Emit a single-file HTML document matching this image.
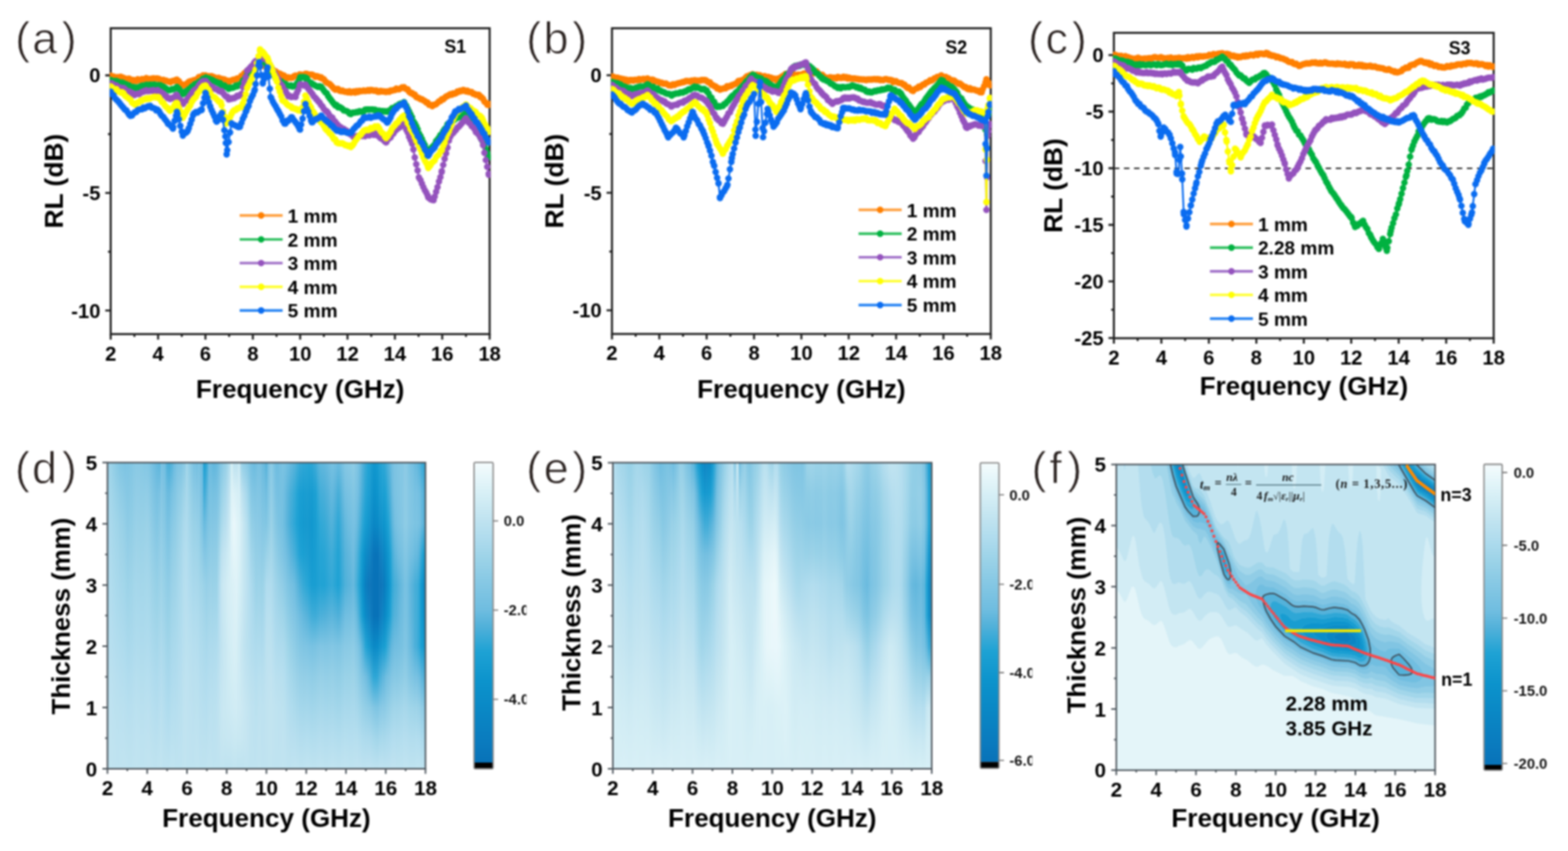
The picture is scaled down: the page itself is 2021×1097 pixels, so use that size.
<!DOCTYPE html><html><head><meta charset="utf-8"><title>RL figure</title><style>html,body{margin:0;padding:0;background:#fff;width:2021px;height:1097px;overflow:hidden}svg{display:block}text{font-family:"Liberation Sans",Arial,sans-serif}</style></head><body><div style="filter:blur(1px)"><svg width="2021" height="1097" viewBox="0 0 2021 1097"><rect width="2021" height="1097" fill="#fff"/><defs><linearGradient id="d0" x2="0" y1="1"><stop offset=".00" stop-color="#bfe3f0"/><stop offset=".10" stop-color="#bee2f0"/><stop offset=".20" stop-color="#bde2f0"/><stop offset=".30" stop-color="#bae1ef"/><stop offset=".40" stop-color="#b7dfef"/><stop offset=".50" stop-color="#b4deee"/><stop offset=".60" stop-color="#b1dcee"/><stop offset=".70" stop-color="#aedbed"/><stop offset=".80" stop-color="#abdaec"/><stop offset=".90" stop-color="#a6d8eb"/><stop offset="1.00" stop-color="#a2d6ea"/></linearGradient><linearGradient id="d1" x2="0" y1="1"><stop offset=".00" stop-color="#bfe3f0"/><stop offset=".10" stop-color="#bee2f0"/><stop offset=".20" stop-color="#bde2f0"/><stop offset=".30" stop-color="#b9e0ef"/><stop offset=".40" stop-color="#b5deef"/><stop offset=".50" stop-color="#b2ddee"/><stop offset=".60" stop-color="#afdcee"/><stop offset=".70" stop-color="#acdaed"/><stop offset=".80" stop-color="#a8d8ec"/><stop offset=".90" stop-color="#a2d6ea"/><stop offset="1.00" stop-color="#9bd2e8"/></linearGradient><linearGradient id="d2" x2="0" y1="1"><stop offset=".00" stop-color="#bfe3f0"/><stop offset=".10" stop-color="#bee2f0"/><stop offset=".20" stop-color="#bce1f0"/><stop offset=".30" stop-color="#b9e0ef"/><stop offset=".40" stop-color="#b4deef"/><stop offset=".50" stop-color="#b1dcee"/><stop offset=".60" stop-color="#addbed"/><stop offset=".70" stop-color="#a9d9ec"/><stop offset=".80" stop-color="#a5d7eb"/><stop offset=".90" stop-color="#9ed4e9"/><stop offset="1.00" stop-color="#94cfe7"/></linearGradient><linearGradient id="d3" x2="0" y1="1"><stop offset=".00" stop-color="#bfe3f0"/><stop offset=".10" stop-color="#bee2f0"/><stop offset=".20" stop-color="#bbe1ef"/><stop offset=".30" stop-color="#b8dfef"/><stop offset=".40" stop-color="#b3ddee"/><stop offset=".50" stop-color="#afdcee"/><stop offset=".60" stop-color="#abdaec"/><stop offset=".70" stop-color="#a7d8eb"/><stop offset=".80" stop-color="#a2d6ea"/><stop offset=".90" stop-color="#9ad2e8"/><stop offset="1.00" stop-color="#8ecce5"/></linearGradient><linearGradient id="d4" x2="0" y1="1"><stop offset=".00" stop-color="#bfe3f0"/><stop offset=".10" stop-color="#bde2f0"/><stop offset=".20" stop-color="#bbe1ef"/><stop offset=".30" stop-color="#b7dfef"/><stop offset=".40" stop-color="#b2ddee"/><stop offset=".50" stop-color="#addbed"/><stop offset=".60" stop-color="#a9d9ec"/><stop offset=".70" stop-color="#a5d7eb"/><stop offset=".80" stop-color="#a0d5e9"/><stop offset=".90" stop-color="#96d0e7"/><stop offset="1.00" stop-color="#88c9e4"/></linearGradient><linearGradient id="d5" x2="0" y1="1"><stop offset=".00" stop-color="#bfe3f0"/><stop offset=".10" stop-color="#bde2f0"/><stop offset=".20" stop-color="#bae0ef"/><stop offset=".30" stop-color="#b5deef"/><stop offset=".40" stop-color="#b0dcee"/><stop offset=".50" stop-color="#abdaec"/><stop offset=".60" stop-color="#a6d7eb"/><stop offset=".70" stop-color="#a1d5e9"/><stop offset=".80" stop-color="#9bd2e8"/><stop offset=".90" stop-color="#91cde6"/><stop offset="1.00" stop-color="#82c6e3"/></linearGradient><linearGradient id="d6" x2="0" y1="1"><stop offset=".00" stop-color="#bfe3f0"/><stop offset=".10" stop-color="#bce1f0"/><stop offset=".20" stop-color="#b8e0ef"/><stop offset=".30" stop-color="#b3ddee"/><stop offset=".40" stop-color="#addbed"/><stop offset=".50" stop-color="#a8d8ec"/><stop offset=".60" stop-color="#a2d6ea"/><stop offset=".70" stop-color="#9dd3e8"/><stop offset=".80" stop-color="#96d0e7"/><stop offset=".90" stop-color="#8bcbe5"/><stop offset="1.00" stop-color="#7dc4e2"/></linearGradient><linearGradient id="d7" x2="0" y1="1"><stop offset=".00" stop-color="#bfe3f0"/><stop offset=".10" stop-color="#bbe1ef"/><stop offset=".20" stop-color="#b7dfef"/><stop offset=".30" stop-color="#b1ddee"/><stop offset=".40" stop-color="#abdaed"/><stop offset=".50" stop-color="#a5d7eb"/><stop offset=".60" stop-color="#9fd5e9"/><stop offset=".70" stop-color="#99d1e7"/><stop offset=".80" stop-color="#91cee6"/><stop offset=".90" stop-color="#87c8e4"/><stop offset="1.00" stop-color="#7ac2e2"/></linearGradient><linearGradient id="d8" x2="0" y1="1"><stop offset=".00" stop-color="#bfe3f0"/><stop offset=".10" stop-color="#bbe1ef"/><stop offset=".20" stop-color="#b6dfef"/><stop offset=".30" stop-color="#b0dcee"/><stop offset=".40" stop-color="#a9d9ec"/><stop offset=".50" stop-color="#a3d6ea"/><stop offset=".60" stop-color="#9cd3e8"/><stop offset=".70" stop-color="#95cfe7"/><stop offset=".80" stop-color="#8dcbe5"/><stop offset=".90" stop-color="#85c8e4"/><stop offset="1.00" stop-color="#7ec4e3"/></linearGradient><linearGradient id="d9" x2="0" y1="1"><stop offset=".00" stop-color="#bfe3f0"/><stop offset=".10" stop-color="#bbe1ef"/><stop offset=".20" stop-color="#b7dfef"/><stop offset=".30" stop-color="#b1dcee"/><stop offset=".40" stop-color="#aad9ec"/><stop offset=".50" stop-color="#a4d7ea"/><stop offset=".60" stop-color="#9ed4e9"/><stop offset=".70" stop-color="#97d0e7"/><stop offset=".80" stop-color="#8fcde6"/><stop offset=".90" stop-color="#88c9e4"/><stop offset="1.00" stop-color="#81c6e3"/></linearGradient><linearGradient id="d10" x2="0" y1="1"><stop offset=".00" stop-color="#bfe3f0"/><stop offset=".10" stop-color="#bce1ef"/><stop offset=".20" stop-color="#b8dfef"/><stop offset=".30" stop-color="#b2ddee"/><stop offset=".40" stop-color="#abdaed"/><stop offset=".50" stop-color="#a6d7eb"/><stop offset=".60" stop-color="#a0d5e9"/><stop offset=".70" stop-color="#99d1e7"/><stop offset=".80" stop-color="#91cee6"/><stop offset=".90" stop-color="#8acae5"/><stop offset="1.00" stop-color="#84c7e4"/></linearGradient><linearGradient id="d11" x2="0" y1="1"><stop offset=".00" stop-color="#bfe3f0"/><stop offset=".10" stop-color="#bce1f0"/><stop offset=".20" stop-color="#b8e0ef"/><stop offset=".30" stop-color="#b3ddee"/><stop offset=".40" stop-color="#acdaed"/><stop offset=".50" stop-color="#a7d8eb"/><stop offset=".60" stop-color="#a2d6ea"/><stop offset=".70" stop-color="#9bd2e8"/><stop offset=".80" stop-color="#94cfe7"/><stop offset=".90" stop-color="#8dcbe5"/><stop offset="1.00" stop-color="#85c8e4"/></linearGradient><linearGradient id="d12" x2="0" y1="1"><stop offset=".00" stop-color="#bfe3f0"/><stop offset=".10" stop-color="#bde2f0"/><stop offset=".20" stop-color="#b9e0ef"/><stop offset=".30" stop-color="#b4deee"/><stop offset=".40" stop-color="#addbed"/><stop offset=".50" stop-color="#a8d9ec"/><stop offset=".60" stop-color="#a3d6ea"/><stop offset=".70" stop-color="#9dd3e8"/><stop offset=".80" stop-color="#96d0e7"/><stop offset=".90" stop-color="#8fcce6"/><stop offset="1.00" stop-color="#87c8e4"/></linearGradient><linearGradient id="d13" x2="0" y1="1"><stop offset=".00" stop-color="#bfe3f0"/><stop offset=".10" stop-color="#bde2f0"/><stop offset=".20" stop-color="#b9e0ef"/><stop offset=".30" stop-color="#b4deee"/><stop offset=".40" stop-color="#aedbed"/><stop offset=".50" stop-color="#a9d9ec"/><stop offset=".60" stop-color="#a4d6ea"/><stop offset=".70" stop-color="#9dd4e8"/><stop offset=".80" stop-color="#97d0e7"/><stop offset=".90" stop-color="#90cde6"/><stop offset="1.00" stop-color="#89c9e4"/></linearGradient><linearGradient id="d14" x2="0" y1="1"><stop offset=".00" stop-color="#bfe3f0"/><stop offset=".10" stop-color="#bde2f0"/><stop offset=".20" stop-color="#b9e0ef"/><stop offset=".30" stop-color="#b4deee"/><stop offset=".40" stop-color="#aedbed"/><stop offset=".50" stop-color="#a9d9ec"/><stop offset=".60" stop-color="#a4d7ea"/><stop offset=".70" stop-color="#9ed4e9"/><stop offset=".80" stop-color="#98d1e7"/><stop offset=".90" stop-color="#90cde6"/><stop offset="1.00" stop-color="#87c9e4"/></linearGradient><linearGradient id="d15" x2="0" y1="1"><stop offset=".00" stop-color="#bfe3f0"/><stop offset=".10" stop-color="#bde2f0"/><stop offset=".20" stop-color="#b9e0ef"/><stop offset=".30" stop-color="#b4deee"/><stop offset=".40" stop-color="#aedbed"/><stop offset=".50" stop-color="#a9d9ec"/><stop offset=".60" stop-color="#a4d7ea"/><stop offset=".70" stop-color="#9fd4e9"/><stop offset=".80" stop-color="#98d1e7"/><stop offset=".90" stop-color="#8fcde6"/><stop offset="1.00" stop-color="#84c7e4"/></linearGradient><linearGradient id="d16" x2="0" y1="1"><stop offset=".00" stop-color="#bfe3f0"/><stop offset=".10" stop-color="#bde1f0"/><stop offset=".20" stop-color="#b9e0ef"/><stop offset=".30" stop-color="#b4deef"/><stop offset=".40" stop-color="#aedbed"/><stop offset=".50" stop-color="#a9d9ec"/><stop offset=".60" stop-color="#a4d7ea"/><stop offset=".70" stop-color="#9fd4e9"/><stop offset=".80" stop-color="#99d1e7"/><stop offset=".90" stop-color="#8fcce6"/><stop offset="1.00" stop-color="#81c6e3"/></linearGradient><linearGradient id="d17" x2="0" y1="1"><stop offset=".00" stop-color="#bfe3f0"/><stop offset=".10" stop-color="#bce1ef"/><stop offset=".20" stop-color="#b8dfef"/><stop offset=".30" stop-color="#b2ddee"/><stop offset=".40" stop-color="#acdaed"/><stop offset=".50" stop-color="#a6d8eb"/><stop offset=".60" stop-color="#a1d5e9"/><stop offset=".70" stop-color="#9ad2e8"/><stop offset=".80" stop-color="#93cee6"/><stop offset=".90" stop-color="#88c9e4"/><stop offset="1.00" stop-color="#7bc3e2"/></linearGradient><linearGradient id="d18" x2="0" y1="1"><stop offset=".00" stop-color="#bfe3f0"/><stop offset=".10" stop-color="#bbe1ef"/><stop offset=".20" stop-color="#b6dfef"/><stop offset=".30" stop-color="#b1dcee"/><stop offset=".40" stop-color="#aad9ec"/><stop offset=".50" stop-color="#a3d6ea"/><stop offset=".60" stop-color="#9dd3e8"/><stop offset=".70" stop-color="#95d0e7"/><stop offset=".80" stop-color="#8dcbe5"/><stop offset=".90" stop-color="#82c6e3"/><stop offset="1.00" stop-color="#75c0e1"/></linearGradient><linearGradient id="d19" x2="0" y1="1"><stop offset=".00" stop-color="#bfe3f0"/><stop offset=".10" stop-color="#bae0ef"/><stop offset=".20" stop-color="#b5deef"/><stop offset=".30" stop-color="#afdbee"/><stop offset=".40" stop-color="#a8d8eb"/><stop offset=".50" stop-color="#a1d5e9"/><stop offset=".60" stop-color="#99d2e7"/><stop offset=".70" stop-color="#91cde6"/><stop offset=".80" stop-color="#87c8e4"/><stop offset=".90" stop-color="#7cc3e2"/><stop offset="1.00" stop-color="#6ebce0"/></linearGradient><linearGradient id="d20" x2="0" y1="1"><stop offset=".00" stop-color="#bfe3f0"/><stop offset=".10" stop-color="#b9e0ef"/><stop offset=".20" stop-color="#b3ddee"/><stop offset=".30" stop-color="#addbed"/><stop offset=".40" stop-color="#a5d7eb"/><stop offset=".50" stop-color="#9ed4e8"/><stop offset=".60" stop-color="#95d0e7"/><stop offset=".70" stop-color="#8ccbe5"/><stop offset=".80" stop-color="#81c6e3"/><stop offset=".90" stop-color="#76c0e1"/><stop offset="1.00" stop-color="#63b8dd"/></linearGradient><linearGradient id="d21" x2="0" y1="1"><stop offset=".00" stop-color="#bfe3f0"/><stop offset=".10" stop-color="#bae1ef"/><stop offset=".20" stop-color="#b5deef"/><stop offset=".30" stop-color="#afdbee"/><stop offset=".40" stop-color="#a8d8eb"/><stop offset=".50" stop-color="#a0d5e9"/><stop offset=".60" stop-color="#98d1e7"/><stop offset=".70" stop-color="#90cde6"/><stop offset=".80" stop-color="#86c8e4"/><stop offset=".90" stop-color="#78c1e2"/><stop offset="1.00" stop-color="#59b4db"/></linearGradient><linearGradient id="d22" x2="0" y1="1"><stop offset=".00" stop-color="#bfe3f0"/><stop offset=".10" stop-color="#bbe1ef"/><stop offset=".20" stop-color="#b7dfef"/><stop offset=".30" stop-color="#b1dcee"/><stop offset=".40" stop-color="#aad9ec"/><stop offset=".50" stop-color="#a3d6ea"/><stop offset=".60" stop-color="#9bd3e8"/><stop offset=".70" stop-color="#94cfe7"/><stop offset=".80" stop-color="#8ccbe5"/><stop offset=".90" stop-color="#83c6e3"/><stop offset="1.00" stop-color="#78c1e2"/></linearGradient><linearGradient id="d23" x2="0" y1="1"><stop offset=".00" stop-color="#bfe3f0"/><stop offset=".10" stop-color="#bae0ef"/><stop offset=".20" stop-color="#b4deef"/><stop offset=".30" stop-color="#aedbed"/><stop offset=".40" stop-color="#a7d8eb"/><stop offset=".50" stop-color="#9fd4e9"/><stop offset=".60" stop-color="#97d1e7"/><stop offset=".70" stop-color="#8fcde6"/><stop offset=".80" stop-color="#86c8e4"/><stop offset=".90" stop-color="#7dc4e2"/><stop offset="1.00" stop-color="#73bfe1"/></linearGradient><linearGradient id="d24" x2="0" y1="1"><stop offset=".00" stop-color="#bfe3f0"/><stop offset=".10" stop-color="#b7dfef"/><stop offset=".20" stop-color="#afdcee"/><stop offset=".30" stop-color="#a8d8ec"/><stop offset=".40" stop-color="#a0d5e9"/><stop offset=".50" stop-color="#98d1e7"/><stop offset=".60" stop-color="#90cde6"/><stop offset=".70" stop-color="#85c8e4"/><stop offset=".80" stop-color="#7ac2e2"/><stop offset=".90" stop-color="#6dbcdf"/><stop offset="1.00" stop-color="#50b0d9"/></linearGradient><linearGradient id="d25" x2="0" y1="1"><stop offset=".00" stop-color="#bfe3f0"/><stop offset=".10" stop-color="#b7dfef"/><stop offset=".20" stop-color="#afdcee"/><stop offset=".30" stop-color="#a8d8ec"/><stop offset=".40" stop-color="#a1d5e9"/><stop offset=".50" stop-color="#99d2e7"/><stop offset=".60" stop-color="#91cde6"/><stop offset=".70" stop-color="#86c8e4"/><stop offset=".80" stop-color="#7bc3e2"/><stop offset=".90" stop-color="#6bbbdf"/><stop offset="1.00" stop-color="#46aed8"/></linearGradient><linearGradient id="d26" x2="0" y1="1"><stop offset=".00" stop-color="#bfe3f0"/><stop offset=".10" stop-color="#b8e0ef"/><stop offset=".20" stop-color="#b2ddee"/><stop offset=".30" stop-color="#abdaed"/><stop offset=".40" stop-color="#a5d7eb"/><stop offset=".50" stop-color="#9ed4e9"/><stop offset=".60" stop-color="#97d0e7"/><stop offset=".70" stop-color="#8ecce5"/><stop offset=".80" stop-color="#83c7e4"/><stop offset=".90" stop-color="#74c0e1"/><stop offset="1.00" stop-color="#52b1da"/></linearGradient><linearGradient id="d27" x2="0" y1="1"><stop offset=".00" stop-color="#bfe3f0"/><stop offset=".10" stop-color="#b9e0ef"/><stop offset=".20" stop-color="#b4deef"/><stop offset=".30" stop-color="#afdbee"/><stop offset=".40" stop-color="#a9d9ec"/><stop offset=".50" stop-color="#a3d6ea"/><stop offset=".60" stop-color="#9dd3e8"/><stop offset=".70" stop-color="#95d0e7"/><stop offset=".80" stop-color="#8ccbe5"/><stop offset=".90" stop-color="#7fc5e3"/><stop offset="1.00" stop-color="#6dbce0"/></linearGradient><linearGradient id="d28" x2="0" y1="1"><stop offset=".00" stop-color="#bfe3f0"/><stop offset=".10" stop-color="#bbe1ef"/><stop offset=".20" stop-color="#b7dfef"/><stop offset=".30" stop-color="#b2ddee"/><stop offset=".40" stop-color="#addbed"/><stop offset=".50" stop-color="#a8d9ec"/><stop offset=".60" stop-color="#a3d6ea"/><stop offset=".70" stop-color="#9dd3e8"/><stop offset=".80" stop-color="#95cfe7"/><stop offset=".90" stop-color="#8acae5"/><stop offset="1.00" stop-color="#7cc3e2"/></linearGradient><linearGradient id="d29" x2="0" y1="1"><stop offset=".00" stop-color="#bfe3f0"/><stop offset=".10" stop-color="#bce1f0"/><stop offset=".20" stop-color="#b9e0ef"/><stop offset=".30" stop-color="#b5deef"/><stop offset=".40" stop-color="#b1dcee"/><stop offset=".50" stop-color="#addbed"/><stop offset=".60" stop-color="#a9d9ec"/><stop offset=".70" stop-color="#a3d6ea"/><stop offset=".80" stop-color="#9cd3e8"/><stop offset=".90" stop-color="#90cde6"/><stop offset="1.00" stop-color="#7ec4e3"/></linearGradient><linearGradient id="d30" x2="0" y1="1"><stop offset=".00" stop-color="#bfe3f0"/><stop offset=".10" stop-color="#bde2f0"/><stop offset=".20" stop-color="#bbe1ef"/><stop offset=".30" stop-color="#b8dfef"/><stop offset=".40" stop-color="#b4deef"/><stop offset=".50" stop-color="#b1ddee"/><stop offset=".60" stop-color="#aedbed"/><stop offset=".70" stop-color="#aad9ec"/><stop offset=".80" stop-color="#a3d6ea"/><stop offset=".90" stop-color="#95d0e7"/><stop offset="1.00" stop-color="#81c6e3"/></linearGradient><linearGradient id="d31" x2="0" y1="1"><stop offset=".00" stop-color="#bfe3f0"/><stop offset=".10" stop-color="#bfe2f0"/><stop offset=".20" stop-color="#bee2f0"/><stop offset=".30" stop-color="#bbe1ef"/><stop offset=".40" stop-color="#b7dfef"/><stop offset=".50" stop-color="#b6deef"/><stop offset=".60" stop-color="#b4deee"/><stop offset=".70" stop-color="#b0dcee"/><stop offset=".80" stop-color="#aad9ec"/><stop offset=".90" stop-color="#9dd3e8"/><stop offset="1.00" stop-color="#88c9e4"/></linearGradient><linearGradient id="d32" x2="0" y1="1"><stop offset=".00" stop-color="#bfe3f0"/><stop offset=".10" stop-color="#bfe3f0"/><stop offset=".20" stop-color="#bfe2f0"/><stop offset=".30" stop-color="#bde2f0"/><stop offset=".40" stop-color="#bae1ef"/><stop offset=".50" stop-color="#b8dfef"/><stop offset=".60" stop-color="#b5deef"/><stop offset=".70" stop-color="#b2ddee"/><stop offset=".80" stop-color="#aedbed"/><stop offset=".90" stop-color="#a8d8eb"/><stop offset="1.00" stop-color="#a0d5e9"/></linearGradient><linearGradient id="d33" x2="0" y1="1"><stop offset=".00" stop-color="#bfe3f0"/><stop offset=".10" stop-color="#bfe2f0"/><stop offset=".20" stop-color="#bee2f0"/><stop offset=".30" stop-color="#bce1ef"/><stop offset=".40" stop-color="#b9e0ef"/><stop offset=".50" stop-color="#b5deef"/><stop offset=".60" stop-color="#b0dcee"/><stop offset=".70" stop-color="#abdaed"/><stop offset=".80" stop-color="#a5d7eb"/><stop offset=".90" stop-color="#9cd3e8"/><stop offset="1.00" stop-color="#91cee6"/></linearGradient><linearGradient id="d34" x2="0" y1="1"><stop offset=".00" stop-color="#bfe3f0"/><stop offset=".10" stop-color="#bee2f0"/><stop offset=".20" stop-color="#bde1f0"/><stop offset=".30" stop-color="#bae0ef"/><stop offset=".40" stop-color="#b7dfef"/><stop offset=".50" stop-color="#b2ddee"/><stop offset=".60" stop-color="#abdaed"/><stop offset=".70" stop-color="#a5d7eb"/><stop offset=".80" stop-color="#9dd3e8"/><stop offset=".90" stop-color="#92cee6"/><stop offset="1.00" stop-color="#84c7e4"/></linearGradient><linearGradient id="d35" x2="0" y1="1"><stop offset=".00" stop-color="#bfe3f0"/><stop offset=".10" stop-color="#bee2f0"/><stop offset=".20" stop-color="#bbe1ef"/><stop offset=".30" stop-color="#b9e0ef"/><stop offset=".40" stop-color="#b5deef"/><stop offset=".50" stop-color="#afdcee"/><stop offset=".60" stop-color="#a8d8ec"/><stop offset=".70" stop-color="#a1d5e9"/><stop offset=".80" stop-color="#98d1e7"/><stop offset=".90" stop-color="#8acae5"/><stop offset="1.00" stop-color="#78c1e2"/></linearGradient><linearGradient id="d36" x2="0" y1="1"><stop offset=".00" stop-color="#bfe3f0"/><stop offset=".10" stop-color="#bde2f0"/><stop offset=".20" stop-color="#bae1ef"/><stop offset=".30" stop-color="#b7dfef"/><stop offset=".40" stop-color="#b3ddee"/><stop offset=".50" stop-color="#addbed"/><stop offset=".60" stop-color="#a6d7eb"/><stop offset=".70" stop-color="#9ed4e9"/><stop offset=".80" stop-color="#94cfe7"/><stop offset=".90" stop-color="#85c7e4"/><stop offset="1.00" stop-color="#71bee0"/></linearGradient><linearGradient id="d37" x2="0" y1="1"><stop offset=".00" stop-color="#bfe3f0"/><stop offset=".10" stop-color="#bce1f0"/><stop offset=".20" stop-color="#b9e0ef"/><stop offset=".30" stop-color="#b5deef"/><stop offset=".40" stop-color="#b0dcee"/><stop offset=".50" stop-color="#abdaec"/><stop offset=".60" stop-color="#a3d6ea"/><stop offset=".70" stop-color="#9ad2e8"/><stop offset=".80" stop-color="#90cde6"/><stop offset=".90" stop-color="#85c7e4"/><stop offset="1.00" stop-color="#79c2e2"/></linearGradient><linearGradient id="d38" x2="0" y1="1"><stop offset=".00" stop-color="#bfe3f0"/><stop offset=".10" stop-color="#bce1ef"/><stop offset=".20" stop-color="#b8dfef"/><stop offset=".30" stop-color="#b3ddee"/><stop offset=".40" stop-color="#aedbed"/><stop offset=".50" stop-color="#a8d8eb"/><stop offset=".60" stop-color="#a0d5e9"/><stop offset=".70" stop-color="#90cde6"/><stop offset=".80" stop-color="#7fc5e3"/><stop offset=".90" stop-color="#76c0e1"/><stop offset="1.00" stop-color="#6fbde0"/></linearGradient><linearGradient id="d39" x2="0" y1="1"><stop offset=".00" stop-color="#bfe3f0"/><stop offset=".10" stop-color="#bbe1ef"/><stop offset=".20" stop-color="#b6dfef"/><stop offset=".30" stop-color="#b1dcee"/><stop offset=".40" stop-color="#abdaec"/><stop offset=".50" stop-color="#a4d6ea"/><stop offset=".60" stop-color="#9ad2e8"/><stop offset=".70" stop-color="#85c7e4"/><stop offset=".80" stop-color="#69bbdf"/><stop offset=".90" stop-color="#3dabd7"/><stop offset="1.00" stop-color="#1a9ed2"/></linearGradient><linearGradient id="d40" x2="0" y1="1"><stop offset=".00" stop-color="#bfe3f0"/><stop offset=".10" stop-color="#bae0ef"/><stop offset=".20" stop-color="#b5deef"/><stop offset=".30" stop-color="#afdcee"/><stop offset=".40" stop-color="#a8d8ec"/><stop offset=".50" stop-color="#9fd4e9"/><stop offset=".60" stop-color="#95cfe7"/><stop offset=".70" stop-color="#85c8e4"/><stop offset=".80" stop-color="#75c0e1"/><stop offset=".90" stop-color="#5ab4db"/><stop offset="1.00" stop-color="#34a8d6"/></linearGradient><linearGradient id="d41" x2="0" y1="1"><stop offset=".00" stop-color="#bfe3f0"/><stop offset=".10" stop-color="#bbe1ef"/><stop offset=".20" stop-color="#b7dfef"/><stop offset=".30" stop-color="#b1dcee"/><stop offset=".40" stop-color="#aad9ec"/><stop offset=".50" stop-color="#a1d5e9"/><stop offset=".60" stop-color="#97d0e7"/><stop offset=".70" stop-color="#89cae5"/><stop offset=".80" stop-color="#7dc4e2"/><stop offset=".90" stop-color="#73bfe1"/><stop offset="1.00" stop-color="#69badf"/></linearGradient><linearGradient id="d42" x2="0" y1="1"><stop offset=".00" stop-color="#bfe3f0"/><stop offset=".10" stop-color="#bce1f0"/><stop offset=".20" stop-color="#b9e0ef"/><stop offset=".30" stop-color="#b3ddee"/><stop offset=".40" stop-color="#acdaed"/><stop offset=".50" stop-color="#a3d6ea"/><stop offset=".60" stop-color="#99d1e7"/><stop offset=".70" stop-color="#8ecce5"/><stop offset=".80" stop-color="#82c6e3"/><stop offset=".90" stop-color="#76c1e1"/><stop offset="1.00" stop-color="#65b9de"/></linearGradient><linearGradient id="d43" x2="0" y1="1"><stop offset=".00" stop-color="#bfe3f0"/><stop offset=".10" stop-color="#bde2f0"/><stop offset=".20" stop-color="#bae1ef"/><stop offset=".30" stop-color="#b5deef"/><stop offset=".40" stop-color="#aedbed"/><stop offset=".50" stop-color="#a5d7eb"/><stop offset=".60" stop-color="#9ad2e8"/><stop offset=".70" stop-color="#90cde6"/><stop offset=".80" stop-color="#85c7e4"/><stop offset=".90" stop-color="#77c1e1"/><stop offset="1.00" stop-color="#61b7dd"/></linearGradient><linearGradient id="d44" x2="0" y1="1"><stop offset=".00" stop-color="#bfe3f0"/><stop offset=".10" stop-color="#bee2f0"/><stop offset=".20" stop-color="#bce1f0"/><stop offset=".30" stop-color="#b7dfef"/><stop offset=".40" stop-color="#b0dcee"/><stop offset=".50" stop-color="#a6d8eb"/><stop offset=".60" stop-color="#9cd3e8"/><stop offset=".70" stop-color="#92cee6"/><stop offset=".80" stop-color="#87c8e4"/><stop offset=".90" stop-color="#7ac2e2"/><stop offset="1.00" stop-color="#68bade"/></linearGradient><linearGradient id="d45" x2="0" y1="1"><stop offset=".00" stop-color="#bfe3f0"/><stop offset=".10" stop-color="#c1e3f0"/><stop offset=".20" stop-color="#c1e4f0"/><stop offset=".30" stop-color="#bee2f0"/><stop offset=".40" stop-color="#b8dfef"/><stop offset=".50" stop-color="#b5deef"/><stop offset=".60" stop-color="#b1dcee"/><stop offset=".70" stop-color="#a4d7ea"/><stop offset=".80" stop-color="#94cfe6"/><stop offset=".90" stop-color="#85c8e4"/><stop offset="1.00" stop-color="#77c1e1"/></linearGradient><linearGradient id="d46" x2="0" y1="1"><stop offset=".00" stop-color="#bfe3f0"/><stop offset=".10" stop-color="#c4e5f1"/><stop offset=".20" stop-color="#c6e6f2"/><stop offset=".30" stop-color="#c3e5f1"/><stop offset=".40" stop-color="#c0e3f0"/><stop offset=".50" stop-color="#c2e4f1"/><stop offset=".60" stop-color="#c4e5f1"/><stop offset=".70" stop-color="#bae0ef"/><stop offset=".80" stop-color="#a7d8eb"/><stop offset=".90" stop-color="#95d0e7"/><stop offset="1.00" stop-color="#83c7e4"/></linearGradient><linearGradient id="d47" x2="0" y1="1"><stop offset=".00" stop-color="#bfe3f0"/><stop offset=".10" stop-color="#c6e6f1"/><stop offset=".20" stop-color="#c9e8f2"/><stop offset=".30" stop-color="#c8e7f2"/><stop offset=".40" stop-color="#c7e7f2"/><stop offset=".50" stop-color="#c9e8f2"/><stop offset=".60" stop-color="#cce9f3"/><stop offset=".70" stop-color="#c3e4f1"/><stop offset=".80" stop-color="#b3ddee"/><stop offset=".90" stop-color="#a2d6ea"/><stop offset="1.00" stop-color="#90cde6"/></linearGradient><linearGradient id="d48" x2="0" y1="1"><stop offset=".00" stop-color="#bfe3f0"/><stop offset=".10" stop-color="#c7e7f2"/><stop offset=".20" stop-color="#cbe9f3"/><stop offset=".30" stop-color="#cceaf3"/><stop offset=".40" stop-color="#cdeaf3"/><stop offset=".50" stop-color="#d0ecf4"/><stop offset=".60" stop-color="#d2ecf4"/><stop offset=".70" stop-color="#cae9f3"/><stop offset=".80" stop-color="#bde1f0"/><stop offset=".90" stop-color="#afdbee"/><stop offset="1.00" stop-color="#9dd3e8"/></linearGradient><linearGradient id="d49" x2="0" y1="1"><stop offset=".00" stop-color="#bfe3f0"/><stop offset=".10" stop-color="#c8e7f2"/><stop offset=".20" stop-color="#cdeaf3"/><stop offset=".30" stop-color="#d0ecf4"/><stop offset=".40" stop-color="#d2edf5"/><stop offset=".50" stop-color="#d5eef5"/><stop offset=".60" stop-color="#d6eff6"/><stop offset=".70" stop-color="#d2edf5"/><stop offset=".80" stop-color="#cbe9f3"/><stop offset=".90" stop-color="#c0e3f0"/><stop offset="1.00" stop-color="#b1ddee"/></linearGradient><linearGradient id="d50" x2="0" y1="1"><stop offset=".00" stop-color="#bfe3f0"/><stop offset=".10" stop-color="#c8e7f2"/><stop offset=".20" stop-color="#ceebf4"/><stop offset=".30" stop-color="#d2edf4"/><stop offset=".40" stop-color="#d4eef5"/><stop offset=".50" stop-color="#d6eff6"/><stop offset=".60" stop-color="#d9f0f6"/><stop offset=".70" stop-color="#def2f8"/><stop offset=".80" stop-color="#e1f4f9"/><stop offset=".90" stop-color="#ddf2f7"/><stop offset="1.00" stop-color="#d2edf4"/></linearGradient><linearGradient id="d51" x2="0" y1="1"><stop offset=".00" stop-color="#bfe3f0"/><stop offset=".10" stop-color="#c8e8f2"/><stop offset=".20" stop-color="#cfebf4"/><stop offset=".30" stop-color="#d3eef5"/><stop offset=".40" stop-color="#d7eff6"/><stop offset=".50" stop-color="#d9f0f6"/><stop offset=".60" stop-color="#dbf1f7"/><stop offset=".70" stop-color="#e3f5f9"/><stop offset=".80" stop-color="#e9f7fb"/><stop offset=".90" stop-color="#dbf1f7"/><stop offset="1.00" stop-color="#bce1ef"/></linearGradient><linearGradient id="d52" x2="0" y1="1"><stop offset=".00" stop-color="#bfe3f0"/><stop offset=".10" stop-color="#c9e8f2"/><stop offset=".20" stop-color="#d0ecf4"/><stop offset=".30" stop-color="#d3edf5"/><stop offset=".40" stop-color="#d6eff5"/><stop offset=".50" stop-color="#daf1f7"/><stop offset=".60" stop-color="#def2f8"/><stop offset=".70" stop-color="#e1f4f9"/><stop offset=".80" stop-color="#e2f4f9"/><stop offset=".90" stop-color="#d6eff6"/><stop offset="1.00" stop-color="#bce1ef"/></linearGradient><linearGradient id="d53" x2="0" y1="1"><stop offset=".00" stop-color="#bfe3f0"/><stop offset=".10" stop-color="#c9e8f2"/><stop offset=".20" stop-color="#ceeaf3"/><stop offset=".30" stop-color="#ceebf4"/><stop offset=".40" stop-color="#cfebf4"/><stop offset=".50" stop-color="#d2edf5"/><stop offset=".60" stop-color="#d7f0f6"/><stop offset=".70" stop-color="#dbf1f7"/><stop offset=".80" stop-color="#dcf2f7"/><stop offset=".90" stop-color="#d7eff6"/><stop offset="1.00" stop-color="#cbe9f3"/></linearGradient><linearGradient id="d54" x2="0" y1="1"><stop offset=".00" stop-color="#bfe3f0"/><stop offset=".10" stop-color="#c8e7f2"/><stop offset=".20" stop-color="#cce9f3"/><stop offset=".30" stop-color="#c9e8f2"/><stop offset=".40" stop-color="#c7e7f2"/><stop offset=".50" stop-color="#cbe9f3"/><stop offset=".60" stop-color="#ceebf4"/><stop offset=".70" stop-color="#cfebf4"/><stop offset=".80" stop-color="#d0ebf4"/><stop offset=".90" stop-color="#c0e3f0"/><stop offset="1.00" stop-color="#9bd2e8"/></linearGradient><linearGradient id="d55" x2="0" y1="1"><stop offset=".00" stop-color="#bfe3f0"/><stop offset=".10" stop-color="#c6e6f1"/><stop offset=".20" stop-color="#c8e7f2"/><stop offset=".30" stop-color="#c4e5f1"/><stop offset=".40" stop-color="#c0e3f0"/><stop offset=".50" stop-color="#c3e4f1"/><stop offset=".60" stop-color="#c5e6f1"/><stop offset=".70" stop-color="#c5e6f1"/><stop offset=".80" stop-color="#c3e5f1"/><stop offset=".90" stop-color="#b3ddee"/><stop offset="1.00" stop-color="#8fcde6"/></linearGradient><linearGradient id="d56" x2="0" y1="1"><stop offset=".00" stop-color="#bfe3f0"/><stop offset=".10" stop-color="#c3e4f1"/><stop offset=".20" stop-color="#c3e5f1"/><stop offset=".30" stop-color="#bee2f0"/><stop offset=".40" stop-color="#b9e0ef"/><stop offset=".50" stop-color="#bae1ef"/><stop offset=".60" stop-color="#bce1f0"/><stop offset=".70" stop-color="#bae1ef"/><stop offset=".80" stop-color="#b6dfef"/><stop offset=".90" stop-color="#a5d7eb"/><stop offset="1.00" stop-color="#86c8e4"/></linearGradient><linearGradient id="d57" x2="0" y1="1"><stop offset=".00" stop-color="#bfe3f0"/><stop offset=".10" stop-color="#c1e3f0"/><stop offset=".20" stop-color="#c1e4f0"/><stop offset=".30" stop-color="#bce1ef"/><stop offset=".40" stop-color="#b6dfef"/><stop offset=".50" stop-color="#b5deef"/><stop offset=".60" stop-color="#b4deef"/><stop offset=".70" stop-color="#afdcee"/><stop offset=".80" stop-color="#a5d7eb"/><stop offset=".90" stop-color="#94cfe7"/><stop offset="1.00" stop-color="#7dc4e2"/></linearGradient><linearGradient id="d58" x2="0" y1="1"><stop offset=".00" stop-color="#bfe3f0"/><stop offset=".10" stop-color="#bfe3f0"/><stop offset=".20" stop-color="#bfe2f0"/><stop offset=".30" stop-color="#bae0ef"/><stop offset=".40" stop-color="#b3ddee"/><stop offset=".50" stop-color="#b0dcee"/><stop offset=".60" stop-color="#acdaed"/><stop offset=".70" stop-color="#a1d5ea"/><stop offset=".80" stop-color="#93cfe6"/><stop offset=".90" stop-color="#84c7e4"/><stop offset="1.00" stop-color="#73bfe1"/></linearGradient><linearGradient id="d59" x2="0" y1="1"><stop offset=".00" stop-color="#bfe3f0"/><stop offset=".10" stop-color="#bee2f0"/><stop offset=".20" stop-color="#bde2f0"/><stop offset=".30" stop-color="#b8dfef"/><stop offset=".40" stop-color="#b0dcee"/><stop offset=".50" stop-color="#aad9ec"/><stop offset=".60" stop-color="#a3d6ea"/><stop offset=".70" stop-color="#9ad2e8"/><stop offset=".80" stop-color="#8fcce6"/><stop offset=".90" stop-color="#80c5e3"/><stop offset="1.00" stop-color="#6cbcdf"/></linearGradient><linearGradient id="d60" x2="0" y1="1"><stop offset=".00" stop-color="#bfe3f0"/><stop offset=".10" stop-color="#bde2f0"/><stop offset=".20" stop-color="#bae1ef"/><stop offset=".30" stop-color="#b5deef"/><stop offset=".40" stop-color="#aedbed"/><stop offset=".50" stop-color="#a4d7ea"/><stop offset=".60" stop-color="#9ad2e8"/><stop offset=".70" stop-color="#93cee6"/><stop offset=".80" stop-color="#8bcae5"/><stop offset=".90" stop-color="#80c5e3"/><stop offset="1.00" stop-color="#72bee0"/></linearGradient><linearGradient id="d61" x2="0" y1="1"><stop offset=".00" stop-color="#bfe3f0"/><stop offset=".10" stop-color="#bee2f0"/><stop offset=".20" stop-color="#bce1ef"/><stop offset=".30" stop-color="#b6dfef"/><stop offset=".40" stop-color="#addbed"/><stop offset=".50" stop-color="#a4d6ea"/><stop offset=".60" stop-color="#9ad2e8"/><stop offset=".70" stop-color="#90cde6"/><stop offset=".80" stop-color="#87c8e4"/><stop offset=".90" stop-color="#7ec4e3"/><stop offset="1.00" stop-color="#76c0e1"/></linearGradient><linearGradient id="d62" x2="0" y1="1"><stop offset=".00" stop-color="#bfe3f0"/><stop offset=".10" stop-color="#bee2f0"/><stop offset=".20" stop-color="#bde2f0"/><stop offset=".30" stop-color="#b7dfef"/><stop offset=".40" stop-color="#addaed"/><stop offset=".50" stop-color="#a3d6ea"/><stop offset=".60" stop-color="#99d2e7"/><stop offset=".70" stop-color="#8fcce6"/><stop offset=".80" stop-color="#85c7e4"/><stop offset=".90" stop-color="#7bc3e2"/><stop offset="1.00" stop-color="#72bee0"/></linearGradient><linearGradient id="d63" x2="0" y1="1"><stop offset=".00" stop-color="#bfe3f0"/><stop offset=".10" stop-color="#bfe2f0"/><stop offset=".20" stop-color="#bee2f0"/><stop offset=".30" stop-color="#bae0ef"/><stop offset=".40" stop-color="#b2ddee"/><stop offset=".50" stop-color="#aad9ec"/><stop offset=".60" stop-color="#a1d5e9"/><stop offset=".70" stop-color="#92cee6"/><stop offset=".80" stop-color="#83c7e3"/><stop offset=".90" stop-color="#77c1e1"/><stop offset="1.00" stop-color="#67bade"/></linearGradient><linearGradient id="d64" x2="0" y1="1"><stop offset=".00" stop-color="#bfe3f0"/><stop offset=".10" stop-color="#c0e3f0"/><stop offset=".20" stop-color="#c0e3f0"/><stop offset=".30" stop-color="#bee2f0"/><stop offset=".40" stop-color="#bce1ef"/><stop offset=".50" stop-color="#b7dfef"/><stop offset=".60" stop-color="#afdcee"/><stop offset=".70" stop-color="#9ad2e8"/><stop offset=".80" stop-color="#82c6e3"/><stop offset=".90" stop-color="#71bee0"/><stop offset="1.00" stop-color="#57b3da"/></linearGradient><linearGradient id="d65" x2="0" y1="1"><stop offset=".00" stop-color="#bfe3f0"/><stop offset=".10" stop-color="#c0e3f0"/><stop offset=".20" stop-color="#c0e3f0"/><stop offset=".30" stop-color="#bfe2f0"/><stop offset=".40" stop-color="#bbe1ef"/><stop offset=".50" stop-color="#b7dfef"/><stop offset=".60" stop-color="#afdbee"/><stop offset=".70" stop-color="#9ed4e8"/><stop offset=".80" stop-color="#8bcbe5"/><stop offset=".90" stop-color="#81c6e3"/><stop offset="1.00" stop-color="#7ac2e2"/></linearGradient><linearGradient id="d66" x2="0" y1="1"><stop offset=".00" stop-color="#bfe3f0"/><stop offset=".10" stop-color="#c1e3f0"/><stop offset=".20" stop-color="#c1e4f0"/><stop offset=".30" stop-color="#bfe2f0"/><stop offset=".40" stop-color="#bae0ef"/><stop offset=".50" stop-color="#b4deef"/><stop offset=".60" stop-color="#addbed"/><stop offset=".70" stop-color="#a3d6ea"/><stop offset=".80" stop-color="#99d1e7"/><stop offset=".90" stop-color="#90cde6"/><stop offset="1.00" stop-color="#89cae5"/></linearGradient><linearGradient id="d67" x2="0" y1="1"><stop offset=".00" stop-color="#bfe3f0"/><stop offset=".10" stop-color="#c0e3f0"/><stop offset=".20" stop-color="#c0e3f0"/><stop offset=".30" stop-color="#bce1f0"/><stop offset=".40" stop-color="#b5deef"/><stop offset=".50" stop-color="#aedbed"/><stop offset=".60" stop-color="#a6d7eb"/><stop offset=".70" stop-color="#9ad2e8"/><stop offset=".80" stop-color="#8dcce5"/><stop offset=".90" stop-color="#84c7e4"/><stop offset="1.00" stop-color="#7bc3e2"/></linearGradient><linearGradient id="d68" x2="0" y1="1"><stop offset=".00" stop-color="#bfe3f0"/><stop offset=".10" stop-color="#bfe3f0"/><stop offset=".20" stop-color="#bfe3f0"/><stop offset=".30" stop-color="#b9e0ef"/><stop offset=".40" stop-color="#b0dcee"/><stop offset=".50" stop-color="#a8d8ec"/><stop offset=".60" stop-color="#9fd4e9"/><stop offset=".70" stop-color="#91cde6"/><stop offset=".80" stop-color="#83c6e3"/><stop offset=".90" stop-color="#78c1e2"/><stop offset="1.00" stop-color="#6ebde0"/></linearGradient><linearGradient id="d69" x2="0" y1="1"><stop offset=".00" stop-color="#bfe3f0"/><stop offset=".10" stop-color="#bee2f0"/><stop offset=".20" stop-color="#bde2f0"/><stop offset=".30" stop-color="#b8dfef"/><stop offset=".40" stop-color="#aedbed"/><stop offset=".50" stop-color="#a4d6ea"/><stop offset=".60" stop-color="#98d1e7"/><stop offset=".70" stop-color="#88c9e4"/><stop offset=".80" stop-color="#7bc3e2"/><stop offset=".90" stop-color="#75c0e1"/><stop offset="1.00" stop-color="#72bee0"/></linearGradient><linearGradient id="d70" x2="0" y1="1"><stop offset=".00" stop-color="#bfe3f0"/><stop offset=".10" stop-color="#bee2f0"/><stop offset=".20" stop-color="#bce1ef"/><stop offset=".30" stop-color="#b6dfef"/><stop offset=".40" stop-color="#acdaed"/><stop offset=".50" stop-color="#9fd5e9"/><stop offset=".60" stop-color="#91cde6"/><stop offset=".70" stop-color="#7fc5e3"/><stop offset=".80" stop-color="#74c0e1"/><stop offset=".90" stop-color="#74c0e1"/><stop offset="1.00" stop-color="#75c0e1"/></linearGradient><linearGradient id="d71" x2="0" y1="1"><stop offset=".00" stop-color="#bfe3f0"/><stop offset=".10" stop-color="#bee2f0"/><stop offset=".20" stop-color="#bae1ef"/><stop offset=".30" stop-color="#b4deef"/><stop offset=".40" stop-color="#aad9ec"/><stop offset=".50" stop-color="#9bd3e8"/><stop offset=".60" stop-color="#8acae5"/><stop offset=".70" stop-color="#78c1e2"/><stop offset=".80" stop-color="#6cbcdf"/><stop offset=".90" stop-color="#6fbde0"/><stop offset="1.00" stop-color="#77c1e1"/></linearGradient><linearGradient id="d72" x2="0" y1="1"><stop offset=".00" stop-color="#bfe3f0"/><stop offset=".10" stop-color="#bce1ef"/><stop offset=".20" stop-color="#b7dfef"/><stop offset=".30" stop-color="#afdcee"/><stop offset=".40" stop-color="#a4d7ea"/><stop offset=".50" stop-color="#94cfe7"/><stop offset=".60" stop-color="#83c7e4"/><stop offset=".70" stop-color="#72bee0"/><stop offset=".80" stop-color="#5eb6dc"/><stop offset=".90" stop-color="#63b8dd"/><stop offset="1.00" stop-color="#73bfe1"/></linearGradient><linearGradient id="d73" x2="0" y1="1"><stop offset=".00" stop-color="#bfe3f0"/><stop offset=".10" stop-color="#bae0ef"/><stop offset=".20" stop-color="#b3ddee"/><stop offset=".30" stop-color="#aad9ec"/><stop offset=".40" stop-color="#9dd4e8"/><stop offset=".50" stop-color="#8dcce5"/><stop offset=".60" stop-color="#7dc4e2"/><stop offset=".70" stop-color="#66b9de"/><stop offset=".80" stop-color="#4fb0d9"/><stop offset=".90" stop-color="#55b2da"/><stop offset="1.00" stop-color="#6dbce0"/></linearGradient><linearGradient id="d74" x2="0" y1="1"><stop offset=".00" stop-color="#bfe3f0"/><stop offset=".10" stop-color="#b8dfef"/><stop offset=".20" stop-color="#afdcee"/><stop offset=".30" stop-color="#a4d7ea"/><stop offset=".40" stop-color="#96d0e7"/><stop offset=".50" stop-color="#86c8e4"/><stop offset=".60" stop-color="#76c0e1"/><stop offset=".70" stop-color="#58b3db"/><stop offset=".80" stop-color="#3eabd8"/><stop offset=".90" stop-color="#46aed8"/><stop offset="1.00" stop-color="#62b7dd"/></linearGradient><linearGradient id="d75" x2="0" y1="1"><stop offset=".00" stop-color="#bfe3f0"/><stop offset=".10" stop-color="#b6deef"/><stop offset=".20" stop-color="#abdaec"/><stop offset=".30" stop-color="#9ed4e9"/><stop offset=".40" stop-color="#8fcde6"/><stop offset=".50" stop-color="#7fc4e3"/><stop offset=".60" stop-color="#6ebde0"/><stop offset=".70" stop-color="#47aed9"/><stop offset=".80" stop-color="#2da6d6"/><stop offset=".90" stop-color="#35a9d7"/><stop offset="1.00" stop-color="#56b2da"/></linearGradient><linearGradient id="d76" x2="0" y1="1"><stop offset=".00" stop-color="#bfe3f0"/><stop offset=".10" stop-color="#b4deee"/><stop offset=".20" stop-color="#a7d8eb"/><stop offset=".30" stop-color="#99d1e7"/><stop offset=".40" stop-color="#88c9e4"/><stop offset=".50" stop-color="#77c1e1"/><stop offset=".60" stop-color="#5fb6dc"/><stop offset=".70" stop-color="#35a9d7"/><stop offset=".80" stop-color="#1da1d4"/><stop offset=".90" stop-color="#24a4d5"/><stop offset="1.00" stop-color="#47aed8"/></linearGradient><linearGradient id="d77" x2="0" y1="1"><stop offset=".00" stop-color="#bfe3f0"/><stop offset=".10" stop-color="#b3ddee"/><stop offset=".20" stop-color="#a6d7eb"/><stop offset=".30" stop-color="#97d0e7"/><stop offset=".40" stop-color="#85c8e4"/><stop offset=".50" stop-color="#72bee0"/><stop offset=".60" stop-color="#51b1da"/><stop offset=".70" stop-color="#26a4d5"/><stop offset=".80" stop-color="#199ed2"/><stop offset=".90" stop-color="#1ca0d3"/><stop offset="1.00" stop-color="#3baad7"/></linearGradient><linearGradient id="d78" x2="0" y1="1"><stop offset=".00" stop-color="#bfe3f0"/><stop offset=".10" stop-color="#b3ddee"/><stop offset=".20" stop-color="#a4d7eb"/><stop offset=".30" stop-color="#95cfe7"/><stop offset=".40" stop-color="#82c6e3"/><stop offset=".50" stop-color="#6abbdf"/><stop offset=".60" stop-color="#43add8"/><stop offset=".70" stop-color="#1da1d4"/><stop offset=".80" stop-color="#169cd1"/><stop offset=".90" stop-color="#1a9ed2"/><stop offset="1.00" stop-color="#34a8d6"/></linearGradient><linearGradient id="d79" x2="0" y1="1"><stop offset=".00" stop-color="#bfe3f0"/><stop offset=".10" stop-color="#b2ddee"/><stop offset=".20" stop-color="#a3d6ea"/><stop offset=".30" stop-color="#93cee6"/><stop offset=".40" stop-color="#7fc4e3"/><stop offset=".50" stop-color="#60b7dd"/><stop offset=".60" stop-color="#35a9d6"/><stop offset=".70" stop-color="#1a9fd2"/><stop offset=".80" stop-color="#1499cf"/><stop offset=".90" stop-color="#179cd1"/><stop offset="1.00" stop-color="#2da6d6"/></linearGradient><linearGradient id="d80" x2="0" y1="1"><stop offset=".00" stop-color="#bfe3f0"/><stop offset=".10" stop-color="#b2ddee"/><stop offset=".20" stop-color="#a2d6ea"/><stop offset=".30" stop-color="#91cde6"/><stop offset=".40" stop-color="#7bc3e2"/><stop offset=".50" stop-color="#56b2da"/><stop offset=".60" stop-color="#27a5d5"/><stop offset=".70" stop-color="#179cd1"/><stop offset=".80" stop-color="#1197ce"/><stop offset=".90" stop-color="#159bd0"/><stop offset="1.00" stop-color="#26a4d5"/></linearGradient><linearGradient id="d81" x2="0" y1="1"><stop offset=".00" stop-color="#bfe3f0"/><stop offset=".10" stop-color="#b1ddee"/><stop offset=".20" stop-color="#a1d5ea"/><stop offset=".30" stop-color="#8fcde6"/><stop offset=".40" stop-color="#78c1e2"/><stop offset=".50" stop-color="#4bafd9"/><stop offset=".60" stop-color="#1da1d4"/><stop offset=".70" stop-color="#1499cf"/><stop offset=".80" stop-color="#0f96cd"/><stop offset=".90" stop-color="#1399cf"/><stop offset="1.00" stop-color="#20a3d4"/></linearGradient><linearGradient id="d82" x2="0" y1="1"><stop offset=".00" stop-color="#bfe3f0"/><stop offset=".10" stop-color="#b1ddee"/><stop offset=".20" stop-color="#a1d5ea"/><stop offset=".30" stop-color="#90cde6"/><stop offset=".40" stop-color="#78c2e2"/><stop offset=".50" stop-color="#42add8"/><stop offset=".60" stop-color="#1a9ed2"/><stop offset=".70" stop-color="#149ad0"/><stop offset=".80" stop-color="#1197ce"/><stop offset=".90" stop-color="#169bd0"/><stop offset="1.00" stop-color="#28a5d5"/></linearGradient><linearGradient id="d83" x2="0" y1="1"><stop offset=".00" stop-color="#bfe3f0"/><stop offset=".10" stop-color="#b2ddee"/><stop offset=".20" stop-color="#a2d6ea"/><stop offset=".30" stop-color="#91cde6"/><stop offset=".40" stop-color="#79c2e2"/><stop offset=".50" stop-color="#3facd8"/><stop offset=".60" stop-color="#199ed2"/><stop offset=".70" stop-color="#169cd1"/><stop offset=".80" stop-color="#159bd0"/><stop offset=".90" stop-color="#1a9ed2"/><stop offset="1.00" stop-color="#34a8d6"/></linearGradient><linearGradient id="d84" x2="0" y1="1"><stop offset=".00" stop-color="#bfe3f0"/><stop offset=".10" stop-color="#b2ddee"/><stop offset=".20" stop-color="#a3d6ea"/><stop offset=".30" stop-color="#92cee6"/><stop offset=".40" stop-color="#7bc3e2"/><stop offset=".50" stop-color="#3facd8"/><stop offset=".60" stop-color="#1a9ed2"/><stop offset=".70" stop-color="#1a9ed2"/><stop offset=".80" stop-color="#1a9ed2"/><stop offset=".90" stop-color="#1fa2d4"/><stop offset="1.00" stop-color="#42acd8"/></linearGradient><linearGradient id="d85" x2="0" y1="1"><stop offset=".00" stop-color="#bfe3f0"/><stop offset=".10" stop-color="#b2ddee"/><stop offset=".20" stop-color="#a3d6ea"/><stop offset=".30" stop-color="#93cee6"/><stop offset=".40" stop-color="#7cc3e2"/><stop offset=".50" stop-color="#43add8"/><stop offset=".60" stop-color="#1b9fd3"/><stop offset=".70" stop-color="#1ca0d3"/><stop offset=".80" stop-color="#20a3d4"/><stop offset=".90" stop-color="#33a8d6"/><stop offset="1.00" stop-color="#52b1da"/></linearGradient><linearGradient id="d86" x2="0" y1="1"><stop offset=".00" stop-color="#bfe3f0"/><stop offset=".10" stop-color="#b3ddee"/><stop offset=".20" stop-color="#a4d7ea"/><stop offset=".30" stop-color="#94cfe6"/><stop offset=".40" stop-color="#7ec4e3"/><stop offset=".50" stop-color="#48aed9"/><stop offset=".60" stop-color="#1ca1d3"/><stop offset=".70" stop-color="#1fa2d4"/><stop offset=".80" stop-color="#2ca6d6"/><stop offset=".90" stop-color="#40acd8"/><stop offset="1.00" stop-color="#5bb5db"/></linearGradient><linearGradient id="d87" x2="0" y1="1"><stop offset=".00" stop-color="#bfe3f0"/><stop offset=".10" stop-color="#b3ddee"/><stop offset=".20" stop-color="#a5d7eb"/><stop offset=".30" stop-color="#95cfe7"/><stop offset=".40" stop-color="#7fc5e3"/><stop offset=".50" stop-color="#4eb0d9"/><stop offset=".60" stop-color="#1fa2d4"/><stop offset=".70" stop-color="#26a4d5"/><stop offset=".80" stop-color="#34a9d6"/><stop offset=".90" stop-color="#48aed9"/><stop offset="1.00" stop-color="#61b7dd"/></linearGradient><linearGradient id="d88" x2="0" y1="1"><stop offset=".00" stop-color="#bfe3f0"/><stop offset=".10" stop-color="#b3ddee"/><stop offset=".20" stop-color="#a4d7eb"/><stop offset=".30" stop-color="#94cfe7"/><stop offset=".40" stop-color="#80c5e3"/><stop offset=".50" stop-color="#53b1da"/><stop offset=".60" stop-color="#26a4d5"/><stop offset=".70" stop-color="#2ea7d6"/><stop offset=".80" stop-color="#3dabd7"/><stop offset=".90" stop-color="#51b1da"/><stop offset="1.00" stop-color="#67b9de"/></linearGradient><linearGradient id="d89" x2="0" y1="1"><stop offset=".00" stop-color="#bfe3f0"/><stop offset=".10" stop-color="#b3ddee"/><stop offset=".20" stop-color="#a4d7ea"/><stop offset=".30" stop-color="#94cfe6"/><stop offset=".40" stop-color="#80c5e3"/><stop offset=".50" stop-color="#57b3da"/><stop offset=".60" stop-color="#2da6d6"/><stop offset=".70" stop-color="#35a9d7"/><stop offset=".80" stop-color="#46aed8"/><stop offset=".90" stop-color="#58b3db"/><stop offset="1.00" stop-color="#6dbcdf"/></linearGradient><linearGradient id="d90" x2="0" y1="1"><stop offset=".00" stop-color="#bfe3f0"/><stop offset=".10" stop-color="#b2ddee"/><stop offset=".20" stop-color="#a3d6ea"/><stop offset=".30" stop-color="#93cfe6"/><stop offset=".40" stop-color="#80c5e3"/><stop offset=".50" stop-color="#57b3db"/><stop offset=".60" stop-color="#2ea7d6"/><stop offset=".70" stop-color="#3aaad7"/><stop offset=".80" stop-color="#4fb0d9"/><stop offset=".90" stop-color="#60b7dd"/><stop offset="1.00" stop-color="#71bee0"/></linearGradient><linearGradient id="d91" x2="0" y1="1"><stop offset=".00" stop-color="#bfe3f0"/><stop offset=".10" stop-color="#b2ddee"/><stop offset=".20" stop-color="#a3d6ea"/><stop offset=".30" stop-color="#93cee6"/><stop offset=".40" stop-color="#7fc5e3"/><stop offset=".50" stop-color="#55b2da"/><stop offset=".60" stop-color="#29a5d5"/><stop offset=".70" stop-color="#33a8d6"/><stop offset=".80" stop-color="#47aed8"/><stop offset=".90" stop-color="#5db5dc"/><stop offset="1.00" stop-color="#72bfe1"/></linearGradient><linearGradient id="d92" x2="0" y1="1"><stop offset=".00" stop-color="#bfe3f0"/><stop offset=".10" stop-color="#b2ddee"/><stop offset=".20" stop-color="#a2d6ea"/><stop offset=".30" stop-color="#92cee6"/><stop offset=".40" stop-color="#7fc5e3"/><stop offset=".50" stop-color="#53b1da"/><stop offset=".60" stop-color="#24a4d5"/><stop offset=".70" stop-color="#2ba6d5"/><stop offset=".80" stop-color="#3baad7"/><stop offset=".90" stop-color="#53b1da"/><stop offset="1.00" stop-color="#70bde0"/></linearGradient><linearGradient id="d93" x2="0" y1="1"><stop offset=".00" stop-color="#bfe3f0"/><stop offset=".10" stop-color="#b1ddee"/><stop offset=".20" stop-color="#a2d6ea"/><stop offset=".30" stop-color="#92cee6"/><stop offset=".40" stop-color="#7fc5e3"/><stop offset=".50" stop-color="#4fb0d9"/><stop offset=".60" stop-color="#1ea2d4"/><stop offset=".70" stop-color="#22a3d4"/><stop offset=".80" stop-color="#2ea7d6"/><stop offset=".90" stop-color="#46aed8"/><stop offset="1.00" stop-color="#6abbdf"/></linearGradient><linearGradient id="d94" x2="0" y1="1"><stop offset=".00" stop-color="#bfe3f0"/><stop offset=".10" stop-color="#b2ddee"/><stop offset=".20" stop-color="#a3d6ea"/><stop offset=".30" stop-color="#93cfe6"/><stop offset=".40" stop-color="#81c6e3"/><stop offset=".50" stop-color="#5ab4db"/><stop offset=".60" stop-color="#2ea7d6"/><stop offset=".70" stop-color="#34a8d6"/><stop offset=".80" stop-color="#41acd8"/><stop offset=".90" stop-color="#56b3da"/><stop offset="1.00" stop-color="#71bee0"/></linearGradient><linearGradient id="d95" x2="0" y1="1"><stop offset=".00" stop-color="#bfe3f0"/><stop offset=".10" stop-color="#b3ddee"/><stop offset=".20" stop-color="#a5d7eb"/><stop offset=".30" stop-color="#95d0e7"/><stop offset=".40" stop-color="#84c7e4"/><stop offset=".50" stop-color="#64b8de"/><stop offset=".60" stop-color="#3eabd7"/><stop offset=".70" stop-color="#45add8"/><stop offset=".80" stop-color="#53b1da"/><stop offset=".90" stop-color="#67bade"/><stop offset="1.00" stop-color="#79c2e2"/></linearGradient><linearGradient id="d96" x2="0" y1="1"><stop offset=".00" stop-color="#bfe3f0"/><stop offset=".10" stop-color="#b3deee"/><stop offset=".20" stop-color="#a6d7eb"/><stop offset=".30" stop-color="#97d1e7"/><stop offset=".40" stop-color="#86c8e4"/><stop offset=".50" stop-color="#6ebde0"/><stop offset=".60" stop-color="#4db0d9"/><stop offset=".70" stop-color="#55b2da"/><stop offset=".80" stop-color="#62b8dd"/><stop offset=".90" stop-color="#73bfe1"/><stop offset="1.00" stop-color="#82c6e3"/></linearGradient><linearGradient id="d97" x2="0" y1="1"><stop offset=".00" stop-color="#bfe3f0"/><stop offset=".10" stop-color="#b4deef"/><stop offset=".20" stop-color="#a7d8eb"/><stop offset=".30" stop-color="#99d2e7"/><stop offset=".40" stop-color="#89cae5"/><stop offset=".50" stop-color="#72bfe1"/><stop offset=".60" stop-color="#58b3db"/><stop offset=".70" stop-color="#5fb6dc"/><stop offset=".80" stop-color="#6ebde0"/><stop offset=".90" stop-color="#79c2e2"/><stop offset="1.00" stop-color="#87c8e4"/></linearGradient><linearGradient id="d98" x2="0" y1="1"><stop offset=".00" stop-color="#bfe3f0"/><stop offset=".10" stop-color="#b5deef"/><stop offset=".20" stop-color="#a9d9ec"/><stop offset=".30" stop-color="#9bd3e8"/><stop offset=".40" stop-color="#8ccbe5"/><stop offset=".50" stop-color="#76c0e1"/><stop offset=".60" stop-color="#5fb6dc"/><stop offset=".70" stop-color="#68bade"/><stop offset=".80" stop-color="#74bfe1"/><stop offset=".90" stop-color="#7dc4e3"/><stop offset="1.00" stop-color="#8acae5"/></linearGradient><linearGradient id="d99" x2="0" y1="1"><stop offset=".00" stop-color="#bfe3f0"/><stop offset=".10" stop-color="#b5deef"/><stop offset=".20" stop-color="#aad9ec"/><stop offset=".30" stop-color="#9dd3e8"/><stop offset=".40" stop-color="#8ecce6"/><stop offset=".50" stop-color="#79c2e2"/><stop offset=".60" stop-color="#66b9de"/><stop offset=".70" stop-color="#70bde0"/><stop offset=".80" stop-color="#78c1e2"/><stop offset=".90" stop-color="#82c6e3"/><stop offset="1.00" stop-color="#8ecce5"/></linearGradient><linearGradient id="d100" x2="0" y1="1"><stop offset=".00" stop-color="#bfe2f0"/><stop offset=".10" stop-color="#b4deee"/><stop offset=".20" stop-color="#a6d7eb"/><stop offset=".30" stop-color="#96d0e7"/><stop offset=".40" stop-color="#84c7e4"/><stop offset=".50" stop-color="#6bbcdf"/><stop offset=".60" stop-color="#4db0d9"/><stop offset=".70" stop-color="#5bb5db"/><stop offset=".80" stop-color="#70bde0"/><stop offset=".90" stop-color="#79c2e2"/><stop offset="1.00" stop-color="#83c6e3"/></linearGradient><linearGradient id="d101" x2="0" y1="1"><stop offset=".00" stop-color="#bfe2f0"/><stop offset=".10" stop-color="#b2ddee"/><stop offset=".20" stop-color="#a1d5ea"/><stop offset=".30" stop-color="#8dcce5"/><stop offset=".40" stop-color="#79c2e2"/><stop offset=".50" stop-color="#4fb0d9"/><stop offset=".60" stop-color="#2ba6d5"/><stop offset=".70" stop-color="#3facd8"/><stop offset=".80" stop-color="#5bb5db"/><stop offset=".90" stop-color="#6ebce0"/><stop offset="1.00" stop-color="#76c1e1"/></linearGradient><linearGradient id="d102" x2="0" y1="1"><stop offset=".00" stop-color="#bfe2f0"/><stop offset=".10" stop-color="#b0dcee"/><stop offset=".20" stop-color="#9cd3e8"/><stop offset=".30" stop-color="#84c7e4"/><stop offset=".40" stop-color="#69bbdf"/><stop offset=".50" stop-color="#28a5d5"/><stop offset=".60" stop-color="#169bd0"/><stop offset=".70" stop-color="#1ea2d4"/><stop offset=".80" stop-color="#42acd8"/><stop offset=".90" stop-color="#58b3db"/><stop offset="1.00" stop-color="#65b9de"/></linearGradient><linearGradient id="d103" x2="0" y1="1"><stop offset=".00" stop-color="#bee2f0"/><stop offset=".10" stop-color="#aedbed"/><stop offset=".20" stop-color="#97d0e7"/><stop offset=".30" stop-color="#7cc3e2"/><stop offset=".40" stop-color="#4aafd9"/><stop offset=".50" stop-color="#1097ce"/><stop offset=".60" stop-color="#0b8cc8"/><stop offset=".70" stop-color="#0f96cd"/><stop offset=".80" stop-color="#25a4d5"/><stop offset=".90" stop-color="#3facd8"/><stop offset="1.00" stop-color="#4cafd9"/></linearGradient><linearGradient id="d104" x2="0" y1="1"><stop offset=".00" stop-color="#bee2f0"/><stop offset=".10" stop-color="#acdaed"/><stop offset=".20" stop-color="#92cee6"/><stop offset=".30" stop-color="#72bee0"/><stop offset=".40" stop-color="#24a4d5"/><stop offset=".50" stop-color="#0b8ac7"/><stop offset=".60" stop-color="#0a7ec0"/><stop offset=".70" stop-color="#0b8bc7"/><stop offset=".80" stop-color="#179cd1"/><stop offset=".90" stop-color="#26a4d5"/><stop offset="1.00" stop-color="#35a9d6"/></linearGradient><linearGradient id="d105" x2="0" y1="1"><stop offset=".00" stop-color="#bee2f0"/><stop offset=".10" stop-color="#aad9ec"/><stop offset=".20" stop-color="#8ccbe5"/><stop offset=".30" stop-color="#5fb6dc"/><stop offset=".40" stop-color="#149acf"/><stop offset=".50" stop-color="#0a81c2"/><stop offset=".60" stop-color="#0975ba"/><stop offset=".70" stop-color="#0a83c2"/><stop offset=".80" stop-color="#0d94cc"/><stop offset=".90" stop-color="#199dd2"/><stop offset="1.00" stop-color="#1ea2d4"/></linearGradient><linearGradient id="d106" x2="0" y1="1"><stop offset=".00" stop-color="#bee2f0"/><stop offset=".10" stop-color="#a8d8ec"/><stop offset=".20" stop-color="#87c9e4"/><stop offset=".30" stop-color="#47aed8"/><stop offset=".40" stop-color="#0c91cb"/><stop offset=".50" stop-color="#0a79bd"/><stop offset=".60" stop-color="#0872b8"/><stop offset=".70" stop-color="#0a7cbf"/><stop offset=".80" stop-color="#0b8dc9"/><stop offset=".90" stop-color="#1197ce"/><stop offset="1.00" stop-color="#179cd1"/></linearGradient><linearGradient id="d107" x2="0" y1="1"><stop offset=".00" stop-color="#bee2f0"/><stop offset=".10" stop-color="#a6d8eb"/><stop offset=".20" stop-color="#83c6e3"/><stop offset=".30" stop-color="#30a7d6"/><stop offset=".40" stop-color="#0b8ac6"/><stop offset=".50" stop-color="#0872b8"/><stop offset=".60" stop-color="#0872b8"/><stop offset=".70" stop-color="#0974ba"/><stop offset=".80" stop-color="#0a87c5"/><stop offset=".90" stop-color="#0c91cb"/><stop offset="1.00" stop-color="#1197ce"/></linearGradient><linearGradient id="d108" x2="0" y1="1"><stop offset=".00" stop-color="#bee2f0"/><stop offset=".10" stop-color="#a3d6ea"/><stop offset=".20" stop-color="#7fc5e3"/><stop offset=".30" stop-color="#2da6d6"/><stop offset=".40" stop-color="#0b8ac7"/><stop offset=".50" stop-color="#0872b8"/><stop offset=".60" stop-color="#0872b8"/><stop offset=".70" stop-color="#0873b9"/><stop offset=".80" stop-color="#0a88c5"/><stop offset=".90" stop-color="#0c92cb"/><stop offset="1.00" stop-color="#1298cf"/></linearGradient><linearGradient id="d109" x2="0" y1="1"><stop offset=".00" stop-color="#bee2f0"/><stop offset=".10" stop-color="#a2d6ea"/><stop offset=".20" stop-color="#7fc5e3"/><stop offset=".30" stop-color="#38a9d7"/><stop offset=".40" stop-color="#0b8ec9"/><stop offset=".50" stop-color="#0872b8"/><stop offset=".60" stop-color="#0872b8"/><stop offset=".70" stop-color="#0974ba"/><stop offset=".80" stop-color="#0b8bc7"/><stop offset=".90" stop-color="#1096ce"/><stop offset="1.00" stop-color="#179cd1"/></linearGradient><linearGradient id="d110" x2="0" y1="1"><stop offset=".00" stop-color="#bee2f0"/><stop offset=".10" stop-color="#a4d7eb"/><stop offset=".20" stop-color="#84c7e4"/><stop offset=".30" stop-color="#4aafd9"/><stop offset=".40" stop-color="#0c93cc"/><stop offset=".50" stop-color="#0a7abe"/><stop offset=".60" stop-color="#0872b8"/><stop offset=".70" stop-color="#0a7cbf"/><stop offset=".80" stop-color="#0b8fc9"/><stop offset=".90" stop-color="#149ad0"/><stop offset="1.00" stop-color="#1ca0d3"/></linearGradient><linearGradient id="d111" x2="0" y1="1"><stop offset=".00" stop-color="#bee2f0"/><stop offset=".10" stop-color="#a7d8eb"/><stop offset=".20" stop-color="#89c9e5"/><stop offset=".30" stop-color="#5db5dc"/><stop offset=".40" stop-color="#159bd0"/><stop offset=".50" stop-color="#0a83c3"/><stop offset=".60" stop-color="#0977bc"/><stop offset=".70" stop-color="#0a83c3"/><stop offset=".80" stop-color="#0c93cc"/><stop offset=".90" stop-color="#199ed2"/><stop offset="1.00" stop-color="#28a5d5"/></linearGradient><linearGradient id="d112" x2="0" y1="1"><stop offset=".00" stop-color="#bee2f0"/><stop offset=".10" stop-color="#aad9ec"/><stop offset=".20" stop-color="#8ecce6"/><stop offset=".30" stop-color="#6ebde0"/><stop offset=".40" stop-color="#20a3d4"/><stop offset=".50" stop-color="#0b8dc8"/><stop offset=".60" stop-color="#0a83c2"/><stop offset=".70" stop-color="#0b8cc7"/><stop offset=".80" stop-color="#1399cf"/><stop offset=".90" stop-color="#1fa2d4"/><stop offset="1.00" stop-color="#3baad7"/></linearGradient><linearGradient id="d113" x2="0" y1="1"><stop offset=".00" stop-color="#bee2f0"/><stop offset=".10" stop-color="#acdaed"/><stop offset=".20" stop-color="#94cfe7"/><stop offset=".30" stop-color="#77c1e1"/><stop offset=".40" stop-color="#3facd8"/><stop offset=".50" stop-color="#1298cf"/><stop offset=".60" stop-color="#0b8fca"/><stop offset=".70" stop-color="#1096ce"/><stop offset=".80" stop-color="#1ea2d4"/><stop offset=".90" stop-color="#3babd7"/><stop offset="1.00" stop-color="#51b1da"/></linearGradient><linearGradient id="d114" x2="0" y1="1"><stop offset=".00" stop-color="#bfe2f0"/><stop offset=".10" stop-color="#aedbee"/><stop offset=".20" stop-color="#99d1e7"/><stop offset=".30" stop-color="#7ec4e3"/><stop offset=".40" stop-color="#5ab4db"/><stop offset=".50" stop-color="#25a4d5"/><stop offset=".60" stop-color="#189dd2"/><stop offset=".70" stop-color="#21a3d4"/><stop offset=".80" stop-color="#41acd8"/><stop offset=".90" stop-color="#56b3da"/><stop offset="1.00" stop-color="#65b9de"/></linearGradient><linearGradient id="d115" x2="0" y1="1"><stop offset=".00" stop-color="#bfe2f0"/><stop offset=".10" stop-color="#b0dcee"/><stop offset=".20" stop-color="#9cd3e8"/><stop offset=".30" stop-color="#82c6e3"/><stop offset=".40" stop-color="#67b9de"/><stop offset=".50" stop-color="#45add8"/><stop offset=".60" stop-color="#34a8d6"/><stop offset=".70" stop-color="#48aed9"/><stop offset=".80" stop-color="#61b7dd"/><stop offset=".90" stop-color="#6fbde0"/><stop offset="1.00" stop-color="#73bfe1"/></linearGradient><linearGradient id="d116" x2="0" y1="1"><stop offset=".00" stop-color="#bfe2f0"/><stop offset=".10" stop-color="#b1dcee"/><stop offset=".20" stop-color="#9fd4e9"/><stop offset=".30" stop-color="#85c8e4"/><stop offset=".40" stop-color="#70bde0"/><stop offset=".50" stop-color="#55b2da"/><stop offset=".60" stop-color="#47aed8"/><stop offset=".70" stop-color="#61b7dd"/><stop offset=".80" stop-color="#76c0e1"/><stop offset=".90" stop-color="#7bc3e2"/><stop offset="1.00" stop-color="#7dc3e2"/></linearGradient><linearGradient id="d117" x2="0" y1="1"><stop offset=".00" stop-color="#bfe3f0"/><stop offset=".10" stop-color="#b2ddee"/><stop offset=".20" stop-color="#a1d5e9"/><stop offset=".30" stop-color="#88c9e4"/><stop offset=".40" stop-color="#74bfe1"/><stop offset=".50" stop-color="#62b7dd"/><stop offset=".60" stop-color="#57b3da"/><stop offset=".70" stop-color="#70bde0"/><stop offset=".80" stop-color="#7ec4e3"/><stop offset=".90" stop-color="#80c5e3"/><stop offset="1.00" stop-color="#81c6e3"/></linearGradient><linearGradient id="d118" x2="0" y1="1"><stop offset=".00" stop-color="#bfe3f0"/><stop offset=".10" stop-color="#b3ddee"/><stop offset=".20" stop-color="#a3d6ea"/><stop offset=".30" stop-color="#8bcbe5"/><stop offset=".40" stop-color="#77c1e1"/><stop offset=".50" stop-color="#6dbcdf"/><stop offset=".60" stop-color="#64b8dd"/><stop offset=".70" stop-color="#76c0e1"/><stop offset=".80" stop-color="#82c6e3"/><stop offset=".90" stop-color="#83c7e4"/><stop offset="1.00" stop-color="#84c7e4"/></linearGradient><linearGradient id="d119" x2="0" y1="1"><stop offset=".00" stop-color="#bfe3f0"/><stop offset=".10" stop-color="#b4deef"/><stop offset=".20" stop-color="#a5d7eb"/><stop offset=".30" stop-color="#8ecce5"/><stop offset=".40" stop-color="#7bc3e2"/><stop offset=".50" stop-color="#73bfe1"/><stop offset=".60" stop-color="#6fbde0"/><stop offset=".70" stop-color="#7bc3e2"/><stop offset=".80" stop-color="#87c8e4"/><stop offset=".90" stop-color="#87c8e4"/><stop offset="1.00" stop-color="#86c8e4"/></linearGradient><linearGradient id="d120" x2="0" y1="1"><stop offset=".00" stop-color="#bfe3f0"/><stop offset=".10" stop-color="#b3ddee"/><stop offset=".20" stop-color="#a4d6ea"/><stop offset=".30" stop-color="#8ecce5"/><stop offset=".40" stop-color="#7ec4e3"/><stop offset=".50" stop-color="#77c1e1"/><stop offset=".60" stop-color="#75c0e1"/><stop offset=".70" stop-color="#80c5e3"/><stop offset=".80" stop-color="#8bcbe5"/><stop offset=".90" stop-color="#8bcae5"/><stop offset="1.00" stop-color="#89c9e4"/></linearGradient><linearGradient id="d121" x2="0" y1="1"><stop offset=".00" stop-color="#bfe3f0"/><stop offset=".10" stop-color="#b3ddee"/><stop offset=".20" stop-color="#a2d6ea"/><stop offset=".30" stop-color="#88c9e4"/><stop offset=".40" stop-color="#76c0e1"/><stop offset=".50" stop-color="#71bee0"/><stop offset=".60" stop-color="#6ebde0"/><stop offset=".70" stop-color="#7bc3e2"/><stop offset=".80" stop-color="#87c8e4"/><stop offset=".90" stop-color="#86c8e4"/><stop offset="1.00" stop-color="#81c6e3"/></linearGradient><linearGradient id="d122" x2="0" y1="1"><stop offset=".00" stop-color="#bfe3f0"/><stop offset=".10" stop-color="#b2ddee"/><stop offset=".20" stop-color="#a0d5e9"/><stop offset=".30" stop-color="#83c6e3"/><stop offset=".40" stop-color="#6cbcdf"/><stop offset=".50" stop-color="#64b8de"/><stop offset=".60" stop-color="#61b7dd"/><stop offset=".70" stop-color="#76c0e1"/><stop offset=".80" stop-color="#83c6e3"/><stop offset=".90" stop-color="#82c6e3"/><stop offset="1.00" stop-color="#7ac2e2"/></linearGradient><linearGradient id="d123" x2="0" y1="1"><stop offset=".00" stop-color="#bfe3f0"/><stop offset=".10" stop-color="#b2ddee"/><stop offset=".20" stop-color="#9ed4e9"/><stop offset=".30" stop-color="#7dc4e2"/><stop offset=".40" stop-color="#5cb5dc"/><stop offset=".50" stop-color="#56b3da"/><stop offset=".60" stop-color="#54b2da"/><stop offset=".70" stop-color="#70bee0"/><stop offset=".80" stop-color="#7fc5e3"/><stop offset=".90" stop-color="#7dc4e2"/><stop offset="1.00" stop-color="#73bfe1"/></linearGradient><linearGradient id="d124" x2="0" y1="1"><stop offset=".00" stop-color="#bfe3f0"/><stop offset=".10" stop-color="#b2ddee"/><stop offset=".20" stop-color="#9dd3e8"/><stop offset=".30" stop-color="#78c1e2"/><stop offset=".40" stop-color="#4aafd9"/><stop offset=".50" stop-color="#46aed8"/><stop offset=".60" stop-color="#45add8"/><stop offset=".70" stop-color="#67bade"/><stop offset=".80" stop-color="#7bc3e2"/><stop offset=".90" stop-color="#78c1e2"/><stop offset="1.00" stop-color="#68bade"/></linearGradient><linearGradient id="d125" x2="0" y1="1"><stop offset=".00" stop-color="#bfe3f0"/><stop offset=".10" stop-color="#b0dcee"/><stop offset=".20" stop-color="#99d1e7"/><stop offset=".30" stop-color="#71bee0"/><stop offset=".40" stop-color="#37a9d7"/><stop offset=".50" stop-color="#36a9d7"/><stop offset=".60" stop-color="#36a9d7"/><stop offset=".70" stop-color="#5db5dc"/><stop offset=".80" stop-color="#77c1e1"/><stop offset=".90" stop-color="#73bfe1"/><stop offset="1.00" stop-color="#5ab4db"/></linearGradient><linearGradient id="d126" x2="0" y1="1"><stop offset=".00" stop-color="#bfe3f0"/><stop offset=".10" stop-color="#addbed"/><stop offset=".20" stop-color="#93cee6"/><stop offset=".30" stop-color="#64b8de"/><stop offset=".40" stop-color="#1ea2d4"/><stop offset=".50" stop-color="#1a9fd2"/><stop offset=".60" stop-color="#199ed2"/><stop offset=".70" stop-color="#41acd8"/><stop offset=".80" stop-color="#70bde0"/><stop offset=".90" stop-color="#6abbdf"/><stop offset="1.00" stop-color="#47aed9"/></linearGradient><linearGradient id="d127" x2="0" y1="1"><stop offset=".00" stop-color="#bfe3f0"/><stop offset=".10" stop-color="#aad9ec"/><stop offset=".20" stop-color="#8dcbe5"/><stop offset=".30" stop-color="#55b2da"/><stop offset=".40" stop-color="#159bd0"/><stop offset=".50" stop-color="#0c93cc"/><stop offset=".60" stop-color="#0c90ca"/><stop offset=".70" stop-color="#1ca1d3"/><stop offset=".80" stop-color="#5db5dc"/><stop offset=".90" stop-color="#58b3db"/><stop offset="1.00" stop-color="#33a8d6"/></linearGradient><linearGradient id="d128" x2="0" y1="1"><stop offset=".00" stop-color="#bfe3f0"/><stop offset=".10" stop-color="#abdaec"/><stop offset=".20" stop-color="#8dcbe5"/><stop offset=".30" stop-color="#4db0d9"/><stop offset=".40" stop-color="#0f95cd"/><stop offset=".50" stop-color="#0b8cc8"/><stop offset=".60" stop-color="#0a88c5"/><stop offset=".70" stop-color="#1499cf"/><stop offset=".80" stop-color="#4eb0d9"/><stop offset=".90" stop-color="#49aed9"/><stop offset="1.00" stop-color="#24a4d5"/></linearGradient><linearGradient id="e0" x2="0" y1="1"><stop offset=".00" stop-color="#d7eff6"/><stop offset=".10" stop-color="#d6eff5"/><stop offset=".20" stop-color="#d4eef5"/><stop offset=".30" stop-color="#d0ecf4"/><stop offset=".40" stop-color="#cbe9f3"/><stop offset=".50" stop-color="#c8e7f2"/><stop offset=".60" stop-color="#c5e6f1"/><stop offset=".70" stop-color="#c3e4f1"/><stop offset=".80" stop-color="#c0e3f0"/><stop offset=".90" stop-color="#bbe1ef"/><stop offset="1.00" stop-color="#b7dfef"/></linearGradient><linearGradient id="e1" x2="0" y1="1"><stop offset=".00" stop-color="#d7eff6"/><stop offset=".10" stop-color="#d5eef5"/><stop offset=".20" stop-color="#d3edf5"/><stop offset=".30" stop-color="#ceebf4"/><stop offset=".40" stop-color="#c9e8f2"/><stop offset=".50" stop-color="#c6e6f1"/><stop offset=".60" stop-color="#c3e4f1"/><stop offset=".70" stop-color="#c0e3f0"/><stop offset=".80" stop-color="#bce1ef"/><stop offset=".90" stop-color="#b7dfef"/><stop offset="1.00" stop-color="#b1dcee"/></linearGradient><linearGradient id="e2" x2="0" y1="1"><stop offset=".00" stop-color="#d7eff6"/><stop offset=".10" stop-color="#d5eef5"/><stop offset=".20" stop-color="#d2edf4"/><stop offset=".30" stop-color="#cdeaf3"/><stop offset=".40" stop-color="#c8e7f2"/><stop offset=".50" stop-color="#c4e5f1"/><stop offset=".60" stop-color="#c0e3f0"/><stop offset=".70" stop-color="#bde1f0"/><stop offset=".80" stop-color="#b8e0ef"/><stop offset=".90" stop-color="#b2ddee"/><stop offset="1.00" stop-color="#aad9ec"/></linearGradient><linearGradient id="e3" x2="0" y1="1"><stop offset=".00" stop-color="#d7eff6"/><stop offset=".10" stop-color="#d4eef5"/><stop offset=".20" stop-color="#d0ecf4"/><stop offset=".30" stop-color="#cbe9f3"/><stop offset=".40" stop-color="#c6e6f1"/><stop offset=".50" stop-color="#c2e4f0"/><stop offset=".60" stop-color="#bee2f0"/><stop offset=".70" stop-color="#b9e0ef"/><stop offset=".80" stop-color="#b5deef"/><stop offset=".90" stop-color="#aedbed"/><stop offset="1.00" stop-color="#a5d7eb"/></linearGradient><linearGradient id="e4" x2="0" y1="1"><stop offset=".00" stop-color="#d7eff6"/><stop offset=".10" stop-color="#d3edf5"/><stop offset=".20" stop-color="#cfebf4"/><stop offset=".30" stop-color="#cae8f2"/><stop offset=".40" stop-color="#c4e5f1"/><stop offset=".50" stop-color="#c0e3f0"/><stop offset=".60" stop-color="#bbe1ef"/><stop offset=".70" stop-color="#b6dfef"/><stop offset=".80" stop-color="#b1dcee"/><stop offset=".90" stop-color="#aad9ec"/><stop offset="1.00" stop-color="#a1d5e9"/></linearGradient><linearGradient id="e5" x2="0" y1="1"><stop offset=".00" stop-color="#d7eff6"/><stop offset=".10" stop-color="#d3edf5"/><stop offset=".20" stop-color="#ceebf4"/><stop offset=".30" stop-color="#c8e8f2"/><stop offset=".40" stop-color="#c2e4f1"/><stop offset=".50" stop-color="#bee2f0"/><stop offset=".60" stop-color="#b9e0ef"/><stop offset=".70" stop-color="#b3ddee"/><stop offset=".80" stop-color="#addbed"/><stop offset=".90" stop-color="#a5d7eb"/><stop offset="1.00" stop-color="#9dd3e8"/></linearGradient><linearGradient id="e6" x2="0" y1="1"><stop offset=".00" stop-color="#d7eff6"/><stop offset=".10" stop-color="#d2edf5"/><stop offset=".20" stop-color="#cdeaf3"/><stop offset=".30" stop-color="#c7e7f2"/><stop offset=".40" stop-color="#c1e3f0"/><stop offset=".50" stop-color="#bbe1ef"/><stop offset=".60" stop-color="#b6dfef"/><stop offset=".70" stop-color="#b0dcee"/><stop offset=".80" stop-color="#a9d9ec"/><stop offset=".90" stop-color="#a1d5ea"/><stop offset="1.00" stop-color="#99d2e8"/></linearGradient><linearGradient id="e7" x2="0" y1="1"><stop offset=".00" stop-color="#d7eff6"/><stop offset=".10" stop-color="#d3edf5"/><stop offset=".20" stop-color="#ceeaf3"/><stop offset=".30" stop-color="#c7e7f2"/><stop offset=".40" stop-color="#c0e3f0"/><stop offset=".50" stop-color="#bae0ef"/><stop offset=".60" stop-color="#b5deef"/><stop offset=".70" stop-color="#aedbed"/><stop offset=".80" stop-color="#a7d8eb"/><stop offset=".90" stop-color="#9fd5e9"/><stop offset="1.00" stop-color="#98d1e7"/></linearGradient><linearGradient id="e8" x2="0" y1="1"><stop offset=".00" stop-color="#d7eff6"/><stop offset=".10" stop-color="#d3edf5"/><stop offset=".20" stop-color="#ceebf4"/><stop offset=".30" stop-color="#c8e7f2"/><stop offset=".40" stop-color="#c1e4f0"/><stop offset=".50" stop-color="#bce1ef"/><stop offset=".60" stop-color="#b6dfef"/><stop offset=".70" stop-color="#b0dcee"/><stop offset=".80" stop-color="#aad9ec"/><stop offset=".90" stop-color="#a3d6ea"/><stop offset="1.00" stop-color="#9cd3e8"/></linearGradient><linearGradient id="e9" x2="0" y1="1"><stop offset=".00" stop-color="#d7eff6"/><stop offset=".10" stop-color="#d3edf5"/><stop offset=".20" stop-color="#cfebf4"/><stop offset=".30" stop-color="#c9e8f2"/><stop offset=".40" stop-color="#c2e4f1"/><stop offset=".50" stop-color="#bde2f0"/><stop offset=".60" stop-color="#b8dfef"/><stop offset=".70" stop-color="#b2ddee"/><stop offset=".80" stop-color="#addbed"/><stop offset=".90" stop-color="#a7d8eb"/><stop offset="1.00" stop-color="#a0d5e9"/></linearGradient><linearGradient id="e10" x2="0" y1="1"><stop offset=".00" stop-color="#d7eff6"/><stop offset=".10" stop-color="#d3eef5"/><stop offset=".20" stop-color="#cfebf4"/><stop offset=".30" stop-color="#cae8f2"/><stop offset=".40" stop-color="#c4e5f1"/><stop offset=".50" stop-color="#bee2f0"/><stop offset=".60" stop-color="#b9e0ef"/><stop offset=".70" stop-color="#b4deef"/><stop offset=".80" stop-color="#b0dcee"/><stop offset=".90" stop-color="#aad9ec"/><stop offset="1.00" stop-color="#a5d7eb"/></linearGradient><linearGradient id="e11" x2="0" y1="1"><stop offset=".00" stop-color="#d7eff6"/><stop offset=".10" stop-color="#d4eef5"/><stop offset=".20" stop-color="#d0ecf4"/><stop offset=".30" stop-color="#cbe9f3"/><stop offset=".40" stop-color="#c5e6f1"/><stop offset=".50" stop-color="#c0e3f0"/><stop offset=".60" stop-color="#bbe1ef"/><stop offset=".70" stop-color="#b7dfef"/><stop offset=".80" stop-color="#b3ddee"/><stop offset=".90" stop-color="#acdaed"/><stop offset="1.00" stop-color="#a4d6ea"/></linearGradient><linearGradient id="e12" x2="0" y1="1"><stop offset=".00" stop-color="#d7eff6"/><stop offset=".10" stop-color="#d4eef5"/><stop offset=".20" stop-color="#d0ecf4"/><stop offset=".30" stop-color="#cce9f3"/><stop offset=".40" stop-color="#c6e6f2"/><stop offset=".50" stop-color="#c1e4f0"/><stop offset=".60" stop-color="#bce1f0"/><stop offset=".70" stop-color="#b9e0ef"/><stop offset=".80" stop-color="#b5deef"/><stop offset=".90" stop-color="#addbed"/><stop offset="1.00" stop-color="#a0d5e9"/></linearGradient><linearGradient id="e13" x2="0" y1="1"><stop offset=".00" stop-color="#d7eff6"/><stop offset=".10" stop-color="#d3edf5"/><stop offset=".20" stop-color="#cfebf4"/><stop offset=".30" stop-color="#cae8f2"/><stop offset=".40" stop-color="#c4e5f1"/><stop offset=".50" stop-color="#bee2f0"/><stop offset=".60" stop-color="#b9e0ef"/><stop offset=".70" stop-color="#b5deef"/><stop offset=".80" stop-color="#b0dcee"/><stop offset=".90" stop-color="#a8d8eb"/><stop offset="1.00" stop-color="#9cd3e8"/></linearGradient><linearGradient id="e14" x2="0" y1="1"><stop offset=".00" stop-color="#d7eff6"/><stop offset=".10" stop-color="#d2edf5"/><stop offset=".20" stop-color="#ceeaf3"/><stop offset=".30" stop-color="#c8e7f2"/><stop offset=".40" stop-color="#c2e4f1"/><stop offset=".50" stop-color="#bce1ef"/><stop offset=".60" stop-color="#b6deef"/><stop offset=".70" stop-color="#b0dcee"/><stop offset=".80" stop-color="#aad9ec"/><stop offset=".90" stop-color="#a2d6ea"/><stop offset="1.00" stop-color="#99d1e7"/></linearGradient><linearGradient id="e15" x2="0" y1="1"><stop offset=".00" stop-color="#d7eff6"/><stop offset=".10" stop-color="#d2edf4"/><stop offset=".20" stop-color="#cceaf3"/><stop offset=".30" stop-color="#c6e6f2"/><stop offset=".40" stop-color="#c0e3f0"/><stop offset=".50" stop-color="#b9e0ef"/><stop offset=".60" stop-color="#b2ddee"/><stop offset=".70" stop-color="#abdaed"/><stop offset=".80" stop-color="#a4d7ea"/><stop offset=".90" stop-color="#9cd3e8"/><stop offset="1.00" stop-color="#94cfe7"/></linearGradient><linearGradient id="e16" x2="0" y1="1"><stop offset=".00" stop-color="#d7eff6"/><stop offset=".10" stop-color="#d1ecf4"/><stop offset=".20" stop-color="#cbe9f3"/><stop offset=".30" stop-color="#c5e5f1"/><stop offset=".40" stop-color="#bee2f0"/><stop offset=".50" stop-color="#b7dfef"/><stop offset=".60" stop-color="#afdcee"/><stop offset=".70" stop-color="#a7d8eb"/><stop offset=".80" stop-color="#9ed4e9"/><stop offset=".90" stop-color="#95cfe7"/><stop offset="1.00" stop-color="#8acae5"/></linearGradient><linearGradient id="e17" x2="0" y1="1"><stop offset=".00" stop-color="#d7eff6"/><stop offset=".10" stop-color="#d0ecf4"/><stop offset=".20" stop-color="#c9e8f2"/><stop offset=".30" stop-color="#c3e5f1"/><stop offset=".40" stop-color="#bce1ef"/><stop offset=".50" stop-color="#b4deef"/><stop offset=".60" stop-color="#acdaed"/><stop offset=".70" stop-color="#a2d6ea"/><stop offset=".80" stop-color="#98d1e7"/><stop offset=".90" stop-color="#8dcbe5"/><stop offset="1.00" stop-color="#80c5e3"/></linearGradient><linearGradient id="e18" x2="0" y1="1"><stop offset=".00" stop-color="#d7eff6"/><stop offset=".10" stop-color="#cfebf4"/><stop offset=".20" stop-color="#c8e7f2"/><stop offset=".30" stop-color="#c1e4f0"/><stop offset=".40" stop-color="#bae0ef"/><stop offset=".50" stop-color="#b2ddee"/><stop offset=".60" stop-color="#a8d8ec"/><stop offset=".70" stop-color="#9ed4e9"/><stop offset=".80" stop-color="#93cee6"/><stop offset=".90" stop-color="#85c8e4"/><stop offset="1.00" stop-color="#77c1e1"/></linearGradient><linearGradient id="e19" x2="0" y1="1"><stop offset=".00" stop-color="#d7eff6"/><stop offset=".10" stop-color="#cfebf4"/><stop offset=".20" stop-color="#c7e7f2"/><stop offset=".30" stop-color="#bfe3f0"/><stop offset=".40" stop-color="#b7dfef"/><stop offset=".50" stop-color="#afdbee"/><stop offset=".60" stop-color="#a5d7eb"/><stop offset=".70" stop-color="#9ad2e8"/><stop offset=".80" stop-color="#8dcce5"/><stop offset=".90" stop-color="#7ec4e3"/><stop offset="1.00" stop-color="#6cbcdf"/></linearGradient><linearGradient id="e20" x2="0" y1="1"><stop offset=".00" stop-color="#d7eff6"/><stop offset=".10" stop-color="#ceeaf3"/><stop offset=".20" stop-color="#c5e6f1"/><stop offset=".30" stop-color="#bde2f0"/><stop offset=".40" stop-color="#b5deef"/><stop offset=".50" stop-color="#acdaed"/><stop offset=".60" stop-color="#a1d5ea"/><stop offset=".70" stop-color="#94cfe7"/><stop offset=".80" stop-color="#87c9e4"/><stop offset=".90" stop-color="#7dc4e2"/><stop offset="1.00" stop-color="#73bfe1"/></linearGradient><linearGradient id="e21" x2="0" y1="1"><stop offset=".00" stop-color="#d7eff6"/><stop offset=".10" stop-color="#cfebf4"/><stop offset=".20" stop-color="#c7e7f2"/><stop offset=".30" stop-color="#bfe2f0"/><stop offset=".40" stop-color="#b7dfef"/><stop offset=".50" stop-color="#addbed"/><stop offset=".60" stop-color="#a3d6ea"/><stop offset=".70" stop-color="#97d0e7"/><stop offset=".80" stop-color="#8bcae5"/><stop offset=".90" stop-color="#81c6e3"/><stop offset="1.00" stop-color="#78c2e2"/></linearGradient><linearGradient id="e22" x2="0" y1="1"><stop offset=".00" stop-color="#d7eff6"/><stop offset=".10" stop-color="#d0ebf4"/><stop offset=".20" stop-color="#c8e7f2"/><stop offset=".30" stop-color="#c0e3f0"/><stop offset=".40" stop-color="#b8dfef"/><stop offset=".50" stop-color="#afdbee"/><stop offset=".60" stop-color="#a5d7eb"/><stop offset=".70" stop-color="#9ad2e8"/><stop offset=".80" stop-color="#8fcce6"/><stop offset=".90" stop-color="#84c7e4"/><stop offset="1.00" stop-color="#7bc3e2"/></linearGradient><linearGradient id="e23" x2="0" y1="1"><stop offset=".00" stop-color="#d7eff6"/><stop offset=".10" stop-color="#d0ecf4"/><stop offset=".20" stop-color="#c9e8f2"/><stop offset=".30" stop-color="#c1e4f0"/><stop offset=".40" stop-color="#b9e0ef"/><stop offset=".50" stop-color="#b0dcee"/><stop offset=".60" stop-color="#a7d8eb"/><stop offset=".70" stop-color="#9dd3e8"/><stop offset=".80" stop-color="#92cee6"/><stop offset=".90" stop-color="#85c7e4"/><stop offset="1.00" stop-color="#75c0e1"/></linearGradient><linearGradient id="e24" x2="0" y1="1"><stop offset=".00" stop-color="#d7eff6"/><stop offset=".10" stop-color="#d1ecf4"/><stop offset=".20" stop-color="#cbe9f3"/><stop offset=".30" stop-color="#c3e5f1"/><stop offset=".40" stop-color="#bae0ef"/><stop offset=".50" stop-color="#b1ddee"/><stop offset=".60" stop-color="#a9d9ec"/><stop offset=".70" stop-color="#a0d5e9"/><stop offset=".80" stop-color="#97d0e7"/><stop offset=".90" stop-color="#86c8e4"/><stop offset="1.00" stop-color="#6ebde0"/></linearGradient><linearGradient id="e25" x2="0" y1="1"><stop offset=".00" stop-color="#d7eff6"/><stop offset=".10" stop-color="#d2edf4"/><stop offset=".20" stop-color="#cce9f3"/><stop offset=".30" stop-color="#c4e5f1"/><stop offset=".40" stop-color="#bce1f0"/><stop offset=".50" stop-color="#b4deef"/><stop offset=".60" stop-color="#acdaed"/><stop offset=".70" stop-color="#a4d7ea"/><stop offset=".80" stop-color="#9bd3e8"/><stop offset=".90" stop-color="#8ccbe5"/><stop offset="1.00" stop-color="#78c1e2"/></linearGradient><linearGradient id="e26" x2="0" y1="1"><stop offset=".00" stop-color="#d7eff6"/><stop offset=".10" stop-color="#d2edf5"/><stop offset=".20" stop-color="#cdeaf3"/><stop offset=".30" stop-color="#c6e6f1"/><stop offset=".40" stop-color="#bfe2f0"/><stop offset=".50" stop-color="#b7dfef"/><stop offset=".60" stop-color="#afdcee"/><stop offset=".70" stop-color="#a8d8ec"/><stop offset=".80" stop-color="#9fd5e9"/><stop offset=".90" stop-color="#94cfe7"/><stop offset="1.00" stop-color="#86c8e4"/></linearGradient><linearGradient id="e27" x2="0" y1="1"><stop offset=".00" stop-color="#d7eff6"/><stop offset=".10" stop-color="#d2edf5"/><stop offset=".20" stop-color="#cdeaf3"/><stop offset=".30" stop-color="#c7e7f2"/><stop offset=".40" stop-color="#c1e3f0"/><stop offset=".50" stop-color="#bae0ef"/><stop offset=".60" stop-color="#b2ddee"/><stop offset=".70" stop-color="#abdaed"/><stop offset=".80" stop-color="#a4d7ea"/><stop offset=".90" stop-color="#9cd3e8"/><stop offset="1.00" stop-color="#95cfe7"/></linearGradient><linearGradient id="e28" x2="0" y1="1"><stop offset=".00" stop-color="#d7eff6"/><stop offset=".10" stop-color="#d3edf5"/><stop offset=".20" stop-color="#ceebf4"/><stop offset=".30" stop-color="#c9e8f2"/><stop offset=".40" stop-color="#c3e5f1"/><stop offset=".50" stop-color="#bce1f0"/><stop offset=".60" stop-color="#b5deef"/><stop offset=".70" stop-color="#b0dcee"/><stop offset=".80" stop-color="#a8d9ec"/><stop offset=".90" stop-color="#9ed4e8"/><stop offset="1.00" stop-color="#90cde6"/></linearGradient><linearGradient id="e29" x2="0" y1="1"><stop offset=".00" stop-color="#d7eff6"/><stop offset=".10" stop-color="#d3edf5"/><stop offset=".20" stop-color="#ceebf3"/><stop offset=".30" stop-color="#c8e7f2"/><stop offset=".40" stop-color="#c2e4f0"/><stop offset=".50" stop-color="#bae1ef"/><stop offset=".60" stop-color="#b3ddee"/><stop offset=".70" stop-color="#acdaed"/><stop offset=".80" stop-color="#a4d6ea"/><stop offset=".90" stop-color="#97d0e7"/><stop offset="1.00" stop-color="#86c8e4"/></linearGradient><linearGradient id="e30" x2="0" y1="1"><stop offset=".00" stop-color="#d7eff6"/><stop offset=".10" stop-color="#d3edf5"/><stop offset=".20" stop-color="#ceeaf3"/><stop offset=".30" stop-color="#c7e7f2"/><stop offset=".40" stop-color="#c0e3f0"/><stop offset=".50" stop-color="#b8e0ef"/><stop offset=".60" stop-color="#b0dcee"/><stop offset=".70" stop-color="#a8d9ec"/><stop offset=".80" stop-color="#9fd4e9"/><stop offset=".90" stop-color="#90cde6"/><stop offset="1.00" stop-color="#7dc4e2"/></linearGradient><linearGradient id="e31" x2="0" y1="1"><stop offset=".00" stop-color="#d7eff6"/><stop offset=".10" stop-color="#d3edf5"/><stop offset=".20" stop-color="#cdeaf3"/><stop offset=".30" stop-color="#c7e7f2"/><stop offset=".40" stop-color="#bfe2f0"/><stop offset=".50" stop-color="#b6dfef"/><stop offset=".60" stop-color="#aedbed"/><stop offset=".70" stop-color="#a5d7eb"/><stop offset=".80" stop-color="#9ad2e8"/><stop offset=".90" stop-color="#89cae5"/><stop offset="1.00" stop-color="#74bfe1"/></linearGradient><linearGradient id="e32" x2="0" y1="1"><stop offset=".00" stop-color="#d7eff6"/><stop offset=".10" stop-color="#d3edf5"/><stop offset=".20" stop-color="#cdeaf3"/><stop offset=".30" stop-color="#c6e6f1"/><stop offset=".40" stop-color="#bde2f0"/><stop offset=".50" stop-color="#b4deef"/><stop offset=".60" stop-color="#abdaec"/><stop offset=".70" stop-color="#a1d5ea"/><stop offset=".80" stop-color="#95d0e7"/><stop offset=".90" stop-color="#82c6e3"/><stop offset="1.00" stop-color="#60b7dd"/></linearGradient><linearGradient id="e33" x2="0" y1="1"><stop offset=".00" stop-color="#d7eff6"/><stop offset=".10" stop-color="#d1ecf4"/><stop offset=".20" stop-color="#cae8f2"/><stop offset=".30" stop-color="#c0e3f0"/><stop offset=".40" stop-color="#b5deef"/><stop offset=".50" stop-color="#acdaed"/><stop offset=".60" stop-color="#a1d5ea"/><stop offset=".70" stop-color="#95d0e7"/><stop offset=".80" stop-color="#86c8e4"/><stop offset=".90" stop-color="#72bfe1"/><stop offset="1.00" stop-color="#40acd8"/></linearGradient><linearGradient id="e34" x2="0" y1="1"><stop offset=".00" stop-color="#d7eff6"/><stop offset=".10" stop-color="#cfebf4"/><stop offset=".20" stop-color="#c6e6f2"/><stop offset=".30" stop-color="#bae0ef"/><stop offset=".40" stop-color="#addbed"/><stop offset=".50" stop-color="#a3d6ea"/><stop offset=".60" stop-color="#98d1e7"/><stop offset=".70" stop-color="#89cae5"/><stop offset=".80" stop-color="#78c1e2"/><stop offset=".90" stop-color="#55b2da"/><stop offset="1.00" stop-color="#1ca0d3"/></linearGradient><linearGradient id="e35" x2="0" y1="1"><stop offset=".00" stop-color="#d7eff6"/><stop offset=".10" stop-color="#ceebf3"/><stop offset=".20" stop-color="#c3e5f1"/><stop offset=".30" stop-color="#b4deee"/><stop offset=".40" stop-color="#a4d7ea"/><stop offset=".50" stop-color="#9ad2e8"/><stop offset=".60" stop-color="#8fcde6"/><stop offset=".70" stop-color="#7ec4e3"/><stop offset=".80" stop-color="#64b8dd"/><stop offset=".90" stop-color="#2ea7d6"/><stop offset="1.00" stop-color="#0f96cd"/></linearGradient><linearGradient id="e36" x2="0" y1="1"><stop offset=".00" stop-color="#d7eff6"/><stop offset=".10" stop-color="#cce9f3"/><stop offset=".20" stop-color="#c0e3f0"/><stop offset=".30" stop-color="#b1ddee"/><stop offset=".40" stop-color="#a1d5ea"/><stop offset=".50" stop-color="#96d0e7"/><stop offset=".60" stop-color="#89cae5"/><stop offset=".70" stop-color="#77c1e1"/><stop offset=".80" stop-color="#4eb0d9"/><stop offset=".90" stop-color="#199ed2"/><stop offset="1.00" stop-color="#0b8cc8"/></linearGradient><linearGradient id="e37" x2="0" y1="1"><stop offset=".00" stop-color="#d7eff6"/><stop offset=".10" stop-color="#cce9f3"/><stop offset=".20" stop-color="#bfe3f0"/><stop offset=".30" stop-color="#b1ddee"/><stop offset=".40" stop-color="#a2d6ea"/><stop offset=".50" stop-color="#94cfe7"/><stop offset=".60" stop-color="#85c8e4"/><stop offset=".70" stop-color="#71bee0"/><stop offset=".80" stop-color="#3baad7"/><stop offset=".90" stop-color="#1096ce"/><stop offset="1.00" stop-color="#0a83c3"/></linearGradient><linearGradient id="e38" x2="0" y1="1"><stop offset=".00" stop-color="#d7eff6"/><stop offset=".10" stop-color="#cdeaf3"/><stop offset=".20" stop-color="#c1e4f0"/><stop offset=".30" stop-color="#b4deee"/><stop offset=".40" stop-color="#a5d7eb"/><stop offset=".50" stop-color="#97d0e7"/><stop offset=".60" stop-color="#87c9e4"/><stop offset=".70" stop-color="#72bee0"/><stop offset=".80" stop-color="#3baad7"/><stop offset=".90" stop-color="#1298cf"/><stop offset="1.00" stop-color="#0a87c5"/></linearGradient><linearGradient id="e39" x2="0" y1="1"><stop offset=".00" stop-color="#d7eff6"/><stop offset=".10" stop-color="#cdeaf3"/><stop offset=".20" stop-color="#c3e5f1"/><stop offset=".30" stop-color="#b7dfef"/><stop offset=".40" stop-color="#aad9ec"/><stop offset=".50" stop-color="#9ed4e9"/><stop offset=".60" stop-color="#90cde6"/><stop offset=".70" stop-color="#7ac2e2"/><stop offset=".80" stop-color="#4eb0d9"/><stop offset=".90" stop-color="#179dd1"/><stop offset="1.00" stop-color="#0b8bc7"/></linearGradient><linearGradient id="e40" x2="0" y1="1"><stop offset=".00" stop-color="#d7eff6"/><stop offset=".10" stop-color="#ceebf4"/><stop offset=".20" stop-color="#c5e6f1"/><stop offset=".30" stop-color="#bae1ef"/><stop offset=".40" stop-color="#afdcee"/><stop offset=".50" stop-color="#a5d7eb"/><stop offset=".60" stop-color="#99d2e7"/><stop offset=".70" stop-color="#81c6e3"/><stop offset=".80" stop-color="#5fb6dc"/><stop offset=".90" stop-color="#2da6d6"/><stop offset="1.00" stop-color="#149ad0"/></linearGradient><linearGradient id="e41" x2="0" y1="1"><stop offset=".00" stop-color="#d7eff6"/><stop offset=".10" stop-color="#cfebf4"/><stop offset=".20" stop-color="#c7e7f2"/><stop offset=".30" stop-color="#bee2f0"/><stop offset=".40" stop-color="#b4deef"/><stop offset=".50" stop-color="#acdaed"/><stop offset=".60" stop-color="#a2d6ea"/><stop offset=".70" stop-color="#8bcbe5"/><stop offset=".80" stop-color="#73bfe1"/><stop offset=".90" stop-color="#56b2da"/><stop offset="1.00" stop-color="#36a9d7"/></linearGradient><linearGradient id="e42" x2="0" y1="1"><stop offset=".00" stop-color="#d7eff6"/><stop offset=".10" stop-color="#d1ecf4"/><stop offset=".20" stop-color="#cae8f2"/><stop offset=".30" stop-color="#c2e4f0"/><stop offset=".40" stop-color="#b9e0ef"/><stop offset=".50" stop-color="#b3ddee"/><stop offset=".60" stop-color="#abdaed"/><stop offset=".70" stop-color="#98d1e7"/><stop offset=".80" stop-color="#83c7e4"/><stop offset=".90" stop-color="#75c0e1"/><stop offset="1.00" stop-color="#62b7dd"/></linearGradient><linearGradient id="e43" x2="0" y1="1"><stop offset=".00" stop-color="#d7eff6"/><stop offset=".10" stop-color="#d2edf5"/><stop offset=".20" stop-color="#cdeaf3"/><stop offset=".30" stop-color="#c5e6f1"/><stop offset=".40" stop-color="#bee2f0"/><stop offset=".50" stop-color="#bae0ef"/><stop offset=".60" stop-color="#b4deef"/><stop offset=".70" stop-color="#a6d7eb"/><stop offset=".80" stop-color="#94cfe7"/><stop offset=".90" stop-color="#87c8e4"/><stop offset="1.00" stop-color="#7bc3e2"/></linearGradient><linearGradient id="e44" x2="0" y1="1"><stop offset=".00" stop-color="#d7eff6"/><stop offset=".10" stop-color="#d3eef5"/><stop offset=".20" stop-color="#cfebf4"/><stop offset=".30" stop-color="#cae8f2"/><stop offset=".40" stop-color="#c4e5f1"/><stop offset=".50" stop-color="#c0e3f0"/><stop offset=".60" stop-color="#bbe1ef"/><stop offset=".70" stop-color="#b2ddee"/><stop offset=".80" stop-color="#a6d8eb"/><stop offset=".90" stop-color="#99d1e7"/><stop offset="1.00" stop-color="#8acae5"/></linearGradient><linearGradient id="e45" x2="0" y1="1"><stop offset=".00" stop-color="#d7eff6"/><stop offset=".10" stop-color="#d5eef5"/><stop offset=".20" stop-color="#d2edf4"/><stop offset=".30" stop-color="#ceebf3"/><stop offset=".40" stop-color="#c9e8f2"/><stop offset=".50" stop-color="#c6e6f1"/><stop offset=".60" stop-color="#c2e4f1"/><stop offset=".70" stop-color="#bce1ef"/><stop offset=".80" stop-color="#b3ddee"/><stop offset=".90" stop-color="#a8d8ec"/><stop offset="1.00" stop-color="#99d2e8"/></linearGradient><linearGradient id="e46" x2="0" y1="1"><stop offset=".00" stop-color="#d7eff6"/><stop offset=".10" stop-color="#d6eff5"/><stop offset=".20" stop-color="#d5eef5"/><stop offset=".30" stop-color="#d2edf5"/><stop offset=".40" stop-color="#cfebf4"/><stop offset=".50" stop-color="#cceaf3"/><stop offset=".60" stop-color="#c9e8f2"/><stop offset=".70" stop-color="#c3e4f1"/><stop offset=".80" stop-color="#bbe1ef"/><stop offset=".90" stop-color="#b1ddee"/><stop offset="1.00" stop-color="#a6d7eb"/></linearGradient><linearGradient id="e47" x2="0" y1="1"><stop offset=".00" stop-color="#d7eff6"/><stop offset=".10" stop-color="#d7f0f6"/><stop offset=".20" stop-color="#d7f0f6"/><stop offset=".30" stop-color="#d6eff6"/><stop offset=".40" stop-color="#d4eef5"/><stop offset=".50" stop-color="#d3edf5"/><stop offset=".60" stop-color="#d0ecf4"/><stop offset=".70" stop-color="#cae8f2"/><stop offset=".80" stop-color="#c2e4f0"/><stop offset=".90" stop-color="#b9e0ef"/><stop offset="1.00" stop-color="#afdbee"/></linearGradient><linearGradient id="e48" x2="0" y1="1"><stop offset=".00" stop-color="#d7eff6"/><stop offset=".10" stop-color="#d7eff6"/><stop offset=".20" stop-color="#d7eff6"/><stop offset=".30" stop-color="#d7eff6"/><stop offset=".40" stop-color="#d6eff6"/><stop offset=".50" stop-color="#d3edf5"/><stop offset=".60" stop-color="#cdeaf3"/><stop offset=".70" stop-color="#c9e8f2"/><stop offset=".80" stop-color="#c4e5f1"/><stop offset=".90" stop-color="#bee2f0"/><stop offset="1.00" stop-color="#b7dfef"/></linearGradient><linearGradient id="e49" x2="0" y1="1"><stop offset=".00" stop-color="#d7eff6"/><stop offset=".10" stop-color="#d7eff6"/><stop offset=".20" stop-color="#d6eff6"/><stop offset=".30" stop-color="#d5eff5"/><stop offset=".40" stop-color="#d4eef5"/><stop offset=".50" stop-color="#cfebf4"/><stop offset=".60" stop-color="#cae8f2"/><stop offset=".70" stop-color="#c5e6f1"/><stop offset=".80" stop-color="#bfe3f0"/><stop offset=".90" stop-color="#acdaed"/><stop offset="1.00" stop-color="#8acae5"/></linearGradient><linearGradient id="e50" x2="0" y1="1"><stop offset=".00" stop-color="#d7eff6"/><stop offset=".10" stop-color="#d6eff6"/><stop offset=".20" stop-color="#d6eff5"/><stop offset=".30" stop-color="#d4eef5"/><stop offset=".40" stop-color="#d1ecf4"/><stop offset=".50" stop-color="#cdeaf3"/><stop offset=".60" stop-color="#c7e7f2"/><stop offset=".70" stop-color="#bfe3f0"/><stop offset=".80" stop-color="#bbe1ef"/><stop offset=".90" stop-color="#bee2f0"/><stop offset="1.00" stop-color="#c8e7f2"/></linearGradient><linearGradient id="e51" x2="0" y1="1"><stop offset=".00" stop-color="#d7eff6"/><stop offset=".10" stop-color="#d6eff6"/><stop offset=".20" stop-color="#d5eff5"/><stop offset=".30" stop-color="#d3edf5"/><stop offset=".40" stop-color="#cfebf4"/><stop offset=".50" stop-color="#cae8f2"/><stop offset=".60" stop-color="#c3e5f1"/><stop offset=".70" stop-color="#bee2f0"/><stop offset=".80" stop-color="#b6dfef"/><stop offset=".90" stop-color="#9dd3e8"/><stop offset="1.00" stop-color="#72bee0"/></linearGradient><linearGradient id="e52" x2="0" y1="1"><stop offset=".00" stop-color="#d7eff6"/><stop offset=".10" stop-color="#d6eff5"/><stop offset=".20" stop-color="#d4eef5"/><stop offset=".30" stop-color="#d1ecf4"/><stop offset=".40" stop-color="#cceaf3"/><stop offset=".50" stop-color="#c7e7f2"/><stop offset=".60" stop-color="#c0e3f0"/><stop offset=".70" stop-color="#bae0ef"/><stop offset=".80" stop-color="#b2ddee"/><stop offset=".90" stop-color="#a2d6ea"/><stop offset="1.00" stop-color="#8acae5"/></linearGradient><linearGradient id="e53" x2="0" y1="1"><stop offset=".00" stop-color="#d7eff6"/><stop offset=".10" stop-color="#d5eef5"/><stop offset=".20" stop-color="#d3edf5"/><stop offset=".30" stop-color="#cfebf4"/><stop offset=".40" stop-color="#c9e8f2"/><stop offset=".50" stop-color="#c4e5f1"/><stop offset=".60" stop-color="#bee2f0"/><stop offset=".70" stop-color="#b6dfef"/><stop offset=".80" stop-color="#acdaed"/><stop offset=".90" stop-color="#a1d5ea"/><stop offset="1.00" stop-color="#96d0e7"/></linearGradient><linearGradient id="e54" x2="0" y1="1"><stop offset=".00" stop-color="#d7eff6"/><stop offset=".10" stop-color="#d4eef5"/><stop offset=".20" stop-color="#d1ecf4"/><stop offset=".30" stop-color="#cceaf3"/><stop offset=".40" stop-color="#c6e6f2"/><stop offset=".50" stop-color="#c2e4f0"/><stop offset=".60" stop-color="#bde2f0"/><stop offset=".70" stop-color="#b2ddee"/><stop offset=".80" stop-color="#a4d7ea"/><stop offset=".90" stop-color="#96d0e7"/><stop offset="1.00" stop-color="#87c8e4"/></linearGradient><linearGradient id="e55" x2="0" y1="1"><stop offset=".00" stop-color="#d7eff6"/><stop offset=".10" stop-color="#d4eef5"/><stop offset=".20" stop-color="#d0ebf4"/><stop offset=".30" stop-color="#c9e8f2"/><stop offset=".40" stop-color="#c3e5f1"/><stop offset=".50" stop-color="#c0e3f0"/><stop offset=".60" stop-color="#bce1ef"/><stop offset=".70" stop-color="#aedbee"/><stop offset=".80" stop-color="#9cd3e8"/><stop offset=".90" stop-color="#8ecce5"/><stop offset="1.00" stop-color="#81c6e3"/></linearGradient><linearGradient id="e56" x2="0" y1="1"><stop offset=".00" stop-color="#d7eff6"/><stop offset=".10" stop-color="#d4eef5"/><stop offset=".20" stop-color="#d0ecf4"/><stop offset=".30" stop-color="#cae8f3"/><stop offset=".40" stop-color="#c4e5f1"/><stop offset=".50" stop-color="#c0e3f0"/><stop offset=".60" stop-color="#bbe1ef"/><stop offset=".70" stop-color="#addbed"/><stop offset=".80" stop-color="#9cd3e8"/><stop offset=".90" stop-color="#91cee6"/><stop offset="1.00" stop-color="#89cae5"/></linearGradient><linearGradient id="e57" x2="0" y1="1"><stop offset=".00" stop-color="#d7eff6"/><stop offset=".10" stop-color="#d6eff5"/><stop offset=".20" stop-color="#d3edf5"/><stop offset=".30" stop-color="#d0ebf4"/><stop offset=".40" stop-color="#cae8f3"/><stop offset=".50" stop-color="#c2e4f1"/><stop offset=".60" stop-color="#b9e0ef"/><stop offset=".70" stop-color="#b1dcee"/><stop offset=".80" stop-color="#a7d8eb"/><stop offset=".90" stop-color="#9cd3e8"/><stop offset="1.00" stop-color="#91cee6"/></linearGradient><linearGradient id="e58" x2="0" y1="1"><stop offset=".00" stop-color="#d7eff6"/><stop offset=".10" stop-color="#d7eff6"/><stop offset=".20" stop-color="#d7eff6"/><stop offset=".30" stop-color="#d5eef5"/><stop offset=".40" stop-color="#d0ecf4"/><stop offset=".50" stop-color="#cbe9f3"/><stop offset=".60" stop-color="#c4e5f1"/><stop offset=".70" stop-color="#bce1ef"/><stop offset=".80" stop-color="#b2ddee"/><stop offset=".90" stop-color="#a7d8eb"/><stop offset="1.00" stop-color="#99d2e7"/></linearGradient><linearGradient id="e59" x2="0" y1="1"><stop offset=".00" stop-color="#d7eff6"/><stop offset=".10" stop-color="#d8f0f6"/><stop offset=".20" stop-color="#d8f0f6"/><stop offset=".30" stop-color="#d8f0f6"/><stop offset=".40" stop-color="#d7eff6"/><stop offset=".50" stop-color="#d4eef5"/><stop offset=".60" stop-color="#cfebf4"/><stop offset=".70" stop-color="#c7e7f2"/><stop offset=".80" stop-color="#bde2f0"/><stop offset=".90" stop-color="#b2ddee"/><stop offset="1.00" stop-color="#a6d7eb"/></linearGradient><linearGradient id="e60" x2="0" y1="1"><stop offset=".00" stop-color="#d7eff6"/><stop offset=".10" stop-color="#d7eff6"/><stop offset=".20" stop-color="#d8f0f6"/><stop offset=".30" stop-color="#daf1f7"/><stop offset=".40" stop-color="#dcf2f7"/><stop offset=".50" stop-color="#dcf2f7"/><stop offset=".60" stop-color="#dbf1f7"/><stop offset=".70" stop-color="#d3edf5"/><stop offset=".80" stop-color="#c7e7f2"/><stop offset=".90" stop-color="#bde2f0"/><stop offset="1.00" stop-color="#b2ddee"/></linearGradient><linearGradient id="e61" x2="0" y1="1"><stop offset=".00" stop-color="#d7eff6"/><stop offset=".10" stop-color="#d7eff6"/><stop offset=".20" stop-color="#d7f0f6"/><stop offset=".30" stop-color="#dcf2f7"/><stop offset=".40" stop-color="#e2f4f9"/><stop offset=".50" stop-color="#e3f5f9"/><stop offset=".60" stop-color="#e3f5f9"/><stop offset=".70" stop-color="#dbf1f7"/><stop offset=".80" stop-color="#ceebf4"/><stop offset=".90" stop-color="#c3e5f1"/><stop offset="1.00" stop-color="#b8e0ef"/></linearGradient><linearGradient id="e62" x2="0" y1="1"><stop offset=".00" stop-color="#d7eff6"/><stop offset=".10" stop-color="#d7eff6"/><stop offset=".20" stop-color="#d7eff6"/><stop offset=".30" stop-color="#dff3f8"/><stop offset=".40" stop-color="#e7f6fa"/><stop offset=".50" stop-color="#e7f6fa"/><stop offset=".60" stop-color="#e5f6fa"/><stop offset=".70" stop-color="#ddf2f7"/><stop offset=".80" stop-color="#d0ebf4"/><stop offset=".90" stop-color="#c3e4f1"/><stop offset="1.00" stop-color="#b4deee"/></linearGradient><linearGradient id="e63" x2="0" y1="1"><stop offset=".00" stop-color="#d7eff6"/><stop offset=".10" stop-color="#d7eff6"/><stop offset=".20" stop-color="#d7f0f6"/><stop offset=".30" stop-color="#e0f3f8"/><stop offset=".40" stop-color="#e8f7fa"/><stop offset=".50" stop-color="#e8f7fa"/><stop offset=".60" stop-color="#e8f7fa"/><stop offset=".70" stop-color="#e0f3f8"/><stop offset=".80" stop-color="#d1ecf4"/><stop offset=".90" stop-color="#bfe3f0"/><stop offset="1.00" stop-color="#a6d8eb"/></linearGradient><linearGradient id="e64" x2="0" y1="1"><stop offset=".00" stop-color="#d7eff6"/><stop offset=".10" stop-color="#d7eff6"/><stop offset=".20" stop-color="#d8f0f6"/><stop offset=".30" stop-color="#e0f4f8"/><stop offset=".40" stop-color="#e9f7fb"/><stop offset=".50" stop-color="#eaf8fb"/><stop offset=".60" stop-color="#eaf8fb"/><stop offset=".70" stop-color="#e2f4f9"/><stop offset=".80" stop-color="#d3edf5"/><stop offset=".90" stop-color="#bee2f0"/><stop offset="1.00" stop-color="#a1d5e9"/></linearGradient><linearGradient id="e65" x2="0" y1="1"><stop offset=".00" stop-color="#d7eff6"/><stop offset=".10" stop-color="#d7f0f6"/><stop offset=".20" stop-color="#d9f0f6"/><stop offset=".30" stop-color="#e1f4f9"/><stop offset=".40" stop-color="#e9f7fb"/><stop offset=".50" stop-color="#ecf8fb"/><stop offset=".60" stop-color="#ecf9fb"/><stop offset=".70" stop-color="#e4f5f9"/><stop offset=".80" stop-color="#d4eef5"/><stop offset=".90" stop-color="#c4e5f1"/><stop offset="1.00" stop-color="#b1dcee"/></linearGradient><linearGradient id="e66" x2="0" y1="1"><stop offset=".00" stop-color="#d7eff6"/><stop offset=".10" stop-color="#d7f0f6"/><stop offset=".20" stop-color="#d9f1f6"/><stop offset=".30" stop-color="#e2f4f9"/><stop offset=".40" stop-color="#e9f7fb"/><stop offset=".50" stop-color="#e8f7fa"/><stop offset=".60" stop-color="#e5f6fa"/><stop offset=".70" stop-color="#dbf1f7"/><stop offset=".80" stop-color="#cbe9f3"/><stop offset=".90" stop-color="#bee2f0"/><stop offset="1.00" stop-color="#b0dcee"/></linearGradient><linearGradient id="e67" x2="0" y1="1"><stop offset=".00" stop-color="#d7eff6"/><stop offset=".10" stop-color="#d8f0f6"/><stop offset=".20" stop-color="#daf1f7"/><stop offset=".30" stop-color="#e1f4f8"/><stop offset=".40" stop-color="#e5f6fa"/><stop offset=".50" stop-color="#e0f3f8"/><stop offset=".60" stop-color="#d4eef5"/><stop offset=".70" stop-color="#c7e7f2"/><stop offset=".80" stop-color="#b7dfef"/><stop offset=".90" stop-color="#aad9ec"/><stop offset="1.00" stop-color="#9cd3e8"/></linearGradient><linearGradient id="e68" x2="0" y1="1"><stop offset=".00" stop-color="#d7eff6"/><stop offset=".10" stop-color="#d9f0f6"/><stop offset=".20" stop-color="#dbf1f7"/><stop offset=".30" stop-color="#def3f8"/><stop offset=".40" stop-color="#e0f4f8"/><stop offset=".50" stop-color="#d9f0f6"/><stop offset=".60" stop-color="#cbe9f3"/><stop offset=".70" stop-color="#bde1f0"/><stop offset=".80" stop-color="#addbed"/><stop offset=".90" stop-color="#9fd5e9"/><stop offset="1.00" stop-color="#93cfe6"/></linearGradient><linearGradient id="e69" x2="0" y1="1"><stop offset=".00" stop-color="#d7eff6"/><stop offset=".10" stop-color="#dbf1f7"/><stop offset=".20" stop-color="#dcf2f7"/><stop offset=".30" stop-color="#dcf2f7"/><stop offset=".40" stop-color="#dbf1f7"/><stop offset=".50" stop-color="#d3edf5"/><stop offset=".60" stop-color="#c5e6f1"/><stop offset=".70" stop-color="#b6dfef"/><stop offset=".80" stop-color="#a7d8eb"/><stop offset=".90" stop-color="#9ad2e8"/><stop offset="1.00" stop-color="#8ecce5"/></linearGradient><linearGradient id="e70" x2="0" y1="1"><stop offset=".00" stop-color="#d7eff6"/><stop offset=".10" stop-color="#d9f0f6"/><stop offset=".20" stop-color="#daf1f6"/><stop offset=".30" stop-color="#d8f0f6"/><stop offset=".40" stop-color="#d6eff5"/><stop offset=".50" stop-color="#cceaf3"/><stop offset=".60" stop-color="#bee2f0"/><stop offset=".70" stop-color="#b0dcee"/><stop offset=".80" stop-color="#a2d5ea"/><stop offset=".90" stop-color="#95cfe7"/><stop offset="1.00" stop-color="#89c9e5"/></linearGradient><linearGradient id="e71" x2="0" y1="1"><stop offset=".00" stop-color="#d7eff6"/><stop offset=".10" stop-color="#d7eff6"/><stop offset=".20" stop-color="#d6eff6"/><stop offset=".30" stop-color="#d5eef5"/><stop offset=".40" stop-color="#d1ecf4"/><stop offset=".50" stop-color="#c7e7f2"/><stop offset=".60" stop-color="#b8dfef"/><stop offset=".70" stop-color="#aad9ec"/><stop offset=".80" stop-color="#9cd3e8"/><stop offset=".90" stop-color="#90cde6"/><stop offset="1.00" stop-color="#84c7e4"/></linearGradient><linearGradient id="e72" x2="0" y1="1"><stop offset=".00" stop-color="#d7eff6"/><stop offset=".10" stop-color="#d5eff5"/><stop offset=".20" stop-color="#d3eef5"/><stop offset=".30" stop-color="#d1ecf4"/><stop offset=".40" stop-color="#ceebf4"/><stop offset=".50" stop-color="#c3e4f1"/><stop offset=".60" stop-color="#b3ddee"/><stop offset=".70" stop-color="#a5d7eb"/><stop offset=".80" stop-color="#98d1e7"/><stop offset=".90" stop-color="#8dcbe5"/><stop offset="1.00" stop-color="#83c6e3"/></linearGradient><linearGradient id="e73" x2="0" y1="1"><stop offset=".00" stop-color="#d7eff6"/><stop offset=".10" stop-color="#d4eef5"/><stop offset=".20" stop-color="#d2ecf4"/><stop offset=".30" stop-color="#cfebf4"/><stop offset=".40" stop-color="#cbe9f3"/><stop offset=".50" stop-color="#bee2f0"/><stop offset=".60" stop-color="#aedbed"/><stop offset=".70" stop-color="#a0d5e9"/><stop offset=".80" stop-color="#95cfe7"/><stop offset=".90" stop-color="#8acae5"/><stop offset="1.00" stop-color="#81c6e3"/></linearGradient><linearGradient id="e74" x2="0" y1="1"><stop offset=".00" stop-color="#d7eff6"/><stop offset=".10" stop-color="#d5eef5"/><stop offset=".20" stop-color="#d2edf4"/><stop offset=".30" stop-color="#ceebf3"/><stop offset=".40" stop-color="#c8e7f2"/><stop offset=".50" stop-color="#bae0ef"/><stop offset=".60" stop-color="#a8d9ec"/><stop offset=".70" stop-color="#9cd3e8"/><stop offset=".80" stop-color="#91cee6"/><stop offset=".90" stop-color="#88c9e4"/><stop offset="1.00" stop-color="#80c5e3"/></linearGradient><linearGradient id="e75" x2="0" y1="1"><stop offset=".00" stop-color="#d7eff6"/><stop offset=".10" stop-color="#d5eef5"/><stop offset=".20" stop-color="#d2edf5"/><stop offset=".30" stop-color="#cdeaf3"/><stop offset=".40" stop-color="#c5e6f1"/><stop offset=".50" stop-color="#b7dfef"/><stop offset=".60" stop-color="#a7d8eb"/><stop offset=".70" stop-color="#9ad2e8"/><stop offset=".80" stop-color="#8fcce6"/><stop offset=".90" stop-color="#85c8e4"/><stop offset="1.00" stop-color="#7ec4e3"/></linearGradient><linearGradient id="e76" x2="0" y1="1"><stop offset=".00" stop-color="#d7eff6"/><stop offset=".10" stop-color="#d5eff5"/><stop offset=".20" stop-color="#d2edf5"/><stop offset=".30" stop-color="#cce9f3"/><stop offset=".40" stop-color="#c2e4f1"/><stop offset=".50" stop-color="#b7dfef"/><stop offset=".60" stop-color="#aad9ec"/><stop offset=".70" stop-color="#9bd2e8"/><stop offset=".80" stop-color="#8dcce5"/><stop offset=".90" stop-color="#84c7e4"/><stop offset="1.00" stop-color="#7cc3e2"/></linearGradient><linearGradient id="e77" x2="0" y1="1"><stop offset=".00" stop-color="#d7eff6"/><stop offset=".10" stop-color="#d5eff5"/><stop offset=".20" stop-color="#d3edf5"/><stop offset=".30" stop-color="#cce9f3"/><stop offset=".40" stop-color="#c2e4f0"/><stop offset=".50" stop-color="#b8e0ef"/><stop offset=".60" stop-color="#addaed"/><stop offset=".70" stop-color="#99d2e8"/><stop offset=".80" stop-color="#8ccbe5"/><stop offset=".90" stop-color="#8acae5"/><stop offset="1.00" stop-color="#89cae5"/></linearGradient><linearGradient id="e78" x2="0" y1="1"><stop offset=".00" stop-color="#d7eff6"/><stop offset=".10" stop-color="#d6eff5"/><stop offset=".20" stop-color="#d3edf5"/><stop offset=".30" stop-color="#cceaf3"/><stop offset=".40" stop-color="#c2e4f1"/><stop offset=".50" stop-color="#bae0ef"/><stop offset=".60" stop-color="#afdcee"/><stop offset=".70" stop-color="#99d2e8"/><stop offset=".80" stop-color="#8bcae5"/><stop offset=".90" stop-color="#8ecce5"/><stop offset="1.00" stop-color="#9dd3e8"/></linearGradient><linearGradient id="e79" x2="0" y1="1"><stop offset=".00" stop-color="#d7eff6"/><stop offset=".10" stop-color="#d5eff5"/><stop offset=".20" stop-color="#d2edf5"/><stop offset=".30" stop-color="#cceaf3"/><stop offset=".40" stop-color="#c3e5f1"/><stop offset=".50" stop-color="#bbe1ef"/><stop offset=".60" stop-color="#b0dcee"/><stop offset=".70" stop-color="#99d1e7"/><stop offset=".80" stop-color="#89cae5"/><stop offset=".90" stop-color="#8dcce5"/><stop offset="1.00" stop-color="#9ed4e8"/></linearGradient><linearGradient id="e80" x2="0" y1="1"><stop offset=".00" stop-color="#d7eff6"/><stop offset=".10" stop-color="#d5eef5"/><stop offset=".20" stop-color="#d2edf4"/><stop offset=".30" stop-color="#cce9f3"/><stop offset=".40" stop-color="#c4e5f1"/><stop offset=".50" stop-color="#bbe1ef"/><stop offset=".60" stop-color="#b0dcee"/><stop offset=".70" stop-color="#99d1e7"/><stop offset=".80" stop-color="#88c9e4"/><stop offset=".90" stop-color="#8ccbe5"/><stop offset="1.00" stop-color="#9dd3e8"/></linearGradient><linearGradient id="e81" x2="0" y1="1"><stop offset=".00" stop-color="#d7eff6"/><stop offset=".10" stop-color="#d5eef5"/><stop offset=".20" stop-color="#d1ecf4"/><stop offset=".30" stop-color="#cce9f3"/><stop offset=".40" stop-color="#c4e5f1"/><stop offset=".50" stop-color="#bce1ef"/><stop offset=".60" stop-color="#b1dcee"/><stop offset=".70" stop-color="#99d2e7"/><stop offset=".80" stop-color="#89c9e5"/><stop offset=".90" stop-color="#8ccbe5"/><stop offset="1.00" stop-color="#9cd3e8"/></linearGradient><linearGradient id="e82" x2="0" y1="1"><stop offset=".00" stop-color="#d7eff6"/><stop offset=".10" stop-color="#d4eef5"/><stop offset=".20" stop-color="#d1ecf4"/><stop offset=".30" stop-color="#cbe9f3"/><stop offset=".40" stop-color="#c4e5f1"/><stop offset=".50" stop-color="#bce1ef"/><stop offset=".60" stop-color="#b1dcee"/><stop offset=".70" stop-color="#99d2e8"/><stop offset=".80" stop-color="#8acae5"/><stop offset=".90" stop-color="#8dcbe5"/><stop offset="1.00" stop-color="#9bd3e8"/></linearGradient><linearGradient id="e83" x2="0" y1="1"><stop offset=".00" stop-color="#d7eff6"/><stop offset=".10" stop-color="#d4eef5"/><stop offset=".20" stop-color="#d0ecf4"/><stop offset=".30" stop-color="#cae8f2"/><stop offset=".40" stop-color="#c2e4f1"/><stop offset=".50" stop-color="#b9e0ef"/><stop offset=".60" stop-color="#aedbee"/><stop offset=".70" stop-color="#99d1e7"/><stop offset=".80" stop-color="#8acae5"/><stop offset=".90" stop-color="#8dcce5"/><stop offset="1.00" stop-color="#9bd2e8"/></linearGradient><linearGradient id="e84" x2="0" y1="1"><stop offset=".00" stop-color="#d7eff6"/><stop offset=".10" stop-color="#d4eef5"/><stop offset=".20" stop-color="#d0ebf4"/><stop offset=".30" stop-color="#c9e8f2"/><stop offset=".40" stop-color="#c0e3f0"/><stop offset=".50" stop-color="#b7dfef"/><stop offset=".60" stop-color="#acdaed"/><stop offset=".70" stop-color="#98d1e7"/><stop offset=".80" stop-color="#8bcae5"/><stop offset=".90" stop-color="#8ecce5"/><stop offset="1.00" stop-color="#9ad2e8"/></linearGradient><linearGradient id="e85" x2="0" y1="1"><stop offset=".00" stop-color="#d7eff6"/><stop offset=".10" stop-color="#d4eef5"/><stop offset=".20" stop-color="#d0ebf4"/><stop offset=".30" stop-color="#c8e7f2"/><stop offset=".40" stop-color="#bee2f0"/><stop offset=".50" stop-color="#b5deef"/><stop offset=".60" stop-color="#aad9ec"/><stop offset=".70" stop-color="#98d1e7"/><stop offset=".80" stop-color="#8ccbe5"/><stop offset=".90" stop-color="#8ecce5"/><stop offset="1.00" stop-color="#99d2e8"/></linearGradient><linearGradient id="e86" x2="0" y1="1"><stop offset=".00" stop-color="#d7eff6"/><stop offset=".10" stop-color="#d4eef5"/><stop offset=".20" stop-color="#d0ebf4"/><stop offset=".30" stop-color="#c7e7f2"/><stop offset=".40" stop-color="#bce1f0"/><stop offset=".50" stop-color="#b3ddee"/><stop offset=".60" stop-color="#a9d9ec"/><stop offset=".70" stop-color="#97d0e7"/><stop offset=".80" stop-color="#8bcae5"/><stop offset=".90" stop-color="#8dcce5"/><stop offset="1.00" stop-color="#99d1e7"/></linearGradient><linearGradient id="e87" x2="0" y1="1"><stop offset=".00" stop-color="#d7eff6"/><stop offset=".10" stop-color="#d4eef5"/><stop offset=".20" stop-color="#d0ebf4"/><stop offset=".30" stop-color="#c6e6f2"/><stop offset=".40" stop-color="#bae0ef"/><stop offset=".50" stop-color="#b2ddee"/><stop offset=".60" stop-color="#a8d8ec"/><stop offset=".70" stop-color="#96d0e7"/><stop offset=".80" stop-color="#8acae5"/><stop offset=".90" stop-color="#8ccbe5"/><stop offset="1.00" stop-color="#98d1e7"/></linearGradient><linearGradient id="e88" x2="0" y1="1"><stop offset=".00" stop-color="#d7eff6"/><stop offset=".10" stop-color="#d4eef5"/><stop offset=".20" stop-color="#d0ebf4"/><stop offset=".30" stop-color="#c7e7f2"/><stop offset=".40" stop-color="#bbe1ef"/><stop offset=".50" stop-color="#b2ddee"/><stop offset=".60" stop-color="#a7d8eb"/><stop offset=".70" stop-color="#95cfe7"/><stop offset=".80" stop-color="#89c9e5"/><stop offset=".90" stop-color="#8ccbe5"/><stop offset="1.00" stop-color="#97d1e7"/></linearGradient><linearGradient id="e89" x2="0" y1="1"><stop offset=".00" stop-color="#d7eff6"/><stop offset=".10" stop-color="#d4eef5"/><stop offset=".20" stop-color="#d0ebf4"/><stop offset=".30" stop-color="#c7e7f2"/><stop offset=".40" stop-color="#bce1f0"/><stop offset=".50" stop-color="#b2ddee"/><stop offset=".60" stop-color="#a6d7eb"/><stop offset=".70" stop-color="#93cfe6"/><stop offset=".80" stop-color="#88c9e4"/><stop offset=".90" stop-color="#8acae5"/><stop offset="1.00" stop-color="#97d0e7"/></linearGradient><linearGradient id="e90" x2="0" y1="1"><stop offset=".00" stop-color="#d7eff6"/><stop offset=".10" stop-color="#d4eef5"/><stop offset=".20" stop-color="#d0ebf4"/><stop offset=".30" stop-color="#c8e7f2"/><stop offset=".40" stop-color="#bde2f0"/><stop offset=".50" stop-color="#b2ddee"/><stop offset=".60" stop-color="#a5d7eb"/><stop offset=".70" stop-color="#91cee6"/><stop offset=".80" stop-color="#85c8e4"/><stop offset=".90" stop-color="#88c9e4"/><stop offset="1.00" stop-color="#96d0e7"/></linearGradient><linearGradient id="e91" x2="0" y1="1"><stop offset=".00" stop-color="#d7eff6"/><stop offset=".10" stop-color="#d4eef5"/><stop offset=".20" stop-color="#cfebf4"/><stop offset=".30" stop-color="#c8e7f2"/><stop offset=".40" stop-color="#bee2f0"/><stop offset=".50" stop-color="#b2ddee"/><stop offset=".60" stop-color="#a4d6ea"/><stop offset=".70" stop-color="#8fcde6"/><stop offset=".80" stop-color="#83c6e3"/><stop offset=".90" stop-color="#86c8e4"/><stop offset="1.00" stop-color="#95cfe7"/></linearGradient><linearGradient id="e92" x2="0" y1="1"><stop offset=".00" stop-color="#d7eff6"/><stop offset=".10" stop-color="#d4eef5"/><stop offset=".20" stop-color="#cfebf4"/><stop offset=".30" stop-color="#c8e8f2"/><stop offset=".40" stop-color="#bfe3f0"/><stop offset=".50" stop-color="#b3ddee"/><stop offset=".60" stop-color="#a3d6ea"/><stop offset=".70" stop-color="#8dcce5"/><stop offset=".80" stop-color="#80c5e3"/><stop offset=".90" stop-color="#84c7e4"/><stop offset="1.00" stop-color="#93cfe6"/></linearGradient><linearGradient id="e93" x2="0" y1="1"><stop offset=".00" stop-color="#d7eff6"/><stop offset=".10" stop-color="#d3edf5"/><stop offset=".20" stop-color="#cfebf4"/><stop offset=".30" stop-color="#c9e8f2"/><stop offset=".40" stop-color="#c1e3f0"/><stop offset=".50" stop-color="#addbed"/><stop offset=".60" stop-color="#97d0e7"/><stop offset=".70" stop-color="#8bcae5"/><stop offset=".80" stop-color="#85c7e4"/><stop offset=".90" stop-color="#8bcbe5"/><stop offset="1.00" stop-color="#9ed4e9"/></linearGradient><linearGradient id="e94" x2="0" y1="1"><stop offset=".00" stop-color="#d7eff6"/><stop offset=".10" stop-color="#d3edf5"/><stop offset=".20" stop-color="#ceebf3"/><stop offset=".30" stop-color="#c8e8f2"/><stop offset=".40" stop-color="#c0e3f0"/><stop offset=".50" stop-color="#a5d7eb"/><stop offset=".60" stop-color="#8ecce5"/><stop offset=".70" stop-color="#8ecce5"/><stop offset=".80" stop-color="#8ecce6"/><stop offset=".90" stop-color="#99d2e7"/><stop offset="1.00" stop-color="#b1ddee"/></linearGradient><linearGradient id="e95" x2="0" y1="1"><stop offset=".00" stop-color="#d7eff6"/><stop offset=".10" stop-color="#d2edf5"/><stop offset=".20" stop-color="#cdeaf3"/><stop offset=".30" stop-color="#c7e7f2"/><stop offset=".40" stop-color="#bee2f0"/><stop offset=".50" stop-color="#a2d6ea"/><stop offset=".60" stop-color="#8bcbe5"/><stop offset=".70" stop-color="#90cde6"/><stop offset=".80" stop-color="#98d1e7"/><stop offset=".90" stop-color="#a3d6ea"/><stop offset="1.00" stop-color="#b2ddee"/></linearGradient><linearGradient id="e96" x2="0" y1="1"><stop offset=".00" stop-color="#d7eff6"/><stop offset=".10" stop-color="#d2ecf4"/><stop offset=".20" stop-color="#cbe9f3"/><stop offset=".30" stop-color="#c5e6f1"/><stop offset=".40" stop-color="#bce1ef"/><stop offset=".50" stop-color="#9fd4e9"/><stop offset=".60" stop-color="#89c9e5"/><stop offset=".70" stop-color="#8fcde6"/><stop offset=".80" stop-color="#9ad2e8"/><stop offset=".90" stop-color="#a4d6ea"/><stop offset="1.00" stop-color="#aedbed"/></linearGradient><linearGradient id="e97" x2="0" y1="1"><stop offset=".00" stop-color="#d7eff6"/><stop offset=".10" stop-color="#d1ecf4"/><stop offset=".20" stop-color="#cae9f3"/><stop offset=".30" stop-color="#c3e5f1"/><stop offset=".40" stop-color="#bae0ef"/><stop offset=".50" stop-color="#9dd3e8"/><stop offset=".60" stop-color="#86c8e4"/><stop offset=".70" stop-color="#8bcbe5"/><stop offset=".80" stop-color="#94cfe7"/><stop offset=".90" stop-color="#9ed4e9"/><stop offset="1.00" stop-color="#aadaec"/></linearGradient><linearGradient id="e98" x2="0" y1="1"><stop offset=".00" stop-color="#d7eff6"/><stop offset=".10" stop-color="#d0ecf4"/><stop offset=".20" stop-color="#c8e7f2"/><stop offset=".30" stop-color="#c0e3f0"/><stop offset=".40" stop-color="#b6deef"/><stop offset=".50" stop-color="#98d1e7"/><stop offset=".60" stop-color="#82c6e3"/><stop offset=".70" stop-color="#86c8e4"/><stop offset=".80" stop-color="#8ecce5"/><stop offset=".90" stop-color="#98d1e7"/><stop offset="1.00" stop-color="#a6d7eb"/></linearGradient><linearGradient id="e99" x2="0" y1="1"><stop offset=".00" stop-color="#d7eff6"/><stop offset=".10" stop-color="#ceebf4"/><stop offset=".20" stop-color="#c5e6f1"/><stop offset=".30" stop-color="#bbe1ef"/><stop offset=".40" stop-color="#aedbed"/><stop offset=".50" stop-color="#91cde6"/><stop offset=".60" stop-color="#7cc3e2"/><stop offset=".70" stop-color="#81c5e3"/><stop offset=".80" stop-color="#89c9e4"/><stop offset=".90" stop-color="#92cee6"/><stop offset="1.00" stop-color="#9fd4e9"/></linearGradient><linearGradient id="e100" x2="0" y1="1"><stop offset=".00" stop-color="#d7eff6"/><stop offset=".10" stop-color="#cdeaf3"/><stop offset=".20" stop-color="#c2e4f0"/><stop offset=".30" stop-color="#b6dfef"/><stop offset=".40" stop-color="#a7d8eb"/><stop offset=".50" stop-color="#89cae5"/><stop offset=".60" stop-color="#77c1e1"/><stop offset=".70" stop-color="#7bc3e2"/><stop offset=".80" stop-color="#84c7e4"/><stop offset=".90" stop-color="#8ecce5"/><stop offset="1.00" stop-color="#99d1e7"/></linearGradient><linearGradient id="e101" x2="0" y1="1"><stop offset=".00" stop-color="#d7eff6"/><stop offset=".10" stop-color="#cce9f3"/><stop offset=".20" stop-color="#bfe3f0"/><stop offset=".30" stop-color="#b1dcee"/><stop offset=".40" stop-color="#9fd4e9"/><stop offset=".50" stop-color="#82c6e3"/><stop offset=".60" stop-color="#71bee0"/><stop offset=".70" stop-color="#76c1e1"/><stop offset=".80" stop-color="#80c5e3"/><stop offset=".90" stop-color="#89c9e5"/><stop offset="1.00" stop-color="#92cee6"/></linearGradient><linearGradient id="e102" x2="0" y1="1"><stop offset=".00" stop-color="#d7eff6"/><stop offset=".10" stop-color="#cbe9f3"/><stop offset=".20" stop-color="#bde2f0"/><stop offset=".30" stop-color="#acdaed"/><stop offset=".40" stop-color="#97d1e7"/><stop offset=".50" stop-color="#7dc4e2"/><stop offset=".60" stop-color="#6bbbdf"/><stop offset=".70" stop-color="#73bfe1"/><stop offset=".80" stop-color="#7cc3e2"/><stop offset=".90" stop-color="#84c7e4"/><stop offset="1.00" stop-color="#8ccbe5"/></linearGradient><linearGradient id="e103" x2="0" y1="1"><stop offset=".00" stop-color="#d7eff6"/><stop offset=".10" stop-color="#cdeaf3"/><stop offset=".20" stop-color="#c0e3f0"/><stop offset=".30" stop-color="#afdbee"/><stop offset=".40" stop-color="#9ad2e8"/><stop offset=".50" stop-color="#81c6e3"/><stop offset=".60" stop-color="#73bfe1"/><stop offset=".70" stop-color="#77c1e1"/><stop offset=".80" stop-color="#7ec4e3"/><stop offset=".90" stop-color="#85c7e4"/><stop offset="1.00" stop-color="#8ecce5"/></linearGradient><linearGradient id="e104" x2="0" y1="1"><stop offset=".00" stop-color="#d7eff6"/><stop offset=".10" stop-color="#ceebf4"/><stop offset=".20" stop-color="#c3e5f1"/><stop offset=".30" stop-color="#b4deee"/><stop offset=".40" stop-color="#a1d5e9"/><stop offset=".50" stop-color="#88c9e4"/><stop offset=".60" stop-color="#79c2e2"/><stop offset=".70" stop-color="#7cc3e2"/><stop offset=".80" stop-color="#82c6e3"/><stop offset=".90" stop-color="#89cae5"/><stop offset="1.00" stop-color="#94cfe6"/></linearGradient><linearGradient id="e105" x2="0" y1="1"><stop offset=".00" stop-color="#d7eff6"/><stop offset=".10" stop-color="#d0ecf4"/><stop offset=".20" stop-color="#c6e6f2"/><stop offset=".30" stop-color="#b9e0ef"/><stop offset=".40" stop-color="#a8d8ec"/><stop offset=".50" stop-color="#8fcce6"/><stop offset=".60" stop-color="#80c5e3"/><stop offset=".70" stop-color="#82c6e3"/><stop offset=".80" stop-color="#86c8e4"/><stop offset=".90" stop-color="#8ecce5"/><stop offset="1.00" stop-color="#99d2e8"/></linearGradient><linearGradient id="e106" x2="0" y1="1"><stop offset=".00" stop-color="#d7eff6"/><stop offset=".10" stop-color="#d1ecf4"/><stop offset=".20" stop-color="#c9e8f2"/><stop offset=".30" stop-color="#bee2f0"/><stop offset=".40" stop-color="#afdbee"/><stop offset=".50" stop-color="#96d0e7"/><stop offset=".60" stop-color="#86c8e4"/><stop offset=".70" stop-color="#87c9e4"/><stop offset=".80" stop-color="#8bcae5"/><stop offset=".90" stop-color="#92cee6"/><stop offset="1.00" stop-color="#9fd4e9"/></linearGradient><linearGradient id="e107" x2="0" y1="1"><stop offset=".00" stop-color="#d7eff6"/><stop offset=".10" stop-color="#d2edf5"/><stop offset=".20" stop-color="#cce9f3"/><stop offset=".30" stop-color="#c2e4f1"/><stop offset=".40" stop-color="#b6deef"/><stop offset=".50" stop-color="#9dd3e8"/><stop offset=".60" stop-color="#8dcbe5"/><stop offset=".70" stop-color="#8dcce5"/><stop offset=".80" stop-color="#8fcde6"/><stop offset=".90" stop-color="#97d0e7"/><stop offset="1.00" stop-color="#a5d7eb"/></linearGradient><linearGradient id="e108" x2="0" y1="1"><stop offset=".00" stop-color="#d7eff6"/><stop offset=".10" stop-color="#d4eef5"/><stop offset=".20" stop-color="#ceebf4"/><stop offset=".30" stop-color="#c7e7f2"/><stop offset=".40" stop-color="#bbe1ef"/><stop offset=".50" stop-color="#a4d7ea"/><stop offset=".60" stop-color="#93cee6"/><stop offset=".70" stop-color="#94cfe6"/><stop offset=".80" stop-color="#95d0e7"/><stop offset=".90" stop-color="#9dd4e8"/><stop offset="1.00" stop-color="#acdaed"/></linearGradient><linearGradient id="e109" x2="0" y1="1"><stop offset=".00" stop-color="#d7eff6"/><stop offset=".10" stop-color="#d5eef5"/><stop offset=".20" stop-color="#d1ecf4"/><stop offset=".30" stop-color="#cbe9f3"/><stop offset=".40" stop-color="#c1e4f0"/><stop offset=".50" stop-color="#abdaec"/><stop offset=".60" stop-color="#99d2e7"/><stop offset=".70" stop-color="#9ad2e8"/><stop offset=".80" stop-color="#9cd3e8"/><stop offset=".90" stop-color="#a4d6ea"/><stop offset="1.00" stop-color="#b3ddee"/></linearGradient><linearGradient id="e110" x2="0" y1="1"><stop offset=".00" stop-color="#d7eff6"/><stop offset=".10" stop-color="#d6eff5"/><stop offset=".20" stop-color="#d3edf5"/><stop offset=".30" stop-color="#cfebf4"/><stop offset=".40" stop-color="#c7e7f2"/><stop offset=".50" stop-color="#b2ddee"/><stop offset=".60" stop-color="#9fd5e9"/><stop offset=".70" stop-color="#a0d5e9"/><stop offset=".80" stop-color="#a2d6ea"/><stop offset=".90" stop-color="#aad9ec"/><stop offset="1.00" stop-color="#b9e0ef"/></linearGradient><linearGradient id="e111" x2="0" y1="1"><stop offset=".00" stop-color="#d7eff6"/><stop offset=".10" stop-color="#d6eff6"/><stop offset=".20" stop-color="#d6eff5"/><stop offset=".30" stop-color="#d3edf5"/><stop offset=".40" stop-color="#cdeaf3"/><stop offset=".50" stop-color="#b8dfef"/><stop offset=".60" stop-color="#a6d7eb"/><stop offset=".70" stop-color="#a7d8eb"/><stop offset=".80" stop-color="#a9d9ec"/><stop offset=".90" stop-color="#b1dcee"/><stop offset="1.00" stop-color="#c0e3f0"/></linearGradient><linearGradient id="e112" x2="0" y1="1"><stop offset=".00" stop-color="#d7eff6"/><stop offset=".10" stop-color="#d6eff6"/><stop offset=".20" stop-color="#d5eef5"/><stop offset=".30" stop-color="#d2edf4"/><stop offset=".40" stop-color="#cceaf3"/><stop offset=".50" stop-color="#bae0ef"/><stop offset=".60" stop-color="#abdaed"/><stop offset=".70" stop-color="#acdaed"/><stop offset=".80" stop-color="#aedbed"/><stop offset=".90" stop-color="#b5deef"/><stop offset="1.00" stop-color="#c0e3f0"/></linearGradient><linearGradient id="e113" x2="0" y1="1"><stop offset=".00" stop-color="#d7eff6"/><stop offset=".10" stop-color="#d5eff5"/><stop offset=".20" stop-color="#d3edf5"/><stop offset=".30" stop-color="#cfebf4"/><stop offset=".40" stop-color="#c9e8f2"/><stop offset=".50" stop-color="#b9e0ef"/><stop offset=".60" stop-color="#addbed"/><stop offset=".70" stop-color="#aedbed"/><stop offset=".80" stop-color="#b0dcee"/><stop offset=".90" stop-color="#b5deef"/><stop offset="1.00" stop-color="#bee2f0"/></linearGradient><linearGradient id="e114" x2="0" y1="1"><stop offset=".00" stop-color="#d7eff6"/><stop offset=".10" stop-color="#d4eef5"/><stop offset=".20" stop-color="#d0ecf4"/><stop offset=".30" stop-color="#cce9f3"/><stop offset=".40" stop-color="#c5e6f1"/><stop offset=".50" stop-color="#b8dfef"/><stop offset=".60" stop-color="#aedbed"/><stop offset=".70" stop-color="#afdcee"/><stop offset=".80" stop-color="#b2ddee"/><stop offset=".90" stop-color="#b6dfef"/><stop offset="1.00" stop-color="#bce1ef"/></linearGradient><linearGradient id="e115" x2="0" y1="1"><stop offset=".00" stop-color="#d7eff6"/><stop offset=".10" stop-color="#d3edf5"/><stop offset=".20" stop-color="#ceebf4"/><stop offset=".30" stop-color="#c8e7f2"/><stop offset=".40" stop-color="#c1e4f0"/><stop offset=".50" stop-color="#b6dfef"/><stop offset=".60" stop-color="#afdcee"/><stop offset=".70" stop-color="#b1dcee"/><stop offset=".80" stop-color="#b3ddee"/><stop offset=".90" stop-color="#b6dfef"/><stop offset="1.00" stop-color="#b9e0ef"/></linearGradient><linearGradient id="e116" x2="0" y1="1"><stop offset=".00" stop-color="#d7eff6"/><stop offset=".10" stop-color="#d1ecf4"/><stop offset=".20" stop-color="#cbe9f3"/><stop offset=".30" stop-color="#c4e5f1"/><stop offset=".40" stop-color="#bbe1ef"/><stop offset=".50" stop-color="#afdcee"/><stop offset=".60" stop-color="#a8d8ec"/><stop offset=".70" stop-color="#abdaed"/><stop offset=".80" stop-color="#b0dcee"/><stop offset=".90" stop-color="#b3ddee"/><stop offset="1.00" stop-color="#b4deef"/></linearGradient><linearGradient id="e117" x2="0" y1="1"><stop offset=".00" stop-color="#d6eff6"/><stop offset=".10" stop-color="#d0ecf4"/><stop offset=".20" stop-color="#c8e7f2"/><stop offset=".30" stop-color="#bee2f0"/><stop offset=".40" stop-color="#b2ddee"/><stop offset=".50" stop-color="#a2d6ea"/><stop offset=".60" stop-color="#99d1e7"/><stop offset=".70" stop-color="#9fd4e9"/><stop offset=".80" stop-color="#a7d8eb"/><stop offset=".90" stop-color="#abdaec"/><stop offset="1.00" stop-color="#addaed"/></linearGradient><linearGradient id="e118" x2="0" y1="1"><stop offset=".00" stop-color="#d6eff6"/><stop offset=".10" stop-color="#ceebf4"/><stop offset=".20" stop-color="#c4e5f1"/><stop offset=".30" stop-color="#b7dfef"/><stop offset=".40" stop-color="#a7d8eb"/><stop offset=".50" stop-color="#94cfe7"/><stop offset=".60" stop-color="#89cae5"/><stop offset=".70" stop-color="#93cee6"/><stop offset=".80" stop-color="#9ed4e9"/><stop offset=".90" stop-color="#a2d6ea"/><stop offset="1.00" stop-color="#a4d7ea"/></linearGradient><linearGradient id="e119" x2="0" y1="1"><stop offset=".00" stop-color="#d6eff5"/><stop offset=".10" stop-color="#cceaf3"/><stop offset=".20" stop-color="#bfe3f0"/><stop offset=".30" stop-color="#afdcee"/><stop offset=".40" stop-color="#9bd3e8"/><stop offset=".50" stop-color="#85c7e4"/><stop offset=".60" stop-color="#79c2e2"/><stop offset=".70" stop-color="#85c8e4"/><stop offset=".80" stop-color="#94cfe7"/><stop offset=".90" stop-color="#99d2e8"/><stop offset="1.00" stop-color="#9cd3e8"/></linearGradient><linearGradient id="e120" x2="0" y1="1"><stop offset=".00" stop-color="#d6eff5"/><stop offset=".10" stop-color="#cae9f3"/><stop offset=".20" stop-color="#bbe1ef"/><stop offset=".30" stop-color="#a7d8eb"/><stop offset=".40" stop-color="#90cde6"/><stop offset=".50" stop-color="#78c1e2"/><stop offset=".60" stop-color="#6abbdf"/><stop offset=".70" stop-color="#7cc3e2"/><stop offset=".80" stop-color="#8dcce5"/><stop offset=".90" stop-color="#92cee6"/><stop offset="1.00" stop-color="#95d0e7"/></linearGradient><linearGradient id="e121" x2="0" y1="1"><stop offset=".00" stop-color="#d5eff5"/><stop offset=".10" stop-color="#c9e8f2"/><stop offset=".20" stop-color="#b8dfef"/><stop offset=".30" stop-color="#a1d5e9"/><stop offset=".40" stop-color="#88c9e4"/><stop offset=".50" stop-color="#73bfe1"/><stop offset=".60" stop-color="#64b8dd"/><stop offset=".70" stop-color="#7ac2e2"/><stop offset=".80" stop-color="#8ccbe5"/><stop offset=".90" stop-color="#91cee6"/><stop offset="1.00" stop-color="#92cee6"/></linearGradient><linearGradient id="e122" x2="0" y1="1"><stop offset=".00" stop-color="#d5eff5"/><stop offset=".10" stop-color="#c8e7f2"/><stop offset=".20" stop-color="#b5deef"/><stop offset=".30" stop-color="#9cd3e8"/><stop offset=".40" stop-color="#82c6e3"/><stop offset=".50" stop-color="#6fbde0"/><stop offset=".60" stop-color="#62b7dd"/><stop offset=".70" stop-color="#7ac2e2"/><stop offset=".80" stop-color="#8ccbe5"/><stop offset=".90" stop-color="#92cee6"/><stop offset="1.00" stop-color="#8fcde6"/></linearGradient><linearGradient id="e123" x2="0" y1="1"><stop offset=".00" stop-color="#d5eff5"/><stop offset=".10" stop-color="#c7e7f2"/><stop offset=".20" stop-color="#b4deef"/><stop offset=".30" stop-color="#99d1e7"/><stop offset=".40" stop-color="#7fc5e3"/><stop offset=".50" stop-color="#6ebde0"/><stop offset=".60" stop-color="#65b9de"/><stop offset=".70" stop-color="#7bc3e2"/><stop offset=".80" stop-color="#8ecce5"/><stop offset=".90" stop-color="#92cee6"/><stop offset="1.00" stop-color="#8dcbe5"/></linearGradient><linearGradient id="e124" x2="0" y1="1"><stop offset=".00" stop-color="#d5eff5"/><stop offset=".10" stop-color="#c7e7f2"/><stop offset=".20" stop-color="#b4deee"/><stop offset=".30" stop-color="#97d1e7"/><stop offset=".40" stop-color="#7ec4e3"/><stop offset=".50" stop-color="#6fbde0"/><stop offset=".60" stop-color="#67bade"/><stop offset=".70" stop-color="#7bc3e2"/><stop offset=".80" stop-color="#8dcce5"/><stop offset=".90" stop-color="#90cde6"/><stop offset="1.00" stop-color="#89cae5"/></linearGradient><linearGradient id="e125" x2="0" y1="1"><stop offset=".00" stop-color="#d6eff5"/><stop offset=".10" stop-color="#c8e7f2"/><stop offset=".20" stop-color="#b5deef"/><stop offset=".30" stop-color="#96d0e7"/><stop offset=".40" stop-color="#79c2e2"/><stop offset=".50" stop-color="#64b8de"/><stop offset=".60" stop-color="#5db6dc"/><stop offset=".70" stop-color="#75c0e1"/><stop offset=".80" stop-color="#84c7e4"/><stop offset=".90" stop-color="#86c8e4"/><stop offset="1.00" stop-color="#7ec4e3"/></linearGradient><linearGradient id="e126" x2="0" y1="1"><stop offset=".00" stop-color="#d6eff6"/><stop offset=".10" stop-color="#d1ecf4"/><stop offset=".20" stop-color="#c5e6f1"/><stop offset=".30" stop-color="#99d2e8"/><stop offset=".40" stop-color="#60b7dc"/><stop offset=".50" stop-color="#2ba6d5"/><stop offset=".60" stop-color="#23a4d5"/><stop offset=".70" stop-color="#42acd8"/><stop offset=".80" stop-color="#60b7dc"/><stop offset=".90" stop-color="#60b6dc"/><stop offset="1.00" stop-color="#4db0d9"/></linearGradient><linearGradient id="e127" x2="0" y1="1"><stop offset=".00" stop-color="#d6eff6"/><stop offset=".10" stop-color="#d2edf5"/><stop offset=".20" stop-color="#cae8f2"/><stop offset=".30" stop-color="#99d1e7"/><stop offset=".40" stop-color="#30a7d6"/><stop offset=".50" stop-color="#0b8dc8"/><stop offset=".60" stop-color="#0a88c5"/><stop offset=".70" stop-color="#0c93cc"/><stop offset=".80" stop-color="#1ca1d3"/><stop offset=".90" stop-color="#1ca1d3"/><stop offset="1.00" stop-color="#159bd0"/></linearGradient><linearGradient id="e128" x2="0" y1="1"><stop offset=".00" stop-color="#d6eff6"/><stop offset=".10" stop-color="#d0ecf4"/><stop offset=".20" stop-color="#c4e5f1"/><stop offset=".30" stop-color="#9ad2e8"/><stop offset=".40" stop-color="#4aafd9"/><stop offset=".50" stop-color="#0c93cc"/><stop offset=".60" stop-color="#0b8fc9"/><stop offset=".70" stop-color="#159bd0"/><stop offset=".80" stop-color="#35a9d7"/><stop offset=".90" stop-color="#34a9d6"/><stop offset="1.00" stop-color="#21a3d4"/></linearGradient><linearGradient id="cbd" x2="0" y2="1"><stop offset="0.00" stop-color="#f5fcfd"/><stop offset="0.05" stop-color="#e6f6fa"/><stop offset="0.10" stop-color="#d8f0f6"/><stop offset="0.19" stop-color="#c0e3f0"/><stop offset="0.25" stop-color="#b0dcee"/><stop offset="0.32" stop-color="#9cd3e8"/><stop offset="0.40" stop-color="#86c8e4"/><stop offset="0.49" stop-color="#6fbde0"/><stop offset="0.54" stop-color="#55b2da"/><stop offset="0.63" stop-color="#1ea2d4"/><stop offset="0.73" stop-color="#0c93cc"/><stop offset="0.84" stop-color="#0a86c4"/><stop offset="0.94" stop-color="#0a7abe"/><stop offset="1.00" stop-color="#0872b8"/></linearGradient><linearGradient id="cbe" x2="0" y2="1"><stop offset="0.00" stop-color="#f5fcfd"/><stop offset="0.05" stop-color="#e6f6fa"/><stop offset="0.10" stop-color="#d8f0f6"/><stop offset="0.19" stop-color="#c0e3f0"/><stop offset="0.25" stop-color="#b0dcee"/><stop offset="0.32" stop-color="#9cd3e8"/><stop offset="0.40" stop-color="#86c8e4"/><stop offset="0.49" stop-color="#6fbde0"/><stop offset="0.54" stop-color="#55b2da"/><stop offset="0.63" stop-color="#1ea2d4"/><stop offset="0.73" stop-color="#0c93cc"/><stop offset="0.84" stop-color="#0a86c4"/><stop offset="0.94" stop-color="#0a7abe"/><stop offset="1.00" stop-color="#0872b8"/></linearGradient><linearGradient id="cbf" x2="0" y2="1"><stop offset="0.00" stop-color="#f5fcfd"/><stop offset="0.05" stop-color="#e6f6fa"/><stop offset="0.10" stop-color="#d8f0f6"/><stop offset="0.19" stop-color="#c0e3f0"/><stop offset="0.25" stop-color="#b0dcee"/><stop offset="0.32" stop-color="#9cd3e8"/><stop offset="0.40" stop-color="#86c8e4"/><stop offset="0.49" stop-color="#6fbde0"/><stop offset="0.54" stop-color="#55b2da"/><stop offset="0.63" stop-color="#1ea2d4"/><stop offset="0.73" stop-color="#0c93cc"/><stop offset="0.84" stop-color="#0a86c4"/><stop offset="0.94" stop-color="#0a7abe"/><stop offset="1.00" stop-color="#0872b8"/></linearGradient><clipPath id="ca"><rect x="141.4" y="35.1" width="491.0" height="396.9"/></clipPath><clipPath id="cb"><rect x="787.5" y="35.1" width="490.8" height="396.7"/></clipPath><clipPath id="cc"><rect x="1434.4" y="41.0" width="492.1" height="396.3"/></clipPath><clipPath id="cld"><rect x="644.3" y="560" width="34.2" height="460"/></clipPath><clipPath id="cle"><rect x="1296.0" y="560" width="34.5" height="460"/></clipPath><clipPath id="cpf"><rect x="1438.8" y="598.7" width="410.9" height="394.1"/></clipPath></defs><g><rect x="138.5" y="596.3" width="2.00" height="394.7" fill="url(#d0)"/><rect x="140.1" y="596.3" width="3.60" height="394.7" fill="url(#d1)"/><rect x="143.3" y="596.3" width="3.60" height="394.7" fill="url(#d2)"/><rect x="146.5" y="596.3" width="3.60" height="394.7" fill="url(#d3)"/><rect x="149.7" y="596.3" width="3.60" height="394.7" fill="url(#d4)"/><rect x="152.9" y="596.3" width="3.60" height="394.7" fill="url(#d5)"/><rect x="156.1" y="596.3" width="3.60" height="394.7" fill="url(#d6)"/><rect x="159.3" y="596.3" width="3.60" height="394.7" fill="url(#d7)"/><rect x="162.5" y="596.3" width="3.60" height="394.7" fill="url(#d8)"/><rect x="165.7" y="596.3" width="3.60" height="394.7" fill="url(#d9)"/><rect x="168.9" y="596.3" width="3.60" height="394.7" fill="url(#d10)"/><rect x="172.1" y="596.3" width="3.60" height="394.7" fill="url(#d11)"/><rect x="175.3" y="596.3" width="3.60" height="394.7" fill="url(#d12)"/><rect x="178.5" y="596.3" width="3.60" height="394.7" fill="url(#d13)"/><rect x="181.7" y="596.3" width="3.60" height="394.7" fill="url(#d14)"/><rect x="184.9" y="596.3" width="3.60" height="394.7" fill="url(#d15)"/><rect x="188.1" y="596.3" width="3.60" height="394.7" fill="url(#d16)"/><rect x="191.3" y="596.3" width="3.60" height="394.7" fill="url(#d17)"/><rect x="194.5" y="596.3" width="3.60" height="394.7" fill="url(#d18)"/><rect x="197.7" y="596.3" width="3.60" height="394.7" fill="url(#d19)"/><rect x="200.9" y="596.3" width="3.60" height="394.7" fill="url(#d20)"/><rect x="204.1" y="596.3" width="3.60" height="394.7" fill="url(#d21)"/><rect x="207.4" y="596.3" width="3.60" height="394.7" fill="url(#d22)"/><rect x="210.6" y="596.3" width="3.60" height="394.7" fill="url(#d23)"/><rect x="213.8" y="596.3" width="3.60" height="394.7" fill="url(#d24)"/><rect x="217.0" y="596.3" width="3.60" height="394.7" fill="url(#d25)"/><rect x="220.2" y="596.3" width="3.60" height="394.7" fill="url(#d26)"/><rect x="223.4" y="596.3" width="3.60" height="394.7" fill="url(#d27)"/><rect x="226.6" y="596.3" width="3.60" height="394.7" fill="url(#d28)"/><rect x="229.8" y="596.3" width="3.60" height="394.7" fill="url(#d29)"/><rect x="233.0" y="596.3" width="3.60" height="394.7" fill="url(#d30)"/><rect x="236.2" y="596.3" width="3.60" height="394.7" fill="url(#d31)"/><rect x="239.4" y="596.3" width="3.60" height="394.7" fill="url(#d32)"/><rect x="242.6" y="596.3" width="3.60" height="394.7" fill="url(#d33)"/><rect x="245.8" y="596.3" width="3.60" height="394.7" fill="url(#d34)"/><rect x="249.0" y="596.3" width="3.60" height="394.7" fill="url(#d35)"/><rect x="252.2" y="596.3" width="3.60" height="394.7" fill="url(#d36)"/><rect x="255.4" y="596.3" width="3.60" height="394.7" fill="url(#d37)"/><rect x="258.6" y="596.3" width="3.60" height="394.7" fill="url(#d38)"/><rect x="261.8" y="596.3" width="3.60" height="394.7" fill="url(#d39)"/><rect x="265.0" y="596.3" width="3.60" height="394.7" fill="url(#d40)"/><rect x="268.2" y="596.3" width="3.60" height="394.7" fill="url(#d41)"/><rect x="271.4" y="596.3" width="3.60" height="394.7" fill="url(#d42)"/><rect x="274.6" y="596.3" width="3.60" height="394.7" fill="url(#d43)"/><rect x="277.8" y="596.3" width="3.60" height="394.7" fill="url(#d44)"/><rect x="281.0" y="596.3" width="3.60" height="394.7" fill="url(#d45)"/><rect x="284.2" y="596.3" width="3.60" height="394.7" fill="url(#d46)"/><rect x="287.4" y="596.3" width="3.60" height="394.7" fill="url(#d47)"/><rect x="290.6" y="596.3" width="3.60" height="394.7" fill="url(#d48)"/><rect x="293.8" y="596.3" width="3.60" height="394.7" fill="url(#d49)"/><rect x="297.0" y="596.3" width="3.60" height="394.7" fill="url(#d50)"/><rect x="300.2" y="596.3" width="3.60" height="394.7" fill="url(#d51)"/><rect x="303.4" y="596.3" width="3.60" height="394.7" fill="url(#d52)"/><rect x="306.6" y="596.3" width="3.60" height="394.7" fill="url(#d53)"/><rect x="309.8" y="596.3" width="3.60" height="394.7" fill="url(#d54)"/><rect x="313.0" y="596.3" width="3.60" height="394.7" fill="url(#d55)"/><rect x="316.2" y="596.3" width="3.60" height="394.7" fill="url(#d56)"/><rect x="319.4" y="596.3" width="3.60" height="394.7" fill="url(#d57)"/><rect x="322.6" y="596.3" width="3.60" height="394.7" fill="url(#d58)"/><rect x="325.8" y="596.3" width="3.60" height="394.7" fill="url(#d59)"/><rect x="329.0" y="596.3" width="3.60" height="394.7" fill="url(#d60)"/><rect x="332.2" y="596.3" width="3.60" height="394.7" fill="url(#d61)"/><rect x="335.4" y="596.3" width="3.60" height="394.7" fill="url(#d62)"/><rect x="338.6" y="596.3" width="3.60" height="394.7" fill="url(#d63)"/><rect x="341.8" y="596.3" width="3.60" height="394.7" fill="url(#d64)"/><rect x="345.1" y="596.3" width="3.60" height="394.7" fill="url(#d65)"/><rect x="348.3" y="596.3" width="3.60" height="394.7" fill="url(#d66)"/><rect x="351.5" y="596.3" width="3.60" height="394.7" fill="url(#d67)"/><rect x="354.7" y="596.3" width="3.60" height="394.7" fill="url(#d68)"/><rect x="357.9" y="596.3" width="3.60" height="394.7" fill="url(#d69)"/><rect x="361.1" y="596.3" width="3.60" height="394.7" fill="url(#d70)"/><rect x="364.3" y="596.3" width="3.60" height="394.7" fill="url(#d71)"/><rect x="367.5" y="596.3" width="3.60" height="394.7" fill="url(#d72)"/><rect x="370.7" y="596.3" width="3.60" height="394.7" fill="url(#d73)"/><rect x="373.9" y="596.3" width="3.60" height="394.7" fill="url(#d74)"/><rect x="377.1" y="596.3" width="3.60" height="394.7" fill="url(#d75)"/><rect x="380.3" y="596.3" width="3.60" height="394.7" fill="url(#d76)"/><rect x="383.5" y="596.3" width="3.60" height="394.7" fill="url(#d77)"/><rect x="386.7" y="596.3" width="3.60" height="394.7" fill="url(#d78)"/><rect x="389.9" y="596.3" width="3.60" height="394.7" fill="url(#d79)"/><rect x="393.1" y="596.3" width="3.60" height="394.7" fill="url(#d80)"/><rect x="396.3" y="596.3" width="3.60" height="394.7" fill="url(#d81)"/><rect x="399.5" y="596.3" width="3.60" height="394.7" fill="url(#d82)"/><rect x="402.7" y="596.3" width="3.60" height="394.7" fill="url(#d83)"/><rect x="405.9" y="596.3" width="3.60" height="394.7" fill="url(#d84)"/><rect x="409.1" y="596.3" width="3.60" height="394.7" fill="url(#d85)"/><rect x="412.3" y="596.3" width="3.60" height="394.7" fill="url(#d86)"/><rect x="415.5" y="596.3" width="3.60" height="394.7" fill="url(#d87)"/><rect x="418.7" y="596.3" width="3.60" height="394.7" fill="url(#d88)"/><rect x="421.9" y="596.3" width="3.60" height="394.7" fill="url(#d89)"/><rect x="425.1" y="596.3" width="3.60" height="394.7" fill="url(#d90)"/><rect x="428.3" y="596.3" width="3.60" height="394.7" fill="url(#d91)"/><rect x="431.5" y="596.3" width="3.60" height="394.7" fill="url(#d92)"/><rect x="434.7" y="596.3" width="3.60" height="394.7" fill="url(#d93)"/><rect x="437.9" y="596.3" width="3.60" height="394.7" fill="url(#d94)"/><rect x="441.1" y="596.3" width="3.60" height="394.7" fill="url(#d95)"/><rect x="444.3" y="596.3" width="3.60" height="394.7" fill="url(#d96)"/><rect x="447.5" y="596.3" width="3.60" height="394.7" fill="url(#d97)"/><rect x="450.7" y="596.3" width="3.60" height="394.7" fill="url(#d98)"/><rect x="453.9" y="596.3" width="3.60" height="394.7" fill="url(#d99)"/><rect x="457.1" y="596.3" width="3.60" height="394.7" fill="url(#d100)"/><rect x="460.3" y="596.3" width="3.60" height="394.7" fill="url(#d101)"/><rect x="463.5" y="596.3" width="3.60" height="394.7" fill="url(#d102)"/><rect x="466.7" y="596.3" width="3.60" height="394.7" fill="url(#d103)"/><rect x="469.9" y="596.3" width="3.60" height="394.7" fill="url(#d104)"/><rect x="473.1" y="596.3" width="3.60" height="394.7" fill="url(#d105)"/><rect x="476.3" y="596.3" width="3.60" height="394.7" fill="url(#d106)"/><rect x="479.5" y="596.3" width="3.60" height="394.7" fill="url(#d107)"/><rect x="482.8" y="596.3" width="3.60" height="394.7" fill="url(#d108)"/><rect x="486.0" y="596.3" width="3.60" height="394.7" fill="url(#d109)"/><rect x="489.2" y="596.3" width="3.60" height="394.7" fill="url(#d110)"/><rect x="492.4" y="596.3" width="3.60" height="394.7" fill="url(#d111)"/><rect x="495.6" y="596.3" width="3.60" height="394.7" fill="url(#d112)"/><rect x="498.8" y="596.3" width="3.60" height="394.7" fill="url(#d113)"/><rect x="502.0" y="596.3" width="3.60" height="394.7" fill="url(#d114)"/><rect x="505.2" y="596.3" width="3.60" height="394.7" fill="url(#d115)"/><rect x="508.4" y="596.3" width="3.60" height="394.7" fill="url(#d116)"/><rect x="511.6" y="596.3" width="3.60" height="394.7" fill="url(#d117)"/><rect x="514.8" y="596.3" width="3.60" height="394.7" fill="url(#d118)"/><rect x="518.0" y="596.3" width="3.60" height="394.7" fill="url(#d119)"/><rect x="521.2" y="596.3" width="3.60" height="394.7" fill="url(#d120)"/><rect x="524.4" y="596.3" width="3.60" height="394.7" fill="url(#d121)"/><rect x="527.6" y="596.3" width="3.60" height="394.7" fill="url(#d122)"/><rect x="530.8" y="596.3" width="3.60" height="394.7" fill="url(#d123)"/><rect x="534.0" y="596.3" width="3.60" height="394.7" fill="url(#d124)"/><rect x="537.2" y="596.3" width="3.60" height="394.7" fill="url(#d125)"/><rect x="540.4" y="596.3" width="3.60" height="394.7" fill="url(#d126)"/><rect x="543.6" y="596.3" width="3.60" height="394.7" fill="url(#d127)"/><rect x="546.8" y="596.3" width="2.00" height="394.7" fill="url(#d128)"/></g><g><rect x="789.9" y="596.4" width="2.01" height="394.6" fill="url(#e0)"/><rect x="791.5" y="596.4" width="3.61" height="394.6" fill="url(#e1)"/><rect x="794.7" y="596.4" width="3.61" height="394.6" fill="url(#e2)"/><rect x="797.9" y="596.4" width="3.61" height="394.6" fill="url(#e3)"/><rect x="801.1" y="596.4" width="3.61" height="394.6" fill="url(#e4)"/><rect x="804.3" y="596.4" width="3.61" height="394.6" fill="url(#e5)"/><rect x="807.6" y="596.4" width="3.61" height="394.6" fill="url(#e6)"/><rect x="810.8" y="596.4" width="3.61" height="394.6" fill="url(#e7)"/><rect x="814.0" y="596.4" width="3.61" height="394.6" fill="url(#e8)"/><rect x="817.2" y="596.4" width="3.61" height="394.6" fill="url(#e9)"/><rect x="820.4" y="596.4" width="3.61" height="394.6" fill="url(#e10)"/><rect x="823.6" y="596.4" width="3.61" height="394.6" fill="url(#e11)"/><rect x="826.8" y="596.4" width="3.61" height="394.6" fill="url(#e12)"/><rect x="830.0" y="596.4" width="3.61" height="394.6" fill="url(#e13)"/><rect x="833.2" y="596.4" width="3.61" height="394.6" fill="url(#e14)"/><rect x="836.5" y="596.4" width="3.61" height="394.6" fill="url(#e15)"/><rect x="839.7" y="596.4" width="3.61" height="394.6" fill="url(#e16)"/><rect x="842.9" y="596.4" width="3.61" height="394.6" fill="url(#e17)"/><rect x="846.1" y="596.4" width="3.61" height="394.6" fill="url(#e18)"/><rect x="849.3" y="596.4" width="3.61" height="394.6" fill="url(#e19)"/><rect x="852.5" y="596.4" width="3.61" height="394.6" fill="url(#e20)"/><rect x="855.7" y="596.4" width="3.61" height="394.6" fill="url(#e21)"/><rect x="858.9" y="596.4" width="3.61" height="394.6" fill="url(#e22)"/><rect x="862.1" y="596.4" width="3.61" height="394.6" fill="url(#e23)"/><rect x="865.4" y="596.4" width="3.61" height="394.6" fill="url(#e24)"/><rect x="868.6" y="596.4" width="3.61" height="394.6" fill="url(#e25)"/><rect x="871.8" y="596.4" width="3.61" height="394.6" fill="url(#e26)"/><rect x="875.0" y="596.4" width="3.61" height="394.6" fill="url(#e27)"/><rect x="878.2" y="596.4" width="3.61" height="394.6" fill="url(#e28)"/><rect x="881.4" y="596.4" width="3.61" height="394.6" fill="url(#e29)"/><rect x="884.6" y="596.4" width="3.61" height="394.6" fill="url(#e30)"/><rect x="887.8" y="596.4" width="3.61" height="394.6" fill="url(#e31)"/><rect x="891.0" y="596.4" width="3.61" height="394.6" fill="url(#e32)"/><rect x="894.3" y="596.4" width="3.61" height="394.6" fill="url(#e33)"/><rect x="897.5" y="596.4" width="3.61" height="394.6" fill="url(#e34)"/><rect x="900.7" y="596.4" width="3.61" height="394.6" fill="url(#e35)"/><rect x="903.9" y="596.4" width="3.61" height="394.6" fill="url(#e36)"/><rect x="907.1" y="596.4" width="3.61" height="394.6" fill="url(#e37)"/><rect x="910.3" y="596.4" width="3.61" height="394.6" fill="url(#e38)"/><rect x="913.5" y="596.4" width="3.61" height="394.6" fill="url(#e39)"/><rect x="916.7" y="596.4" width="3.61" height="394.6" fill="url(#e40)"/><rect x="919.9" y="596.4" width="3.61" height="394.6" fill="url(#e41)"/><rect x="923.2" y="596.4" width="3.61" height="394.6" fill="url(#e42)"/><rect x="926.4" y="596.4" width="3.61" height="394.6" fill="url(#e43)"/><rect x="929.6" y="596.4" width="3.61" height="394.6" fill="url(#e44)"/><rect x="932.8" y="596.4" width="3.61" height="394.6" fill="url(#e45)"/><rect x="936.0" y="596.4" width="3.61" height="394.6" fill="url(#e46)"/><rect x="939.2" y="596.4" width="3.61" height="394.6" fill="url(#e47)"/><rect x="942.4" y="596.4" width="3.61" height="394.6" fill="url(#e48)"/><rect x="945.6" y="596.4" width="3.61" height="394.6" fill="url(#e49)"/><rect x="948.8" y="596.4" width="3.61" height="394.6" fill="url(#e50)"/><rect x="952.1" y="596.4" width="3.61" height="394.6" fill="url(#e51)"/><rect x="955.3" y="596.4" width="3.61" height="394.6" fill="url(#e52)"/><rect x="958.5" y="596.4" width="3.61" height="394.6" fill="url(#e53)"/><rect x="961.7" y="596.4" width="3.61" height="394.6" fill="url(#e54)"/><rect x="964.9" y="596.4" width="3.61" height="394.6" fill="url(#e55)"/><rect x="968.1" y="596.4" width="3.61" height="394.6" fill="url(#e56)"/><rect x="971.3" y="596.4" width="3.61" height="394.6" fill="url(#e57)"/><rect x="974.5" y="596.4" width="3.61" height="394.6" fill="url(#e58)"/><rect x="977.7" y="596.4" width="3.61" height="394.6" fill="url(#e59)"/><rect x="981.0" y="596.4" width="3.61" height="394.6" fill="url(#e60)"/><rect x="984.2" y="596.4" width="3.61" height="394.6" fill="url(#e61)"/><rect x="987.4" y="596.4" width="3.61" height="394.6" fill="url(#e62)"/><rect x="990.6" y="596.4" width="3.61" height="394.6" fill="url(#e63)"/><rect x="993.8" y="596.4" width="3.61" height="394.6" fill="url(#e64)"/><rect x="997.0" y="596.4" width="3.61" height="394.6" fill="url(#e65)"/><rect x="1000.2" y="596.4" width="3.61" height="394.6" fill="url(#e66)"/><rect x="1003.4" y="596.4" width="3.61" height="394.6" fill="url(#e67)"/><rect x="1006.6" y="596.4" width="3.61" height="394.6" fill="url(#e68)"/><rect x="1009.8" y="596.4" width="3.61" height="394.6" fill="url(#e69)"/><rect x="1013.1" y="596.4" width="3.61" height="394.6" fill="url(#e70)"/><rect x="1016.3" y="596.4" width="3.61" height="394.6" fill="url(#e71)"/><rect x="1019.5" y="596.4" width="3.61" height="394.6" fill="url(#e72)"/><rect x="1022.7" y="596.4" width="3.61" height="394.6" fill="url(#e73)"/><rect x="1025.9" y="596.4" width="3.61" height="394.6" fill="url(#e74)"/><rect x="1029.1" y="596.4" width="3.61" height="394.6" fill="url(#e75)"/><rect x="1032.3" y="596.4" width="3.61" height="394.6" fill="url(#e76)"/><rect x="1035.5" y="596.4" width="3.61" height="394.6" fill="url(#e77)"/><rect x="1038.7" y="596.4" width="3.61" height="394.6" fill="url(#e78)"/><rect x="1042.0" y="596.4" width="3.61" height="394.6" fill="url(#e79)"/><rect x="1045.2" y="596.4" width="3.61" height="394.6" fill="url(#e80)"/><rect x="1048.4" y="596.4" width="3.61" height="394.6" fill="url(#e81)"/><rect x="1051.6" y="596.4" width="3.61" height="394.6" fill="url(#e82)"/><rect x="1054.8" y="596.4" width="3.61" height="394.6" fill="url(#e83)"/><rect x="1058.0" y="596.4" width="3.61" height="394.6" fill="url(#e84)"/><rect x="1061.2" y="596.4" width="3.61" height="394.6" fill="url(#e85)"/><rect x="1064.4" y="596.4" width="3.61" height="394.6" fill="url(#e86)"/><rect x="1067.6" y="596.4" width="3.61" height="394.6" fill="url(#e87)"/><rect x="1070.9" y="596.4" width="3.61" height="394.6" fill="url(#e88)"/><rect x="1074.1" y="596.4" width="3.61" height="394.6" fill="url(#e89)"/><rect x="1077.3" y="596.4" width="3.61" height="394.6" fill="url(#e90)"/><rect x="1080.5" y="596.4" width="3.61" height="394.6" fill="url(#e91)"/><rect x="1083.7" y="596.4" width="3.61" height="394.6" fill="url(#e92)"/><rect x="1086.9" y="596.4" width="3.61" height="394.6" fill="url(#e93)"/><rect x="1090.1" y="596.4" width="3.61" height="394.6" fill="url(#e94)"/><rect x="1093.3" y="596.4" width="3.61" height="394.6" fill="url(#e95)"/><rect x="1096.5" y="596.4" width="3.61" height="394.6" fill="url(#e96)"/><rect x="1099.8" y="596.4" width="3.61" height="394.6" fill="url(#e97)"/><rect x="1103.0" y="596.4" width="3.61" height="394.6" fill="url(#e98)"/><rect x="1106.2" y="596.4" width="3.61" height="394.6" fill="url(#e99)"/><rect x="1109.4" y="596.4" width="3.61" height="394.6" fill="url(#e100)"/><rect x="1112.6" y="596.4" width="3.61" height="394.6" fill="url(#e101)"/><rect x="1115.8" y="596.4" width="3.61" height="394.6" fill="url(#e102)"/><rect x="1119.0" y="596.4" width="3.61" height="394.6" fill="url(#e103)"/><rect x="1122.2" y="596.4" width="3.61" height="394.6" fill="url(#e104)"/><rect x="1125.4" y="596.4" width="3.61" height="394.6" fill="url(#e105)"/><rect x="1128.7" y="596.4" width="3.61" height="394.6" fill="url(#e106)"/><rect x="1131.9" y="596.4" width="3.61" height="394.6" fill="url(#e107)"/><rect x="1135.1" y="596.4" width="3.61" height="394.6" fill="url(#e108)"/><rect x="1138.3" y="596.4" width="3.61" height="394.6" fill="url(#e109)"/><rect x="1141.5" y="596.4" width="3.61" height="394.6" fill="url(#e110)"/><rect x="1144.7" y="596.4" width="3.61" height="394.6" fill="url(#e111)"/><rect x="1147.9" y="596.4" width="3.61" height="394.6" fill="url(#e112)"/><rect x="1151.1" y="596.4" width="3.61" height="394.6" fill="url(#e113)"/><rect x="1154.3" y="596.4" width="3.61" height="394.6" fill="url(#e114)"/><rect x="1157.6" y="596.4" width="3.61" height="394.6" fill="url(#e115)"/><rect x="1160.8" y="596.4" width="3.61" height="394.6" fill="url(#e116)"/><rect x="1164.0" y="596.4" width="3.61" height="394.6" fill="url(#e117)"/><rect x="1167.2" y="596.4" width="3.61" height="394.6" fill="url(#e118)"/><rect x="1170.4" y="596.4" width="3.61" height="394.6" fill="url(#e119)"/><rect x="1173.6" y="596.4" width="3.61" height="394.6" fill="url(#e120)"/><rect x="1176.8" y="596.4" width="3.61" height="394.6" fill="url(#e121)"/><rect x="1180.0" y="596.4" width="3.61" height="394.6" fill="url(#e122)"/><rect x="1183.2" y="596.4" width="3.61" height="394.6" fill="url(#e123)"/><rect x="1186.5" y="596.4" width="3.61" height="394.6" fill="url(#e124)"/><rect x="1189.7" y="596.4" width="3.61" height="394.6" fill="url(#e125)"/><rect x="1192.9" y="596.4" width="3.61" height="394.6" fill="url(#e126)"/><rect x="1196.1" y="596.4" width="3.61" height="394.6" fill="url(#e127)"/><rect x="1199.3" y="596.4" width="2.01" height="394.6" fill="url(#e128)"/></g><g><path d="M1848.7 638.1 1849.7 638.9 1849.7 634.6 1842.2 630.2 1840.4 630.2 1842.0 632.2 1848.7 638.1ZM1828.8 622.3 1830.4 623.2 1831.2 622.3 1829.2 620.3 1828.8 622.3Z" fill="#0872b8" stroke="#0872b8" stroke-width="0.6"/><path d="M1848.8 640.1 1849.7 640.8 1849.7 638.9 1844.1 634.2 1840.4 630.2 1842.2 630.2 1849.7 634.6 1849.7 632.7 1838.1 625.2 1829.2 617.7 1825.3 615.8 1824.0 616.0 1825.2 620.4 1828.0 624.3 1838.1 631.5 1848.8 640.1ZM1829.2 622.7 1829.2 620.3 1831.2 622.3 1830.4 623.2 1829.2 622.7Z" fill="#0977bb" stroke="#0977bb" stroke-width="0.6"/><path d="M1729.2 827.3 1736.7 828.5 1739.3 827.2 1741.0 825.3 1741.3 823.3 1740.9 821.4 1738.9 817.4 1736.7 814.6 1727.7 815.5 1721.3 817.4 1719.3 819.4 1718.8 821.4 1719.8 823.3 1723.2 825.3 1729.2 827.3ZM1849.3 642.1 1849.7 642.4 1849.7 640.8 1838.1 631.5 1828.0 624.3 1825.2 620.4 1824.0 616.0 1825.3 615.8 1829.2 617.7 1838.1 625.2 1849.7 632.7 1849.7 631.1 1838.1 623.3 1822.7 610.8 1821.5 610.1 1820.7 610.5 1820.7 612.5 1822.0 616.4 1826.6 625.0 1829.2 627.4 1838.1 633.4 1849.3 642.1Z" fill="#0a7ec0" stroke="#0a7ec0" stroke-width="0.6"/><path d="M1725.1 831.2 1736.7 832.7 1744.4 831.5 1748.3 830.0 1748.9 829.2 1748.7 825.3 1747.1 821.4 1745.6 819.4 1736.7 810.0 1730.3 809.8 1721.3 810.4 1717.2 811.5 1712.3 813.8 1709.2 817.4 1708.8 819.4 1710.0 823.3 1713.6 827.1 1716.2 828.8 1725.1 831.2ZM1730.3 827.5 1721.3 824.4 1719.8 823.3 1718.8 821.4 1719.3 819.4 1721.3 817.4 1727.7 815.5 1736.7 814.6 1738.9 817.4 1740.9 821.4 1741.3 823.3 1741.0 825.3 1739.3 827.2 1736.7 828.5 1730.3 827.5ZM1847.2 642.1 1849.7 643.9 1849.7 642.4 1838.1 633.4 1829.2 627.4 1826.6 625.0 1822.0 616.4 1820.7 612.5 1820.7 610.5 1821.5 610.1 1822.7 610.8 1838.1 623.3 1849.7 631.1 1849.7 629.5 1836.9 620.6 1826.6 612.2 1821.5 607.0 1817.6 604.7 1817.1 606.6 1818.9 612.5 1822.6 620.4 1826.6 627.0 1847.2 642.1ZM1522.1 610.5 1522.3 611.0 1522.3 606.6 1520.2 598.7 1516.3 598.7 1522.1 610.5Z" fill="#0a85c4" stroke="#0a85c4" stroke-width="0.6"/><path d="M1748.2 837.1 1752.1 838.0 1753.7 835.2 1753.9 829.2 1752.1 822.1 1747.0 814.5 1736.7 805.8 1730.3 805.2 1718.7 805.7 1712.3 807.2 1703.3 810.6 1696.7 811.5 1694.3 812.6 1693.0 814.0 1692.6 815.5 1693.1 817.4 1694.6 819.4 1714.9 833.0 1721.3 834.8 1729.0 835.8 1747.0 836.6 1748.2 837.1ZM1726.4 831.4 1718.7 829.8 1713.7 827.3 1711.6 825.3 1709.1 821.4 1708.8 819.4 1709.2 817.4 1710.5 815.5 1712.8 813.5 1718.7 811.0 1729.0 809.9 1736.7 810.0 1747.0 821.2 1748.7 825.3 1748.9 829.2 1745.5 831.2 1736.7 832.7 1726.4 831.4ZM1847.6 644.0 1849.7 645.6 1849.7 643.9 1826.6 627.0 1822.6 620.4 1818.9 612.5 1817.1 606.6 1817.6 604.7 1820.2 605.9 1826.6 612.2 1839.2 622.3 1849.7 629.5 1849.7 627.8 1836.3 618.4 1826.6 610.2 1817.6 600.9 1815.0 598.9 1813.2 598.7 1812.9 600.7 1813.4 602.6 1815.6 608.6 1821.3 620.4 1826.0 628.3 1829.2 631.1 1837.1 636.1 1847.6 644.0ZM1528.1 632.2 1528.7 633.0 1529.3 630.2 1528.7 625.2 1521.3 598.7 1520.2 598.7 1522.3 606.6 1522.3 611.0 1516.3 598.7 1514.6 598.7 1515.8 603.8 1524.8 625.9 1528.1 632.2Z" fill="#0b8dc8" stroke="#0b8dc8" stroke-width="0.6"/><path d="M1750.6 843.0 1752.1 843.7 1753.8 843.0 1755.7 841.1 1756.6 839.1 1757.1 835.2 1756.9 831.2 1755.2 823.3 1752.1 815.8 1748.3 810.8 1747.0 809.3 1736.7 801.5 1731.6 800.7 1721.3 800.3 1713.6 801.5 1704.6 803.6 1691.8 802.6 1681.5 805.4 1678.9 807.4 1677.8 809.5 1677.5 811.5 1678.8 815.5 1680.3 817.4 1684.8 821.4 1693.0 826.8 1704.6 831.7 1714.6 837.1 1721.3 838.7 1738.0 839.9 1747.0 841.1 1750.6 843.0ZM1748.3 837.2 1747.0 836.6 1729.0 835.8 1721.3 834.8 1714.9 833.0 1694.6 819.4 1693.1 817.4 1692.6 815.5 1693.0 814.0 1694.3 812.6 1696.7 811.5 1703.3 810.6 1712.3 807.2 1718.7 805.7 1730.3 805.2 1736.7 805.8 1747.0 814.5 1752.1 822.1 1753.9 829.2 1753.7 835.2 1752.1 838.0 1748.3 837.2ZM1847.8 646.0 1849.7 647.5 1849.7 645.6 1838.1 636.9 1826.6 629.0 1821.3 620.4 1815.6 608.6 1813.4 602.6 1812.9 600.7 1813.2 598.7 1809.5 598.7 1817.9 616.4 1826.6 631.2 1837.2 638.1 1847.8 646.0ZM1528.7 640.1 1530.0 640.8 1531.5 640.1 1532.1 636.1 1531.5 632.2 1522.1 598.7 1521.3 598.7 1528.9 626.3 1529.3 630.2 1528.7 633.0 1527.4 631.4 1523.5 622.8 1515.8 603.8 1514.6 598.7 1513.2 598.7 1515.8 609.2 1526.1 634.9 1528.7 640.1ZM1847.5 626.3 1849.7 627.8 1849.7 626.0 1835.6 615.9 1826.6 608.0 1818.2 598.7 1814.4 598.7 1818.9 602.0 1826.6 610.2 1836.3 618.4 1847.5 626.3Z" fill="#0d94cd" stroke="#0d94cd" stroke-width="0.6"/><path d="M1749.5 847.0 1752.1 848.4 1754.7 848.2 1757.0 847.0 1758.5 845.0 1759.9 841.1 1760.2 837.1 1758.9 827.3 1756.0 818.2 1752.1 810.2 1747.0 804.3 1736.7 796.9 1731.6 795.9 1721.3 795.1 1704.6 797.9 1694.3 795.8 1689.2 795.7 1678.9 796.4 1668.6 800.3 1664.8 798.7 1659.9 793.8 1657.1 791.7 1653.2 790.5 1652.0 790.6 1650.0 791.8 1649.7 793.8 1650.8 797.7 1655.8 805.7 1658.4 807.6 1666.1 811.1 1669.9 814.8 1675.1 821.6 1683.5 827.3 1693.0 832.2 1703.3 835.9 1716.2 841.7 1721.3 842.7 1738.0 843.7 1747.0 845.4 1749.5 847.0ZM1750.8 843.2 1747.0 841.1 1738.0 839.9 1721.3 838.7 1714.6 837.1 1704.6 831.7 1693.0 826.8 1684.8 821.4 1680.3 817.4 1678.8 815.5 1677.5 811.5 1677.8 809.5 1678.9 807.4 1681.5 805.4 1691.8 802.6 1704.6 803.6 1713.6 801.5 1721.3 800.3 1731.6 800.7 1736.7 801.5 1747.0 809.3 1748.3 810.8 1752.1 815.8 1755.2 823.3 1756.9 831.2 1757.1 835.2 1756.6 839.1 1755.7 841.1 1753.8 843.0 1752.1 843.7 1750.8 843.2ZM1578.4 730.7 1579.1 730.7 1579.9 728.8 1579.5 724.8 1577.5 716.6 1576.2 716.5 1575.7 718.9 1576.0 722.8 1577.5 730.1 1578.4 730.7ZM1531.6 648.0 1532.5 648.4 1534.3 648.0 1535.1 646.0 1535.1 642.1 1532.3 630.2 1522.8 598.7 1522.1 598.7 1531.5 632.2 1532.0 638.1 1531.3 640.5 1530.0 640.8 1528.7 640.1 1527.4 637.8 1515.8 609.2 1513.2 598.7 1511.7 598.7 1515.8 614.7 1524.8 637.0 1528.7 645.4 1531.6 648.0ZM1847.6 648.0 1849.7 649.5 1849.7 647.5 1837.2 638.1 1826.6 631.2 1817.9 616.4 1809.5 598.7 1807.2 598.7 1820.8 624.3 1826.6 633.5 1837.1 640.1 1847.6 648.0ZM1847.4 624.3 1849.7 626.0 1849.7 624.0 1836.4 614.5 1826.6 605.7 1820.6 598.7 1818.2 598.7 1826.6 608.0 1838.1 617.9 1847.4 624.3Z" fill="#189dd1" stroke="#189dd1" stroke-width="0.6"/><path d="M1752.0 852.9 1754.7 853.3 1757.2 852.9 1759.8 851.2 1761.4 849.0 1762.8 845.0 1763.2 841.1 1763.0 835.2 1762.1 829.2 1757.6 815.5 1752.1 804.6 1747.0 799.0 1741.8 795.9 1738.0 792.7 1736.7 791.8 1731.6 790.6 1721.3 789.4 1704.6 792.1 1691.8 788.9 1680.2 788.7 1669.9 790.0 1666.1 788.6 1658.4 782.3 1644.2 774.7 1640.4 775.0 1637.8 777.5 1636.9 782.0 1637.9 787.9 1640.4 793.8 1644.2 800.5 1655.8 814.1 1667.4 821.0 1676.4 828.8 1691.8 836.5 1704.6 841.0 1714.9 845.5 1721.3 846.8 1740.6 848.2 1747.0 849.7 1752.0 852.9ZM1749.5 847.0 1747.0 845.4 1738.0 843.7 1721.3 842.7 1716.2 841.7 1703.3 835.9 1693.0 832.2 1683.5 827.3 1675.1 821.6 1669.9 814.8 1666.1 811.1 1658.4 807.6 1655.8 805.7 1650.8 797.7 1649.7 793.8 1650.0 791.8 1652.0 790.6 1653.2 790.5 1657.1 791.7 1659.9 793.8 1664.8 798.7 1668.6 800.3 1678.9 796.4 1689.2 795.7 1694.3 795.8 1704.6 797.9 1721.3 795.1 1731.6 795.9 1736.7 796.9 1747.0 804.3 1752.1 810.2 1756.0 818.2 1758.9 827.3 1760.2 837.1 1759.9 841.1 1758.5 845.0 1757.0 847.0 1754.7 848.2 1752.1 848.4 1749.5 847.0ZM1579.7 738.6 1581.3 740.0 1582.6 739.5 1582.9 738.6 1583.3 734.7 1582.5 728.8 1580.5 720.9 1577.5 711.9 1573.6 708.5 1572.6 709.0 1572.3 711.0 1573.6 720.3 1577.5 735.5 1579.7 738.6ZM1578.8 731.0 1577.5 730.1 1576.3 724.8 1575.7 718.9 1576.2 716.5 1577.5 716.6 1579.5 724.8 1579.9 728.8 1578.8 731.0ZM1533.9 655.8 1536.4 657.1 1537.7 657.0 1538.9 653.9 1539.0 649.9 1535.2 636.1 1523.5 598.7 1522.8 598.7 1534.3 638.1 1535.2 644.0 1535.1 646.0 1533.8 648.4 1532.5 648.4 1530.0 646.8 1527.4 643.1 1515.8 614.7 1511.7 598.7 1510.1 598.7 1515.8 620.4 1525.6 644.0 1528.7 650.6 1533.9 655.8ZM1847.2 649.9 1849.7 651.8 1849.7 649.5 1837.1 640.1 1826.6 633.5 1820.8 624.3 1807.2 598.7 1805.2 598.7 1821.5 628.2 1826.6 636.2 1836.9 642.3 1847.2 649.9ZM1847.5 622.3 1849.7 624.0 1849.7 621.7 1836.8 612.5 1826.6 603.0 1823.0 598.7 1820.6 598.7 1826.6 605.7 1835.6 613.7 1847.5 622.3Z" fill="#2fa7d6" stroke="#2fa7d6" stroke-width="0.6"/><path d="M1802.1 868.7 1803.5 870.0 1809.9 870.4 1815.0 869.9 1818.9 868.7 1820.1 866.7 1820.3 864.7 1819.0 860.8 1816.1 856.8 1809.2 849.0 1803.5 843.4 1798.9 845.0 1795.5 847.0 1793.8 849.0 1792.8 852.9 1793.5 856.8 1795.4 860.8 1802.1 868.7ZM1750.9 856.8 1753.4 858.0 1757.2 858.4 1759.8 857.7 1762.4 855.9 1764.4 852.9 1765.7 849.0 1766.4 839.1 1764.5 827.3 1759.8 813.5 1753.4 800.6 1750.8 797.1 1747.0 793.2 1741.8 790.4 1736.7 786.2 1730.3 784.4 1718.7 783.2 1704.6 786.0 1691.8 782.1 1680.2 781.4 1673.8 782.2 1668.6 781.7 1664.8 779.7 1657.1 773.4 1644.2 766.0 1641.7 765.1 1636.5 765.2 1631.4 766.5 1628.4 768.2 1627.6 770.1 1627.8 774.1 1629.8 782.0 1632.0 787.9 1637.5 797.7 1644.2 807.6 1655.8 820.2 1667.4 827.2 1676.4 834.3 1693.0 841.9 1704.6 845.6 1716.2 850.3 1721.3 851.1 1738.0 852.0 1747.0 854.2 1750.9 856.8ZM1752.1 853.0 1747.0 849.7 1740.6 848.2 1721.3 846.8 1714.9 845.5 1704.6 841.0 1691.8 836.5 1676.4 828.8 1667.4 821.0 1655.8 814.1 1644.2 800.5 1640.4 793.8 1637.9 787.9 1636.9 782.0 1637.8 777.5 1640.4 775.0 1644.2 774.7 1658.4 782.3 1666.1 788.6 1669.9 790.0 1680.2 788.7 1691.8 788.9 1704.6 792.1 1721.3 789.4 1731.6 790.6 1736.7 791.8 1738.0 792.7 1741.8 795.9 1747.0 799.0 1752.1 804.6 1757.6 815.5 1761.6 827.3 1763.3 839.1 1762.2 847.0 1761.1 849.5 1758.5 852.2 1756.0 853.2 1752.1 853.0ZM1581.6 746.5 1582.6 747.4 1583.9 747.2 1585.2 745.7 1586.0 742.5 1586.1 736.6 1584.7 728.8 1577.5 708.0 1572.3 701.7 1569.8 699.6 1568.7 701.2 1568.9 705.1 1572.0 720.9 1577.5 740.1 1581.6 746.5ZM1580.0 739.1 1577.5 735.5 1573.7 720.9 1572.3 711.0 1572.6 709.0 1573.6 708.5 1577.5 711.9 1580.5 720.9 1582.5 728.8 1583.3 734.7 1582.9 738.6 1582.6 739.5 1581.3 740.0 1580.0 739.1ZM1538.5 665.7 1542.8 665.5 1544.7 663.7 1545.9 659.8 1545.6 653.9 1544.0 649.9 1539.0 642.6 1537.7 639.8 1524.3 598.7 1523.5 598.7 1538.6 648.0 1539.2 651.9 1537.7 657.0 1535.1 656.6 1532.5 654.7 1528.7 650.6 1527.4 648.3 1515.8 620.4 1510.1 598.7 1508.5 598.7 1511.7 612.5 1515.8 626.6 1526.6 651.9 1528.7 655.9 1531.3 659.0 1537.7 665.7 1538.5 665.7ZM1849.0 653.9 1849.7 654.4 1849.7 651.8 1838.1 643.2 1826.6 636.2 1821.5 628.2 1805.2 598.7 1802.6 598.7 1822.7 633.5 1826.6 639.2 1838.1 645.8 1849.0 653.9ZM1848.0 620.4 1849.7 621.7 1849.7 619.1 1837.6 610.5 1825.4 598.7 1823.0 598.7 1826.6 603.0 1836.8 612.5 1848.0 620.4Z" fill="#54b2da" stroke="#54b2da" stroke-width="0.6"/><path d="M1810.3 878.5 1818.9 879.9 1825.3 880.0 1829.2 878.6 1832.1 876.5 1834.5 872.6 1834.6 868.7 1833.4 864.7 1829.8 858.8 1822.1 850.9 1803.5 835.4 1793.2 835.3 1790.6 835.7 1787.9 837.1 1785.5 839.8 1779.1 837.7 1772.7 833.2 1767.5 827.3 1765.2 819.4 1762.1 811.5 1756.6 799.7 1752.1 792.1 1747.0 786.9 1741.8 784.3 1736.7 779.9 1731.6 778.0 1721.3 776.1 1717.4 776.3 1707.2 779.1 1704.6 779.3 1702.0 778.7 1695.6 775.7 1691.8 774.7 1680.2 773.8 1673.8 774.5 1668.6 774.0 1664.8 771.9 1658.4 766.3 1641.7 756.9 1631.4 755.8 1626.3 752.5 1622.4 754.1 1620.5 756.3 1618.9 760.3 1617.5 766.2 1619.2 774.1 1621.6 780.0 1627.6 788.0 1631.4 795.8 1644.2 813.7 1654.5 824.6 1667.4 832.8 1675.1 838.8 1691.8 846.3 1704.6 850.3 1714.9 854.5 1721.3 855.7 1739.3 856.8 1747.0 858.9 1752.1 862.4 1756.0 863.5 1759.8 863.6 1762.4 862.7 1765.0 860.8 1767.5 856.8 1772.7 859.0 1779.1 858.9 1785.5 860.2 1790.2 866.7 1797.1 872.6 1803.5 877.1 1810.3 878.5ZM1752.1 857.6 1747.0 854.2 1738.0 852.0 1721.3 851.1 1716.2 850.3 1704.6 845.6 1693.0 841.9 1676.4 834.3 1667.4 827.2 1655.8 820.2 1644.2 807.6 1637.5 797.7 1632.0 787.9 1629.8 782.0 1627.8 774.1 1627.6 770.1 1628.4 768.2 1631.4 766.5 1636.5 765.2 1641.7 765.1 1644.2 766.0 1657.1 773.4 1664.8 779.7 1668.6 781.7 1673.8 782.2 1680.2 781.4 1691.8 782.1 1704.6 786.0 1718.7 783.2 1730.3 784.4 1736.7 786.2 1741.8 790.4 1747.0 793.2 1752.1 798.6 1758.9 811.5 1764.0 825.3 1766.2 837.1 1766.1 847.0 1765.0 851.6 1763.2 854.9 1761.1 857.0 1758.5 858.2 1756.0 858.4 1752.1 857.6ZM1802.2 868.8 1795.4 860.8 1793.5 856.8 1792.8 852.9 1793.8 849.0 1795.5 847.0 1798.9 845.0 1803.5 843.4 1809.2 849.0 1816.1 856.8 1819.0 860.8 1820.3 864.7 1820.1 866.7 1818.9 868.7 1815.0 869.9 1809.9 870.4 1803.5 870.0 1802.2 868.8ZM1582.1 752.4 1583.9 753.7 1585.2 753.7 1586.5 752.8 1587.8 750.6 1589.0 750.1 1590.3 748.5 1590.7 744.5 1589.5 738.6 1585.2 723.1 1577.5 704.2 1567.2 690.5 1553.1 655.6 1539.0 638.4 1537.7 636.0 1525.1 598.7 1524.3 598.7 1527.4 609.2 1537.7 639.8 1539.0 642.6 1544.0 649.9 1545.6 653.9 1546.0 657.8 1545.5 661.8 1544.1 664.5 1542.8 665.5 1537.7 665.7 1531.3 659.0 1527.4 653.6 1515.8 626.6 1511.7 612.5 1508.5 598.7 1506.8 598.7 1510.7 616.4 1515.8 633.3 1528.7 661.5 1537.7 672.4 1542.8 674.3 1545.4 674.1 1546.7 673.2 1549.2 674.5 1553.1 674.9 1556.9 681.0 1560.8 690.2 1567.2 708.2 1571.5 724.8 1577.5 744.4 1582.1 752.4ZM1582.6 747.4 1580.0 744.5 1577.5 740.1 1573.1 724.8 1569.1 707.1 1568.7 701.2 1569.8 699.6 1572.3 701.7 1577.5 708.0 1584.2 726.8 1585.9 734.7 1586.2 740.6 1585.2 745.7 1583.9 747.2 1582.6 747.4ZM1847.6 655.8 1849.7 657.4 1849.7 654.4 1838.1 645.8 1826.6 639.2 1822.7 633.5 1803.5 599.9 1802.6 598.7 1799.1 598.7 1803.5 604.3 1822.7 636.9 1826.6 642.5 1836.9 648.0 1847.6 655.8ZM1848.8 618.4 1849.7 619.1 1849.7 616.1 1838.1 608.0 1828.9 598.7 1825.4 598.7 1837.6 610.5 1848.8 618.4Z" fill="#71bee0" stroke="#71bee0" stroke-width="0.6"/><path d="M1816.6 886.4 1826.6 887.7 1836.9 885.5 1849.7 884.8 1849.7 862.0 1836.9 855.0 1828.0 847.0 1803.5 828.3 1790.6 826.0 1785.5 827.4 1779.1 825.8 1772.7 822.2 1767.5 816.6 1761.2 801.7 1756.0 791.2 1752.1 784.9 1747.0 779.9 1741.8 777.4 1736.7 772.8 1731.6 770.5 1721.3 768.2 1716.2 768.6 1707.2 771.8 1704.6 772.0 1702.0 771.3 1695.6 767.7 1691.8 766.5 1680.2 765.6 1673.8 766.4 1668.6 765.9 1664.8 763.8 1658.4 758.0 1644.2 750.0 1640.4 748.4 1631.4 747.1 1626.3 742.6 1623.7 742.7 1621.1 743.6 1612.1 751.0 1605.7 754.2 1603.1 750.4 1596.7 743.7 1587.8 724.6 1585.0 716.9 1577.9 701.2 1567.2 685.4 1560.8 668.1 1553.1 649.9 1539.0 634.7 1537.7 632.5 1526.0 598.7 1525.1 598.7 1537.7 636.0 1539.0 638.4 1553.1 655.6 1567.2 690.5 1577.5 704.2 1584.4 720.9 1590.0 740.6 1590.7 746.5 1590.3 748.5 1589.0 750.1 1587.8 750.6 1586.5 752.8 1585.2 753.7 1582.6 753.1 1577.5 744.4 1571.5 724.8 1567.2 708.2 1560.8 690.2 1556.9 681.0 1553.1 674.9 1549.2 674.5 1546.7 673.2 1545.4 674.1 1542.8 674.3 1537.7 672.4 1528.7 661.5 1515.8 633.3 1510.7 616.4 1506.8 598.7 1505.0 598.7 1509.1 618.4 1513.7 634.2 1515.8 640.5 1519.7 648.0 1526.6 663.7 1528.7 667.5 1537.7 678.9 1542.8 681.7 1545.4 682.2 1546.7 681.9 1549.2 683.3 1553.1 684.2 1555.6 688.4 1560.8 698.9 1567.2 715.5 1577.5 748.9 1581.3 756.3 1583.9 759.2 1586.5 759.8 1587.8 759.2 1598.0 765.6 1601.9 766.6 1605.7 766.1 1614.2 780.0 1621.7 789.8 1626.3 794.2 1631.4 803.0 1637.8 811.7 1644.2 819.6 1655.8 831.4 1666.1 837.6 1675.1 844.2 1677.6 845.6 1691.8 851.4 1704.6 855.4 1714.9 859.4 1721.3 860.6 1738.0 861.5 1747.0 863.8 1752.1 867.4 1758.5 869.3 1763.7 868.7 1767.5 866.1 1772.7 868.8 1780.4 869.8 1785.5 871.0 1792.2 876.5 1803.5 883.4 1816.6 886.4ZM1811.2 878.7 1803.5 877.1 1799.7 874.6 1790.6 867.1 1785.5 860.2 1779.1 858.9 1772.7 859.0 1767.5 856.8 1765.0 860.8 1762.4 862.7 1759.8 863.6 1756.0 863.5 1752.1 862.4 1747.0 858.9 1739.3 856.8 1721.3 855.7 1714.9 854.5 1704.6 850.3 1691.8 846.3 1675.1 838.8 1667.4 832.8 1654.5 824.6 1644.2 813.7 1631.4 795.8 1627.6 788.0 1621.6 780.0 1619.2 774.1 1617.5 766.2 1618.9 760.3 1620.5 756.3 1622.4 754.1 1626.3 752.5 1631.4 755.8 1641.7 756.9 1658.4 766.3 1664.8 771.9 1668.6 774.0 1673.8 774.5 1680.2 773.8 1691.8 774.7 1695.6 775.7 1702.0 778.7 1704.6 779.3 1707.2 779.1 1717.4 776.3 1721.3 776.1 1731.6 778.0 1736.7 779.9 1741.8 784.3 1747.0 786.9 1752.1 792.1 1756.6 799.7 1762.1 811.5 1765.2 819.4 1767.5 827.3 1772.7 833.2 1779.1 837.7 1785.5 839.8 1787.9 837.1 1790.6 835.7 1793.2 835.3 1803.5 835.4 1822.1 850.9 1829.8 858.8 1833.4 864.7 1834.6 868.7 1834.5 872.6 1832.1 876.5 1829.2 878.6 1825.3 880.0 1818.9 879.9 1811.2 878.7ZM1848.3 659.8 1849.7 660.8 1849.7 657.4 1836.9 648.0 1826.6 642.5 1822.7 636.9 1803.5 604.3 1799.1 598.7 1794.3 598.7 1803.5 608.9 1824.0 642.9 1826.6 646.4 1837.7 651.9 1848.3 659.8ZM1847.5 614.5 1849.7 616.1 1849.7 612.7 1838.1 604.6 1832.3 598.7 1828.9 598.7 1836.9 606.9 1847.5 614.5Z" fill="#81c5e3" stroke="#81c5e3" stroke-width="0.6"/><path d="M1826.4 894.3 1836.9 893.4 1849.7 893.9 1849.7 884.8 1836.9 885.5 1826.6 887.7 1818.9 886.9 1803.5 883.4 1792.2 876.5 1785.5 871.0 1780.4 869.8 1772.7 868.8 1767.5 866.1 1763.7 868.7 1758.5 869.3 1752.1 867.4 1747.0 863.8 1738.0 861.5 1721.3 860.6 1714.9 859.4 1704.6 855.4 1691.8 851.4 1677.6 845.6 1675.1 844.2 1666.1 837.6 1655.8 831.4 1644.2 819.6 1637.8 811.7 1631.4 803.0 1626.3 794.2 1621.7 789.8 1614.2 780.0 1605.7 766.1 1603.2 766.7 1599.3 766.0 1587.8 759.2 1585.2 759.8 1582.6 758.3 1577.5 748.9 1567.2 715.5 1560.8 698.9 1555.1 687.4 1553.1 684.2 1549.2 683.3 1546.7 681.9 1545.4 682.2 1542.8 681.7 1537.7 678.9 1527.4 665.5 1519.7 648.0 1515.8 640.5 1509.6 620.4 1505.0 598.7 1503.0 598.7 1509.4 633.8 1510.7 637.7 1513.3 641.8 1515.4 648.0 1519.7 655.4 1527.4 672.1 1537.7 685.5 1542.7 689.3 1544.1 695.9 1545.4 699.5 1546.7 701.1 1547.9 700.9 1549.2 699.1 1551.8 692.5 1553.1 692.2 1555.6 696.0 1560.8 706.0 1567.2 721.6 1577.5 753.5 1582.6 763.4 1585.2 765.4 1587.8 765.9 1598.0 775.3 1605.7 779.2 1621.1 797.1 1626.3 801.4 1631.4 809.7 1644.1 825.3 1655.8 837.1 1677.6 851.1 1691.8 856.8 1704.6 860.7 1714.9 864.7 1721.3 865.9 1738.0 866.8 1747.0 869.2 1753.4 873.4 1759.8 875.3 1763.7 875.2 1767.5 873.8 1772.7 876.7 1785.5 879.0 1791.9 883.3 1803.5 889.3 1818.9 893.1 1826.4 894.3ZM1847.7 860.8 1849.7 862.0 1849.7 851.4 1836.9 845.8 1828.3 839.1 1815.0 830.2 1803.5 821.3 1790.6 817.2 1785.5 817.8 1780.4 816.8 1776.5 815.3 1772.7 812.9 1767.5 807.0 1757.2 785.6 1752.1 776.8 1747.0 772.0 1741.8 769.7 1736.7 764.8 1732.9 762.6 1721.3 759.3 1718.7 759.2 1713.6 760.4 1707.2 763.5 1704.6 763.8 1702.0 763.0 1695.6 758.7 1691.8 757.5 1680.2 756.5 1673.8 757.5 1668.6 757.2 1664.8 755.1 1657.1 748.2 1641.7 740.2 1634.0 739.3 1631.4 738.6 1626.3 733.4 1621.1 734.0 1612.1 739.8 1609.6 740.5 1605.7 740.4 1598.0 735.6 1595.5 732.3 1591.6 725.6 1577.5 696.5 1567.2 681.3 1560.8 663.6 1553.1 645.3 1544.1 635.6 1539.0 631.1 1537.7 629.0 1526.9 598.7 1526.0 598.7 1537.7 632.5 1539.0 634.7 1553.1 649.9 1560.8 668.1 1567.2 685.4 1577.9 701.2 1585.0 716.9 1587.8 724.6 1596.7 743.7 1603.1 750.4 1605.7 754.2 1612.1 751.0 1621.1 743.6 1623.7 742.7 1626.3 742.6 1631.4 747.1 1640.4 748.4 1644.2 750.0 1658.4 758.0 1664.8 763.8 1668.6 765.9 1673.8 766.4 1680.2 765.6 1691.8 766.5 1695.6 767.7 1702.0 771.3 1704.6 772.0 1707.2 771.8 1716.2 768.6 1720.0 768.2 1730.3 770.2 1734.1 771.6 1736.7 772.8 1742.7 778.0 1747.0 779.9 1752.1 784.9 1756.0 791.2 1761.2 801.7 1767.5 816.6 1772.7 822.2 1779.1 825.8 1785.5 827.4 1790.6 826.0 1803.5 828.3 1828.0 847.0 1836.9 855.0 1847.7 860.8ZM1848.4 663.7 1849.7 664.7 1849.7 660.8 1838.1 652.2 1826.6 646.4 1824.0 642.9 1803.5 608.9 1794.3 598.7 1789.5 598.7 1792.4 602.6 1803.5 613.9 1826.6 650.8 1837.8 655.8 1848.4 663.7ZM1849.4 612.5 1849.7 612.7 1849.7 608.8 1839.4 601.7 1836.0 598.7 1832.3 598.7 1838.1 604.6 1849.4 612.5Z" fill="#91cde6" stroke="#91cde6" stroke-width="0.6"/><path d="M1824.5 900.2 1836.9 900.1 1849.7 901.0 1849.7 893.9 1836.9 893.4 1826.6 894.3 1818.9 893.1 1803.5 889.3 1791.9 883.3 1785.5 879.0 1772.7 876.7 1767.5 873.8 1763.7 875.2 1759.8 875.3 1753.4 873.4 1747.0 869.2 1738.0 866.8 1721.3 865.9 1714.9 864.7 1704.6 860.7 1691.8 856.8 1677.6 851.1 1655.8 837.1 1644.1 825.3 1631.4 809.7 1626.3 801.4 1621.1 797.1 1605.7 779.2 1598.0 775.3 1587.8 765.9 1585.2 765.4 1582.6 763.4 1577.5 753.5 1567.2 721.6 1560.8 706.0 1555.6 696.0 1553.1 692.2 1551.8 692.5 1549.2 699.1 1547.9 700.9 1546.7 701.1 1545.4 699.5 1544.1 695.9 1542.7 689.3 1537.7 685.5 1527.4 672.1 1519.7 655.4 1515.4 648.0 1513.3 641.8 1510.7 637.7 1509.4 633.8 1503.0 598.7 1482.5 598.7 1485.0 609.3 1487.6 615.7 1488.9 616.9 1490.2 616.8 1494.0 613.4 1495.3 613.3 1496.6 614.8 1497.9 618.3 1500.4 631.0 1506.9 675.3 1509.4 687.2 1510.7 690.7 1512.0 692.7 1513.3 693.6 1517.1 693.9 1519.7 695.2 1523.5 700.9 1526.1 703.6 1527.4 704.1 1531.3 702.5 1532.5 702.8 1533.8 704.1 1536.4 711.3 1541.8 734.7 1543.9 740.6 1545.4 743.0 1546.7 743.8 1547.9 743.5 1550.5 740.5 1553.1 735.9 1555.6 734.4 1556.9 734.4 1559.5 735.7 1564.6 740.4 1569.8 743.4 1573.6 748.6 1578.0 760.3 1582.6 768.8 1585.2 771.0 1587.8 772.1 1598.0 782.7 1607.0 788.9 1621.1 804.4 1626.3 808.5 1631.4 816.4 1639.1 825.8 1655.8 843.0 1675.1 855.8 1693.0 863.0 1716.2 870.7 1721.3 871.6 1738.0 872.5 1745.8 874.6 1752.1 878.5 1757.2 880.7 1762.4 881.7 1767.5 881.1 1772.7 884.1 1785.5 886.4 1793.2 890.6 1803.5 895.3 1824.5 900.2ZM1848.8 850.9 1849.7 851.4 1849.7 842.8 1836.9 837.7 1827.9 831.0 1815.0 823.0 1803.5 813.9 1799.6 812.6 1790.6 808.3 1788.1 808.0 1785.5 808.4 1779.1 807.3 1772.7 803.6 1767.5 797.5 1756.0 774.1 1752.1 767.6 1747.0 763.0 1744.4 762.4 1741.8 761.0 1736.7 755.7 1731.6 752.4 1721.3 749.1 1718.7 749.0 1713.6 750.5 1707.2 754.2 1704.6 754.6 1702.0 753.7 1695.6 748.8 1691.8 747.3 1680.2 746.4 1673.8 747.7 1668.6 747.6 1664.8 745.5 1659.7 740.2 1657.1 738.4 1648.1 734.5 1641.7 731.1 1634.0 730.5 1631.4 729.7 1626.3 724.2 1621.1 724.5 1612.1 730.5 1609.6 731.2 1605.7 731.1 1598.0 727.8 1594.2 723.0 1590.7 716.9 1586.5 703.5 1583.9 698.2 1581.3 695.4 1578.8 693.8 1574.9 689.0 1567.2 677.3 1561.0 659.8 1553.1 640.1 1550.5 635.7 1546.7 630.4 1545.4 629.6 1540.2 628.4 1537.7 625.4 1528.0 598.7 1526.9 598.7 1537.7 629.0 1539.0 631.1 1544.1 635.6 1553.1 645.3 1560.8 663.6 1567.2 681.3 1577.5 696.5 1591.6 725.6 1595.5 732.3 1598.0 735.6 1605.7 740.4 1609.6 740.5 1612.1 739.8 1621.1 734.0 1626.3 733.4 1631.4 738.6 1634.0 739.3 1641.7 740.2 1657.1 748.2 1664.8 755.1 1668.6 757.2 1673.8 757.5 1680.2 756.5 1691.8 757.5 1695.6 758.7 1702.0 763.0 1704.6 763.8 1707.2 763.5 1713.6 760.4 1718.7 759.2 1721.3 759.3 1732.9 762.6 1736.7 764.8 1741.8 769.7 1747.0 772.0 1752.1 776.8 1757.2 785.6 1767.5 807.0 1772.7 812.9 1776.5 815.3 1780.4 816.8 1785.5 817.8 1790.6 817.2 1803.5 821.3 1815.0 830.2 1828.3 839.1 1836.9 845.8 1848.8 850.9ZM1847.6 667.7 1849.7 669.2 1849.7 664.7 1838.1 656.1 1826.6 650.8 1803.5 613.9 1792.4 602.6 1789.5 598.7 1785.7 598.7 1790.6 607.2 1803.5 619.4 1815.0 637.0 1824.0 652.4 1826.6 655.9 1829.2 657.3 1836.9 659.8 1847.6 667.7ZM1849.3 608.6 1849.7 608.8 1849.7 604.4 1848.4 603.3 1841.5 598.7 1836.0 598.7 1839.4 601.7 1849.3 608.6Z" fill="#a2d6ea" stroke="#a2d6ea" stroke-width="0.6"/><path d="M1823.2 906.1 1849.7 907.6 1849.7 901.0 1836.9 900.1 1826.6 900.5 1818.9 899.2 1803.5 895.3 1793.2 890.6 1785.5 886.4 1772.7 884.1 1767.5 881.1 1762.4 881.7 1757.2 880.7 1752.1 878.5 1747.0 874.9 1744.4 874.2 1738.0 872.5 1721.3 871.6 1714.9 870.4 1704.6 866.5 1691.8 862.6 1677.6 857.0 1675.1 855.8 1655.8 843.0 1639.1 825.8 1631.4 816.4 1626.3 808.5 1621.1 804.4 1607.0 788.9 1598.0 782.7 1587.8 772.1 1585.2 771.0 1582.6 768.8 1578.0 760.3 1573.6 748.6 1569.8 743.4 1564.6 740.4 1559.5 735.7 1556.9 734.4 1555.6 734.4 1553.1 735.9 1550.5 740.5 1547.9 743.5 1546.7 743.8 1545.4 743.0 1543.9 740.6 1541.8 734.7 1536.4 711.3 1533.8 704.1 1532.5 702.8 1531.3 702.5 1527.4 704.1 1526.1 703.6 1523.5 700.9 1519.7 695.2 1517.1 693.9 1513.3 693.6 1512.0 692.7 1510.7 690.7 1509.4 687.2 1506.9 675.3 1500.4 631.0 1497.9 618.3 1496.6 614.8 1495.3 613.3 1494.0 613.4 1490.2 616.8 1488.9 616.9 1487.6 615.7 1485.0 609.3 1482.5 598.7 1466.3 598.7 1469.6 641.1 1471.3 653.9 1473.5 664.9 1474.8 668.1 1479.9 673.6 1486.3 686.9 1487.6 687.4 1488.9 686.5 1493.9 675.5 1495.3 674.0 1496.6 674.4 1497.9 676.8 1499.2 681.5 1501.4 695.3 1506.0 736.6 1508.1 746.6 1510.7 752.3 1512.0 753.3 1513.3 753.5 1515.8 753.0 1518.4 751.2 1519.7 751.1 1523.5 752.7 1526.1 753.1 1527.4 752.7 1531.3 749.9 1532.5 749.6 1533.8 750.1 1536.4 754.0 1542.8 769.0 1545.3 772.1 1546.7 772.5 1549.2 771.1 1553.1 765.9 1556.9 763.3 1560.8 763.5 1569.8 767.1 1573.6 771.4 1579.3 782.0 1582.6 786.6 1585.2 787.3 1591.6 783.6 1592.9 783.7 1598.0 789.5 1605.7 795.2 1621.1 811.6 1626.3 815.6 1631.4 823.3 1637.8 830.9 1653.2 846.9 1655.8 849.2 1675.1 862.1 1691.8 868.8 1714.9 876.6 1721.3 877.9 1738.0 878.8 1747.0 881.2 1752.1 884.7 1758.5 887.5 1763.7 888.5 1767.5 888.3 1772.7 891.4 1785.5 893.6 1803.5 901.6 1823.2 906.1ZM1845.5 841.1 1849.7 842.8 1849.7 834.6 1836.9 829.8 1827.9 823.1 1815.0 815.4 1803.5 805.9 1798.4 803.6 1792.4 799.7 1789.3 795.4 1787.9 797.7 1785.5 798.5 1779.1 797.8 1772.7 794.0 1767.5 787.4 1760.4 772.1 1756.9 703.1 1755.2 689.3 1753.4 683.6 1752.1 684.0 1751.0 687.4 1749.5 695.3 1747.7 715.0 1745.6 750.4 1745.1 752.4 1743.1 752.0 1740.6 750.0 1737.7 746.5 1737.1 744.5 1734.2 709.0 1731.4 693.3 1729.0 688.2 1725.1 685.2 1720.0 676.6 1718.7 675.0 1717.4 674.6 1716.2 676.0 1714.9 679.3 1712.4 693.3 1709.2 742.5 1707.2 743.8 1704.6 744.3 1702.0 743.2 1699.5 740.6 1698.2 715.0 1696.4 695.3 1694.3 683.9 1693.0 681.0 1691.8 680.1 1690.5 680.7 1685.3 687.1 1681.5 687.5 1679.9 689.3 1678.1 695.3 1677.0 703.1 1674.4 736.6 1671.2 737.1 1667.4 736.7 1664.8 735.0 1663.0 732.7 1661.4 703.1 1659.7 683.6 1658.4 675.5 1657.1 671.2 1655.8 669.5 1654.5 669.5 1653.2 671.4 1649.4 682.2 1646.8 687.1 1645.5 687.9 1641.7 688.8 1640.4 690.8 1635.3 707.2 1634.0 710.6 1632.7 712.0 1631.4 710.5 1630.1 704.9 1626.3 679.9 1623.7 667.1 1621.1 658.8 1619.9 657.7 1618.6 659.0 1617.3 662.7 1612.1 686.1 1609.6 693.0 1607.0 695.6 1603.2 696.6 1598.0 700.4 1596.7 700.2 1594.2 697.2 1592.9 694.8 1586.5 676.6 1583.9 671.0 1581.3 670.3 1576.2 675.0 1573.6 675.2 1571.1 673.1 1567.2 667.2 1560.8 647.3 1555.6 633.5 1553.1 624.4 1547.9 611.8 1546.7 609.8 1545.4 609.3 1544.1 610.1 1540.2 614.6 1539.0 615.6 1537.7 615.4 1533.8 607.9 1530.8 598.7 1528.0 598.7 1537.7 625.4 1540.2 628.4 1545.4 629.6 1546.7 630.4 1550.5 635.7 1553.1 640.1 1561.0 659.8 1567.2 677.3 1574.9 689.0 1578.8 693.8 1581.3 695.4 1583.9 698.2 1586.5 703.5 1590.7 716.9 1594.2 723.0 1598.0 727.8 1605.7 731.1 1609.6 731.2 1612.1 730.5 1621.1 724.5 1626.3 724.2 1631.4 729.7 1634.0 730.5 1641.7 731.1 1648.1 734.5 1657.1 738.4 1659.7 740.2 1664.8 745.5 1668.6 747.6 1673.8 747.7 1680.2 746.4 1691.8 747.3 1695.6 748.8 1702.0 753.7 1704.6 754.6 1707.2 754.2 1713.6 750.5 1718.7 749.0 1721.3 749.1 1731.6 752.4 1736.7 755.7 1741.8 761.0 1744.4 762.4 1747.0 763.0 1752.1 767.6 1756.0 774.1 1767.5 797.5 1772.7 803.6 1779.1 807.3 1785.5 808.4 1788.1 808.0 1790.6 808.3 1799.6 812.6 1803.5 813.9 1815.0 823.0 1827.9 831.0 1836.9 837.7 1845.5 841.1ZM1848.6 673.6 1849.7 674.4 1849.7 669.2 1838.1 660.6 1835.6 659.2 1829.2 657.3 1826.6 655.9 1824.0 652.4 1815.0 637.0 1803.5 619.4 1790.6 607.2 1785.7 598.7 1781.5 598.7 1788.1 611.0 1790.6 614.7 1799.6 621.8 1804.8 627.4 1815.0 642.7 1825.3 660.3 1827.9 662.5 1835.6 664.5 1838.1 665.7 1848.6 673.6ZM1448.7 604.6 1449.1 606.6 1450.4 605.4 1451.2 598.7 1447.7 598.7 1448.7 604.6ZM1847.4 602.6 1849.7 604.4 1849.7 599.2 1849.0 598.7 1841.5 598.7 1847.4 602.6Z" fill="#b3ddee" stroke="#b3ddee" stroke-width="0.6"/><path d="M1847.9 914.0 1849.7 914.2 1849.7 907.6 1836.9 906.6 1825.3 906.5 1803.5 901.6 1785.5 893.6 1772.7 891.4 1767.5 888.3 1762.4 888.4 1757.2 887.1 1752.1 884.7 1747.0 881.2 1738.0 878.8 1721.3 877.9 1714.9 876.6 1691.8 868.8 1675.1 862.1 1655.8 849.2 1653.2 846.9 1637.8 830.9 1631.4 823.3 1626.3 815.6 1621.1 811.6 1605.7 795.2 1598.0 789.5 1592.9 783.7 1591.6 783.6 1585.2 787.3 1582.6 786.6 1579.3 782.0 1573.6 771.4 1569.8 767.1 1560.8 763.5 1556.9 763.3 1553.1 765.9 1549.2 771.1 1546.7 772.5 1545.3 772.1 1542.8 769.0 1536.4 754.0 1533.8 750.1 1532.5 749.6 1531.3 749.9 1527.4 752.7 1526.1 753.1 1523.5 752.7 1519.7 751.1 1518.4 751.2 1515.8 753.0 1512.0 753.3 1510.7 752.3 1509.4 750.2 1506.7 740.6 1504.9 728.8 1500.8 691.3 1497.9 676.8 1496.6 674.4 1495.3 674.0 1493.9 675.5 1488.9 686.5 1487.6 687.4 1486.3 686.9 1479.9 673.6 1474.8 668.1 1473.5 664.9 1471.3 653.9 1469.6 641.1 1466.3 598.7 1451.2 598.7 1450.4 605.4 1449.1 606.6 1447.7 598.7 1438.8 598.7 1438.8 704.5 1442.7 710.7 1447.8 722.1 1449.1 723.5 1450.4 723.6 1451.6 722.3 1453.1 718.9 1459.3 692.9 1460.6 690.7 1461.9 692.4 1463.2 697.9 1468.3 730.6 1472.2 745.6 1474.8 749.5 1479.9 752.4 1485.0 757.7 1487.6 759.0 1490.2 757.4 1495.3 749.8 1496.6 749.5 1497.9 750.9 1500.4 758.5 1506.6 783.9 1508.1 787.9 1510.7 791.8 1513.3 792.9 1515.8 793.1 1519.7 790.7 1526.1 789.9 1531.3 786.0 1533.8 785.3 1536.4 787.5 1542.8 798.3 1545.4 800.6 1546.7 800.8 1549.2 799.4 1553.1 794.5 1558.2 790.2 1560.8 789.6 1567.2 789.6 1569.8 790.2 1573.6 793.7 1580.0 804.6 1582.6 807.9 1585.2 808.7 1591.6 806.6 1594.2 807.0 1600.6 811.7 1608.3 816.4 1616.0 824.2 1618.6 826.0 1621.1 826.2 1626.3 823.1 1631.4 830.4 1637.8 837.9 1653.2 853.7 1655.8 856.1 1676.4 869.8 1691.8 875.8 1714.9 883.5 1721.3 884.8 1738.0 885.9 1747.0 888.1 1752.1 891.5 1758.5 894.5 1763.7 895.8 1767.5 895.9 1772.7 898.9 1785.5 901.0 1803.5 908.2 1825.3 912.9 1847.9 914.0ZM1846.1 833.2 1849.7 834.6 1849.7 797.2 1845.8 797.0 1840.8 799.7 1839.4 799.7 1838.1 798.9 1836.9 797.1 1834.6 789.8 1833.1 780.0 1832.4 768.2 1832.3 756.3 1833.3 736.6 1835.6 712.1 1838.1 694.6 1839.4 692.6 1845.1 713.0 1847.1 716.7 1849.7 718.3 1849.7 674.4 1838.1 665.7 1834.3 664.1 1829.2 663.0 1826.6 661.7 1824.0 658.3 1815.0 642.7 1804.8 627.4 1799.6 621.8 1790.6 614.7 1788.1 611.0 1781.5 598.7 1743.8 598.7 1742.7 620.4 1741.8 627.6 1740.6 628.0 1739.3 619.6 1738.1 598.7 1707.8 598.7 1706.4 624.3 1705.9 630.0 1704.6 634.0 1703.3 630.0 1702.7 624.3 1701.4 598.7 1671.4 598.7 1670.0 622.3 1668.6 630.1 1667.4 628.8 1666.3 620.4 1665.3 598.7 1634.3 598.7 1632.7 613.9 1631.4 614.4 1629.8 598.7 1595.6 598.7 1595.5 601.7 1595.4 598.7 1530.8 598.7 1533.8 607.9 1537.7 615.4 1539.0 615.6 1540.2 614.6 1544.1 610.1 1545.4 609.3 1546.7 609.8 1547.9 611.8 1553.1 624.4 1555.6 633.5 1560.8 647.3 1567.2 667.2 1571.1 673.1 1573.6 675.2 1576.2 675.0 1581.3 670.3 1583.9 671.0 1586.5 676.6 1592.9 694.8 1594.2 697.2 1596.7 700.2 1598.0 700.4 1603.2 696.6 1607.0 695.6 1609.6 693.0 1612.1 686.1 1617.3 662.7 1618.6 659.0 1619.9 657.7 1621.1 658.8 1623.7 667.1 1626.3 679.9 1630.1 704.9 1631.4 710.5 1632.7 712.0 1634.0 710.6 1635.3 707.2 1640.4 690.8 1641.7 688.8 1645.5 687.9 1646.8 687.1 1649.4 682.2 1653.2 671.4 1654.5 669.5 1655.8 669.5 1657.1 671.2 1658.4 675.5 1659.7 683.6 1661.4 703.1 1663.0 732.7 1664.8 735.0 1667.4 736.7 1671.2 737.1 1674.4 736.6 1677.0 703.1 1678.1 695.3 1679.9 689.3 1681.5 687.5 1685.3 687.1 1690.5 680.7 1691.8 680.1 1693.0 681.0 1694.3 683.9 1696.4 695.3 1698.2 715.0 1699.5 740.6 1702.0 743.2 1704.6 744.3 1707.2 743.8 1709.2 742.5 1712.4 693.3 1714.9 679.3 1716.2 676.0 1717.4 674.6 1718.7 675.0 1720.0 676.6 1725.1 685.2 1729.0 688.2 1731.4 693.3 1734.2 709.0 1737.1 744.5 1737.7 746.5 1740.6 750.0 1743.1 752.0 1745.1 752.4 1745.6 750.4 1747.7 715.0 1749.5 695.3 1751.0 687.4 1752.1 684.0 1753.4 683.6 1755.2 689.3 1756.9 703.1 1760.4 772.1 1767.5 787.4 1772.7 794.0 1779.1 797.8 1785.5 798.5 1787.9 797.7 1789.3 795.4 1792.4 799.7 1798.4 803.6 1803.5 805.9 1816.3 816.2 1827.9 823.1 1836.9 829.8 1846.1 833.2ZM1776.5 644.6 1774.9 620.4 1774.5 600.7 1775.2 600.4 1778.2 602.6 1779.3 604.6 1779.5 606.6 1779.1 630.3 1777.8 645.8 1776.5 644.6ZM1849.0 598.7 1849.7 599.2 1849.7 598.7 1849.0 598.7Z" fill="#c3e5f1" stroke="#c3e5f1" stroke-width="0.6"/><path d="M1849.2 935.7 1849.7 935.7 1849.7 914.2 1825.3 912.9 1803.5 908.2 1785.5 901.0 1772.7 898.9 1767.5 895.9 1763.7 895.8 1758.5 894.5 1752.1 891.5 1747.0 888.1 1738.0 885.9 1721.3 884.8 1714.9 883.5 1691.8 875.8 1675.1 869.2 1655.8 856.1 1653.2 853.7 1637.8 837.9 1631.4 830.4 1626.3 823.1 1621.1 826.2 1618.6 826.0 1616.0 824.2 1608.3 816.4 1600.6 811.7 1594.2 807.0 1591.6 806.6 1585.2 808.7 1582.6 807.9 1580.0 804.6 1573.6 793.7 1569.8 790.2 1567.2 789.6 1560.8 789.6 1558.2 790.2 1553.1 794.5 1549.2 799.4 1546.7 800.8 1545.4 800.6 1542.8 798.3 1536.4 787.5 1533.8 785.3 1531.3 786.0 1527.4 789.2 1524.8 790.3 1519.7 790.7 1515.8 793.1 1512.0 792.6 1509.4 790.3 1506.9 784.7 1500.4 758.5 1497.9 750.9 1496.6 749.5 1495.3 749.8 1490.2 757.4 1487.6 759.0 1485.0 757.7 1479.9 752.4 1474.8 749.5 1472.2 745.6 1468.3 730.6 1463.2 697.9 1461.9 692.4 1460.6 690.7 1459.3 692.9 1453.1 718.9 1451.6 722.3 1450.4 723.6 1449.1 723.5 1447.8 722.1 1442.7 710.7 1438.8 704.5 1438.8 759.4 1442.7 765.0 1447.8 774.8 1449.1 776.0 1450.4 776.1 1451.6 775.0 1452.9 772.8 1458.1 758.9 1459.3 756.8 1460.6 756.3 1461.9 757.7 1463.2 761.0 1469.6 787.8 1470.9 791.8 1473.5 796.8 1474.8 798.1 1479.9 800.6 1485.0 805.2 1487.6 806.3 1490.2 805.4 1495.3 800.8 1496.6 800.9 1497.9 802.0 1500.4 807.8 1506.9 827.7 1509.4 832.2 1512.0 834.2 1515.8 835.1 1519.7 832.8 1526.1 830.8 1531.3 826.6 1533.8 825.4 1536.4 826.6 1544.1 836.3 1546.7 836.9 1549.2 835.4 1558.2 824.8 1560.8 823.3 1567.2 820.7 1569.8 820.7 1572.3 822.3 1574.4 825.3 1580.0 838.3 1582.6 842.8 1585.2 844.0 1591.6 841.9 1594.2 842.6 1600.6 847.9 1608.3 852.0 1616.0 858.4 1618.6 859.8 1621.1 859.9 1626.3 857.1 1628.8 857.0 1634.0 859.5 1640.4 863.9 1655.8 871.7 1666.1 871.8 1673.9 876.5 1675.1 877.9 1691.8 884.9 1704.4 888.4 1716.2 893.5 1738.9 898.2 1747.0 901.9 1759.8 912.7 1772.7 922.4 1803.5 927.5 1826.6 933.0 1849.2 935.7ZM1839.4 799.7 1840.8 799.7 1845.8 797.0 1849.7 797.2 1849.7 718.3 1847.1 716.7 1845.1 713.0 1839.4 692.6 1838.1 694.6 1836.9 702.1 1834.3 724.5 1832.8 744.5 1832.3 762.3 1832.7 776.0 1834.3 788.6 1836.9 797.1 1838.1 798.9 1839.4 799.7ZM1776.4 644.0 1777.8 645.8 1779.1 630.3 1779.5 606.6 1779.3 604.6 1778.2 602.6 1775.2 600.4 1774.5 600.7 1774.8 618.4 1776.4 644.0ZM1704.0 632.2 1704.6 634.0 1705.9 630.0 1706.4 624.3 1707.8 598.7 1701.4 598.7 1702.2 618.4 1703.3 630.0 1704.0 632.2ZM1667.3 628.3 1668.6 630.1 1670.0 622.3 1671.4 598.7 1665.3 598.7 1666.1 618.0 1667.3 628.3ZM1740.3 626.3 1740.6 628.0 1741.8 627.6 1743.1 616.3 1743.8 598.7 1738.1 598.7 1739.3 619.6 1740.3 626.3ZM1631.1 612.5 1631.4 614.4 1632.7 613.9 1634.3 598.7 1629.8 598.7 1631.1 612.5ZM1595.4 600.7 1595.5 601.7 1595.6 598.7 1595.4 600.7Z" fill="#d3edf5" stroke="#d3edf5" stroke-width="0.6"/><path d="M1438.8 992.8 1849.7 992.8 1849.7 935.7 1826.6 933.0 1803.5 927.5 1772.7 922.4 1759.8 912.7 1747.0 901.9 1738.9 898.2 1716.2 893.5 1704.4 888.4 1691.8 884.9 1675.1 877.9 1673.9 876.5 1666.1 871.8 1655.8 871.7 1640.4 863.9 1634.0 859.5 1628.8 857.0 1626.3 857.1 1621.1 859.9 1618.6 859.8 1616.0 858.4 1608.3 852.0 1600.6 847.9 1594.2 842.6 1591.6 841.9 1585.2 844.0 1582.6 842.8 1580.0 838.3 1574.4 825.3 1572.3 822.3 1569.8 820.7 1567.2 820.7 1560.8 823.3 1558.2 824.8 1549.2 835.4 1546.7 836.9 1544.1 836.3 1536.4 826.6 1533.8 825.4 1531.3 826.6 1526.1 830.8 1519.7 832.8 1515.8 835.1 1512.0 834.2 1509.4 832.2 1506.9 827.7 1500.4 807.8 1497.9 802.0 1496.6 800.9 1495.3 800.8 1490.2 805.4 1487.6 806.3 1485.0 805.2 1479.9 800.6 1474.8 798.1 1473.5 796.8 1470.9 791.8 1469.6 787.8 1463.2 761.0 1461.9 757.7 1460.6 756.3 1459.3 756.8 1458.1 758.9 1452.9 772.8 1451.6 775.0 1450.4 776.1 1449.1 776.0 1447.8 774.8 1442.7 765.0 1438.8 759.4 1438.8 992.8Z" fill="#e4f5f9" stroke="#e4f5f9" stroke-width="0.6"/></g><rect x="611.0" y="596.2" width="24.6" height="386.8" fill="url(#cbd)"/><rect x="611.0" y="983.0" width="24.6" height="8.0" fill="#000"/><rect x="611.0" y="596.2" width="24.6" height="394.8" fill="none" stroke="#8a8a8a" stroke-width="1.8" rx="1.5"/><rect x="1263.5" y="596.7" width="24.1" height="385.5" fill="url(#cbe)"/><rect x="1263.5" y="982.2" width="24.1" height="8.1" fill="#000"/><rect x="1263.5" y="596.7" width="24.1" height="393.6" fill="none" stroke="#8a8a8a" stroke-width="1.8" rx="1.5"/><rect x="1912.7" y="598.5" width="23.5" height="387.5" fill="url(#cbf)"/><rect x="1912.7" y="986.0" width="23.5" height="6.8" fill="#000"/><rect x="1912.7" y="598.5" width="23.5" height="394.3" fill="none" stroke="#8a8a8a" stroke-width="1.8" rx="1.5"/><path d="M1435.7 216.9H1925.2" stroke="#333" stroke-width="2" stroke-dasharray="7 6"/><rect x="142.7" y="36.4" width="488.4" height="394.3" fill="none" stroke="#1e1e1e" stroke-width="2.6"/><path d="M142.7 430.7v7M203.8 430.7v7M264.8 430.7v7M325.9 430.7v7M386.9 430.7v7M447.9 430.7v7M509.0 430.7v7M570.0 430.7v7M631.1 430.7v7M173.2 430.7v3.5M234.3 430.7v3.5M295.3 430.7v3.5M356.4 430.7v3.5M417.4 430.7v3.5M478.5 430.7v3.5M539.5 430.7v3.5M600.6 430.7v3.5M142.7 97.1h-7M142.7 248.7h-7M142.7 400.3h-7M142.7 172.9h-3.5M142.7 324.5h-3.5" stroke="#1e1e1e" stroke-width="2.6" fill="none"/><text x="142.7" y="464.6" font-size="26" text-anchor="middle" font-weight="bold" fill="#000">2</text><text x="203.8" y="464.6" font-size="26" text-anchor="middle" font-weight="bold" fill="#000">4</text><text x="264.8" y="464.6" font-size="26" text-anchor="middle" font-weight="bold" fill="#000">6</text><text x="325.9" y="464.6" font-size="26" text-anchor="middle" font-weight="bold" fill="#000">8</text><text x="386.9" y="464.6" font-size="26" text-anchor="middle" font-weight="bold" fill="#000">10</text><text x="447.9" y="464.6" font-size="26" text-anchor="middle" font-weight="bold" fill="#000">12</text><text x="509.0" y="464.6" font-size="26" text-anchor="middle" font-weight="bold" fill="#000">14</text><text x="570.0" y="464.6" font-size="26" text-anchor="middle" font-weight="bold" fill="#000">16</text><text x="631.1" y="464.6" font-size="26" text-anchor="middle" font-weight="bold" fill="#000">18</text><text x="129.4" y="106.3" font-size="26" text-anchor="end" font-weight="bold" fill="#000">0</text><text x="129.4" y="257.9" font-size="26" text-anchor="end" font-weight="bold" fill="#000">-5</text><text x="129.4" y="409.5" font-size="26" text-anchor="end" font-weight="bold" fill="#000">-10</text><rect x="788.8" y="36.4" width="488.2" height="394.1" fill="none" stroke="#1e1e1e" stroke-width="2.6"/><path d="M788.8 430.5v7M849.8 430.5v7M910.8 430.5v7M971.9 430.5v7M1032.9 430.5v7M1093.9 430.5v7M1155.0 430.5v7M1216.0 430.5v7M1277.0 430.5v7M819.3 430.5v3.5M880.3 430.5v3.5M941.4 430.5v3.5M1002.4 430.5v3.5M1063.4 430.5v3.5M1124.4 430.5v3.5M1185.5 430.5v3.5M1246.5 430.5v3.5M788.8 97.0h-7M788.8 248.5h-7M788.8 400.0h-7M788.8 172.8h-3.5M788.8 324.2h-3.5" stroke="#1e1e1e" stroke-width="2.6" fill="none"/><text x="788.8" y="464.4" font-size="26" text-anchor="middle" font-weight="bold" fill="#000">2</text><text x="849.8" y="464.4" font-size="26" text-anchor="middle" font-weight="bold" fill="#000">4</text><text x="910.8" y="464.4" font-size="26" text-anchor="middle" font-weight="bold" fill="#000">6</text><text x="971.9" y="464.4" font-size="26" text-anchor="middle" font-weight="bold" fill="#000">8</text><text x="1032.9" y="464.4" font-size="26" text-anchor="middle" font-weight="bold" fill="#000">10</text><text x="1093.9" y="464.4" font-size="26" text-anchor="middle" font-weight="bold" fill="#000">12</text><text x="1155.0" y="464.4" font-size="26" text-anchor="middle" font-weight="bold" fill="#000">14</text><text x="1216.0" y="464.4" font-size="26" text-anchor="middle" font-weight="bold" fill="#000">16</text><text x="1277.0" y="464.4" font-size="26" text-anchor="middle" font-weight="bold" fill="#000">18</text><text x="775.5" y="106.2" font-size="26" text-anchor="end" font-weight="bold" fill="#000">0</text><text x="775.5" y="257.7" font-size="26" text-anchor="end" font-weight="bold" fill="#000">-5</text><text x="775.5" y="409.2" font-size="26" text-anchor="end" font-weight="bold" fill="#000">-10</text><rect x="1435.7" y="42.3" width="489.5" height="393.7" fill="none" stroke="#1e1e1e" stroke-width="2.6"/><path d="M1435.7 436.0v7M1496.9 436.0v7M1558.1 436.0v7M1619.3 436.0v7M1680.5 436.0v7M1741.6 436.0v7M1802.8 436.0v7M1864.0 436.0v7M1925.2 436.0v7M1466.3 436.0v3.5M1527.5 436.0v3.5M1588.7 436.0v3.5M1649.9 436.0v3.5M1711.0 436.0v3.5M1772.2 436.0v3.5M1833.4 436.0v3.5M1894.6 436.0v3.5M1435.7 71.0h-7M1435.7 143.9h-7M1435.7 216.9h-7M1435.7 289.9h-7M1435.7 362.8h-7M1435.7 435.8h-7M1435.7 107.5h-3.5M1435.7 180.4h-3.5M1435.7 253.4h-3.5M1435.7 326.3h-3.5M1435.7 399.3h-3.5" stroke="#1e1e1e" stroke-width="2.6" fill="none"/><text x="1435.7" y="469.9" font-size="26" text-anchor="middle" font-weight="bold" fill="#000">2</text><text x="1496.9" y="469.9" font-size="26" text-anchor="middle" font-weight="bold" fill="#000">4</text><text x="1558.1" y="469.9" font-size="26" text-anchor="middle" font-weight="bold" fill="#000">6</text><text x="1619.3" y="469.9" font-size="26" text-anchor="middle" font-weight="bold" fill="#000">8</text><text x="1680.5" y="469.9" font-size="26" text-anchor="middle" font-weight="bold" fill="#000">10</text><text x="1741.6" y="469.9" font-size="26" text-anchor="middle" font-weight="bold" fill="#000">12</text><text x="1802.8" y="469.9" font-size="26" text-anchor="middle" font-weight="bold" fill="#000">14</text><text x="1864.0" y="469.9" font-size="26" text-anchor="middle" font-weight="bold" fill="#000">16</text><text x="1925.2" y="469.9" font-size="26" text-anchor="middle" font-weight="bold" fill="#000">18</text><text x="1422.4" y="80.2" font-size="26" text-anchor="end" font-weight="bold" fill="#000">0</text><text x="1422.4" y="153.1" font-size="26" text-anchor="end" font-weight="bold" fill="#000">-5</text><text x="1422.4" y="226.1" font-size="26" text-anchor="end" font-weight="bold" fill="#000">-10</text><text x="1422.4" y="299.1" font-size="26" text-anchor="end" font-weight="bold" fill="#000">-15</text><text x="1422.4" y="372.0" font-size="26" text-anchor="end" font-weight="bold" fill="#000">-20</text><text x="1422.4" y="444.9" font-size="26" text-anchor="end" font-weight="bold" fill="#000">-25</text><g clip-path="url(#ca)"><path d="M142.7 98.3 157.9 100.2 173.2 104.0 188.5 101.5 203.8 101.5 219.1 105.9 228.0 102.7 235.7 110.4 249.7 103.4 262.1 97.6 264.8 97.2 280.1 100.6 295.3 104.7 310.6 99.2 318.8 91.0 330.0 86.0 341.0 84.0 350.0 88.0 356.4 93.8 371.7 100.6 386.8 96.5 393.7 96.0 395.4 95.1 414.2 100.8 432.7 115.1 452.5 119.2 475.8 116.5 497.6 118.6 520.8 112.5 534.7 122.9 557.2 136.8 578.0 122.9 597.1 116.0 617.9 122.9 628.2 135.0 631.0 134.0" fill="none" stroke="#ff7f00" stroke-width="2.4" stroke-linejoin="round"/><path d="M142.7 97.5h0M144.5 99.1h0M146.4 98.6h0M148.2 99.4h0M150.0 100.2h0M151.9 99.5h0M153.7 99.7h0M155.5 99.0h0M157.4 99.7h0M159.2 100.5h0M161.0 101.3h0M162.8 102.0h0M164.7 101.6h0M166.5 101.5h0M168.3 102.4h0M170.2 104.1h0M172.0 103.1h0M173.8 103.8h0M175.7 104.5h0M177.5 102.3h0M179.3 103.2h0M181.2 103.6h0M183.0 101.9h0M184.8 102.2h0M186.7 102.6h0M188.5 100.8h0M190.3 101.5h0M192.2 102.0h0M194.0 101.8h0M195.8 101.4h0M197.6 100.9h0M199.5 101.5h0M201.3 101.2h0M203.1 101.5h0M205.0 101.6h0M206.8 103.0h0M208.6 103.4h0M210.5 103.0h0M212.3 104.1h0M214.1 104.0h0M216.0 104.9h0M217.8 105.2h0M219.6 106.0h0M221.5 104.8h0M223.3 104.3h0M225.1 104.2h0M226.9 102.9h0M228.8 104.3h0M230.6 104.7h0M232.4 107.6h0M234.3 108.8h0M236.1 110.0h0M237.9 109.5h0M239.8 108.4h0M241.6 107.3h0M243.4 105.5h0M245.3 104.8h0M247.1 105.1h0M248.9 103.8h0M250.8 103.3h0M252.6 103.0h0M254.4 101.6h0M256.3 99.4h0M258.1 99.1h0M259.9 98.8h0M261.7 97.2h0M263.6 98.3h0M265.4 98.2h0M267.2 98.4h0M269.1 98.1h0M270.9 99.2h0M272.7 98.2h0M274.6 99.0h0M276.4 99.7h0M278.2 100.7h0M280.1 100.6h0M281.9 100.4h0M283.7 101.3h0M285.6 101.7h0M287.4 102.2h0M289.2 102.4h0M291.1 103.4h0M292.9 103.9h0M294.7 105.1h0M296.5 104.8h0M298.4 103.6h0M300.2 102.9h0M302.0 102.8h0M303.9 102.4h0M305.7 101.3h0M307.5 100.9h0M309.4 100.5h0M311.2 97.7h0M313.0 97.5h0M314.9 94.5h0M316.7 93.1h0M318.5 91.9h0M320.4 90.7h0M322.2 88.8h0M324.0 89.0h0M325.9 87.0h0M327.7 86.7h0M329.5 86.8h0M331.3 85.6h0M333.2 85.6h0M335.0 85.5h0M336.8 85.4h0M338.7 84.9h0M340.5 83.1h0M342.3 84.4h0M344.2 85.3h0M346.0 85.3h0M347.8 87.1h0M349.7 88.1h0M351.5 90.0h0M353.3 91.9h0M355.2 91.9h0M357.0 93.5h0M358.8 95.2h0M360.6 95.0h0M362.5 96.0h0M364.3 97.5h0M366.1 97.5h0M368.0 99.5h0M369.8 100.5h0M371.6 99.6h0M373.5 100.2h0M375.3 100.2h0M377.1 100.1h0M379.0 98.2h0M380.8 97.5h0M382.6 98.4h0M384.5 98.0h0M386.3 96.0h0M388.1 96.3h0M390.0 96.7h0M391.8 96.8h0M393.6 95.3h0M395.4 95.4h0M397.3 96.3h0M399.1 96.3h0M400.9 96.1h0M402.8 96.4h0M404.6 97.5h0M406.4 99.1h0M408.3 98.1h0M410.1 98.6h0M411.9 99.8h0M413.8 99.8h0M415.6 101.2h0M417.4 102.3h0M419.3 104.8h0M421.1 106.5h0M422.9 107.4h0M424.8 108.2h0M426.6 110.0h0M428.4 112.0h0M430.2 114.1h0M432.1 115.6h0M433.9 114.8h0M435.7 114.8h0M437.6 116.8h0M439.4 117.3h0M441.2 116.8h0M443.1 117.8h0M444.9 118.4h0M446.7 118.2h0M448.6 119.1h0M450.4 117.8h0M452.2 118.7h0M454.1 118.6h0M455.9 118.0h0M457.7 119.4h0M459.5 117.4h0M461.4 118.5h0M463.2 117.1h0M465.0 117.5h0M466.9 117.4h0M468.7 116.7h0M470.5 117.2h0M472.4 117.0h0M474.2 116.3h0M476.0 117.0h0M477.9 116.0h0M479.7 116.3h0M481.5 116.8h0M483.4 117.0h0M485.2 116.8h0M487.0 118.4h0M488.9 118.4h0M490.7 117.1h0M492.5 117.8h0M494.3 117.8h0M496.2 118.4h0M498.0 118.0h0M499.8 118.0h0M501.7 118.4h0M503.5 116.8h0M505.3 116.9h0M507.2 116.3h0M509.0 116.1h0M510.8 114.2h0M512.7 115.1h0M514.5 115.1h0M516.3 113.9h0M518.2 112.8h0M520.0 113.1h0M521.8 113.7h0M523.7 114.9h0M525.5 115.3h0M527.3 118.3h0M529.1 119.7h0M531.0 120.0h0M532.8 121.7h0M534.6 121.9h0M536.5 125.0h0M538.3 125.8h0M540.1 126.5h0M542.0 127.9h0M543.8 127.9h0M545.6 129.3h0M547.5 130.3h0M549.3 132.1h0M551.1 132.2h0M553.0 135.0h0M554.8 135.2h0M556.6 136.3h0M558.5 135.2h0M560.3 135.1h0M562.1 134.2h0M563.9 132.6h0M565.8 130.6h0M567.6 130.4h0M569.4 127.9h0M571.3 128.1h0M573.1 126.3h0M574.9 124.5h0M576.8 123.8h0M578.6 122.9h0M580.4 121.5h0M582.3 122.1h0M584.1 120.5h0M585.9 120.8h0M587.8 120.0h0M589.6 117.9h0M591.4 118.3h0M593.2 117.0h0M595.1 117.2h0M596.9 116.2h0M598.7 116.5h0M600.6 117.9h0M602.4 116.9h0M604.2 118.5h0M606.1 118.6h0M607.9 118.7h0M609.7 120.7h0M611.6 120.9h0M613.4 122.2h0M615.2 122.2h0M617.1 122.3h0M618.9 125.0h0M620.7 125.4h0M622.6 127.5h0M624.4 131.0h0M626.2 132.4h0M628.0 134.5h0M629.9 135.2h0M142.7 98.3h0M157.9 100.2h0M173.2 104.0h0M188.5 101.5h0M203.8 101.5h0M219.1 105.9h0M228.0 102.7h0M235.7 110.4h0M249.7 103.4h0M262.1 97.6h0M264.8 97.2h0M280.1 100.6h0M295.3 104.7h0M310.6 99.2h0M318.8 91.0h0M330.0 86.0h0M341.0 84.0h0M350.0 88.0h0M356.4 93.8h0M371.7 100.6h0M386.8 96.5h0M395.4 95.1h0M393.7 96.0h0M414.2 100.8h0M432.7 115.1h0M452.5 119.2h0M475.8 116.5h0M497.6 118.6h0M520.8 112.5h0M534.7 122.9h0M557.2 136.8h0M578.0 122.9h0M597.1 116.0h0M617.9 122.9h0M628.2 135.0h0M631.0 134.0h0" fill="none" stroke="#ff7f00" stroke-width="8.4" stroke-linecap="round"/><path d="M142.7 103.4 157.9 107.2 173.2 113.6 188.5 110.4 203.8 109.7 219.1 116.1 228.0 112.3 235.7 121.2 249.7 110.4 262.1 102.1 264.8 100.6 280.1 106.1 295.3 114.3 310.6 108.8 318.8 95.0 328.4 82.8 340.0 78.0 356.4 102.0 371.6 110.2 381.0 111.0 387.0 99.5 393.7 100.0 401.9 108.3 414.2 112.4 432.7 135.7 452.5 146.6 475.8 141.1 497.6 143.9 510.0 138.0 520.8 131.6 534.7 159.3 552.0 197.5 578.0 159.3 600.5 145.5 621.3 180.0 630.0 202.7" fill="none" stroke="#00b140" stroke-width="2.4" stroke-linejoin="round"/><path d="M142.7 103.1h0M144.5 104.6h0M146.4 104.6h0M148.2 104.4h0M150.0 104.4h0M151.9 105.2h0M153.7 107.1h0M155.5 106.4h0M157.4 106.4h0M159.2 107.3h0M161.0 109.3h0M162.8 108.6h0M164.7 110.6h0M166.5 110.1h0M168.3 112.5h0M170.2 112.4h0M172.0 112.2h0M173.8 114.3h0M175.7 112.8h0M177.5 113.2h0M179.3 112.4h0M181.2 111.1h0M183.0 110.8h0M184.8 110.5h0M186.7 110.1h0M188.5 109.5h0M190.3 109.4h0M192.2 111.1h0M194.0 109.3h0M195.8 110.1h0M197.6 109.2h0M199.5 109.3h0M201.3 110.3h0M203.1 110.6h0M205.0 110.1h0M206.8 110.0h0M208.6 112.7h0M210.5 111.6h0M212.3 113.0h0M214.1 114.1h0M216.0 115.6h0M217.8 116.2h0M219.6 116.1h0M221.5 114.9h0M223.3 115.0h0M225.1 114.3h0M226.9 113.5h0M228.8 113.6h0M230.6 114.5h0M232.4 117.0h0M234.3 119.5h0M236.1 120.9h0M237.9 120.1h0M239.8 117.5h0M241.6 117.0h0M243.4 115.0h0M245.3 114.4h0M247.1 111.8h0M248.9 110.9h0M250.8 108.9h0M252.6 107.9h0M254.4 108.1h0M256.3 105.6h0M258.1 105.6h0M259.9 103.6h0M261.7 101.4h0M263.6 101.9h0M265.4 99.9h0M267.2 102.1h0M269.1 101.2h0M270.9 103.1h0M272.7 102.8h0M274.6 103.8h0M276.4 105.7h0M278.2 105.4h0M280.1 106.4h0M281.9 107.5h0M283.7 107.3h0M285.6 109.7h0M287.4 110.9h0M289.2 110.3h0M291.1 112.1h0M292.9 112.6h0M294.7 114.5h0M296.5 112.9h0M298.4 113.2h0M300.2 113.1h0M302.0 112.3h0M303.9 110.4h0M305.7 111.2h0M307.5 109.4h0M309.4 109.9h0M311.2 107.8h0M313.0 104.0h0M314.9 102.1h0M316.7 99.2h0M318.5 95.9h0M320.4 94.0h0M322.2 90.2h0M324.0 87.8h0M325.9 85.3h0M327.7 83.8h0M329.5 82.1h0M331.3 81.3h0M333.2 80.7h0M335.0 79.6h0M336.8 78.3h0M338.7 78.5h0M340.5 78.3h0M342.3 81.3h0M344.2 85.0h0M346.0 86.1h0M347.8 89.7h0M349.7 92.4h0M351.5 94.4h0M353.3 97.4h0M355.2 101.1h0M357.0 102.0h0M358.8 103.7h0M360.6 105.0h0M362.5 105.0h0M364.3 107.2h0M366.1 107.5h0M368.0 108.2h0M369.8 109.7h0M371.6 110.1h0M373.5 110.8h0M375.3 110.1h0M377.1 111.5h0M379.0 110.9h0M380.8 110.5h0M382.6 107.8h0M384.5 105.2h0M386.3 101.5h0M388.1 99.6h0M390.0 99.4h0M391.8 99.6h0M393.6 101.0h0M395.4 101.0h0M397.3 104.4h0M399.1 106.2h0M400.9 106.8h0M402.8 108.3h0M404.6 109.3h0M406.4 110.4h0M408.3 111.3h0M410.1 112.0h0M411.9 111.2h0M413.8 111.6h0M415.6 114.1h0M417.4 116.6h0M419.3 119.1h0M421.1 120.3h0M422.9 123.7h0M424.8 126.5h0M426.6 128.8h0M428.4 131.2h0M430.2 133.5h0M432.1 135.8h0M433.9 135.5h0M435.7 138.2h0M437.6 137.9h0M439.4 139.0h0M441.2 140.3h0M443.1 142.3h0M444.9 142.6h0M446.7 143.1h0M448.6 144.2h0M450.4 146.2h0M452.2 147.1h0M454.1 145.5h0M455.9 145.3h0M457.7 145.1h0M459.5 144.4h0M461.4 144.6h0M463.2 143.5h0M465.0 143.8h0M466.9 144.1h0M468.7 143.5h0M470.5 141.5h0M472.4 141.3h0M474.2 141.3h0M476.0 141.4h0M477.9 141.1h0M479.7 141.1h0M481.5 141.5h0M483.4 141.5h0M485.2 143.0h0M487.0 142.9h0M488.9 142.6h0M490.7 143.4h0M492.5 143.3h0M494.3 143.5h0M496.2 143.5h0M498.0 143.7h0M499.8 143.8h0M501.7 142.5h0M503.5 141.7h0M505.3 139.5h0M507.2 139.4h0M509.0 138.2h0M510.8 136.7h0M512.7 136.2h0M514.5 134.5h0M516.3 133.7h0M518.2 133.8h0M520.0 132.5h0M521.8 134.0h0M523.7 136.4h0M525.5 140.3h0M527.3 143.6h0M529.1 147.4h0M531.0 151.1h0M532.8 156.5h0M534.6 160.0h0M536.5 162.6h0M538.3 166.8h0M540.1 172.2h0M542.0 175.5h0M543.8 179.1h0M545.6 183.4h0M547.5 187.0h0M549.3 191.7h0M551.1 196.0h0M553.0 196.1h0M554.8 194.0h0M556.6 189.9h0M558.5 188.2h0M560.3 186.3h0M562.1 181.9h0M563.9 179.9h0M565.8 177.5h0M567.6 174.2h0M569.4 172.8h0M571.3 169.2h0M573.1 166.5h0M574.9 164.6h0M576.8 160.1h0M578.6 159.7h0M580.4 157.1h0M582.3 156.4h0M584.1 155.5h0M585.9 154.4h0M587.8 152.4h0M589.6 151.8h0M591.4 150.8h0M593.2 150.9h0M595.1 149.7h0M596.9 147.9h0M598.7 147.4h0M600.6 146.4h0M602.4 148.4h0M604.2 150.9h0M606.1 155.0h0M607.9 157.4h0M609.7 159.8h0M611.6 164.8h0M613.4 167.8h0M615.2 170.0h0M617.1 173.2h0M618.9 176.3h0M620.7 179.9h0M622.6 183.2h0M624.4 188.2h0M626.2 192.3h0M628.0 197.1h0M629.9 202.4h0M142.7 103.4h0M157.9 107.2h0M173.2 113.6h0M188.5 110.4h0M203.8 109.7h0M219.1 116.1h0M228.0 112.3h0M235.7 121.2h0M249.7 110.4h0M262.1 102.1h0M264.8 100.6h0M280.1 106.1h0M295.3 114.3h0M310.6 108.8h0M318.8 95.0h0M328.4 82.8h0M340.0 78.0h0M356.4 102.0h0M371.6 110.2h0M381.0 111.0h0M387.0 99.5h0M393.7 100.0h0M401.9 108.3h0M414.2 112.4h0M432.7 135.7h0M452.5 146.6h0M475.8 141.1h0M497.6 143.9h0M510.0 138.0h0M520.8 131.6h0M534.7 159.3h0M552.0 197.5h0M578.0 159.3h0M600.5 145.5h0M621.3 180.0h0M630.0 202.7h0" fill="none" stroke="#00b140" stroke-width="8.4" stroke-linecap="round"/><path d="M142.7 107.8 157.9 113.6 173.2 122.5 188.5 117.4 203.8 116.8 219.1 127.6 228.0 122.5 235.7 134.0 249.7 117.4 262.1 104.6 264.8 104.7 273.7 113.0 286.0 118.4 295.3 128.0 310.6 122.5 318.8 91.0 328.4 80.0 342.1 73.3 356.4 99.2 371.6 123.9 381.0 125.0 387.0 108.8 393.7 109.7 407.4 127.5 421.0 143.9 434.7 160.3 456.6 176.7 484.0 172.6 497.6 183.5 510.0 168.0 520.8 159.3 531.2 185.3 539.9 228.6 552.0 254.6 558.9 258.1 569.3 221.7 579.7 176.7 600.5 152.4 621.3 180.0 630.0 225.2" fill="none" stroke="#9452bd" stroke-width="2.4" stroke-linejoin="round"/><path d="M142.7 107.3h0M144.5 107.6h0M146.4 108.9h0M148.2 110.4h0M150.0 110.1h0M151.9 112.0h0M153.7 112.4h0M155.5 113.0h0M157.4 114.2h0M159.2 113.5h0M161.0 114.8h0M162.8 117.3h0M164.7 118.4h0M166.5 117.8h0M168.3 120.2h0M170.2 119.8h0M172.0 121.1h0M173.8 121.5h0M175.7 121.3h0M177.5 120.8h0M179.3 121.3h0M181.2 119.7h0M183.0 118.5h0M184.8 118.2h0M186.7 117.0h0M188.5 116.5h0M190.3 117.2h0M192.2 117.3h0M194.0 116.7h0M195.8 116.9h0M197.6 116.2h0M199.5 117.3h0M201.3 116.7h0M203.1 116.1h0M205.0 117.6h0M206.8 118.3h0M208.6 119.8h0M210.5 120.8h0M212.3 123.4h0M214.1 123.6h0M216.0 126.3h0M217.8 126.5h0M219.6 126.6h0M221.5 126.7h0M223.3 125.7h0M225.1 124.9h0M226.9 122.4h0M228.8 124.2h0M230.6 127.1h0M232.4 128.7h0M234.3 131.8h0M236.1 133.8h0M237.9 130.8h0M239.8 129.9h0M241.6 127.4h0M243.4 125.5h0M245.3 122.6h0M247.1 120.5h0M248.9 117.7h0M250.8 115.9h0M252.6 114.9h0M254.4 113.4h0M256.3 109.9h0M258.1 107.8h0M259.9 106.0h0M261.7 104.8h0M263.6 105.2h0M265.4 104.7h0M267.2 106.9h0M269.1 108.7h0M270.9 111.1h0M272.7 111.4h0M274.6 112.4h0M276.4 114.2h0M278.2 114.7h0M280.1 115.4h0M281.9 117.1h0M283.7 117.8h0M285.6 117.4h0M287.4 119.9h0M289.2 122.3h0M291.1 124.4h0M292.9 124.5h0M294.7 128.0h0M296.5 126.6h0M298.4 127.3h0M300.2 126.4h0M302.0 126.5h0M303.9 125.2h0M305.7 123.4h0M307.5 123.9h0M309.4 122.5h0M311.2 120.9h0M313.0 112.2h0M314.9 105.8h0M316.7 99.4h0M318.5 91.4h0M320.4 89.5h0M322.2 87.5h0M324.0 85.5h0M325.9 83.7h0M327.7 80.6h0M329.5 78.7h0M331.3 78.1h0M333.2 77.4h0M335.0 75.9h0M336.8 76.3h0M338.7 74.1h0M340.5 73.2h0M342.3 74.6h0M344.2 77.7h0M346.0 79.9h0M347.8 83.4h0M349.7 87.6h0M351.5 90.5h0M353.3 93.2h0M355.2 96.8h0M357.0 100.9h0M358.8 102.1h0M360.6 107.1h0M362.5 109.2h0M364.3 111.4h0M366.1 115.6h0M368.0 117.2h0M369.8 120.8h0M371.6 124.1h0M373.5 123.6h0M375.3 125.1h0M377.1 124.9h0M379.0 124.1h0M380.8 124.3h0M382.6 119.7h0M384.5 115.8h0M386.3 110.1h0M388.1 109.0h0M390.0 109.8h0M391.8 110.2h0M393.6 108.9h0M395.4 111.6h0M397.3 114.2h0M399.1 116.5h0M400.9 118.9h0M402.8 121.4h0M404.6 124.4h0M406.4 125.9h0M408.3 128.2h0M410.1 130.5h0M411.9 132.3h0M413.8 135.4h0M415.6 137.2h0M417.4 140.4h0M419.3 142.4h0M421.1 143.5h0M422.9 145.7h0M424.8 149.0h0M426.6 150.7h0M428.4 151.8h0M430.2 155.2h0M432.1 156.9h0M433.9 159.9h0M435.7 161.6h0M437.6 163.3h0M439.4 164.2h0M441.2 166.0h0M443.1 166.1h0M444.9 167.6h0M446.7 168.4h0M448.6 171.4h0M450.4 171.4h0M452.2 173.5h0M454.1 174.8h0M455.9 176.8h0M457.7 176.3h0M459.5 175.5h0M461.4 175.8h0M463.2 174.8h0M465.0 175.0h0M466.9 175.4h0M468.7 174.0h0M470.5 175.6h0M472.4 174.4h0M474.2 173.7h0M476.0 174.5h0M477.9 172.8h0M479.7 172.9h0M481.5 173.8h0M483.4 172.2h0M485.2 174.0h0M487.0 174.2h0M488.9 176.6h0M490.7 178.3h0M492.5 178.8h0M494.3 180.5h0M496.2 182.5h0M498.0 183.2h0M499.8 180.0h0M501.7 178.2h0M503.5 177.1h0M505.3 173.5h0M507.2 172.1h0M509.0 168.7h0M510.8 167.3h0M512.7 165.9h0M514.5 164.6h0M516.3 163.3h0M518.2 162.0h0M520.0 160.4h0M521.8 162.5h0M523.7 167.2h0M525.5 170.7h0M527.3 176.2h0M529.1 180.2h0M531.0 184.3h0M532.8 192.7h0M534.6 203.0h0M536.5 211.8h0M538.3 219.8h0M540.1 229.3h0M542.0 232.1h0M543.8 236.8h0M545.6 241.1h0M547.5 245.1h0M549.3 248.1h0M551.1 251.8h0M553.0 255.2h0M554.8 256.7h0M556.6 257.5h0M558.5 257.6h0M560.3 253.4h0M562.1 247.3h0M563.9 241.2h0M565.8 234.0h0M567.6 228.4h0M569.4 220.7h0M571.3 212.6h0M573.1 204.8h0M574.9 197.8h0M576.8 190.2h0M578.6 181.4h0M580.4 176.2h0M582.3 173.0h0M584.1 171.6h0M585.9 169.3h0M587.8 167.2h0M589.6 164.5h0M591.4 163.3h0M593.2 161.2h0M595.1 159.0h0M596.9 157.1h0M598.7 154.4h0M600.6 153.2h0M602.4 155.1h0M604.2 158.1h0M606.1 159.6h0M607.9 162.6h0M609.7 164.0h0M611.6 166.2h0M613.4 170.4h0M615.2 171.7h0M617.1 173.5h0M618.9 177.0h0M620.7 180.1h0M622.6 187.0h0M624.4 197.0h0M626.2 206.4h0M628.0 215.0h0M629.9 224.0h0M142.7 107.8h0M157.9 113.6h0M173.2 122.5h0M188.5 117.4h0M203.8 116.8h0M219.1 127.6h0M228.0 122.5h0M235.7 134.0h0M249.7 117.4h0M262.1 104.6h0M264.8 104.7h0M273.7 113.0h0M286.0 118.4h0M295.3 128.0h0M310.6 122.5h0M318.8 91.0h0M328.4 80.0h0M342.1 73.3h0M356.4 99.2h0M371.6 123.9h0M381.0 125.0h0M387.0 108.8h0M393.7 109.7h0M407.4 127.5h0M421.0 143.9h0M434.7 160.3h0M456.6 176.7h0M484.0 172.6h0M497.6 183.5h0M510.0 168.0h0M520.8 159.3h0M531.2 185.3h0M539.9 228.6h0M552.0 254.6h0M558.9 258.1h0M569.3 221.7h0M579.7 176.7h0M600.5 152.4h0M621.3 180.0h0M630.0 225.2h0" fill="none" stroke="#9452bd" stroke-width="8.4" stroke-linecap="round"/><path d="M142.7 112.3 157.9 120.0 173.2 134.0 188.5 127.0 203.8 125.0 219.1 142.9 228.0 132.7 235.7 151.8 249.7 127.6 262.1 111.0 264.8 110.2 273.7 123.9 284.6 132.0 291.5 159.4 301.0 143.0 312.0 137.5 318.8 113.0 328.4 93.8 335.2 63.7 344.8 74.6 355.8 102.0 364.0 129.3 376.3 139.0 382.0 141.0 388.6 143.0 393.7 123.4 403.3 143.9 421.0 167.1 434.7 183.5 452.5 189.0 468.9 168.5 486.7 163.0 497.6 178.0 510.0 160.0 520.8 148.9 534.7 176.7 552.0 216.5 569.3 194.0 586.7 147.2 600.5 135.0 621.3 152.4 630.0 169.7" fill="none" stroke="#ffff00" stroke-width="2.4" stroke-linejoin="round"/><path d="M142.7 111.4h0M144.5 112.8h0M146.4 114.4h0M148.2 115.9h0M150.0 115.0h0M151.9 117.6h0M153.7 118.4h0M155.5 119.2h0M157.4 119.0h0M159.2 120.3h0M161.0 123.3h0M162.8 124.8h0M164.7 125.9h0M166.5 127.6h0M168.3 128.6h0M170.2 132.2h0M172.0 133.6h0M173.8 134.7h0M175.7 133.5h0M177.5 132.0h0M179.3 131.9h0M181.2 129.8h0M183.0 129.9h0M184.8 128.2h0M186.7 127.6h0M188.5 127.7h0M190.3 126.6h0M192.2 127.3h0M194.0 126.5h0M195.8 125.6h0M197.6 125.3h0M199.5 124.6h0M201.3 125.5h0M203.1 125.8h0M205.0 125.8h0M206.8 128.5h0M208.6 131.6h0M210.5 132.6h0M212.3 135.8h0M214.1 137.7h0M216.0 139.2h0M217.8 141.6h0M219.6 141.4h0M221.5 140.2h0M223.3 138.6h0M225.1 135.5h0M226.9 133.0h0M228.8 133.7h0M230.6 138.5h0M232.4 143.2h0M234.3 148.9h0M236.1 151.0h0M237.9 148.0h0M239.8 144.4h0M241.6 141.2h0M243.4 138.5h0M245.3 135.8h0M247.1 131.5h0M248.9 128.8h0M250.8 126.5h0M252.6 124.7h0M254.4 120.8h0M256.3 118.6h0M258.1 116.5h0M259.9 113.2h0M261.7 111.7h0M263.6 111.5h0M265.4 110.7h0M267.2 113.9h0M269.1 116.0h0M270.9 119.6h0M272.7 123.4h0M274.6 124.6h0M276.4 125.3h0M278.2 126.9h0M280.1 128.9h0M281.9 130.7h0M283.7 131.3h0M285.6 135.8h0M287.4 143.7h0M289.2 149.6h0M291.1 158.5h0M292.9 156.9h0M294.7 153.5h0M296.5 151.2h0M298.4 147.0h0M300.2 143.7h0M302.0 142.0h0M303.9 141.9h0M305.7 139.8h0M307.5 139.6h0M309.4 138.3h0M311.2 138.0h0M313.0 133.1h0M314.9 127.7h0M316.7 121.4h0M318.5 113.6h0M320.4 109.6h0M322.2 106.4h0M324.0 103.0h0M325.9 98.0h0M327.7 95.6h0M329.5 89.5h0M331.3 81.4h0M333.2 72.5h0M335.0 65.2h0M336.8 65.7h0M338.7 67.0h0M340.5 69.3h0M342.3 72.0h0M344.2 74.0h0M346.0 78.2h0M347.8 82.6h0M349.7 86.1h0M351.5 91.1h0M353.3 96.4h0M355.2 100.3h0M357.0 105.4h0M358.8 112.9h0M360.6 118.0h0M362.5 123.9h0M364.3 129.6h0M366.1 130.6h0M368.0 132.0h0M369.8 134.2h0M371.6 135.9h0M373.5 136.6h0M375.3 137.5h0M377.1 139.2h0M379.0 139.7h0M380.8 140.4h0M382.6 140.7h0M384.5 142.3h0M386.3 141.7h0M388.1 141.9h0M390.0 138.2h0M391.8 131.2h0M393.6 123.2h0M395.4 126.5h0M397.3 131.2h0M399.1 135.8h0M400.9 138.4h0M402.8 142.9h0M404.6 145.1h0M406.4 148.5h0M408.3 150.3h0M410.1 152.6h0M411.9 155.5h0M413.8 157.7h0M415.6 159.4h0M417.4 162.2h0M419.3 165.7h0M421.1 167.8h0M422.9 169.4h0M424.8 171.9h0M426.6 173.1h0M428.4 175.8h0M430.2 179.0h0M432.1 179.7h0M433.9 183.5h0M435.7 184.5h0M437.6 184.8h0M439.4 184.7h0M441.2 184.7h0M443.1 185.7h0M444.9 187.1h0M446.7 187.1h0M448.6 188.4h0M450.4 187.8h0M452.2 189.6h0M454.1 187.8h0M455.9 185.2h0M457.7 181.9h0M459.5 179.6h0M461.4 177.0h0M463.2 174.7h0M465.0 173.8h0M466.9 171.0h0M468.7 169.3h0M470.5 167.6h0M472.4 167.1h0M474.2 167.7h0M476.0 167.3h0M477.9 164.9h0M479.7 165.7h0M481.5 164.7h0M483.4 163.0h0M485.2 163.7h0M487.0 163.0h0M488.9 165.7h0M490.7 169.4h0M492.5 171.5h0M494.3 172.6h0M496.2 176.4h0M498.0 176.4h0M499.8 175.5h0M501.7 172.3h0M503.5 169.7h0M505.3 165.8h0M507.2 163.3h0M509.0 161.5h0M510.8 158.9h0M512.7 157.9h0M514.5 154.9h0M516.3 153.3h0M518.2 150.9h0M520.0 149.7h0M521.8 151.9h0M523.7 154.1h0M525.5 158.8h0M527.3 161.3h0M529.1 166.4h0M531.0 169.3h0M532.8 172.2h0M534.6 177.1h0M536.5 181.6h0M538.3 184.3h0M540.1 188.4h0M542.0 192.9h0M543.8 197.7h0M545.6 202.7h0M547.5 206.8h0M549.3 209.9h0M551.1 213.6h0M553.0 215.4h0M554.8 213.0h0M556.6 210.0h0M558.5 208.3h0M560.3 206.7h0M562.1 202.6h0M563.9 200.6h0M565.8 199.3h0M567.6 195.5h0M569.4 192.9h0M571.3 188.0h0M573.1 184.3h0M574.9 178.1h0M576.8 173.1h0M578.6 169.2h0M580.4 164.6h0M582.3 159.7h0M584.1 154.1h0M585.9 150.1h0M587.8 145.6h0M589.6 144.5h0M591.4 142.8h0M593.2 141.5h0M595.1 139.2h0M596.9 137.5h0M598.7 137.5h0M600.6 134.7h0M602.4 136.6h0M604.2 139.0h0M606.1 139.3h0M607.9 140.9h0M609.7 142.8h0M611.6 143.4h0M613.4 144.8h0M615.2 147.6h0M617.1 148.6h0M618.9 149.5h0M620.7 151.5h0M622.6 155.3h0M624.4 159.1h0M626.2 162.2h0M628.0 165.3h0M629.9 170.1h0M142.7 112.3h0M157.9 120.0h0M173.2 134.0h0M188.5 127.0h0M203.8 125.0h0M219.1 142.9h0M228.0 132.7h0M235.7 151.8h0M249.7 127.6h0M262.1 111.0h0M264.8 110.2h0M273.7 123.9h0M284.6 132.0h0M291.5 159.4h0M301.0 143.0h0M312.0 137.5h0M318.8 113.0h0M328.4 93.8h0M335.2 63.7h0M344.8 74.6h0M355.8 102.0h0M364.0 129.3h0M376.3 139.0h0M382.0 141.0h0M388.6 143.0h0M393.7 123.4h0M403.3 143.9h0M421.0 167.1h0M434.7 183.5h0M452.5 189.0h0M468.9 168.5h0M486.7 163.0h0M497.6 178.0h0M510.0 160.0h0M520.8 148.9h0M534.7 176.7h0M552.0 216.5h0M569.3 194.0h0M586.7 147.2h0M600.5 135.0h0M621.3 152.4h0M630.0 169.7h0" fill="none" stroke="#ffff00" stroke-width="8.4" stroke-linecap="round"/><path d="M142.7 118.7 152.8 131.4 168.1 149.3 178.3 141.6 193.6 136.5 203.8 142.9 216.5 159.5 222.9 165.9 228.0 144.2 235.7 174.8 242.0 168.4 249.7 146.7 260.0 141.7 264.8 119.8 271.0 137.5 279.2 156.7 286.0 145.8 290.5 175.9 292.1 199.0 298.3 159.4 309.2 163.5 317.5 143.0 328.4 115.7 333.9 80.1 338.7 107.5 344.8 87.0 348.9 125.2 358.5 143.0 366.7 159.4 376.3 151.2 383.0 160.0 386.8 167.1 393.7 134.3 401.9 157.6 414.2 149.3 434.7 168.5 452.5 171.2 468.9 152.1 489.4 149.3 499.0 158.0 510.0 140.0 520.8 132.5 534.7 168.0 552.0 200.9 569.3 176.7 586.7 143.7 600.5 136.8 621.3 168.0 630.0 183.6" fill="none" stroke="#0a6cf0" stroke-width="2.4" stroke-linejoin="round"/><path d="M142.7 118.1h0M144.5 121.5h0M146.4 122.6h0M148.2 126.5h0M150.0 128.5h0M151.9 130.2h0M153.7 132.3h0M155.5 134.7h0M157.4 137.0h0M159.2 139.0h0M161.0 141.4h0M162.8 142.3h0M164.7 145.1h0M166.5 147.9h0M168.3 149.0h0M170.2 148.7h0M172.0 146.4h0M173.8 144.6h0M175.7 144.4h0M177.5 142.0h0M179.3 141.3h0M181.2 140.9h0M183.0 140.7h0M184.8 138.8h0M186.7 139.6h0M188.5 138.4h0M190.3 137.3h0M192.2 136.7h0M194.0 137.7h0M195.8 138.8h0M197.6 139.1h0M199.5 139.9h0M201.3 142.3h0M203.1 141.5h0M205.0 143.5h0M206.8 146.8h0M208.6 149.4h0M210.5 150.6h0M212.3 153.4h0M214.1 155.6h0M216.0 158.3h0M217.8 160.2h0M219.6 161.9h0M221.5 163.7h0M223.3 164.0h0M225.1 155.7h0M226.9 149.2h0M228.8 147.1h0M230.6 153.8h0M232.4 162.2h0M234.3 169.7h0M236.1 174.1h0M237.9 171.5h0M239.8 171.0h0M241.6 169.3h0M243.4 165.1h0M245.3 159.6h0M247.1 154.2h0M248.9 148.6h0M250.8 145.7h0M252.6 144.4h0M254.4 145.0h0M256.3 143.6h0M258.1 142.2h0M259.9 141.0h0M261.7 133.3h0M263.6 125.9h0M265.4 121.0h0M267.2 125.9h0M269.1 131.8h0M270.9 136.9h0M272.7 142.0h0M274.6 146.0h0M276.4 150.1h0M278.2 155.4h0M280.1 156.0h0M281.9 151.6h0M283.7 148.9h0M285.6 146.3h0M287.4 154.2h0M289.2 167.9h0M291.1 184.4h0M292.9 193.6h0M294.7 183.1h0M296.5 170.7h0M298.4 158.9h0M300.2 160.4h0M302.0 161.2h0M303.9 161.9h0M305.7 163.1h0M307.5 163.7h0M309.4 162.9h0M311.2 158.4h0M313.0 153.1h0M314.9 149.4h0M316.7 144.3h0M318.5 139.7h0M320.4 136.5h0M322.2 130.3h0M324.0 125.9h0M325.9 122.4h0M327.7 117.6h0M329.5 108.4h0M331.3 97.3h0M333.2 84.3h0M335.0 85.8h0M336.8 96.9h0M338.7 106.5h0M340.5 101.8h0M342.3 96.2h0M344.2 89.8h0M346.0 98.9h0M347.8 114.4h0M349.7 126.5h0M351.5 130.8h0M353.3 134.1h0M355.2 137.0h0M357.0 140.5h0M358.8 143.2h0M360.6 146.8h0M362.5 150.1h0M364.3 155.4h0M366.1 157.9h0M368.0 159.3h0M369.8 155.8h0M371.6 155.8h0M373.5 153.7h0M375.3 151.1h0M377.1 152.6h0M379.0 155.1h0M380.8 157.5h0M382.6 159.9h0M384.5 163.1h0M386.3 166.7h0M388.1 160.6h0M390.0 153.0h0M391.8 143.4h0M393.6 134.2h0M395.4 140.2h0M397.3 144.0h0M399.1 149.6h0M400.9 155.3h0M402.8 157.6h0M404.6 155.4h0M406.4 153.6h0M408.3 153.5h0M410.1 152.3h0M411.9 151.3h0M413.8 149.1h0M415.6 151.2h0M417.4 152.9h0M419.3 154.8h0M421.1 156.3h0M422.9 157.8h0M424.8 159.3h0M426.6 161.6h0M428.4 162.1h0M430.2 164.7h0M432.1 166.6h0M433.9 168.3h0M435.7 167.9h0M437.6 168.6h0M439.4 170.1h0M441.2 170.0h0M443.1 169.1h0M444.9 170.0h0M446.7 170.9h0M448.6 171.3h0M450.4 170.9h0M452.2 170.4h0M454.1 168.8h0M455.9 166.3h0M457.7 164.5h0M459.5 162.1h0M461.4 161.3h0M463.2 159.1h0M465.0 156.5h0M466.9 155.2h0M468.7 151.6h0M470.5 151.3h0M472.4 151.8h0M474.2 151.4h0M476.0 150.4h0M477.9 151.7h0M479.7 150.9h0M481.5 150.6h0M483.4 149.9h0M485.2 150.1h0M487.0 148.8h0M488.9 149.0h0M490.7 150.7h0M492.5 152.3h0M494.3 153.8h0M496.2 154.6h0M498.0 156.7h0M499.8 157.6h0M501.7 154.5h0M503.5 151.3h0M505.3 146.8h0M507.2 143.8h0M509.0 141.1h0M510.8 140.1h0M512.7 137.6h0M514.5 136.3h0M516.3 135.1h0M518.2 134.8h0M520.0 133.1h0M521.8 135.8h0M523.7 138.9h0M525.5 143.6h0M527.3 149.8h0M529.1 153.0h0M531.0 158.9h0M532.8 163.4h0M534.6 167.3h0M536.5 170.9h0M538.3 175.3h0M540.1 177.4h0M542.0 182.7h0M543.8 184.4h0M545.6 188.1h0M547.5 192.5h0M549.3 195.0h0M551.1 200.2h0M553.0 199.4h0M554.8 196.1h0M556.6 193.8h0M558.5 192.0h0M560.3 190.1h0M562.1 186.3h0M563.9 184.0h0M565.8 181.8h0M567.6 179.4h0M569.4 176.9h0M571.3 172.6h0M573.1 169.2h0M574.9 166.8h0M576.8 163.4h0M578.6 158.9h0M580.4 156.6h0M582.3 151.5h0M584.1 149.3h0M585.9 146.0h0M587.8 143.3h0M589.6 142.6h0M591.4 140.5h0M593.2 141.1h0M595.1 139.9h0M596.9 138.8h0M598.7 137.8h0M600.6 136.2h0M602.4 140.4h0M604.2 142.5h0M606.1 145.4h0M607.9 147.2h0M609.7 150.9h0M611.6 152.9h0M613.4 156.7h0M615.2 157.9h0M617.1 160.9h0M618.9 163.8h0M620.7 166.9h0M622.6 171.0h0M624.4 172.5h0M626.2 176.9h0M628.0 179.2h0M629.9 183.1h0M142.7 118.7h0M152.8 131.4h0M168.1 149.3h0M178.3 141.6h0M193.6 136.5h0M203.8 142.9h0M216.5 159.5h0M222.9 165.9h0M228.0 144.2h0M235.7 174.8h0M242.0 168.4h0M249.7 146.7h0M260.0 141.7h0M264.8 119.8h0M271.0 137.5h0M279.2 156.7h0M286.0 145.8h0M290.5 175.9h0M292.1 199.0h0M298.3 159.4h0M309.2 163.5h0M317.5 143.0h0M328.4 115.7h0M333.9 80.1h0M338.7 107.5h0M344.8 87.0h0M348.9 125.2h0M358.5 143.0h0M366.7 159.4h0M376.3 151.2h0M383.0 160.0h0M386.8 167.1h0M393.7 134.3h0M401.9 157.6h0M414.2 149.3h0M434.7 168.5h0M452.5 171.2h0M468.9 152.1h0M489.4 149.3h0M499.0 158.0h0M510.0 140.0h0M520.8 132.5h0M534.7 168.0h0M552.0 200.9h0M569.3 176.7h0M586.7 143.7h0M600.5 136.8h0M621.3 168.0h0M630.0 183.6h0" fill="none" stroke="#0a6cf0" stroke-width="8.4" stroke-linecap="round"/></g><g clip-path="url(#cb)"><path d="M788.8 99.1 811.0 104.3 834.6 101.7 865.1 110.3 880.3 106.0 895.6 103.4 910.8 104.3 923.6 113.0 928.0 115.6 943.3 109.8 968.2 96.4 985.5 98.3 1000.8 103.1 1012.3 95.4 1025.0 97.0 1040.0 95.0 1052.4 92.8 1066.0 101.0 1086.6 99.7 1107.1 102.4 1134.4 102.4 1145.0 103.1 1161.0 107.1 1177.1 117.1 1195.1 106.1 1213.2 97.1 1229.2 104.1 1245.3 113.1 1265.3 119.1 1271.4 102.1 1276.0 110.1" fill="none" stroke="#ff7f00" stroke-width="2.4" stroke-linejoin="round"/><path d="M788.8 98.7h0M790.6 98.9h0M792.5 99.9h0M794.3 100.1h0M796.1 100.3h0M798.0 101.5h0M799.8 101.2h0M801.6 103.0h0M803.4 102.0h0M805.3 103.9h0M807.1 102.7h0M808.9 104.7h0M810.8 103.4h0M812.6 103.1h0M814.4 103.1h0M816.3 104.1h0M818.1 103.0h0M819.9 102.9h0M821.8 103.5h0M823.6 102.0h0M825.4 102.8h0M827.2 102.3h0M829.1 101.6h0M830.9 102.9h0M832.7 101.6h0M834.6 101.3h0M836.4 102.6h0M838.2 103.4h0M840.1 102.7h0M841.9 103.0h0M843.7 105.2h0M845.6 104.6h0M847.4 105.4h0M849.2 105.7h0M851.0 107.0h0M852.9 106.7h0M854.7 107.9h0M856.5 107.9h0M858.4 107.6h0M860.2 108.9h0M862.0 110.1h0M863.9 110.0h0M865.7 109.9h0M867.5 108.7h0M869.4 109.5h0M871.2 108.4h0M873.0 107.7h0M874.8 107.3h0M876.7 106.9h0M878.5 106.2h0M880.3 105.6h0M882.2 105.6h0M884.0 104.5h0M885.8 104.5h0M887.7 104.6h0M889.5 105.2h0M891.3 104.0h0M893.2 103.9h0M895.0 104.3h0M896.8 104.1h0M898.6 104.0h0M900.5 103.9h0M902.3 104.0h0M904.1 103.3h0M906.0 103.3h0M907.8 103.2h0M909.6 103.4h0M911.5 105.0h0M913.3 106.2h0M915.1 106.3h0M917.0 109.2h0M918.8 109.6h0M920.6 111.0h0M922.4 111.4h0M924.3 114.1h0M926.1 113.6h0M927.9 115.0h0M929.8 114.9h0M931.6 114.2h0M933.4 113.6h0M935.3 113.7h0M937.1 111.2h0M938.9 111.8h0M940.8 110.6h0M942.6 110.7h0M944.4 109.5h0M946.2 108.8h0M948.1 108.0h0M949.9 106.8h0M951.7 104.5h0M953.6 104.3h0M955.4 103.8h0M957.2 102.9h0M959.1 102.2h0M960.9 100.2h0M962.7 98.4h0M964.6 98.8h0M966.4 96.9h0M968.2 96.7h0M970.0 95.7h0M971.9 96.5h0M973.7 97.3h0M975.5 96.5h0M977.4 97.0h0M979.2 96.9h0M981.0 98.6h0M982.9 98.6h0M984.7 98.5h0M986.5 98.7h0M988.4 100.1h0M990.2 99.3h0M992.0 100.8h0M993.8 100.1h0M995.7 101.7h0M997.5 101.5h0M999.3 101.7h0M1001.2 103.7h0M1003.0 101.2h0M1004.8 101.4h0M1006.7 99.5h0M1008.5 98.3h0M1010.3 97.1h0M1012.2 96.5h0M1014.0 95.1h0M1015.8 96.8h0M1017.6 95.7h0M1019.5 95.5h0M1021.3 97.4h0M1023.1 96.0h0M1025.0 96.9h0M1026.8 97.4h0M1028.6 96.1h0M1030.5 96.7h0M1032.3 96.3h0M1034.1 96.2h0M1036.0 94.8h0M1037.8 95.7h0M1039.6 95.7h0M1041.4 94.0h0M1043.3 95.3h0M1045.1 95.0h0M1046.9 93.4h0M1048.8 94.4h0M1050.6 94.0h0M1052.4 92.0h0M1054.3 94.4h0M1056.1 95.9h0M1057.9 96.8h0M1059.8 96.5h0M1061.6 98.2h0M1063.4 99.6h0M1065.2 100.3h0M1067.1 100.7h0M1068.9 100.0h0M1070.7 99.7h0M1072.6 100.2h0M1074.4 100.3h0M1076.2 100.5h0M1078.1 101.1h0M1079.9 99.3h0M1081.7 99.7h0M1083.6 100.6h0M1085.4 100.4h0M1087.2 99.0h0M1089.0 100.4h0M1090.9 99.4h0M1092.7 101.4h0M1094.5 100.3h0M1096.4 101.2h0M1098.2 101.2h0M1100.0 101.5h0M1101.9 101.1h0M1103.7 101.7h0M1105.5 101.8h0M1107.4 102.6h0M1109.2 102.2h0M1111.0 102.6h0M1112.8 102.5h0M1114.7 102.7h0M1116.5 103.4h0M1118.3 102.5h0M1120.2 102.5h0M1122.0 102.6h0M1123.8 102.5h0M1125.7 102.2h0M1127.5 101.9h0M1129.3 102.5h0M1131.2 101.9h0M1133.0 102.7h0M1134.8 103.2h0M1136.6 103.1h0M1138.5 103.2h0M1140.3 102.2h0M1142.1 102.0h0M1144.0 102.4h0M1145.8 103.4h0M1147.6 103.0h0M1149.5 103.4h0M1151.3 105.7h0M1153.1 104.8h0M1155.0 104.7h0M1156.8 106.1h0M1158.6 106.9h0M1160.4 106.9h0M1162.3 107.2h0M1164.1 109.1h0M1165.9 109.3h0M1167.8 111.8h0M1169.6 113.3h0M1171.4 112.7h0M1173.3 114.9h0M1175.1 116.5h0M1176.9 117.3h0M1178.7 115.4h0M1180.6 114.1h0M1182.4 113.8h0M1184.2 111.8h0M1186.1 112.3h0M1187.9 110.5h0M1189.7 109.0h0M1191.6 108.8h0M1193.4 106.6h0M1195.2 106.1h0M1197.1 105.1h0M1198.9 103.4h0M1200.7 103.9h0M1202.5 102.8h0M1204.4 100.9h0M1206.2 100.4h0M1208.0 99.3h0M1209.9 99.6h0M1211.7 98.2h0M1213.5 98.1h0M1215.4 98.6h0M1217.2 99.4h0M1219.0 99.3h0M1220.9 101.1h0M1222.7 100.9h0M1224.5 102.7h0M1226.3 103.3h0M1228.2 103.7h0M1230.0 103.9h0M1231.8 105.8h0M1233.7 106.8h0M1235.5 108.0h0M1237.3 107.8h0M1239.2 109.2h0M1241.0 110.8h0M1242.8 112.4h0M1244.7 112.2h0M1246.5 114.3h0M1248.3 115.0h0M1250.1 113.7h0M1252.0 115.6h0M1253.8 115.4h0M1255.6 115.5h0M1257.5 116.2h0M1259.3 117.0h0M1261.1 116.9h0M1263.0 118.8h0M1264.8 118.9h0M1266.6 115.1h0M1268.5 111.0h0M1270.3 106.1h0M1272.1 103.3h0M1273.9 106.2h0M1275.8 109.9h0M788.8 99.1h0M811.0 104.3h0M834.6 101.7h0M865.1 110.3h0M880.3 106.0h0M895.6 103.4h0M910.8 104.3h0M923.6 113.0h0M928.0 115.6h0M943.3 109.8h0M968.2 96.4h0M985.5 98.3h0M1000.8 103.1h0M1012.3 95.4h0M1025.0 97.0h0M1040.0 95.0h0M1052.4 92.8h0M1066.0 101.0h0M1086.6 99.7h0M1107.1 102.4h0M1134.4 102.4h0M1145.0 103.1h0M1161.0 107.1h0M1177.1 117.1h0M1195.1 106.1h0M1213.2 97.1h0M1229.2 104.1h0M1245.3 113.1h0M1265.3 119.1h0M1271.4 102.1h0M1276.0 110.1h0" fill="none" stroke="#ff7f00" stroke-width="8.4" stroke-linecap="round"/><path d="M788.8 106.0 814.5 114.7 834.6 109.5 865.1 122.5 880.3 119.0 895.6 112.0 910.8 116.4 923.6 137.2 931.8 136.6 952.9 115.6 970.1 96.4 989.3 106.0 1000.8 113.6 1014.2 96.4 1025.0 85.0 1039.1 83.0 1044.2 86.0 1059.2 101.0 1079.7 113.4 1100.2 110.6 1120.8 118.8 1141.3 114.7 1145.0 113.1 1161.0 120.1 1179.1 146.2 1197.1 122.1 1213.2 103.1 1229.2 114.1 1245.3 136.2 1265.3 150.2 1269.5 152.0 1271.4 190.3 1273.0 150.0 1276.0 140.0" fill="none" stroke="#00b140" stroke-width="2.4" stroke-linejoin="round"/><path d="M788.8 105.8h0M790.6 107.4h0M792.5 106.8h0M794.3 107.1h0M796.1 107.5h0M798.0 108.4h0M799.8 108.9h0M801.6 111.2h0M803.4 111.3h0M805.3 111.7h0M807.1 113.1h0M808.9 113.1h0M810.8 113.8h0M812.6 113.4h0M814.4 114.3h0M816.3 114.5h0M818.1 114.4h0M819.9 112.9h0M821.8 112.7h0M823.6 111.9h0M825.4 111.5h0M827.2 111.6h0M829.1 111.8h0M830.9 111.4h0M832.7 110.1h0M834.6 108.6h0M836.4 109.8h0M838.2 111.4h0M840.1 112.7h0M841.9 111.9h0M843.7 114.0h0M845.6 114.9h0M847.4 114.1h0M849.2 116.5h0M851.0 116.7h0M852.9 118.0h0M854.7 118.4h0M856.5 119.2h0M858.4 120.4h0M860.2 120.9h0M862.0 121.0h0M863.9 121.7h0M865.7 123.3h0M867.5 121.5h0M869.4 121.3h0M871.2 120.4h0M873.0 120.4h0M874.8 120.4h0M876.7 119.2h0M878.5 119.3h0M880.3 119.2h0M882.2 117.9h0M884.0 117.8h0M885.8 116.5h0M887.7 115.3h0M889.5 115.2h0M891.3 114.1h0M893.2 113.0h0M895.0 111.6h0M896.8 113.3h0M898.6 112.2h0M900.5 113.2h0M902.3 114.1h0M904.1 115.3h0M906.0 114.6h0M907.8 114.8h0M909.6 116.5h0M911.5 118.4h0M913.3 120.4h0M915.1 124.4h0M917.0 126.0h0M918.8 130.1h0M920.6 131.4h0M922.4 135.7h0M924.3 137.9h0M926.1 136.6h0M927.9 137.6h0M929.8 136.9h0M931.6 136.3h0M933.4 134.1h0M935.3 133.5h0M937.1 131.1h0M938.9 129.6h0M940.8 127.1h0M942.6 124.9h0M944.4 123.2h0M946.2 122.5h0M948.1 119.7h0M949.9 118.2h0M951.7 116.9h0M953.6 114.4h0M955.4 112.8h0M957.2 110.6h0M959.1 109.3h0M960.9 106.5h0M962.7 104.2h0M964.6 103.6h0M966.4 99.9h0M968.2 98.8h0M970.0 96.7h0M971.9 97.0h0M973.7 98.7h0M975.5 99.6h0M977.4 100.0h0M979.2 100.6h0M981.0 101.1h0M982.9 103.5h0M984.7 104.7h0M986.5 104.2h0M988.4 105.2h0M990.2 106.9h0M992.0 108.4h0M993.8 109.7h0M995.7 110.7h0M997.5 111.8h0M999.3 112.9h0M1001.2 112.2h0M1003.0 110.8h0M1004.8 108.8h0M1006.7 105.7h0M1008.5 103.2h0M1010.3 101.2h0M1012.2 99.1h0M1014.0 95.7h0M1015.8 95.2h0M1017.6 93.2h0M1019.5 90.3h0M1021.3 88.4h0M1023.1 86.3h0M1025.0 84.9h0M1026.8 85.7h0M1028.6 84.3h0M1030.5 85.1h0M1032.3 83.3h0M1034.1 83.2h0M1036.0 83.5h0M1037.8 82.5h0M1039.6 82.5h0M1041.4 84.7h0M1043.3 85.1h0M1045.1 87.3h0M1046.9 88.2h0M1048.8 90.2h0M1050.6 93.2h0M1052.4 94.4h0M1054.3 95.3h0M1056.1 97.7h0M1057.9 98.9h0M1059.8 100.5h0M1061.6 102.6h0M1063.4 102.8h0M1065.2 104.1h0M1067.1 104.9h0M1068.9 106.1h0M1070.7 107.9h0M1072.6 108.4h0M1074.4 109.8h0M1076.2 111.2h0M1078.1 111.8h0M1079.9 112.6h0M1081.7 112.4h0M1083.6 113.8h0M1085.4 112.3h0M1087.2 112.3h0M1089.0 112.6h0M1090.9 112.4h0M1092.7 112.0h0M1094.5 112.2h0M1096.4 111.2h0M1098.2 110.2h0M1100.0 110.8h0M1101.9 111.2h0M1103.7 112.6h0M1105.5 112.2h0M1107.4 113.8h0M1109.2 113.2h0M1111.0 114.7h0M1112.8 115.3h0M1114.7 115.6h0M1116.5 117.7h0M1118.3 118.5h0M1120.2 118.0h0M1122.0 119.0h0M1123.8 119.0h0M1125.7 118.0h0M1127.5 117.2h0M1129.3 117.5h0M1131.2 116.5h0M1133.0 116.5h0M1134.8 116.3h0M1136.6 115.2h0M1138.5 115.6h0M1140.3 114.9h0M1142.1 114.5h0M1144.0 113.1h0M1145.8 113.9h0M1147.6 113.5h0M1149.5 115.0h0M1151.3 115.9h0M1153.1 115.7h0M1155.0 118.0h0M1156.8 118.4h0M1158.6 118.2h0M1160.4 120.6h0M1162.3 122.4h0M1164.1 125.4h0M1165.9 127.6h0M1167.8 129.9h0M1169.6 133.1h0M1171.4 134.9h0M1173.3 137.6h0M1175.1 140.1h0M1176.9 142.7h0M1178.7 146.6h0M1180.6 144.2h0M1182.4 141.8h0M1184.2 139.1h0M1186.1 136.5h0M1187.9 133.9h0M1189.7 132.9h0M1191.6 130.0h0M1193.4 127.0h0M1195.2 124.8h0M1197.1 122.8h0M1198.9 119.7h0M1200.7 117.4h0M1202.5 115.6h0M1204.4 113.4h0M1206.2 112.0h0M1208.0 110.0h0M1209.9 107.7h0M1211.7 105.3h0M1213.5 103.4h0M1215.4 103.9h0M1217.2 106.7h0M1219.0 107.8h0M1220.9 108.4h0M1222.7 110.1h0M1224.5 111.7h0M1226.3 111.7h0M1228.2 113.5h0M1230.0 116.1h0M1231.8 117.2h0M1233.7 119.5h0M1235.5 123.7h0M1237.3 126.0h0M1239.2 126.9h0M1241.0 130.5h0M1242.8 133.1h0M1244.7 135.8h0M1246.5 137.3h0M1248.3 138.4h0M1250.1 139.8h0M1252.0 141.1h0M1253.8 141.3h0M1255.6 142.8h0M1257.5 144.3h0M1259.3 146.9h0M1261.1 147.2h0M1263.0 148.8h0M1264.8 150.8h0M1266.6 150.0h0M1268.5 150.9h0M1270.3 167.4h0M1272.1 173.1h0M1273.9 147.3h0M1275.8 140.0h0M788.8 106.0h0M814.5 114.7h0M834.6 109.5h0M865.1 122.5h0M880.3 119.0h0M895.6 112.0h0M910.8 116.4h0M923.6 137.2h0M931.8 136.6h0M952.9 115.6h0M970.1 96.4h0M989.3 106.0h0M1000.8 113.6h0M1014.2 96.4h0M1025.0 85.0h0M1039.1 83.0h0M1044.2 86.0h0M1059.2 101.0h0M1079.7 113.4h0M1100.2 110.6h0M1120.8 118.8h0M1141.3 114.7h0M1145.0 113.1h0M1161.0 120.1h0M1179.1 146.2h0M1197.1 122.1h0M1213.2 103.1h0M1229.2 114.1h0M1245.3 136.2h0M1265.3 150.2h0M1269.5 152.0h0M1271.4 190.3h0M1273.0 150.0h0M1276.0 140.0h0" fill="none" stroke="#00b140" stroke-width="8.4" stroke-linecap="round"/><path d="M788.8 110.3 814.5 123.3 834.6 117.3 865.1 137.2 880.3 132.0 895.6 122.5 910.8 130.3 923.6 152.8 931.8 159.6 952.9 123.2 968.2 102.1 989.3 115.6 1006.5 119.4 1019.9 88.7 1030.0 84.0 1038.7 80.5 1045.5 102.4 1059.2 120.2 1072.9 133.9 1086.6 127.0 1100.2 125.7 1113.9 131.1 1141.3 136.6 1145.0 150.2 1161.0 158.2 1177.1 178.3 1197.1 152.2 1215.2 130.2 1229.2 126.2 1245.3 164.3 1257.3 160.3 1269.5 162.0 1271.4 270.6 1273.0 175.0 1276.0 160.0" fill="none" stroke="#9452bd" stroke-width="2.4" stroke-linejoin="round"/><path d="M788.8 109.4h0M790.6 110.6h0M792.5 113.0h0M794.3 112.9h0M796.1 114.7h0M798.0 115.6h0M799.8 116.8h0M801.6 116.9h0M803.4 117.3h0M805.3 118.7h0M807.1 120.3h0M808.9 121.4h0M810.8 121.2h0M812.6 122.3h0M814.4 123.9h0M816.3 122.6h0M818.1 121.7h0M819.9 121.2h0M821.8 121.1h0M823.6 120.1h0M825.4 120.6h0M827.2 119.8h0M829.1 119.8h0M830.9 118.9h0M832.7 117.8h0M834.6 116.7h0M836.4 117.9h0M838.2 120.4h0M840.1 121.1h0M841.9 121.3h0M843.7 123.3h0M845.6 125.0h0M847.4 126.3h0M849.2 127.5h0M851.0 128.9h0M852.9 129.2h0M854.7 130.8h0M856.5 130.8h0M858.4 133.1h0M860.2 134.0h0M862.0 134.6h0M863.9 135.9h0M865.7 137.4h0M867.5 135.8h0M869.4 135.4h0M871.2 134.9h0M873.0 135.0h0M874.8 133.3h0M876.7 132.4h0M878.5 132.0h0M880.3 132.4h0M882.2 129.9h0M884.0 129.8h0M885.8 128.6h0M887.7 127.2h0M889.5 126.0h0M891.3 125.2h0M893.2 123.1h0M895.0 122.5h0M896.8 123.0h0M898.6 123.3h0M900.5 125.1h0M902.3 125.6h0M904.1 126.0h0M906.0 127.1h0M907.8 128.4h0M909.6 130.0h0M911.5 132.1h0M913.3 134.7h0M915.1 137.0h0M917.0 141.3h0M918.8 145.1h0M920.6 146.7h0M922.4 150.5h0M924.3 152.4h0M926.1 155.0h0M927.9 155.6h0M929.8 158.8h0M931.6 159.2h0M933.4 157.0h0M935.3 153.3h0M937.1 150.1h0M938.9 146.3h0M940.8 144.9h0M942.6 140.5h0M944.4 137.3h0M946.2 134.4h0M948.1 130.9h0M949.9 128.0h0M951.7 124.8h0M953.6 123.2h0M955.4 120.5h0M957.2 116.8h0M959.1 115.4h0M960.9 111.3h0M962.7 109.8h0M964.6 107.9h0M966.4 104.0h0M968.2 101.4h0M970.0 103.9h0M971.9 104.8h0M973.7 106.6h0M975.5 106.1h0M977.4 107.3h0M979.2 108.2h0M981.0 110.0h0M982.9 110.6h0M984.7 112.9h0M986.5 113.0h0M988.4 114.9h0M990.2 115.8h0M992.0 115.4h0M993.8 117.0h0M995.7 118.0h0M997.5 117.2h0M999.3 117.9h0M1001.2 118.0h0M1003.0 119.6h0M1004.8 119.7h0M1006.7 120.0h0M1008.5 114.6h0M1010.3 110.3h0M1012.2 105.5h0M1014.0 101.4h0M1015.8 99.0h0M1017.6 94.0h0M1019.5 89.6h0M1021.3 87.4h0M1023.1 88.1h0M1025.0 85.4h0M1026.8 85.8h0M1028.6 84.8h0M1030.5 84.3h0M1032.3 83.6h0M1034.1 82.7h0M1036.0 81.7h0M1037.8 80.7h0M1039.6 84.0h0M1041.4 88.6h0M1043.3 94.8h0M1045.1 101.7h0M1046.9 105.0h0M1048.8 107.0h0M1050.6 108.1h0M1052.4 112.1h0M1054.3 114.7h0M1056.1 116.1h0M1057.9 118.3h0M1059.8 120.5h0M1061.6 122.8h0M1063.4 123.8h0M1065.2 125.5h0M1067.1 129.1h0M1068.9 129.9h0M1070.7 131.8h0M1072.6 133.2h0M1074.4 132.2h0M1076.2 131.4h0M1078.1 130.4h0M1079.9 130.8h0M1081.7 130.0h0M1083.6 129.4h0M1085.4 128.6h0M1087.2 126.2h0M1089.0 125.8h0M1090.9 127.0h0M1092.7 126.0h0M1094.5 127.1h0M1096.4 126.0h0M1098.2 125.8h0M1100.0 125.6h0M1101.9 126.0h0M1103.7 127.2h0M1105.5 127.2h0M1107.4 129.5h0M1109.2 129.9h0M1111.0 130.7h0M1112.8 131.6h0M1114.7 131.6h0M1116.5 132.4h0M1118.3 132.5h0M1120.2 132.3h0M1122.0 131.8h0M1123.8 133.1h0M1125.7 133.5h0M1127.5 134.3h0M1129.3 134.9h0M1131.2 134.8h0M1133.0 134.1h0M1134.8 134.5h0M1136.6 136.4h0M1138.5 136.8h0M1140.3 136.2h0M1142.1 138.8h0M1144.0 145.6h0M1145.8 149.8h0M1147.6 152.3h0M1149.5 152.2h0M1151.3 153.3h0M1153.1 154.9h0M1155.0 154.7h0M1156.8 156.2h0M1158.6 157.2h0M1160.4 157.8h0M1162.3 159.0h0M1164.1 161.9h0M1165.9 163.6h0M1167.8 166.3h0M1169.6 168.7h0M1171.4 170.6h0M1173.3 174.5h0M1175.1 176.2h0M1176.9 178.9h0M1178.7 177.0h0M1180.6 173.3h0M1182.4 170.7h0M1184.2 170.0h0M1186.1 166.6h0M1187.9 164.6h0M1189.7 162.5h0M1191.6 159.1h0M1193.4 157.2h0M1195.2 154.2h0M1197.1 151.7h0M1198.9 149.1h0M1200.7 147.3h0M1202.5 145.1h0M1204.4 143.8h0M1206.2 141.2h0M1208.0 139.4h0M1209.9 136.2h0M1211.7 133.9h0M1213.5 132.4h0M1215.4 129.7h0M1217.2 130.1h0M1219.0 128.9h0M1220.9 128.1h0M1222.7 128.6h0M1224.5 126.9h0M1226.3 127.5h0M1228.2 126.3h0M1230.0 127.3h0M1231.8 132.7h0M1233.7 137.0h0M1235.5 140.3h0M1237.3 145.4h0M1239.2 149.7h0M1241.0 154.5h0M1242.8 157.8h0M1244.7 162.9h0M1246.5 164.9h0M1248.3 162.3h0M1250.1 163.1h0M1252.0 161.8h0M1253.8 161.4h0M1255.6 160.4h0M1257.5 160.2h0M1259.3 160.6h0M1261.1 161.7h0M1263.0 161.8h0M1264.8 162.2h0M1266.6 162.5h0M1268.5 161.6h0M1270.3 207.6h0M1272.1 228.5h0M1273.9 169.5h0M1275.8 161.6h0M788.8 110.3h0M814.5 123.3h0M834.6 117.3h0M865.1 137.2h0M880.3 132.0h0M895.6 122.5h0M910.8 130.3h0M923.6 152.8h0M931.8 159.6h0M952.9 123.2h0M968.2 102.1h0M989.3 115.6h0M1006.5 119.4h0M1019.9 88.7h0M1030.0 84.0h0M1038.7 80.5h0M1045.5 102.4h0M1059.2 120.2h0M1072.9 133.9h0M1086.6 127.0h0M1100.2 125.7h0M1113.9 131.1h0M1141.3 136.6h0M1145.0 150.2h0M1161.0 158.2h0M1177.1 178.3h0M1197.1 152.2h0M1215.2 130.2h0M1229.2 126.2h0M1245.3 164.3h0M1257.3 160.3h0M1269.5 162.0h0M1271.4 270.6h0M1273.0 175.0h0M1276.0 160.0h0" fill="none" stroke="#9452bd" stroke-width="8.4" stroke-linecap="round"/><path d="M788.8 114.7 814.5 133.7 834.6 122.5 865.1 156.3 875.1 149.3 895.6 132.0 910.8 145.9 923.6 184.0 931.8 197.9 943.3 178.8 958.6 127.0 970.1 109.8 989.3 127.0 1000.8 144.3 1019.9 104.0 1030.0 101.0 1038.7 98.3 1045.5 125.7 1059.2 140.7 1072.9 150.3 1093.4 155.8 1113.9 153.0 1127.6 155.8 1141.3 162.6 1153.0 140.2 1165.1 154.2 1179.1 166.3 1197.1 150.2 1215.2 128.2 1229.2 123.1 1245.3 146.2 1259.3 142.2 1269.5 146.0 1271.4 260.5 1273.0 140.0 1276.0 126.2" fill="none" stroke="#ffff00" stroke-width="2.4" stroke-linejoin="round"/><path d="M788.8 114.9h0M790.6 115.5h0M792.5 117.7h0M794.3 119.1h0M796.1 120.4h0M798.0 120.5h0M799.8 123.7h0M801.6 123.9h0M803.4 126.1h0M805.3 126.2h0M807.1 128.4h0M808.9 128.7h0M810.8 131.1h0M812.6 132.6h0M814.4 133.4h0M816.3 133.2h0M818.1 131.6h0M819.9 129.8h0M821.8 128.7h0M823.6 127.7h0M825.4 127.3h0M827.2 127.5h0M829.1 125.2h0M830.9 125.2h0M832.7 123.8h0M834.6 122.9h0M836.4 124.8h0M838.2 125.9h0M840.1 129.3h0M841.9 130.4h0M843.7 133.5h0M845.6 133.7h0M847.4 135.9h0M849.2 138.0h0M851.0 141.2h0M852.9 142.0h0M854.7 144.6h0M856.5 146.8h0M858.4 148.9h0M860.2 150.5h0M862.0 153.7h0M863.9 154.8h0M865.7 155.2h0M867.5 154.7h0M869.4 152.5h0M871.2 152.4h0M873.0 150.1h0M874.8 150.3h0M876.7 147.1h0M878.5 146.0h0M880.3 144.3h0M882.2 143.5h0M884.0 141.6h0M885.8 140.1h0M887.7 138.6h0M889.5 137.4h0M891.3 135.1h0M893.2 133.7h0M895.0 132.0h0M896.8 132.4h0M898.6 135.0h0M900.5 137.3h0M902.3 138.9h0M904.1 140.7h0M906.0 140.7h0M907.8 143.6h0M909.6 144.0h0M911.5 148.5h0M913.3 154.0h0M915.1 158.7h0M917.0 165.2h0M918.8 169.6h0M920.6 175.2h0M922.4 180.2h0M924.3 185.8h0M926.1 188.4h0M927.9 191.4h0M929.8 194.3h0M931.6 198.1h0M933.4 194.3h0M935.3 192.4h0M937.1 188.3h0M938.9 185.5h0M940.8 182.1h0M942.6 180.0h0M944.4 175.9h0M946.2 168.3h0M948.1 161.9h0M949.9 156.5h0M951.7 149.3h0M953.6 143.7h0M955.4 137.7h0M957.2 130.8h0M959.1 127.1h0M960.9 123.3h0M962.7 121.0h0M964.6 117.3h0M966.4 116.3h0M968.2 112.0h0M970.0 109.8h0M971.9 110.6h0M973.7 112.3h0M975.5 113.9h0M977.4 116.1h0M979.2 117.1h0M981.0 119.5h0M982.9 121.4h0M984.7 122.3h0M986.5 125.0h0M988.4 125.3h0M990.2 128.5h0M992.0 131.7h0M993.8 134.1h0M995.7 135.6h0M997.5 138.5h0M999.3 141.2h0M1001.2 142.8h0M1003.0 139.7h0M1004.8 136.7h0M1006.7 131.7h0M1008.5 128.7h0M1010.3 123.8h0M1012.2 121.3h0M1014.0 116.3h0M1015.8 112.0h0M1017.6 108.1h0M1019.5 104.1h0M1021.3 102.7h0M1023.1 103.9h0M1025.0 102.9h0M1026.8 101.2h0M1028.6 101.6h0M1030.5 100.8h0M1032.3 99.4h0M1034.1 100.7h0M1036.0 98.6h0M1037.8 98.7h0M1039.6 101.7h0M1041.4 109.3h0M1043.3 117.7h0M1045.1 124.6h0M1046.9 126.7h0M1048.8 129.7h0M1050.6 131.2h0M1052.4 132.8h0M1054.3 135.4h0M1056.1 136.8h0M1057.9 139.9h0M1059.8 140.7h0M1061.6 141.6h0M1063.4 144.4h0M1065.2 144.3h0M1067.1 146.6h0M1068.9 148.2h0M1070.7 149.2h0M1072.6 151.0h0M1074.4 150.2h0M1076.2 150.9h0M1078.1 152.0h0M1079.9 151.4h0M1081.7 153.6h0M1083.6 153.5h0M1085.4 154.0h0M1087.2 154.3h0M1089.0 154.6h0M1090.9 154.5h0M1092.7 154.8h0M1094.5 155.2h0M1096.4 154.5h0M1098.2 155.4h0M1100.0 154.3h0M1101.9 155.5h0M1103.7 153.6h0M1105.5 153.8h0M1107.4 154.6h0M1109.2 153.9h0M1111.0 153.2h0M1112.8 153.6h0M1114.7 153.0h0M1116.5 152.8h0M1118.3 154.9h0M1120.2 155.0h0M1122.0 155.1h0M1123.8 154.6h0M1125.7 155.4h0M1127.5 155.0h0M1129.3 155.7h0M1131.2 158.5h0M1133.0 158.3h0M1134.8 158.8h0M1136.6 160.9h0M1138.5 161.2h0M1140.3 162.4h0M1142.1 160.2h0M1144.0 157.4h0M1145.8 153.8h0M1147.6 150.1h0M1149.5 146.3h0M1151.3 144.2h0M1153.1 140.8h0M1155.0 142.6h0M1156.8 144.1h0M1158.6 147.0h0M1160.4 148.6h0M1162.3 149.9h0M1164.1 153.3h0M1165.9 155.3h0M1167.8 157.4h0M1169.6 158.7h0M1171.4 158.8h0M1173.3 160.9h0M1175.1 161.9h0M1176.9 163.6h0M1178.7 165.9h0M1180.6 164.4h0M1182.4 162.5h0M1184.2 162.0h0M1186.1 160.9h0M1187.9 159.1h0M1189.7 155.9h0M1191.6 154.7h0M1193.4 152.6h0M1195.2 151.7h0M1197.1 151.1h0M1198.9 147.4h0M1200.7 146.3h0M1202.5 143.6h0M1204.4 141.4h0M1206.2 139.8h0M1208.0 136.5h0M1209.9 134.3h0M1211.7 132.9h0M1213.5 129.5h0M1215.4 127.4h0M1217.2 127.3h0M1219.0 126.6h0M1220.9 125.7h0M1222.7 125.0h0M1224.5 125.6h0M1226.3 124.0h0M1228.2 123.1h0M1230.0 124.8h0M1231.8 127.6h0M1233.7 129.9h0M1235.5 133.1h0M1237.3 134.0h0M1239.2 137.3h0M1241.0 140.6h0M1242.8 143.6h0M1244.7 144.7h0M1246.5 146.3h0M1248.3 144.8h0M1250.1 144.6h0M1252.0 144.8h0M1253.8 144.3h0M1255.6 142.4h0M1257.5 142.2h0M1259.3 143.1h0M1261.1 143.0h0M1263.0 143.7h0M1264.8 143.8h0M1266.6 144.8h0M1268.5 145.2h0M1270.3 192.7h0M1272.1 206.0h0M1273.9 135.8h0M1275.8 127.3h0M788.8 114.7h0M814.5 133.7h0M834.6 122.5h0M865.1 156.3h0M875.1 149.3h0M895.6 132.0h0M910.8 145.9h0M923.6 184.0h0M931.8 197.9h0M943.3 178.8h0M958.6 127.0h0M970.1 109.8h0M989.3 127.0h0M1000.8 144.3h0M1019.9 104.0h0M1030.0 101.0h0M1038.7 98.3h0M1045.5 125.7h0M1059.2 140.7h0M1072.9 150.3h0M1093.4 155.8h0M1113.9 153.0h0M1127.6 155.8h0M1141.3 162.6h0M1153.0 140.2h0M1165.1 154.2h0M1179.1 166.3h0M1197.1 150.2h0M1215.2 128.2h0M1229.2 123.1h0M1245.3 146.2h0M1259.3 142.2h0M1269.5 146.0h0M1271.4 260.5h0M1273.0 140.0h0M1276.0 126.2h0" fill="none" stroke="#ffff00" stroke-width="8.4" stroke-linecap="round"/><path d="M788.8 121.6 798.9 133.7 814.5 145.0 828.3 133.7 845.7 145.9 861.3 177.0 871.7 164.9 881.2 177.0 892.5 144.1 906.3 170.1 913.2 187.5 920.3 213.3 926.1 236.2 928.0 255.4 937.6 238.2 943.3 203.7 952.9 165.4 962.5 136.6 972.0 121.3 974.0 175.0 979.7 106.0 983.5 176.9 989.3 140.5 997.0 163.4 1010.4 142.4 1019.9 119.4 1025.0 122.9 1031.8 140.7 1038.7 120.2 1045.5 144.8 1059.2 158.5 1079.7 165.3 1086.6 139.3 1107.1 142.1 1127.6 144.8 1141.3 147.6 1148.1 122.9 1161.0 132.2 1179.1 154.2 1197.1 134.2 1213.2 113.1 1229.2 120.1 1245.3 144.2 1265.3 154.2 1269.5 156.0 1271.4 226.4 1273.0 150.0 1276.0 134.2" fill="none" stroke="#0a6cf0" stroke-width="2.4" stroke-linejoin="round"/><path d="M788.8 121.6h0M790.6 123.5h0M792.5 125.9h0M794.3 128.9h0M796.1 131.2h0M798.0 133.4h0M799.8 133.8h0M801.6 135.9h0M803.4 137.5h0M805.3 138.0h0M807.1 139.6h0M808.9 141.7h0M810.8 142.7h0M812.6 144.1h0M814.4 144.1h0M816.3 142.7h0M818.1 142.4h0M819.9 140.7h0M821.8 138.4h0M823.6 136.6h0M825.4 135.5h0M827.2 134.8h0M829.1 134.0h0M830.9 135.8h0M832.7 136.1h0M834.6 138.4h0M836.4 138.6h0M838.2 141.5h0M840.1 141.5h0M841.9 142.2h0M843.7 145.1h0M845.6 145.4h0M847.4 149.1h0M849.2 152.2h0M851.0 156.0h0M852.9 160.0h0M854.7 163.4h0M856.5 167.5h0M858.4 170.7h0M860.2 174.7h0M862.0 175.2h0M863.9 174.0h0M865.7 172.1h0M867.5 170.6h0M869.4 168.1h0M871.2 164.7h0M873.0 166.3h0M874.8 169.4h0M876.7 171.7h0M878.5 172.7h0M880.3 175.0h0M882.2 174.2h0M884.0 168.7h0M885.8 162.8h0M887.7 157.7h0M889.5 152.6h0M891.3 148.1h0M893.2 144.8h0M895.0 149.4h0M896.8 152.9h0M898.6 155.2h0M900.5 159.8h0M902.3 161.7h0M904.1 165.8h0M906.0 168.7h0M907.8 173.5h0M909.6 178.1h0M911.5 183.6h0M913.3 188.5h0M915.1 194.2h0M917.0 200.8h0M918.8 208.7h0M920.6 213.9h0M922.4 221.7h0M924.3 229.2h0M926.1 236.6h0M927.9 254.1h0M929.8 251.9h0M931.6 248.2h0M933.4 246.2h0M935.3 242.8h0M937.1 239.8h0M938.9 230.1h0M940.8 218.2h0M942.6 208.8h0M944.4 198.5h0M946.2 191.4h0M948.1 183.7h0M949.9 177.1h0M951.7 170.4h0M953.6 164.3h0M955.4 158.0h0M957.2 151.6h0M959.1 147.7h0M960.9 140.6h0M962.7 135.7h0M964.6 132.7h0M966.4 131.1h0M968.2 127.2h0M970.0 125.1h0M971.9 121.6h0M973.7 167.1h0M975.5 157.0h0M977.4 133.7h0M979.2 111.6h0M981.0 131.6h0M982.9 165.2h0M984.7 169.2h0M986.5 158.2h0M988.4 146.9h0M990.2 143.5h0M992.0 148.6h0M993.8 154.3h0M995.7 158.9h0M997.5 162.6h0M999.3 160.5h0M1001.2 157.7h0M1003.0 153.0h0M1004.8 150.6h0M1006.7 147.8h0M1008.5 145.0h0M1010.3 142.1h0M1012.2 137.7h0M1014.0 133.7h0M1015.8 128.8h0M1017.6 125.3h0M1019.5 119.5h0M1021.3 121.3h0M1023.1 121.0h0M1025.0 123.7h0M1026.8 128.0h0M1028.6 133.2h0M1030.5 137.1h0M1032.3 138.9h0M1034.1 134.0h0M1036.0 127.8h0M1037.8 122.8h0M1039.6 123.6h0M1041.4 129.4h0M1043.3 137.4h0M1045.1 143.3h0M1046.9 146.3h0M1048.8 148.4h0M1050.6 150.7h0M1052.4 151.0h0M1054.3 152.9h0M1056.1 154.6h0M1057.9 158.1h0M1059.8 158.5h0M1061.6 159.7h0M1063.4 159.2h0M1065.2 161.4h0M1067.1 160.4h0M1068.9 162.1h0M1070.7 161.4h0M1072.6 163.7h0M1074.4 163.3h0M1076.2 164.4h0M1078.1 165.0h0M1079.9 164.0h0M1081.7 157.6h0M1083.6 149.8h0M1085.4 144.5h0M1087.2 139.3h0M1089.0 139.2h0M1090.9 139.7h0M1092.7 139.9h0M1094.5 139.7h0M1096.4 140.4h0M1098.2 141.2h0M1100.0 141.3h0M1101.9 142.4h0M1103.7 142.1h0M1105.5 142.5h0M1107.4 141.4h0M1109.2 142.4h0M1111.0 142.1h0M1112.8 142.3h0M1114.7 142.8h0M1116.5 143.5h0M1118.3 143.4h0M1120.2 143.6h0M1122.0 143.8h0M1123.8 145.3h0M1125.7 144.4h0M1127.5 145.6h0M1129.3 146.1h0M1131.2 145.8h0M1133.0 146.9h0M1134.8 147.3h0M1136.6 147.3h0M1138.5 147.5h0M1140.3 146.8h0M1142.1 143.9h0M1144.0 137.0h0M1145.8 130.7h0M1147.6 124.7h0M1149.5 123.8h0M1151.3 125.7h0M1153.1 126.1h0M1155.0 128.1h0M1156.8 128.9h0M1158.6 129.9h0M1160.4 132.3h0M1162.3 133.3h0M1164.1 136.0h0M1165.9 137.7h0M1167.8 140.7h0M1169.6 142.0h0M1171.4 144.0h0M1173.3 147.4h0M1175.1 149.3h0M1176.9 151.9h0M1178.7 152.9h0M1180.6 153.1h0M1182.4 149.6h0M1184.2 149.4h0M1186.1 147.3h0M1187.9 145.0h0M1189.7 142.0h0M1191.6 140.6h0M1193.4 139.3h0M1195.2 136.7h0M1197.1 134.6h0M1198.9 130.9h0M1200.7 128.5h0M1202.5 127.3h0M1204.4 124.6h0M1206.2 122.2h0M1208.0 119.2h0M1209.9 117.1h0M1211.7 115.8h0M1213.5 113.0h0M1215.4 115.0h0M1217.2 114.2h0M1219.0 115.7h0M1220.9 116.7h0M1222.7 117.6h0M1224.5 118.7h0M1226.3 119.4h0M1228.2 120.3h0M1230.0 120.4h0M1231.8 123.2h0M1233.7 126.1h0M1235.5 128.9h0M1237.3 132.7h0M1239.2 135.1h0M1241.0 138.2h0M1242.8 140.7h0M1244.7 143.4h0M1246.5 144.2h0M1248.3 146.4h0M1250.1 147.2h0M1252.0 148.1h0M1253.8 149.3h0M1255.6 149.2h0M1257.5 150.1h0M1259.3 151.1h0M1261.1 151.8h0M1263.0 153.1h0M1264.8 154.2h0M1266.6 154.9h0M1268.5 154.9h0M1270.3 185.6h0M1272.1 191.3h0M1273.9 144.4h0M1275.8 135.2h0M788.8 121.6h0M798.9 133.7h0M814.5 145.0h0M828.3 133.7h0M845.7 145.9h0M861.3 177.0h0M871.7 164.9h0M881.2 177.0h0M892.5 144.1h0M906.3 170.1h0M913.2 187.5h0M920.3 213.3h0M926.1 236.2h0M928.0 255.4h0M937.6 238.2h0M943.3 203.7h0M952.9 165.4h0M962.5 136.6h0M972.0 121.3h0M974.0 175.0h0M979.7 106.0h0M983.5 176.9h0M989.3 140.5h0M997.0 163.4h0M1010.4 142.4h0M1019.9 119.4h0M1025.0 122.9h0M1031.8 140.7h0M1038.7 120.2h0M1045.5 144.8h0M1059.2 158.5h0M1079.7 165.3h0M1086.6 139.3h0M1107.1 142.1h0M1127.6 144.8h0M1141.3 147.6h0M1148.1 122.9h0M1161.0 132.2h0M1179.1 154.2h0M1197.1 134.2h0M1213.2 113.1h0M1229.2 120.1h0M1245.3 144.2h0M1265.3 154.2h0M1269.5 156.0h0M1271.4 226.4h0M1273.0 150.0h0M1276.0 134.2h0" fill="none" stroke="#0a6cf0" stroke-width="8.4" stroke-linecap="round"/></g><g clip-path="url(#cc)"><path d="M1435.7 71.0 1464.2 75.5 1498.4 74.4 1521.2 75.5 1544.0 73.2 1569.1 69.8 1575.5 68.7 1595.6 73.2 1632.0 68.7 1650.3 75.0 1674.0 84.2 1695.5 80.5 1733.9 83.1 1772.2 85.7 1797.7 92.0 1802.8 92.6 1831.0 78.9 1858.4 86.9 1894.9 81.2 1924.5 85.8" fill="none" stroke="#ff7f00" stroke-width="2.4" stroke-linejoin="round"/><path d="M1435.7 71.7h0M1437.5 70.8h0M1439.4 72.2h0M1441.2 72.0h0M1443.0 72.6h0M1444.9 72.0h0M1446.7 73.7h0M1448.5 73.3h0M1450.4 72.5h0M1452.2 74.2h0M1454.1 73.8h0M1455.9 74.9h0M1457.7 74.9h0M1459.6 75.7h0M1461.4 75.9h0M1463.2 75.7h0M1465.1 76.0h0M1466.9 74.5h0M1468.7 75.9h0M1470.6 75.8h0M1472.4 76.1h0M1474.2 75.7h0M1476.1 75.4h0M1477.9 75.6h0M1479.8 75.2h0M1481.6 74.9h0M1483.4 75.8h0M1485.3 74.8h0M1487.1 74.0h0M1488.9 73.8h0M1490.8 74.4h0M1492.6 74.5h0M1494.4 74.6h0M1496.3 73.6h0M1498.1 74.5h0M1499.9 75.4h0M1501.8 75.1h0M1503.6 75.1h0M1505.5 74.8h0M1507.3 75.6h0M1509.1 74.1h0M1511.0 75.6h0M1512.8 75.5h0M1514.6 74.9h0M1516.5 75.3h0M1518.3 74.7h0M1520.1 74.5h0M1522.0 75.1h0M1523.8 74.9h0M1525.6 75.1h0M1527.5 74.6h0M1529.3 75.5h0M1531.2 73.8h0M1533.0 75.0h0M1534.8 74.2h0M1536.7 73.4h0M1538.5 74.5h0M1540.3 73.7h0M1542.2 72.6h0M1544.0 73.9h0M1545.8 72.5h0M1547.7 72.8h0M1549.5 72.8h0M1551.3 72.7h0M1553.2 72.4h0M1555.0 72.4h0M1556.9 72.0h0M1558.7 70.6h0M1560.5 71.1h0M1562.4 70.7h0M1564.2 69.7h0M1566.0 70.1h0M1567.9 70.5h0M1569.7 69.6h0M1571.5 69.2h0M1573.4 69.0h0M1575.2 68.9h0M1577.0 69.6h0M1578.9 70.2h0M1580.7 69.4h0M1582.6 69.8h0M1584.4 70.3h0M1586.2 71.8h0M1588.1 72.3h0M1589.9 71.6h0M1591.7 73.0h0M1593.6 72.8h0M1595.4 74.1h0M1597.2 73.1h0M1599.1 73.6h0M1600.9 72.7h0M1602.7 72.0h0M1604.6 72.8h0M1606.4 71.5h0M1608.2 72.2h0M1610.1 71.5h0M1611.9 70.8h0M1613.8 70.9h0M1615.6 71.5h0M1617.4 70.1h0M1619.3 69.4h0M1621.1 70.9h0M1622.9 69.1h0M1624.8 69.1h0M1626.6 69.3h0M1628.4 69.7h0M1630.3 69.9h0M1632.1 68.1h0M1633.9 68.8h0M1635.8 71.0h0M1637.6 70.8h0M1639.5 72.0h0M1641.3 71.6h0M1643.1 72.1h0M1645.0 73.9h0M1646.8 73.2h0M1648.6 74.0h0M1650.5 74.8h0M1652.3 75.4h0M1654.1 75.8h0M1656.0 76.8h0M1657.8 77.3h0M1659.6 78.7h0M1661.5 79.7h0M1663.3 80.1h0M1665.2 79.9h0M1667.0 81.7h0M1668.8 82.6h0M1670.7 82.3h0M1672.5 83.6h0M1674.3 85.1h0M1676.2 84.5h0M1678.0 83.4h0M1679.8 82.7h0M1681.7 82.2h0M1683.5 81.7h0M1685.3 81.7h0M1687.2 81.9h0M1689.0 81.6h0M1690.9 80.6h0M1692.7 80.9h0M1694.5 80.6h0M1696.4 81.2h0M1698.2 81.5h0M1700.0 81.7h0M1701.9 80.9h0M1703.7 81.8h0M1705.5 81.4h0M1707.4 80.5h0M1709.2 80.6h0M1711.0 81.8h0M1712.9 82.0h0M1714.7 82.1h0M1716.6 81.9h0M1718.4 82.2h0M1720.2 82.5h0M1722.1 82.7h0M1723.9 81.7h0M1725.7 82.5h0M1727.6 82.3h0M1729.4 82.8h0M1731.2 82.7h0M1733.1 82.2h0M1734.9 83.7h0M1736.7 83.3h0M1738.6 84.2h0M1740.4 82.6h0M1742.2 82.9h0M1744.1 83.0h0M1745.9 84.7h0M1747.8 84.1h0M1749.6 84.7h0M1751.4 83.4h0M1753.3 84.9h0M1755.1 83.7h0M1756.9 85.5h0M1758.8 84.8h0M1760.6 85.8h0M1762.4 85.3h0M1764.3 85.4h0M1766.1 84.6h0M1767.9 85.7h0M1769.8 86.0h0M1771.6 85.9h0M1773.5 86.4h0M1775.3 87.2h0M1777.1 87.3h0M1779.0 87.7h0M1780.8 87.9h0M1782.6 88.2h0M1784.5 89.2h0M1786.3 89.8h0M1788.1 90.1h0M1790.0 89.3h0M1791.8 90.1h0M1793.6 91.2h0M1795.5 91.6h0M1797.3 92.7h0M1799.2 93.1h0M1801.0 93.2h0M1802.8 92.8h0M1804.7 92.1h0M1806.5 91.5h0M1808.3 89.2h0M1810.2 88.6h0M1812.0 87.2h0M1813.8 87.5h0M1815.7 87.2h0M1817.5 84.5h0M1819.3 83.8h0M1821.2 83.1h0M1823.0 83.3h0M1824.9 81.6h0M1826.7 80.4h0M1828.5 79.8h0M1830.4 78.7h0M1832.2 78.7h0M1834.0 79.9h0M1835.9 80.7h0M1837.7 80.4h0M1839.5 81.5h0M1841.4 81.0h0M1843.2 83.4h0M1845.0 82.2h0M1846.9 83.7h0M1848.7 85.1h0M1850.6 84.3h0M1852.4 84.7h0M1854.2 86.2h0M1856.1 86.1h0M1857.9 86.3h0M1859.7 86.8h0M1861.6 87.1h0M1863.4 86.5h0M1865.2 85.3h0M1867.1 85.9h0M1868.9 86.1h0M1870.7 84.4h0M1872.6 85.0h0M1874.4 84.4h0M1876.3 84.4h0M1878.1 83.1h0M1879.9 83.0h0M1881.8 82.9h0M1883.6 83.6h0M1885.4 82.4h0M1887.3 82.1h0M1889.1 82.6h0M1890.9 81.1h0M1892.8 81.2h0M1894.6 81.3h0M1896.4 81.1h0M1898.3 81.9h0M1900.1 82.2h0M1901.9 81.6h0M1903.8 81.8h0M1905.6 83.4h0M1907.5 83.0h0M1909.3 82.7h0M1911.1 82.9h0M1913.0 83.8h0M1914.8 85.0h0M1916.6 84.0h0M1918.5 85.9h0M1920.3 84.2h0M1922.1 85.6h0M1924.0 86.1h0M1435.7 71.0h0M1464.2 75.5h0M1498.4 74.4h0M1521.2 75.5h0M1544.0 73.2h0M1569.1 69.8h0M1575.5 68.7h0M1595.6 73.2h0M1632.0 68.7h0M1650.3 75.0h0M1674.0 84.2h0M1695.5 80.5h0M1733.9 83.1h0M1772.2 85.7h0M1797.7 92.0h0M1802.8 92.6h0M1831.0 78.9h0M1858.4 86.9h0M1894.9 81.2h0M1924.5 85.8h0" fill="none" stroke="#ff7f00" stroke-width="8.4" stroke-linecap="round"/><path d="M1435.7 75.5 1464.2 83.5 1498.4 83.5 1521.2 82.4 1528.0 90.3 1548.6 86.9 1569.1 76.7 1575.5 73.2 1586.5 84.2 1597.4 96.9 1610.2 106.0 1630.2 94.2 1641.1 106.0 1655.7 138.8 1668.5 164.4 1682.8 185.3 1695.5 208.3 1705.8 226.2 1716.0 246.6 1728.8 264.5 1741.5 279.8 1746.6 292.6 1756.9 285.0 1767.1 305.4 1777.3 320.7 1782.4 308.0 1787.5 323.3 1792.6 297.7 1803.2 262.0 1812.8 226.0 1819.6 191.8 1828.8 169.0 1840.2 153.0 1865.2 157.6 1881.2 148.5 1894.9 130.2 1910.8 123.4 1924.5 116.6" fill="none" stroke="#00b140" stroke-width="2.4" stroke-linejoin="round"/><path d="M1435.7 75.6h0M1437.5 75.5h0M1439.4 76.2h0M1441.2 77.2h0M1443.0 78.4h0M1444.9 77.9h0M1446.7 78.3h0M1448.5 78.9h0M1450.4 80.6h0M1452.2 79.7h0M1454.1 80.0h0M1455.9 82.0h0M1457.7 80.9h0M1459.6 82.9h0M1461.4 83.0h0M1463.2 84.1h0M1465.1 83.1h0M1466.9 84.2h0M1468.7 82.7h0M1470.6 84.1h0M1472.4 83.2h0M1474.2 83.4h0M1476.1 84.1h0M1477.9 83.8h0M1479.8 83.4h0M1481.6 83.1h0M1483.4 84.0h0M1485.3 83.4h0M1487.1 83.0h0M1488.9 83.3h0M1490.8 84.1h0M1492.6 82.6h0M1494.4 83.1h0M1496.3 84.0h0M1498.1 83.7h0M1499.9 83.3h0M1501.8 82.6h0M1503.6 82.3h0M1505.5 83.0h0M1507.3 83.4h0M1509.1 82.5h0M1511.0 83.7h0M1512.8 83.0h0M1514.6 82.6h0M1516.5 83.1h0M1518.3 82.1h0M1520.1 83.2h0M1522.0 83.0h0M1523.8 84.4h0M1525.6 88.5h0M1527.5 89.7h0M1529.3 90.9h0M1531.2 89.0h0M1533.0 88.9h0M1534.8 89.1h0M1536.7 89.7h0M1538.5 87.8h0M1540.3 88.3h0M1542.2 88.5h0M1544.0 87.4h0M1545.8 87.2h0M1547.7 87.9h0M1549.5 86.5h0M1551.3 85.9h0M1553.2 85.0h0M1555.0 84.5h0M1556.9 82.5h0M1558.7 82.0h0M1560.5 80.4h0M1562.4 79.7h0M1564.2 79.8h0M1566.0 79.2h0M1567.9 77.0h0M1569.7 76.9h0M1571.5 75.4h0M1573.4 74.7h0M1575.2 73.1h0M1577.0 74.4h0M1578.9 76.0h0M1580.7 78.4h0M1582.6 79.4h0M1584.4 82.8h0M1586.2 83.4h0M1588.1 86.3h0M1589.9 88.2h0M1591.7 90.0h0M1593.6 93.3h0M1595.4 95.3h0M1597.2 97.2h0M1599.1 97.3h0M1600.9 99.3h0M1602.7 101.0h0M1604.6 101.2h0M1606.4 103.7h0M1608.2 105.2h0M1610.1 106.8h0M1611.9 105.0h0M1613.8 103.0h0M1615.6 102.2h0M1617.4 102.3h0M1619.3 99.9h0M1621.1 99.8h0M1622.9 98.8h0M1624.8 97.3h0M1626.6 96.9h0M1628.4 94.5h0M1630.3 94.5h0M1632.1 96.0h0M1633.9 99.0h0M1635.8 100.0h0M1637.6 101.6h0M1639.5 103.9h0M1641.3 106.5h0M1643.1 109.7h0M1645.0 115.4h0M1646.8 119.1h0M1648.6 122.5h0M1650.5 127.3h0M1652.3 132.1h0M1654.1 135.5h0M1656.0 139.2h0M1657.8 143.4h0M1659.6 147.2h0M1661.5 150.7h0M1663.3 153.5h0M1665.2 156.7h0M1667.0 161.0h0M1668.8 164.7h0M1670.7 168.2h0M1672.5 169.4h0M1674.3 173.6h0M1676.2 174.7h0M1678.0 177.9h0M1679.8 180.8h0M1681.7 184.5h0M1683.5 187.5h0M1685.3 189.0h0M1687.2 192.6h0M1689.0 196.5h0M1690.9 199.4h0M1692.7 204.1h0M1694.5 206.8h0M1696.4 209.4h0M1698.2 213.2h0M1700.0 216.5h0M1701.9 220.1h0M1703.7 223.3h0M1705.5 225.6h0M1707.4 229.9h0M1709.2 234.0h0M1711.0 236.8h0M1712.9 240.8h0M1714.7 244.0h0M1716.6 247.1h0M1718.4 249.3h0M1720.2 251.7h0M1722.1 254.7h0M1723.9 257.3h0M1725.7 260.3h0M1727.6 263.1h0M1729.4 265.6h0M1731.2 268.0h0M1733.1 269.8h0M1734.9 271.9h0M1736.7 274.3h0M1738.6 276.7h0M1740.4 279.2h0M1742.2 281.2h0M1744.1 287.0h0M1745.9 290.3h0M1747.8 290.8h0M1749.6 291.0h0M1751.4 288.5h0M1753.3 288.4h0M1755.1 286.0h0M1756.9 284.8h0M1758.8 289.5h0M1760.6 292.9h0M1762.4 295.2h0M1764.3 300.6h0M1766.1 302.8h0M1767.9 307.0h0M1769.8 310.3h0M1771.6 312.9h0M1773.5 314.9h0M1775.3 318.6h0M1777.1 320.8h0M1779.0 316.1h0M1780.8 312.9h0M1782.6 308.8h0M1784.5 313.9h0M1786.3 319.6h0M1788.1 319.5h0M1790.0 311.0h0M1791.8 301.8h0M1793.6 293.5h0M1795.5 287.8h0M1797.3 281.3h0M1799.2 276.4h0M1801.0 268.8h0M1802.8 263.5h0M1804.7 256.8h0M1806.5 249.8h0M1808.3 242.5h0M1810.2 235.4h0M1812.0 228.0h0M1813.8 220.2h0M1815.7 212.2h0M1817.5 201.9h0M1819.3 193.1h0M1821.2 187.5h0M1823.0 182.5h0M1824.9 178.6h0M1826.7 175.2h0M1828.5 169.5h0M1830.4 166.5h0M1832.2 164.4h0M1834.0 161.4h0M1835.9 158.6h0M1837.7 156.3h0M1839.5 154.7h0M1841.4 152.5h0M1843.2 152.8h0M1845.0 154.4h0M1846.9 153.6h0M1848.7 153.8h0M1850.6 154.4h0M1852.4 156.0h0M1854.2 156.5h0M1856.1 156.8h0M1857.9 155.9h0M1859.7 157.4h0M1861.6 156.1h0M1863.4 157.2h0M1865.2 157.7h0M1867.1 156.4h0M1868.9 156.4h0M1870.7 155.0h0M1872.6 153.4h0M1874.4 152.8h0M1876.3 151.8h0M1878.1 149.5h0M1879.9 148.9h0M1881.8 147.4h0M1883.6 146.2h0M1885.4 143.6h0M1887.3 140.0h0M1889.1 138.9h0M1890.9 134.6h0M1892.8 132.7h0M1894.6 130.0h0M1896.4 129.6h0M1898.3 129.6h0M1900.1 128.5h0M1901.9 126.3h0M1903.8 125.9h0M1905.6 126.2h0M1907.5 124.4h0M1909.3 124.7h0M1911.1 123.5h0M1913.0 122.7h0M1914.8 121.8h0M1916.6 120.7h0M1918.5 119.0h0M1920.3 119.3h0M1922.1 117.9h0M1924.0 117.3h0M1435.7 75.5h0M1464.2 83.5h0M1498.4 83.5h0M1521.2 82.4h0M1528.0 90.3h0M1548.6 86.9h0M1569.1 76.7h0M1575.5 73.2h0M1586.5 84.2h0M1597.4 96.9h0M1610.2 106.0h0M1630.2 94.2h0M1641.1 106.0h0M1655.7 138.8h0M1668.5 164.4h0M1682.8 185.3h0M1695.5 208.3h0M1705.8 226.2h0M1716.0 246.6h0M1728.8 264.5h0M1741.5 279.8h0M1746.6 292.6h0M1756.9 285.0h0M1767.1 305.4h0M1777.3 320.7h0M1782.4 308.0h0M1787.5 323.3h0M1792.6 297.7h0M1803.2 262.0h0M1812.8 226.0h0M1819.6 191.8h0M1828.8 169.0h0M1840.2 153.0h0M1865.2 157.6h0M1881.2 148.5h0M1894.9 130.2h0M1910.8 123.4h0M1924.5 116.6h0" fill="none" stroke="#00b140" stroke-width="8.4" stroke-linecap="round"/><path d="M1435.7 80.1 1464.2 92.6 1498.4 94.9 1521.2 92.6 1530.3 104.0 1544.0 107.4 1550.0 102.4 1564.6 96.9 1575.5 86.0 1584.6 106.0 1593.7 124.3 1601.0 153.4 1606.5 173.5 1617.4 177.1 1624.7 184.4 1630.2 162.5 1639.3 160.7 1646.6 186.2 1655.7 209.9 1661.2 230.0 1672.0 217.0 1682.8 193.0 1695.5 167.4 1708.3 154.6 1733.9 149.5 1756.9 141.9 1772.2 149.5 1785.0 159.8 1794.6 150.8 1812.8 132.5 1826.5 114.3 1847.0 109.7 1881.2 109.7 1904.0 102.9 1924.5 99.5" fill="none" stroke="#9452bd" stroke-width="2.4" stroke-linejoin="round"/><path d="M1435.7 79.2h0M1437.5 80.3h0M1439.4 81.8h0M1441.2 83.1h0M1443.0 83.0h0M1444.9 84.6h0M1446.7 83.9h0M1448.5 84.8h0M1450.4 86.9h0M1452.2 88.3h0M1454.1 87.8h0M1455.9 88.6h0M1457.7 89.4h0M1459.6 90.7h0M1461.4 91.2h0M1463.2 91.9h0M1465.1 93.2h0M1466.9 91.8h0M1468.7 93.6h0M1470.6 93.5h0M1472.4 94.1h0M1474.2 94.0h0M1476.1 94.0h0M1477.9 93.1h0M1479.8 94.2h0M1481.6 94.0h0M1483.4 93.6h0M1485.3 94.6h0M1487.1 94.1h0M1488.9 95.2h0M1490.8 94.8h0M1492.6 95.3h0M1494.4 95.4h0M1496.3 94.9h0M1498.1 95.7h0M1499.9 94.9h0M1501.8 94.6h0M1503.6 95.4h0M1505.5 94.6h0M1507.3 94.4h0M1509.1 94.8h0M1511.0 93.9h0M1512.8 92.5h0M1514.6 93.6h0M1516.5 93.3h0M1518.3 93.3h0M1520.1 93.7h0M1522.0 94.0h0M1523.8 96.9h0M1525.6 98.7h0M1527.5 101.4h0M1529.3 102.6h0M1531.2 103.7h0M1533.0 104.8h0M1534.8 105.9h0M1536.7 106.3h0M1538.5 106.4h0M1540.3 106.3h0M1542.2 106.5h0M1544.0 106.4h0M1545.8 105.7h0M1547.7 104.3h0M1549.5 103.8h0M1551.3 102.0h0M1553.2 101.4h0M1555.0 100.4h0M1556.9 98.8h0M1558.7 98.7h0M1560.5 98.8h0M1562.4 98.2h0M1564.2 98.0h0M1566.0 95.4h0M1567.9 94.0h0M1569.7 92.4h0M1571.5 90.5h0M1573.4 87.4h0M1575.2 87.1h0M1577.0 89.9h0M1578.9 93.8h0M1580.7 96.7h0M1582.6 102.4h0M1584.4 105.9h0M1586.2 108.6h0M1588.1 113.1h0M1589.9 115.9h0M1591.7 119.4h0M1593.6 124.4h0M1595.4 131.5h0M1597.2 138.4h0M1599.1 145.0h0M1600.9 152.7h0M1602.7 159.0h0M1604.6 165.9h0M1606.4 172.3h0M1608.2 174.4h0M1610.1 175.2h0M1611.9 175.3h0M1613.8 176.2h0M1615.6 175.8h0M1617.4 177.9h0M1619.3 179.2h0M1621.1 180.0h0M1622.9 182.7h0M1624.8 184.0h0M1626.6 177.6h0M1628.4 170.0h0M1630.3 161.7h0M1632.1 162.4h0M1633.9 160.9h0M1635.8 161.4h0M1637.6 161.7h0M1639.5 160.6h0M1641.3 167.9h0M1643.1 173.9h0M1645.0 179.7h0M1646.8 187.5h0M1648.6 191.9h0M1650.5 195.8h0M1652.3 200.5h0M1654.1 205.6h0M1656.0 211.3h0M1657.8 218.4h0M1659.6 224.4h0M1661.5 228.7h0M1663.3 226.5h0M1665.2 224.7h0M1667.0 223.6h0M1668.8 220.2h0M1670.7 218.8h0M1672.5 215.0h0M1674.3 211.5h0M1676.2 208.1h0M1678.0 204.0h0M1679.8 198.6h0M1681.7 194.9h0M1683.5 191.0h0M1685.3 187.4h0M1687.2 183.9h0M1689.0 181.0h0M1690.9 176.0h0M1692.7 172.5h0M1694.5 169.3h0M1696.4 167.1h0M1698.2 165.2h0M1700.0 162.1h0M1701.9 161.1h0M1703.7 159.5h0M1705.5 157.2h0M1707.4 156.2h0M1709.2 153.6h0M1711.0 154.2h0M1712.9 154.1h0M1714.7 154.3h0M1716.6 152.0h0M1718.4 153.0h0M1720.2 151.9h0M1722.1 152.3h0M1723.9 151.5h0M1725.7 151.7h0M1727.6 150.1h0M1729.4 151.2h0M1731.2 149.8h0M1733.1 150.3h0M1734.9 148.8h0M1736.7 147.8h0M1738.6 147.6h0M1740.4 147.7h0M1742.2 147.6h0M1744.1 146.1h0M1745.9 145.2h0M1747.8 145.8h0M1749.6 144.8h0M1751.4 143.6h0M1753.3 143.4h0M1755.1 142.0h0M1756.9 141.9h0M1758.8 142.6h0M1760.6 143.2h0M1762.4 143.8h0M1764.3 145.0h0M1766.1 147.1h0M1767.9 147.9h0M1769.8 148.2h0M1771.6 150.0h0M1773.5 149.8h0M1775.3 152.5h0M1777.1 154.0h0M1779.0 154.1h0M1780.8 157.1h0M1782.6 158.4h0M1784.5 159.3h0M1786.3 158.6h0M1788.1 157.0h0M1790.0 155.1h0M1791.8 152.5h0M1793.6 151.6h0M1795.5 150.6h0M1797.3 148.1h0M1799.2 145.7h0M1801.0 145.2h0M1802.8 142.4h0M1804.7 140.1h0M1806.5 139.0h0M1808.3 136.3h0M1810.2 135.4h0M1812.0 133.7h0M1813.8 130.5h0M1815.7 128.3h0M1817.5 126.4h0M1819.3 123.2h0M1821.2 122.0h0M1823.0 119.4h0M1824.9 115.8h0M1826.7 114.4h0M1828.5 114.0h0M1830.4 113.2h0M1832.2 113.3h0M1834.0 112.5h0M1835.9 112.1h0M1837.7 111.6h0M1839.5 111.5h0M1841.4 110.0h0M1843.2 110.8h0M1845.0 109.4h0M1846.9 109.2h0M1848.7 110.3h0M1850.6 109.2h0M1852.4 109.9h0M1854.2 109.2h0M1856.1 110.7h0M1857.9 110.7h0M1859.7 109.4h0M1861.6 110.5h0M1863.4 110.5h0M1865.2 109.1h0M1867.1 109.5h0M1868.9 109.1h0M1870.7 109.2h0M1872.6 109.8h0M1874.4 109.7h0M1876.3 109.6h0M1878.1 109.1h0M1879.9 109.8h0M1881.8 110.4h0M1883.6 108.7h0M1885.4 108.8h0M1887.3 107.4h0M1889.1 107.8h0M1890.9 106.9h0M1892.8 107.1h0M1894.6 104.9h0M1896.4 105.5h0M1898.3 104.4h0M1900.1 103.8h0M1901.9 103.2h0M1903.8 103.8h0M1905.6 102.1h0M1907.5 102.6h0M1909.3 101.1h0M1911.1 102.6h0M1913.0 102.0h0M1914.8 101.5h0M1916.6 100.8h0M1918.5 100.2h0M1920.3 100.1h0M1922.1 100.2h0M1924.0 99.6h0M1435.7 80.1h0M1464.2 92.6h0M1498.4 94.9h0M1521.2 92.6h0M1530.3 104.0h0M1544.0 107.4h0M1550.0 102.4h0M1564.6 96.9h0M1575.5 86.0h0M1584.6 106.0h0M1593.7 124.3h0M1601.0 153.4h0M1606.5 173.5h0M1617.4 177.1h0M1624.7 184.4h0M1630.2 162.5h0M1639.3 160.7h0M1646.6 186.2h0M1655.7 209.9h0M1661.2 230.0h0M1672.0 217.0h0M1682.8 193.0h0M1695.5 167.4h0M1708.3 154.6h0M1733.9 149.5h0M1756.9 141.9h0M1772.2 149.5h0M1785.0 159.8h0M1794.6 150.8h0M1812.8 132.5h0M1826.5 114.3h0M1847.0 109.7h0M1881.2 109.7h0M1904.0 102.9h0M1924.5 99.5h0" fill="none" stroke="#9452bd" stroke-width="8.4" stroke-linecap="round"/><path d="M1435.7 84.6 1452.8 98.3 1466.5 107.4 1487.0 112.0 1503.0 116.6 1516.6 123.4 1519.5 118.8 1522.0 134.8 1525.8 150.8 1537.2 166.7 1546.3 182.7 1552.0 176.0 1560.9 179.0 1568.2 168.0 1577.3 160.7 1581.0 182.6 1584.6 209.9 1586.5 220.9 1591.9 191.7 1599.2 202.6 1608.3 186.2 1619.3 153.4 1630.2 131.6 1639.3 122.4 1652.1 129.7 1663.0 135.2 1677.6 127.9 1690.4 121.4 1708.3 112.5 1746.6 113.8 1772.2 121.4 1792.6 129.1 1812.8 118.8 1833.3 104.0 1858.4 114.3 1885.8 123.4 1904.0 132.5 1924.5 143.9" fill="none" stroke="#ffff00" stroke-width="2.4" stroke-linejoin="round"/><path d="M1435.7 85.4h0M1437.5 85.7h0M1439.4 88.3h0M1441.2 88.6h0M1443.0 89.8h0M1444.9 91.2h0M1446.7 93.0h0M1448.5 95.7h0M1450.4 97.0h0M1452.2 98.3h0M1454.1 98.7h0M1455.9 99.8h0M1457.7 101.3h0M1459.6 103.1h0M1461.4 103.3h0M1463.2 105.3h0M1465.1 106.2h0M1466.9 108.0h0M1468.7 108.2h0M1470.6 107.6h0M1472.4 108.3h0M1474.2 109.8h0M1476.1 110.3h0M1477.9 110.0h0M1479.8 111.0h0M1481.6 110.2h0M1483.4 111.0h0M1485.3 111.9h0M1487.1 111.1h0M1488.9 112.6h0M1490.8 113.8h0M1492.6 113.0h0M1494.4 113.2h0M1496.3 115.0h0M1498.1 115.5h0M1499.9 115.2h0M1501.8 115.9h0M1503.6 116.6h0M1505.5 117.0h0M1507.3 119.2h0M1509.1 119.1h0M1511.0 121.1h0M1512.8 121.8h0M1514.6 121.6h0M1516.5 123.8h0M1518.3 120.0h0M1520.1 123.2h0M1522.0 133.8h0M1523.8 142.6h0M1525.6 150.0h0M1527.5 153.2h0M1529.3 156.2h0M1531.2 158.7h0M1533.0 159.9h0M1534.8 162.7h0M1536.7 166.9h0M1538.5 168.9h0M1540.3 172.8h0M1542.2 175.5h0M1544.0 179.2h0M1545.8 181.0h0M1547.7 181.1h0M1549.5 179.4h0M1551.3 176.6h0M1553.2 176.8h0M1555.0 177.7h0M1556.9 178.3h0M1558.7 177.7h0M1560.5 179.7h0M1562.4 177.0h0M1564.2 173.4h0M1566.0 171.9h0M1567.9 168.0h0M1569.7 166.5h0M1571.5 165.2h0M1573.4 163.9h0M1575.2 161.7h0M1577.0 161.6h0M1578.9 170.7h0M1580.7 180.5h0M1582.6 195.3h0M1584.4 207.4h0M1586.2 218.5h0M1588.1 213.0h0M1589.9 202.0h0M1591.7 192.0h0M1593.6 193.2h0M1595.4 196.6h0M1597.2 198.8h0M1599.1 202.7h0M1600.9 198.5h0M1602.7 196.1h0M1604.6 193.7h0M1606.4 189.7h0M1608.2 186.0h0M1610.1 180.1h0M1611.9 176.3h0M1613.8 169.0h0M1615.6 164.5h0M1617.4 158.7h0M1619.3 154.0h0M1621.1 150.0h0M1622.9 147.0h0M1624.8 143.4h0M1626.6 139.2h0M1628.4 135.1h0M1630.3 131.6h0M1632.1 130.5h0M1633.9 128.3h0M1635.8 126.5h0M1637.6 125.0h0M1639.5 122.2h0M1641.3 124.2h0M1643.1 125.1h0M1645.0 125.4h0M1646.8 127.2h0M1648.6 126.9h0M1650.5 127.8h0M1652.3 130.6h0M1654.1 131.7h0M1656.0 131.5h0M1657.8 132.4h0M1659.6 133.0h0M1661.5 135.3h0M1663.3 134.6h0M1665.2 134.4h0M1667.0 133.8h0M1668.8 132.2h0M1670.7 132.3h0M1672.5 130.2h0M1674.3 130.1h0M1676.2 128.0h0M1678.0 127.7h0M1679.8 127.2h0M1681.7 125.3h0M1683.5 125.6h0M1685.3 124.8h0M1687.2 122.6h0M1689.0 122.1h0M1690.9 120.2h0M1692.7 120.1h0M1694.5 119.5h0M1696.4 117.8h0M1698.2 118.5h0M1700.0 116.0h0M1701.9 115.7h0M1703.7 113.8h0M1705.5 113.5h0M1707.4 113.6h0M1709.2 112.3h0M1711.0 113.3h0M1712.9 113.3h0M1714.7 112.6h0M1716.6 112.1h0M1718.4 113.5h0M1720.2 113.7h0M1722.1 112.5h0M1723.9 112.2h0M1725.7 113.8h0M1727.6 113.4h0M1729.4 112.7h0M1731.2 112.6h0M1733.1 113.3h0M1734.9 114.3h0M1736.7 112.8h0M1738.6 114.0h0M1740.4 113.1h0M1742.2 113.8h0M1744.1 113.6h0M1745.9 113.9h0M1747.8 113.4h0M1749.6 115.4h0M1751.4 116.2h0M1753.3 115.8h0M1755.1 116.1h0M1756.9 117.4h0M1758.8 116.7h0M1760.6 117.1h0M1762.4 118.9h0M1764.3 119.1h0M1766.1 119.9h0M1767.9 119.2h0M1769.8 121.4h0M1771.6 121.6h0M1773.5 121.1h0M1775.3 122.9h0M1777.1 124.2h0M1779.0 123.5h0M1780.8 125.5h0M1782.6 126.3h0M1784.5 126.7h0M1786.3 126.7h0M1788.1 127.3h0M1790.0 127.8h0M1791.8 129.4h0M1793.6 127.9h0M1795.5 127.7h0M1797.3 126.8h0M1799.2 126.6h0M1801.0 125.6h0M1802.8 123.9h0M1804.7 123.1h0M1806.5 122.4h0M1808.3 121.2h0M1810.2 119.7h0M1812.0 118.5h0M1813.8 118.2h0M1815.7 116.6h0M1817.5 114.9h0M1819.3 113.8h0M1821.2 111.8h0M1823.0 111.5h0M1824.9 109.3h0M1826.7 108.0h0M1828.5 108.0h0M1830.4 105.3h0M1832.2 105.2h0M1834.0 104.3h0M1835.9 104.5h0M1837.7 105.9h0M1839.5 106.6h0M1841.4 108.1h0M1843.2 109.0h0M1845.0 108.7h0M1846.9 109.3h0M1848.7 110.5h0M1850.6 110.3h0M1852.4 111.9h0M1854.2 111.8h0M1856.1 112.9h0M1857.9 114.6h0M1859.7 115.3h0M1861.6 115.3h0M1863.4 116.9h0M1865.2 115.9h0M1867.1 116.8h0M1868.9 118.0h0M1870.7 118.3h0M1872.6 119.3h0M1874.4 118.8h0M1876.3 120.7h0M1878.1 120.2h0M1879.9 121.0h0M1881.8 121.4h0M1883.6 123.1h0M1885.4 122.4h0M1887.3 125.1h0M1889.1 124.8h0M1890.9 125.4h0M1892.8 126.5h0M1894.6 127.8h0M1896.4 128.2h0M1898.3 130.2h0M1900.1 131.1h0M1901.9 131.7h0M1903.8 133.2h0M1905.6 133.8h0M1907.5 133.7h0M1909.3 135.0h0M1911.1 136.4h0M1913.0 137.1h0M1914.8 138.3h0M1916.6 139.5h0M1918.5 141.1h0M1920.3 141.7h0M1922.1 143.3h0M1924.0 143.8h0M1435.7 84.6h0M1452.8 98.3h0M1466.5 107.4h0M1487.0 112.0h0M1503.0 116.6h0M1516.6 123.4h0M1519.5 118.8h0M1522.0 134.8h0M1525.8 150.8h0M1537.2 166.7h0M1546.3 182.7h0M1552.0 176.0h0M1560.9 179.0h0M1568.2 168.0h0M1577.3 160.7h0M1581.0 182.6h0M1584.6 209.9h0M1586.5 220.9h0M1591.9 191.7h0M1599.2 202.6h0M1608.3 186.2h0M1619.3 153.4h0M1630.2 131.6h0M1639.3 122.4h0M1652.1 129.7h0M1663.0 135.2h0M1677.6 127.9h0M1690.4 121.4h0M1708.3 112.5h0M1746.6 113.8h0M1772.2 121.4h0M1792.6 129.1h0M1812.8 118.8h0M1833.3 104.0h0M1858.4 114.3h0M1885.8 123.4h0M1904.0 132.5h0M1924.5 143.9h0" fill="none" stroke="#ffff00" stroke-width="8.4" stroke-linecap="round"/><path d="M1435.7 92.6 1452.8 112.0 1464.2 130.2 1475.6 141.6 1489.3 153.0 1493.0 160.0 1496.0 176.0 1500.0 165.0 1507.5 173.6 1514.4 196.4 1516.6 223.7 1519.0 223.7 1521.2 189.5 1523.5 223.7 1525.8 276.2 1529.2 292.1 1534.9 264.8 1541.7 237.4 1548.6 210.0 1555.4 191.8 1560.9 179.0 1568.2 158.9 1579.2 148.0 1586.5 157.1 1590.1 135.2 1604.7 133.4 1619.3 117.0 1628.4 106.0 1639.3 100.6 1652.1 107.9 1666.7 113.3 1681.2 117.0 1695.5 115.0 1721.1 117.6 1741.5 124.0 1759.4 136.8 1777.3 149.5 1792.6 155.9 1803.7 157.6 1821.9 148.5 1835.6 175.8 1849.3 196.4 1858.4 212.3 1872.1 230.6 1881.2 255.6 1888.0 285.3 1892.6 289.8 1897.2 273.9 1901.7 237.4 1913.1 210.0 1924.5 191.8" fill="none" stroke="#0a6cf0" stroke-width="2.4" stroke-linejoin="round"/><path d="M1435.7 91.6h0M1437.5 95.7h0M1439.4 96.1h0M1441.2 98.6h0M1443.0 100.0h0M1444.9 103.1h0M1446.7 105.5h0M1448.5 106.8h0M1450.4 110.1h0M1452.2 110.6h0M1454.1 114.9h0M1455.9 117.5h0M1457.7 119.2h0M1459.6 122.0h0M1461.4 124.9h0M1463.2 128.8h0M1465.1 130.6h0M1466.9 133.8h0M1468.7 134.0h0M1470.6 137.2h0M1472.4 138.2h0M1474.2 139.3h0M1476.1 142.5h0M1477.9 143.7h0M1479.8 144.5h0M1481.6 146.3h0M1483.4 147.4h0M1485.3 148.9h0M1487.1 151.3h0M1488.9 152.8h0M1490.8 155.2h0M1492.6 158.8h0M1494.4 168.7h0M1496.3 174.9h0M1498.1 170.2h0M1499.9 164.5h0M1501.8 166.1h0M1503.6 169.4h0M1505.5 170.7h0M1507.3 173.8h0M1509.1 178.4h0M1511.0 184.8h0M1512.8 191.4h0M1514.6 199.7h0M1516.5 221.7h0M1518.3 224.2h0M1520.1 206.1h0M1522.0 201.6h0M1523.8 231.3h0M1525.6 273.3h0M1527.5 283.6h0M1529.3 290.7h0M1531.2 281.8h0M1533.0 273.6h0M1534.8 265.0h0M1536.7 257.2h0M1538.5 249.6h0M1540.3 242.8h0M1542.2 235.2h0M1544.0 227.3h0M1545.8 221.6h0M1547.7 213.7h0M1549.5 206.9h0M1551.3 202.3h0M1553.2 197.9h0M1555.0 192.0h0M1556.9 188.5h0M1558.7 184.6h0M1560.5 179.2h0M1562.4 175.0h0M1564.2 170.7h0M1566.0 165.3h0M1567.9 159.7h0M1569.7 156.5h0M1571.5 156.5h0M1573.4 154.7h0M1575.2 152.5h0M1577.0 149.6h0M1578.9 148.5h0M1580.7 150.5h0M1582.6 152.2h0M1584.4 155.4h0M1586.2 156.9h0M1588.1 146.6h0M1589.9 136.1h0M1591.7 136.0h0M1593.6 135.7h0M1595.4 135.4h0M1597.2 133.7h0M1599.1 133.6h0M1600.9 134.1h0M1602.7 132.7h0M1604.6 134.2h0M1606.4 131.5h0M1608.2 129.9h0M1610.1 127.6h0M1611.9 125.0h0M1613.8 124.0h0M1615.6 120.7h0M1617.4 119.1h0M1619.3 116.9h0M1621.1 115.3h0M1622.9 113.0h0M1624.8 110.3h0M1626.6 107.8h0M1628.4 105.4h0M1630.3 104.2h0M1632.1 104.0h0M1633.9 102.3h0M1635.8 102.0h0M1637.6 102.4h0M1639.5 101.0h0M1641.3 101.6h0M1643.1 103.7h0M1645.0 104.8h0M1646.8 105.4h0M1648.6 105.5h0M1650.5 107.7h0M1652.3 108.6h0M1654.1 109.0h0M1656.0 109.3h0M1657.8 109.6h0M1659.6 110.3h0M1661.5 111.4h0M1663.3 112.1h0M1665.2 112.6h0M1667.0 114.0h0M1668.8 113.3h0M1670.7 113.6h0M1672.5 114.1h0M1674.3 115.5h0M1676.2 114.8h0M1678.0 115.8h0M1679.8 116.0h0M1681.7 116.0h0M1683.5 117.6h0M1685.3 116.1h0M1687.2 117.0h0M1689.0 115.9h0M1690.9 116.6h0M1692.7 114.7h0M1694.5 114.9h0M1696.4 114.6h0M1698.2 115.8h0M1700.0 114.9h0M1701.9 115.8h0M1703.7 115.2h0M1705.5 115.2h0M1707.4 117.0h0M1709.2 116.9h0M1711.0 117.2h0M1712.9 117.8h0M1714.7 117.7h0M1716.6 116.3h0M1718.4 116.9h0M1720.2 117.3h0M1722.1 118.8h0M1723.9 117.5h0M1725.7 119.5h0M1727.6 118.8h0M1729.4 119.5h0M1731.2 120.3h0M1733.1 121.2h0M1734.9 122.7h0M1736.7 123.2h0M1738.6 122.7h0M1740.4 124.6h0M1742.2 123.7h0M1744.1 125.0h0M1745.9 127.1h0M1747.8 128.2h0M1749.6 130.5h0M1751.4 130.1h0M1753.3 133.2h0M1755.1 133.3h0M1756.9 135.6h0M1758.8 135.4h0M1760.6 138.5h0M1762.4 139.6h0M1764.3 140.4h0M1766.1 142.2h0M1767.9 143.5h0M1769.8 144.9h0M1771.6 145.8h0M1773.5 147.7h0M1775.3 148.2h0M1777.1 149.8h0M1779.0 150.1h0M1780.8 151.9h0M1782.6 150.8h0M1784.5 153.0h0M1786.3 152.8h0M1788.1 154.4h0M1790.0 154.2h0M1791.8 155.3h0M1793.6 156.4h0M1795.5 156.2h0M1797.3 157.0h0M1799.2 157.2h0M1801.0 156.4h0M1802.8 157.9h0M1804.7 156.7h0M1806.5 156.1h0M1808.3 155.3h0M1810.2 154.1h0M1812.0 153.0h0M1813.8 151.9h0M1815.7 151.9h0M1817.5 151.2h0M1819.3 149.2h0M1821.2 149.1h0M1823.0 150.0h0M1824.9 154.7h0M1826.7 157.6h0M1828.5 161.4h0M1830.4 165.7h0M1832.2 168.9h0M1834.0 172.6h0M1835.9 175.8h0M1837.7 179.6h0M1839.5 181.3h0M1841.4 184.8h0M1843.2 186.4h0M1845.0 190.8h0M1846.9 193.7h0M1848.7 194.9h0M1850.6 198.5h0M1852.4 201.0h0M1854.2 204.8h0M1856.1 208.9h0M1857.9 211.6h0M1859.7 213.4h0M1861.6 217.5h0M1863.4 219.1h0M1865.2 220.6h0M1867.1 223.6h0M1868.9 225.6h0M1870.7 229.6h0M1872.6 231.7h0M1874.4 237.0h0M1876.3 242.7h0M1878.1 247.2h0M1879.9 251.2h0M1881.8 257.2h0M1883.6 265.4h0M1885.4 274.4h0M1887.3 282.3h0M1889.1 286.1h0M1890.9 287.8h0M1892.8 288.4h0M1894.6 282.0h0M1896.4 276.8h0M1898.3 265.8h0M1900.1 250.3h0M1901.9 237.2h0M1903.8 232.3h0M1905.6 227.1h0M1907.5 222.6h0M1909.3 219.8h0M1911.1 215.5h0M1913.0 211.3h0M1914.8 206.9h0M1916.6 204.8h0M1918.5 201.9h0M1920.3 198.8h0M1922.1 196.2h0M1924.0 193.5h0M1435.7 92.6h0M1452.8 112.0h0M1464.2 130.2h0M1475.6 141.6h0M1489.3 153.0h0M1493.0 160.0h0M1496.0 176.0h0M1500.0 165.0h0M1507.5 173.6h0M1514.4 196.4h0M1516.6 223.7h0M1519.0 223.7h0M1521.2 189.5h0M1523.5 223.7h0M1525.8 276.2h0M1529.2 292.1h0M1534.9 264.8h0M1541.7 237.4h0M1548.6 210.0h0M1555.4 191.8h0M1560.9 179.0h0M1568.2 158.9h0M1579.2 148.0h0M1586.5 157.1h0M1590.1 135.2h0M1604.7 133.4h0M1619.3 117.0h0M1628.4 106.0h0M1639.3 100.6h0M1652.1 107.9h0M1666.7 113.3h0M1681.2 117.0h0M1695.5 115.0h0M1721.1 117.6h0M1741.5 124.0h0M1759.4 136.8h0M1777.3 149.5h0M1792.6 155.9h0M1803.7 157.6h0M1821.9 148.5h0M1835.6 175.8h0M1849.3 196.4h0M1858.4 212.3h0M1872.1 230.6h0M1881.2 255.6h0M1888.0 285.3h0M1892.6 289.8h0M1897.2 273.9h0M1901.7 237.4h0M1913.1 210.0h0M1924.5 191.8h0" fill="none" stroke="#0a6cf0" stroke-width="8.4" stroke-linecap="round"/></g><text x="386.9" y="513.0" font-size="33.6" text-anchor="middle" font-weight="bold" fill="#000">Frequency (GHz)</text><text x="0" y="0" font-size="34" text-anchor="middle" font-weight="bold" transform="translate(81.0 233.5) rotate(-90)">RL (dB)</text><text x="1032.9" y="513.0" font-size="33.6" text-anchor="middle" font-weight="bold" fill="#000">Frequency (GHz)</text><text x="0" y="0" font-size="34" text-anchor="middle" font-weight="bold" transform="translate(726.3 233.4) rotate(-90)">RL (dB)</text><text x="1680.5" y="509.3" font-size="33.6" text-anchor="middle" font-weight="bold" fill="#000">Frequency (GHz)</text><text x="0" y="0" font-size="34" text-anchor="middle" font-weight="bold" transform="translate(1369.4 239.2) rotate(-90)">RL (dB)</text><text x="586.7" y="68.0" font-size="23" text-anchor="middle" font-weight="bold" fill="#000">S1</text><text x="1232.6" y="69.0" font-size="23" text-anchor="middle" font-weight="bold" fill="#000">S2</text><text x="1881.2" y="69.7" font-size="23" text-anchor="middle" font-weight="bold" fill="#000">S3</text><path d="M308.9 277.8H364.3" stroke="#ffa040" stroke-width="3.4"/><circle cx="336.6" cy="277.8" r="4.2" fill="#ff7f00"/><text x="370.8" y="286.8" font-size="24.6" text-anchor="start" font-weight="bold" fill="#000">1 mm</text><path d="M308.9 308.6H364.3" stroke="#30c060" stroke-width="3.4"/><circle cx="336.6" cy="308.6" r="4.2" fill="#00b140"/><text x="370.8" y="317.6" font-size="24.6" text-anchor="start" font-weight="bold" fill="#000">2 mm</text><path d="M308.9 339.1H364.3" stroke="#a070c8" stroke-width="3.4"/><circle cx="336.6" cy="339.1" r="4.2" fill="#9452bd"/><text x="370.8" y="348.1" font-size="24.6" text-anchor="start" font-weight="bold" fill="#000">3 mm</text><path d="M308.9 369.7H364.3" stroke="#ffff30" stroke-width="3.4"/><circle cx="336.6" cy="369.7" r="4.2" fill="#ffff00"/><text x="370.8" y="378.7" font-size="24.6" text-anchor="start" font-weight="bold" fill="#000">4 mm</text><path d="M308.9 400.2H364.3" stroke="#2a86f4" stroke-width="3.4"/><circle cx="336.6" cy="400.2" r="4.2" fill="#0a6cf0"/><text x="370.8" y="409.2" font-size="24.6" text-anchor="start" font-weight="bold" fill="#000">5 mm</text><path d="M1106.6 270.5H1162.2" stroke="#ffa040" stroke-width="3.4"/><circle cx="1134.4" cy="270.5" r="4.2" fill="#ff7f00"/><text x="1168.7" y="279.5" font-size="24.6" text-anchor="start" font-weight="bold" fill="#000">1 mm</text><path d="M1106.6 301.2H1162.2" stroke="#30c060" stroke-width="3.4"/><circle cx="1134.4" cy="301.2" r="4.2" fill="#00b140"/><text x="1168.7" y="310.2" font-size="24.6" text-anchor="start" font-weight="bold" fill="#000">2 mm</text><path d="M1106.6 331.6H1162.2" stroke="#a070c8" stroke-width="3.4"/><circle cx="1134.4" cy="331.6" r="4.2" fill="#9452bd"/><text x="1168.7" y="340.6" font-size="24.6" text-anchor="start" font-weight="bold" fill="#000">3 mm</text><path d="M1106.6 362.4H1162.2" stroke="#ffff30" stroke-width="3.4"/><circle cx="1134.4" cy="362.4" r="4.2" fill="#ffff00"/><text x="1168.7" y="371.4" font-size="24.6" text-anchor="start" font-weight="bold" fill="#000">4 mm</text><path d="M1106.6 393.2H1162.2" stroke="#2a86f4" stroke-width="3.4"/><circle cx="1134.4" cy="393.2" r="4.2" fill="#0a6cf0"/><text x="1168.7" y="402.2" font-size="24.6" text-anchor="start" font-weight="bold" fill="#000">5 mm</text><path d="M1559.5 288.7H1614.9" stroke="#ffa040" stroke-width="3.4"/><circle cx="1587.2" cy="288.7" r="4.2" fill="#ff7f00"/><text x="1621.4" y="297.7" font-size="24.6" text-anchor="start" font-weight="bold" fill="#000">1 mm</text><path d="M1559.5 319.3H1614.9" stroke="#30c060" stroke-width="3.4"/><circle cx="1587.2" cy="319.3" r="4.2" fill="#00b140"/><text x="1621.4" y="328.3" font-size="24.6" text-anchor="start" font-weight="bold" fill="#000">2.28 mm</text><path d="M1559.5 349.8H1614.9" stroke="#a070c8" stroke-width="3.4"/><circle cx="1587.2" cy="349.8" r="4.2" fill="#9452bd"/><text x="1621.4" y="358.8" font-size="24.6" text-anchor="start" font-weight="bold" fill="#000">3 mm</text><path d="M1559.5 380.1H1614.9" stroke="#ffff30" stroke-width="3.4"/><circle cx="1587.2" cy="380.1" r="4.2" fill="#ffff00"/><text x="1621.4" y="389.1" font-size="24.6" text-anchor="start" font-weight="bold" fill="#000">4 mm</text><path d="M1559.5 410.8H1614.9" stroke="#2a86f4" stroke-width="3.4"/><circle cx="1587.2" cy="410.8" r="4.2" fill="#0a6cf0"/><text x="1621.4" y="419.8" font-size="24.6" text-anchor="start" font-weight="bold" fill="#000">5 mm</text><rect x="138.5" y="596.3" width="409.9" height="394.7" fill="none" stroke="#4d555c" stroke-width="2.0"/><path d="M138.5 991.0v6.5M189.7 991.0v6.5M241.0 991.0v6.5M292.2 991.0v6.5M343.4 991.0v6.5M394.7 991.0v6.5M445.9 991.0v6.5M497.2 991.0v6.5M548.4 991.0v6.5M164.1 991.0v3M215.4 991.0v3M266.6 991.0v3M317.8 991.0v3M369.1 991.0v3M420.3 991.0v3M471.5 991.0v3M522.8 991.0v3M138.5 991.0h-6.5M138.5 912.1h-6.5M138.5 833.1h-6.5M138.5 754.2h-6.5M138.5 675.2h-6.5M138.5 596.3h-6.5M138.5 951.5h-3M138.5 872.6h-3M138.5 793.6h-3M138.5 714.7h-3M138.5 635.8h-3" stroke="#4d555c" stroke-width="2.0" fill="none"/><text x="138.5" y="1024.8" font-size="26.5" text-anchor="middle" font-weight="bold" fill="#000">2</text><text x="189.7" y="1024.8" font-size="26.5" text-anchor="middle" font-weight="bold" fill="#000">4</text><text x="241.0" y="1024.8" font-size="26.5" text-anchor="middle" font-weight="bold" fill="#000">6</text><text x="292.2" y="1024.8" font-size="26.5" text-anchor="middle" font-weight="bold" fill="#000">8</text><text x="343.4" y="1024.8" font-size="26.5" text-anchor="middle" font-weight="bold" fill="#000">10</text><text x="394.7" y="1024.8" font-size="26.5" text-anchor="middle" font-weight="bold" fill="#000">12</text><text x="445.9" y="1024.8" font-size="26.5" text-anchor="middle" font-weight="bold" fill="#000">14</text><text x="497.2" y="1024.8" font-size="26.5" text-anchor="middle" font-weight="bold" fill="#000">16</text><text x="548.4" y="1024.8" font-size="26.5" text-anchor="middle" font-weight="bold" fill="#000">18</text><text x="125.3" y="1000.5" font-size="26.5" text-anchor="end" font-weight="bold" fill="#000">0</text><text x="125.3" y="921.6" font-size="26.5" text-anchor="end" font-weight="bold" fill="#000">1</text><text x="125.3" y="842.6" font-size="26.5" text-anchor="end" font-weight="bold" fill="#000">2</text><text x="125.3" y="763.7" font-size="26.5" text-anchor="end" font-weight="bold" fill="#000">3</text><text x="125.3" y="684.7" font-size="26.5" text-anchor="end" font-weight="bold" fill="#000">4</text><text x="125.3" y="605.8" font-size="26.5" text-anchor="end" font-weight="bold" fill="#000">5</text><rect x="789.9" y="596.4" width="411.0" height="394.6" fill="none" stroke="#4d555c" stroke-width="2.0"/><path d="M789.9 991.0v6.5M841.3 991.0v6.5M892.6 991.0v6.5M944.0 991.0v6.5M995.4 991.0v6.5M1046.8 991.0v6.5M1098.2 991.0v6.5M1149.5 991.0v6.5M1200.9 991.0v6.5M815.6 991.0v3M867.0 991.0v3M918.3 991.0v3M969.7 991.0v3M1021.1 991.0v3M1072.5 991.0v3M1123.8 991.0v3M1175.2 991.0v3M789.9 991.0h-6.5M789.9 912.1h-6.5M789.9 833.2h-6.5M789.9 754.2h-6.5M789.9 675.3h-6.5M789.9 596.4h-6.5M789.9 951.5h-3M789.9 872.6h-3M789.9 793.7h-3M789.9 714.8h-3M789.9 635.9h-3" stroke="#4d555c" stroke-width="2.0" fill="none"/><text x="789.9" y="1024.8" font-size="26.5" text-anchor="middle" font-weight="bold" fill="#000">2</text><text x="841.3" y="1024.8" font-size="26.5" text-anchor="middle" font-weight="bold" fill="#000">4</text><text x="892.6" y="1024.8" font-size="26.5" text-anchor="middle" font-weight="bold" fill="#000">6</text><text x="944.0" y="1024.8" font-size="26.5" text-anchor="middle" font-weight="bold" fill="#000">8</text><text x="995.4" y="1024.8" font-size="26.5" text-anchor="middle" font-weight="bold" fill="#000">10</text><text x="1046.8" y="1024.8" font-size="26.5" text-anchor="middle" font-weight="bold" fill="#000">12</text><text x="1098.2" y="1024.8" font-size="26.5" text-anchor="middle" font-weight="bold" fill="#000">14</text><text x="1149.5" y="1024.8" font-size="26.5" text-anchor="middle" font-weight="bold" fill="#000">16</text><text x="1200.9" y="1024.8" font-size="26.5" text-anchor="middle" font-weight="bold" fill="#000">18</text><text x="776.7" y="1000.5" font-size="26.5" text-anchor="end" font-weight="bold" fill="#000">0</text><text x="776.7" y="921.6" font-size="26.5" text-anchor="end" font-weight="bold" fill="#000">1</text><text x="776.7" y="842.7" font-size="26.5" text-anchor="end" font-weight="bold" fill="#000">2</text><text x="776.7" y="763.7" font-size="26.5" text-anchor="end" font-weight="bold" fill="#000">3</text><text x="776.7" y="684.8" font-size="26.5" text-anchor="end" font-weight="bold" fill="#000">4</text><text x="776.7" y="605.9" font-size="26.5" text-anchor="end" font-weight="bold" fill="#000">5</text><rect x="1438.8" y="598.7" width="410.9" height="394.1" fill="none" stroke="#4d555c" stroke-width="2.0"/><path d="M1438.8 992.8v6.5M1490.2 992.8v6.5M1541.5 992.8v6.5M1592.9 992.8v6.5M1644.2 992.8v6.5M1695.6 992.8v6.5M1747.0 992.8v6.5M1798.3 992.8v6.5M1849.7 992.8v6.5M1464.5 992.8v3M1515.8 992.8v3M1567.2 992.8v3M1618.6 992.8v3M1669.9 992.8v3M1721.3 992.8v3M1772.7 992.8v3M1824.0 992.8v3M1438.8 992.8h-6.5M1438.8 914.0h-6.5M1438.8 835.2h-6.5M1438.8 756.3h-6.5M1438.8 677.5h-6.5M1438.8 598.7h-6.5M1438.8 953.4h-3M1438.8 874.6h-3M1438.8 795.8h-3M1438.8 716.9h-3M1438.8 638.1h-3" stroke="#4d555c" stroke-width="2.0" fill="none"/><text x="1438.8" y="1026.6" font-size="26.5" text-anchor="middle" font-weight="bold" fill="#000">2</text><text x="1490.2" y="1026.6" font-size="26.5" text-anchor="middle" font-weight="bold" fill="#000">4</text><text x="1541.5" y="1026.6" font-size="26.5" text-anchor="middle" font-weight="bold" fill="#000">6</text><text x="1592.9" y="1026.6" font-size="26.5" text-anchor="middle" font-weight="bold" fill="#000">8</text><text x="1644.2" y="1026.6" font-size="26.5" text-anchor="middle" font-weight="bold" fill="#000">10</text><text x="1695.6" y="1026.6" font-size="26.5" text-anchor="middle" font-weight="bold" fill="#000">12</text><text x="1747.0" y="1026.6" font-size="26.5" text-anchor="middle" font-weight="bold" fill="#000">14</text><text x="1798.3" y="1026.6" font-size="26.5" text-anchor="middle" font-weight="bold" fill="#000">16</text><text x="1849.7" y="1026.6" font-size="26.5" text-anchor="middle" font-weight="bold" fill="#000">18</text><text x="1425.6" y="1002.3" font-size="26.5" text-anchor="end" font-weight="bold" fill="#000">0</text><text x="1425.6" y="923.5" font-size="26.5" text-anchor="end" font-weight="bold" fill="#000">1</text><text x="1425.6" y="844.7" font-size="26.5" text-anchor="end" font-weight="bold" fill="#000">2</text><text x="1425.6" y="765.8" font-size="26.5" text-anchor="end" font-weight="bold" fill="#000">3</text><text x="1425.6" y="687.0" font-size="26.5" text-anchor="end" font-weight="bold" fill="#000">4</text><text x="1425.6" y="608.2" font-size="26.5" text-anchor="end" font-weight="bold" fill="#000">5</text><text x="343.4" y="1065.6" font-size="33.6" text-anchor="middle" font-weight="bold" fill="#000">Frequency (GHz)</text><text x="0" y="0" font-size="33.3" text-anchor="middle" font-weight="bold" transform="translate(89.7 794.2) rotate(-90)">Thickness (mm)</text><text x="995.4" y="1065.6" font-size="33.6" text-anchor="middle" font-weight="bold" fill="#000">Frequency (GHz)</text><text x="0" y="0" font-size="33.3" text-anchor="middle" font-weight="bold" transform="translate(747.6 789.6) rotate(-90)">Thickness (mm)</text><text x="1644.2" y="1065.6" font-size="33.6" text-anchor="middle" font-weight="bold" fill="#000">Frequency (GHz)</text><text x="0" y="0" font-size="33.3" text-anchor="middle" font-weight="bold" transform="translate(1398.9 792.8) rotate(-90)">Thickness (mm)</text><path d="M635.6 671.5h6.5M635.6 786.5h6.5M635.6 901.5h6.5" stroke="#777" stroke-width="1.6"/><g clip-path="url(#cld)" fill="#111"><text x="649.3" y="678.3" font-size="19" font-weight="bold">0.0</text><text x="649.3" y="793.3" font-size="19" font-weight="bold">-2.0</text><text x="649.3" y="908.3" font-size="19" font-weight="bold">-4.0</text></g><path d="M1287.6 637.8h6.5M1287.6 753.2h6.5M1287.6 867.1h6.5M1287.6 980.2h6.5" stroke="#777" stroke-width="1.6"/><g clip-path="url(#cle)" fill="#111"><text x="1301.0" y="644.6" font-size="19" font-weight="bold">0.0</text><text x="1301.0" y="760.0" font-size="19" font-weight="bold">-2.0</text><text x="1301.0" y="873.9" font-size="19" font-weight="bold">-4.0</text><text x="1301.0" y="987.0" font-size="19" font-weight="bold">-6.0</text></g><path d="M1936.2 609.1h6.5M1936.2 702.9h6.5M1936.2 796.7h6.5M1936.2 890.5h6.5M1936.2 984.3h6.5" stroke="#777" stroke-width="1.6"/><g fill="#111"><text x="1951.0" y="615.9" font-size="19" font-weight="bold">0.0</text><text x="1951.0" y="709.7" font-size="19" font-weight="bold">-5.0</text><text x="1951.0" y="803.5" font-size="19" font-weight="bold">-10.0</text><text x="1951.0" y="897.3" font-size="19" font-weight="bold">-15.0</text><text x="1951.0" y="991.1" font-size="19" font-weight="bold">-20.0</text></g><g clip-path="url(#cpf)"><path d="M1802.2 868.8 1795.4 860.8 1793.5 856.8 1792.8 852.9 1793.8 849.0 1795.5 847.0 1798.9 845.0 1803.5 843.4 1809.2 849.0 1816.1 856.8 1819.0 860.8 1820.3 864.7 1820.1 866.7 1818.9 868.7 1815.0 869.9 1809.9 870.4 1803.5 870.0 1802.2 868.8M1752.1 857.6 1747.0 854.2 1738.0 852.0 1721.3 851.1 1716.2 850.3 1704.6 845.6 1693.0 841.9 1676.4 834.3 1667.4 827.2 1655.8 820.2 1644.2 807.6 1637.5 797.7 1632.0 787.9 1629.8 782.0 1627.8 774.1 1627.6 770.1 1628.4 768.2 1631.4 766.5 1636.5 765.2 1641.7 765.1 1644.2 766.0 1657.1 773.4 1664.8 779.7 1668.6 781.7 1673.8 782.2 1680.2 781.4 1691.8 782.1 1695.6 782.9 1702.0 785.5 1704.6 786.0 1707.2 785.8 1713.6 784.0 1718.7 783.2 1721.3 783.2 1730.3 784.4 1736.7 786.2 1741.8 790.4 1747.0 793.2 1752.1 798.6 1756.0 805.3 1758.9 811.5 1764.0 825.3 1766.2 837.1 1766.1 847.0 1765.0 851.6 1763.2 854.9 1761.1 857.0 1758.5 858.2 1756.0 858.4 1752.1 857.6M1582.6 747.4 1580.0 744.5 1577.5 740.1 1573.1 724.8 1569.1 707.1 1568.7 701.2 1569.8 699.6 1572.3 701.7 1577.5 708.0 1584.2 726.8 1585.9 734.7 1586.2 740.6 1585.2 745.7 1583.9 747.2 1582.6 747.4M1849.7 654.4 1838.1 645.8 1826.6 639.2 1822.7 633.5 1802.6 598.7M1524.3 598.7 1527.4 609.2 1537.7 639.8 1539.0 642.6 1544.0 649.9 1545.6 653.9 1546.0 657.8 1545.5 661.8 1544.1 664.5 1542.8 665.5 1537.7 665.7 1531.3 659.0 1527.4 653.6 1515.8 626.6 1511.7 612.5 1508.5 598.7M1825.4 598.7 1837.6 610.5 1849.7 619.1" fill="none" stroke="#3d4852" stroke-width="1.7"/><path d="M1518.4 595.7h0M1521.0 603.8h0M1523.5 612.4h0M1526.1 620.7h0M1528.7 628.0h0M1531.3 634.4h0M1533.8 640.7h0M1536.4 646.6h0M1539.0 651.4h0M1541.5 653.6h0M1544.1 655.7h0M1546.7 657.8h0M1549.2 660.1h0M1551.8 662.3h0M1554.4 666.3h0M1556.9 672.1h0M1559.5 677.7h0M1562.1 684.2h0M1564.6 691.2h0M1567.2 697.9h0M1569.8 704.5h0M1572.3 711.0h0M1574.9 717.2h0M1577.5 723.3h0M1580.0 729.3h0M1582.6 735.1h0M1585.2 739.1h0M1587.8 743.0h0M1590.3 746.9h0M1592.9 750.6h0M1595.5 754.3h0M1598.0 757.5h0M1600.6 759.2h0M1603.2 760.9h0M1605.7 762.6h0M1608.3 764.2h0M1610.9 765.8h0M1613.4 767.1h0M1616.0 768.1h0M1618.6 769.1h0M1621.1 770.1h0M1623.7 771.0h0M1626.3 771.9h0M1628.8 774.9h0M1631.4 778.2h0M1634.0 781.5h0M1636.5 784.8h0M1639.1 787.9h0M1641.7 791.0h0M1644.2 794.4h0M1646.8 797.6h0M1649.4 800.8h0M1652.0 804.0h0M1654.5 807.0h0M1657.1 809.6h0M1659.7 811.3h0M1662.2 812.8h0M1664.8 814.4h0M1667.4 815.9h0M1669.9 817.4h0M1672.5 818.9h0M1675.1 820.3h0M1677.6 821.1h0M1680.2 821.9h0M1682.8 822.6h0M1685.3 823.4h0M1687.9 824.2h0M1690.5 824.9h0M1693.0 825.6h0M1695.6 826.3h0M1698.2 827.0h0M1700.7 827.6h0M1703.3 828.3h0M1705.9 828.9h0M1708.5 829.6h0M1711.0 830.2h0M1713.6 830.8h0M1716.2 831.3h0M1718.7 831.5h0M1721.3 831.7h0M1723.9 831.8h0M1726.4 832.0h0M1729.0 832.2h0M1731.6 832.4h0M1734.1 832.6h0M1736.7 832.7h0M1739.3 833.6h0M1741.8 834.7h0M1744.4 835.9h0M1747.0 837.0h0M1749.5 838.1h0M1752.1 839.1h0M1754.7 840.2h0M1757.2 841.2h0M1759.8 842.3h0M1762.4 843.1h0M1765.0 844.0h0M1767.5 844.8h0M1770.1 845.7h0M1772.7 846.5h0M1775.2 847.3h0M1777.8 848.1h0M1780.4 848.9h0M1782.9 849.7h0M1785.5 850.7h0M1788.1 851.6h0M1790.6 852.6h0M1793.2 853.5h0M1795.8 854.4h0M1798.3 855.3h0M1800.9 856.2h0M1803.5 857.1h0M1806.0 858.3h0M1808.6 859.6h0M1811.2 860.9h0M1813.7 862.2h0M1816.3 863.5h0M1818.9 864.8h0M1821.5 866.0h0M1824.0 867.3h0M1826.6 868.4h0M1829.2 869.1h0M1831.7 869.7h0M1834.3 870.4h0M1836.9 871.0h0M1839.4 871.6h0M1842.0 872.3h0M1844.6 872.9h0M1847.1 873.5h0M1849.7 874.1h0" stroke="#ff4545" stroke-width="4" stroke-linecap="round"/><path d="M1813.7 601.1h0M1815.3 603.5h0M1816.8 605.7h0M1818.4 608.0h0M1819.9 610.3h0M1821.5 612.5h0M1823.0 614.8h0M1824.5 617.0h0M1826.1 619.2h0M1827.6 620.4h0M1829.2 621.6h0M1830.7 622.8h0M1832.2 623.9h0M1833.8 625.1h0M1835.3 626.2h0M1836.9 627.4h0M1838.4 628.5h0M1839.9 629.7h0M1841.5 630.8h0M1843.0 631.9h0M1844.6 633.0h0M1846.1 634.1h0M1847.6 635.2h0M1849.2 636.3h0" stroke="#ff8c00" stroke-width="4.4" stroke-linecap="round"/><path d="M1656.4 813.1H1754.2" stroke="#f2e600" stroke-width="3.6"/></g><text x="1657.0" y="916.0" font-size="26.5" text-anchor="start" font-weight="bold" fill="#000">2.28 mm</text><text x="1657.0" y="948.4" font-size="26.5" text-anchor="start" font-weight="bold" fill="#000">3.85 GHz</text><text x="1856.5" y="645.8" font-size="23" text-anchor="start" font-weight="bold" fill="#000">n=3</text><text x="1857.5" y="883.5" font-size="23" text-anchor="start" font-weight="bold" fill="#000">n=1</text><g fill="#1a1a1a"><text x="1546.5" y="630" font-size="17" font-style="italic" style="font-family:'Liberation Serif',serif;font-weight:bold">t<tspan font-size="11" dy="2">m</tspan></text><text x="1565.5" y="628" font-size="16" style="font-family:'Liberation Serif',serif;font-weight:bold">=</text><text x="1580.5" y="620" font-size="15" font-style="italic" style="font-family:'Liberation Serif',serif;font-weight:bold">n&#955;</text><path d="M1580 624.5H1600" stroke="#5a7d88" stroke-width="1.2"/><text x="1586.5" y="638.5" font-size="15" style="font-family:'Liberation Serif',serif;font-weight:bold">4</text><text x="1604.5" y="628" font-size="16" style="font-family:'Liberation Serif',serif;font-weight:bold">=</text><text x="1652.5" y="620" font-size="15" font-style="italic" style="font-family:'Liberation Serif',serif;font-weight:bold">nc</text><path d="M1619 625.2H1703" stroke="#5a7d88" stroke-width="1.6"/><text x="1619.5" y="644" font-size="15" style="font-family:'Liberation Serif',serif;font-weight:bold">4<tspan font-style="italic" dx="2">f</tspan><tspan font-size="9" dy="2" font-style="italic">m</tspan><tspan dy="-2" font-size="13">&#8730;</tspan><tspan font-weight="normal">|</tspan><tspan font-style="italic">&#949;</tspan><tspan font-size="9" dy="2" font-style="italic">r</tspan><tspan dy="-2" font-weight="normal">||</tspan><tspan font-style="italic">&#956;</tspan><tspan font-size="9" dy="2" font-style="italic">r</tspan><tspan dy="-2" font-weight="normal">|</tspan></text><text x="1721.5" y="629" font-size="16" letter-spacing="0.9" style="font-family:'Liberation Serif',serif;font-weight:bold">(<tspan font-style="italic">n</tspan> = 1,3,5...)</text></g><text y="69.2" font-size="58" fill="#2b2321" stroke="#fff" stroke-width="1.0" style="font-weight:normal"><tspan x="19.5">(</tspan><tspan x="41.6">a</tspan><tspan x="79.4">)</tspan></text><text y="69.2" font-size="58" fill="#2b2321" stroke="#fff" stroke-width="1.0" style="font-weight:normal"><tspan x="678.3">(</tspan><tspan x="700.5">b</tspan><tspan x="737.5">)</tspan></text><text y="69.2" font-size="58" fill="#2b2321" stroke="#fff" stroke-width="1.0" style="font-weight:normal"><tspan x="1324.9">(</tspan><tspan x="1347.4">c</tspan><tspan x="1381.6">)</tspan></text><text y="623.0" font-size="58" fill="#2b2321" stroke="#fff" stroke-width="1.0" style="font-weight:normal"><tspan x="19.2">(</tspan><tspan x="41.3">d</tspan><tspan x="79.7">)</tspan></text><text y="622.5" font-size="58" fill="#2b2321" stroke="#fff" stroke-width="1.0" style="font-weight:normal"><tspan x="678.3">(</tspan><tspan x="700.8">e</tspan><tspan x="737.5">)</tspan></text><text y="622.8" font-size="58" fill="#2b2321" stroke="#fff" stroke-width="1.0" style="font-weight:normal"><tspan x="1329.4">(</tspan><tspan x="1352.6">f</tspan><tspan x="1375.6">)</tspan></text></svg></div></body></html>
